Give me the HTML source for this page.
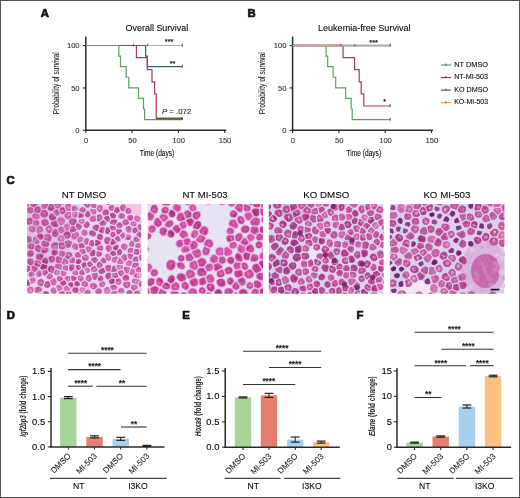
<!DOCTYPE html>
<html><head><meta charset="utf-8"><title>Figure</title>
<style>
html,body{margin:0;padding:0;background:#fff;}
body{width:520px;height:498px;overflow:hidden;}
svg{display:block;}
svg text{font-family:'Liberation Sans', Arial, sans-serif;stroke:#222;stroke-width:0.1px;}
</style></head><body>
<svg width="520" height="498" viewBox="0 0 520 498">
<defs><filter id="soft" x="-5%" y="-5%" width="110%" height="110%"><feGaussianBlur stdDeviation="0.6"/></filter><filter id="big" x="-50%" y="-50%" width="200%" height="200%"><feGaussianBlur stdDeviation="6"/></filter></defs>
<rect x="0" y="0" width="520" height="498" fill="#fff"/>
<text x="40.80" y="16.60" font-size="11.3" text-anchor="start" font-weight="bold" fill="#111" style="stroke:#111;stroke-width:0.7px">A</text>
<text x="247.60" y="16.60" font-size="11.3" text-anchor="start" font-weight="bold" fill="#111" style="stroke:#111;stroke-width:0.7px">B</text>
<text x="6.60" y="184.00" font-size="11.3" text-anchor="start" font-weight="bold" fill="#111" style="stroke:#111;stroke-width:0.7px">C</text>
<text x="6.80" y="318.80" font-size="11.3" text-anchor="start" font-weight="bold" fill="#111" style="stroke:#111;stroke-width:0.7px">D</text>
<text x="182.20" y="319.20" font-size="11.3" text-anchor="start" font-weight="bold" fill="#111" style="stroke:#111;stroke-width:0.7px">E</text>
<text x="356.50" y="319.20" font-size="11.3" text-anchor="start" font-weight="bold" fill="#111" style="stroke:#111;stroke-width:0.7px">F</text>
<line x1="85.80" y1="36.50" x2="85.80" y2="130.90" stroke="#2b2b2b" stroke-width="1.5"/>
<line x1="85.10" y1="130.30" x2="226.20" y2="130.30" stroke="#2b2b2b" stroke-width="1.5"/>
<line x1="82.80" y1="130.30" x2="85.80" y2="130.30" stroke="#2b2b2b" stroke-width="1.1"/>
<text x="79.60" y="132.90" font-size="7.6" text-anchor="end" fill="#333">0</text>
<line x1="82.80" y1="87.95" x2="85.80" y2="87.95" stroke="#2b2b2b" stroke-width="1.1"/>
<text x="79.60" y="90.55" font-size="7.6" text-anchor="end" fill="#333">50</text>
<line x1="82.80" y1="45.60" x2="85.80" y2="45.60" stroke="#2b2b2b" stroke-width="1.1"/>
<text x="79.60" y="48.20" font-size="7.6" text-anchor="end" fill="#333">100</text>
<line x1="85.80" y1="130.30" x2="85.80" y2="132.90" stroke="#2b2b2b" stroke-width="1.1"/>
<text x="86.10" y="143.20" font-size="7.6" text-anchor="middle" fill="#333">0</text>
<line x1="132.10" y1="130.30" x2="132.10" y2="132.90" stroke="#2b2b2b" stroke-width="1.1"/>
<text x="132.40" y="143.20" font-size="7.6" text-anchor="middle" fill="#333">50</text>
<line x1="178.40" y1="130.30" x2="178.40" y2="132.90" stroke="#2b2b2b" stroke-width="1.1"/>
<text x="178.70" y="143.20" font-size="7.6" text-anchor="middle" fill="#333">100</text>
<line x1="224.70" y1="130.30" x2="224.70" y2="132.90" stroke="#2b2b2b" stroke-width="1.1"/>
<text x="225.00" y="143.20" font-size="7.6" text-anchor="middle" fill="#333">150</text>
<text x="157.00" y="156.30" font-size="9.3" text-anchor="middle" textLength="34.6" lengthAdjust="spacingAndGlyphs">Time (days)</text>
<text x="0" y="0" font-size="9.3" text-anchor="middle" textLength="62" lengthAdjust="spacingAndGlyphs" fill="#222" transform="translate(58.50,83.3) rotate(-90)">Probability of survival</text>
<text x="125.60" y="31.10" font-size="9" text-anchor="start" textLength="62.599999999999994" lengthAdjust="spacingAndGlyphs">Overall Survival</text>
<line x1="292.60" y1="36.50" x2="292.60" y2="130.90" stroke="#2b2b2b" stroke-width="1.5"/>
<line x1="291.90" y1="130.30" x2="433.00" y2="130.30" stroke="#2b2b2b" stroke-width="1.5"/>
<line x1="289.60" y1="130.30" x2="292.60" y2="130.30" stroke="#2b2b2b" stroke-width="1.1"/>
<text x="286.40" y="132.90" font-size="7.6" text-anchor="end" fill="#333">0</text>
<line x1="289.60" y1="87.95" x2="292.60" y2="87.95" stroke="#2b2b2b" stroke-width="1.1"/>
<text x="286.40" y="90.55" font-size="7.6" text-anchor="end" fill="#333">50</text>
<line x1="289.60" y1="45.60" x2="292.60" y2="45.60" stroke="#2b2b2b" stroke-width="1.1"/>
<text x="286.40" y="48.20" font-size="7.6" text-anchor="end" fill="#333">100</text>
<line x1="292.60" y1="130.30" x2="292.60" y2="132.90" stroke="#2b2b2b" stroke-width="1.1"/>
<text x="292.90" y="143.20" font-size="7.6" text-anchor="middle" fill="#333">0</text>
<line x1="338.90" y1="130.30" x2="338.90" y2="132.90" stroke="#2b2b2b" stroke-width="1.1"/>
<text x="339.20" y="143.20" font-size="7.6" text-anchor="middle" fill="#333">50</text>
<line x1="385.20" y1="130.30" x2="385.20" y2="132.90" stroke="#2b2b2b" stroke-width="1.1"/>
<text x="385.50" y="143.20" font-size="7.6" text-anchor="middle" fill="#333">100</text>
<line x1="431.50" y1="130.30" x2="431.50" y2="132.90" stroke="#2b2b2b" stroke-width="1.1"/>
<text x="431.80" y="143.20" font-size="7.6" text-anchor="middle" fill="#333">150</text>
<text x="363.80" y="156.30" font-size="9.3" text-anchor="middle" textLength="34.6" lengthAdjust="spacingAndGlyphs">Time (days)</text>
<text x="0" y="0" font-size="9.3" text-anchor="middle" textLength="62" lengthAdjust="spacingAndGlyphs" fill="#222" transform="translate(265.30,83.3) rotate(-90)">Probability of survival</text>
<text x="318.00" y="30.70" font-size="9" text-anchor="start" textLength="92.5" lengthAdjust="spacingAndGlyphs">Leukemia-free Survival</text>
<path d="M86,45.50 H182.3" stroke="#e6a24a" stroke-width="1.2" fill="none" stroke-linejoin="miter"/>
<line x1="147.60" y1="43.90" x2="147.60" y2="46.46" stroke="#6a5020" stroke-width="0.9"/>
<line x1="182.30" y1="43.70" x2="182.30" y2="46.58" stroke="#333" stroke-width="0.9"/>
<path d="M136.4,45.50 H145.6 V56.09 H147.3 V66.67 H182.3" stroke="#3c5f82" stroke-width="1.2" fill="none" stroke-linejoin="miter"/>
<line x1="182.30" y1="64.87" x2="182.30" y2="67.75" stroke="#333" stroke-width="0.9"/>
<path d="M118.8,45.50 H136.4 V57.61 H147.3 V69.72 H152.0 V81.84 H154.6 V93.86 H156.2 V118.09 H182.3" stroke="#b2365a" stroke-width="1.2" fill="none" stroke-linejoin="miter"/>
<line x1="133.50" y1="43.90" x2="133.50" y2="46.46" stroke="#b2365a" stroke-width="0.9"/>
<path d="M86,45.50 H118.8 V56.09 H120.5 V66.67 H126.2 V77.26 H128.8 V87.85 H138.5 V98.44 H143.5 V109.02 H144.6 V119.61 H182.3" stroke="#5c9e62" stroke-width="1.2" fill="none" stroke-linejoin="miter"/>
<line x1="156.20" y1="118.85" x2="182.30" y2="118.85" stroke="#6b5a3a" stroke-width="1.6"/>
<line x1="182.30" y1="117.05" x2="182.30" y2="119.93" stroke="#333" stroke-width="0.9"/>
<text x="169.10" y="44.10" font-size="7.4" text-anchor="middle" font-weight="bold" fill="#1a1a1a">***</text>
<text x="172.60" y="65.69" font-size="7.2" text-anchor="middle" font-weight="bold" fill="#1a1a1a">**</text>
<text x="162.0" y="113.6" font-size="7.6" fill="#222" textLength="29.3" lengthAdjust="spacingAndGlyphs"><tspan font-style="italic">P</tspan> = .072</text>
<path d="M292.6,45.50 H390.2" stroke="#3c5f82" stroke-width="1.3" fill="none" stroke-linejoin="miter"/>
<path d="M343.1,45.50 V57.61 H354.6 V69.72 H359.2 V81.84 H361.2 V93.86 H363.8 V105.98 H390.2" stroke="#b2365a" stroke-width="1.2" fill="none" stroke-linejoin="miter"/>
<path d="M326.1,45.50 V56.09 H327.7 V66.67 H333.1 V77.26 H335.7 V87.85 H345.7 V98.44 H351.2 V109.02 H352.2 V119.61 H390.2" stroke="#5c9e62" stroke-width="1.2" fill="none" stroke-linejoin="miter"/>
<path d="M292.6,45.50 H343.1" stroke="#b2365a" stroke-width="1.3" fill="none" stroke-linejoin="miter"/>
<path d="M292.6,45.70 H390.2" stroke="#e6a24a" stroke-width="1.2" fill="none" stroke-linejoin="miter"/>
<line x1="340.80" y1="43.90" x2="340.80" y2="46.46" stroke="#553" stroke-width="0.9"/>
<line x1="354.80" y1="43.90" x2="354.80" y2="46.46" stroke="#553" stroke-width="0.9"/>
<line x1="390.20" y1="43.70" x2="390.20" y2="46.58" stroke="#333" stroke-width="0.9"/>
<line x1="390.20" y1="104.18" x2="390.20" y2="107.06" stroke="#333" stroke-width="0.9"/>
<line x1="390.20" y1="117.81" x2="390.20" y2="120.69" stroke="#333" stroke-width="0.9"/>
<text x="373.60" y="44.60" font-size="7.4" text-anchor="middle" font-weight="bold" fill="#1a1a1a">***</text>
<text x="384.70" y="104.19" font-size="7.2" text-anchor="middle" font-weight="bold" fill="#1a1a1a">*</text>
<line x1="440.80" y1="65.00" x2="451.10" y2="65.00" stroke="#5c9e62" stroke-width="1.2"/>
<line x1="445.80" y1="63.60" x2="445.80" y2="65.50" stroke="#333" stroke-width="0.9"/>
<text x="454.20" y="66.60" font-size="7.4" text-anchor="start" textLength="33.9" lengthAdjust="spacingAndGlyphs">NT DMSO</text>
<line x1="440.80" y1="77.55" x2="451.10" y2="77.55" stroke="#b2365a" stroke-width="1.2"/>
<line x1="445.80" y1="76.15" x2="445.80" y2="78.05" stroke="#333" stroke-width="0.9"/>
<text x="454.20" y="79.15" font-size="7.4" text-anchor="start" textLength="33.9" lengthAdjust="spacingAndGlyphs">NT-MI-503</text>
<line x1="440.80" y1="90.10" x2="451.10" y2="90.10" stroke="#3c5f82" stroke-width="1.2"/>
<line x1="445.80" y1="88.70" x2="445.80" y2="90.60" stroke="#333" stroke-width="0.9"/>
<text x="454.20" y="91.70" font-size="7.4" text-anchor="start" textLength="33.9" lengthAdjust="spacingAndGlyphs">KO DMSO</text>
<line x1="440.80" y1="102.65" x2="451.10" y2="102.65" stroke="#e6a24a" stroke-width="1.2"/>
<line x1="445.80" y1="101.25" x2="445.80" y2="103.15" stroke="#333" stroke-width="0.9"/>
<text x="454.20" y="104.25" font-size="7.4" text-anchor="start" textLength="33.9" lengthAdjust="spacingAndGlyphs">KO-MI-503</text>
<rect x="60.10" y="397.61" width="16.4" height="49.29" fill="#a8d49a"/>
<rect x="86.30" y="436.84" width="16.4" height="10.06" fill="#e47f6e"/>
<rect x="112.50" y="438.85" width="16.4" height="8.05" fill="#a9cfee"/>
<line x1="68.30" y1="396.60" x2="68.30" y2="398.61" stroke="#222" stroke-width="1.0"/>
<line x1="63.90" y1="396.60" x2="72.70" y2="396.60" stroke="#222" stroke-width="1.2"/>
<line x1="63.90" y1="398.61" x2="72.70" y2="398.61" stroke="#222" stroke-width="1.2"/>
<line x1="94.50" y1="435.83" x2="94.50" y2="437.85" stroke="#222" stroke-width="1.0"/>
<line x1="90.10" y1="435.83" x2="98.90" y2="435.83" stroke="#222" stroke-width="1.2"/>
<line x1="90.10" y1="437.85" x2="98.90" y2="437.85" stroke="#222" stroke-width="1.2"/>
<line x1="120.70" y1="437.34" x2="120.70" y2="440.36" stroke="#222" stroke-width="1.0"/>
<line x1="116.30" y1="437.34" x2="125.10" y2="437.34" stroke="#222" stroke-width="1.2"/>
<line x1="116.30" y1="440.36" x2="125.10" y2="440.36" stroke="#222" stroke-width="1.2"/>
<line x1="146.90" y1="445.39" x2="146.90" y2="446.40" stroke="#222" stroke-width="1.0"/>
<line x1="142.50" y1="445.39" x2="151.30" y2="445.39" stroke="#222" stroke-width="1.2"/>
<line x1="142.50" y1="446.40" x2="151.30" y2="446.40" stroke="#222" stroke-width="1.2"/>
<line x1="51.00" y1="368.00" x2="51.00" y2="447.60" stroke="#2b2b2b" stroke-width="1.5"/>
<line x1="50.30" y1="446.90" x2="164.50" y2="446.90" stroke="#2b2b2b" stroke-width="1.5"/>
<line x1="47.80" y1="446.90" x2="51.00" y2="446.90" stroke="#2b2b2b" stroke-width="1.1"/>
<text x="45.20" y="449.80" font-size="8.2" text-anchor="end" textLength="13.11" lengthAdjust="spacingAndGlyphs">0.0</text>
<line x1="47.80" y1="421.75" x2="51.00" y2="421.75" stroke="#2b2b2b" stroke-width="1.1"/>
<text x="45.20" y="424.65" font-size="8.2" text-anchor="end" textLength="13.11" lengthAdjust="spacingAndGlyphs">0.5</text>
<line x1="47.80" y1="396.60" x2="51.00" y2="396.60" stroke="#2b2b2b" stroke-width="1.1"/>
<text x="45.20" y="399.50" font-size="8.2" text-anchor="end" textLength="13.11" lengthAdjust="spacingAndGlyphs">1.0</text>
<line x1="47.80" y1="371.45" x2="51.00" y2="371.45" stroke="#2b2b2b" stroke-width="1.1"/>
<text x="45.20" y="374.35" font-size="8.2" text-anchor="end" textLength="13.11" lengthAdjust="spacingAndGlyphs">1.5</text>
<line x1="68.30" y1="446.90" x2="68.30" y2="449.60" stroke="#2b2b2b" stroke-width="1.1"/>
<line x1="94.50" y1="446.90" x2="94.50" y2="449.60" stroke="#2b2b2b" stroke-width="1.1"/>
<line x1="120.70" y1="446.90" x2="120.70" y2="449.60" stroke="#2b2b2b" stroke-width="1.1"/>
<line x1="146.90" y1="446.90" x2="146.90" y2="449.60" stroke="#2b2b2b" stroke-width="1.1"/>
<text x="0" y="0" font-size="8.2" text-anchor="end" fill="#222" transform="translate(71.30,456.50) rotate(-45)">DMSO</text>
<text x="0" y="0" font-size="8.2" text-anchor="end" fill="#222" transform="translate(97.50,456.50) rotate(-45)">MI-503</text>
<text x="0" y="0" font-size="8.2" text-anchor="end" fill="#222" transform="translate(123.70,456.50) rotate(-45)">DMSO</text>
<text x="0" y="0" font-size="8.2" text-anchor="end" fill="#222" transform="translate(149.90,456.50) rotate(-45)">MI-503</text>
<line x1="50.00" y1="478.40" x2="107.00" y2="478.40" stroke="#444" stroke-width="1.1"/>
<line x1="110.00" y1="478.40" x2="166.80" y2="478.40" stroke="#444" stroke-width="1.1"/>
<text x="78.80" y="489.20" font-size="8.6" text-anchor="middle">NT</text>
<text x="138.00" y="489.20" font-size="8.6" text-anchor="middle">I3KO</text>
<text x="0" y="0" font-size="8.6" font-weight="bold" text-anchor="middle" textLength="61" lengthAdjust="spacingAndGlyphs" fill="#222" style="stroke-width:0" transform="translate(26.20,406.2) rotate(-90)"><tspan font-style="italic">Igf2bp3</tspan> (fold change)</text>
<line x1="68.10" y1="353.20" x2="146.60" y2="353.20" stroke="#333" stroke-width="1.1"/>
<text x="107.40" y="353.01" font-size="8.2" text-anchor="middle" font-weight="bold" fill="#1a1a1a">****</text>
<line x1="68.10" y1="369.60" x2="120.50" y2="369.60" stroke="#333" stroke-width="1.1"/>
<text x="94.70" y="369.41" font-size="8.2" text-anchor="middle" font-weight="bold" fill="#1a1a1a">****</text>
<line x1="68.10" y1="386.20" x2="92.80" y2="386.20" stroke="#333" stroke-width="1.1"/>
<text x="80.80" y="386.01" font-size="8.2" text-anchor="middle" font-weight="bold" fill="#1a1a1a">****</text>
<line x1="96.30" y1="386.20" x2="146.60" y2="386.20" stroke="#333" stroke-width="1.1"/>
<text x="121.90" y="386.01" font-size="8.2" text-anchor="middle" font-weight="bold" fill="#1a1a1a">**</text>
<line x1="121.00" y1="427.00" x2="146.60" y2="427.00" stroke="#333" stroke-width="1.1"/>
<text x="133.90" y="426.81" font-size="8.2" text-anchor="middle" font-weight="bold" fill="#1a1a1a">**</text>
<rect x="234.80" y="397.42" width="16.4" height="49.78" fill="#a8d49a"/>
<rect x="260.80" y="395.38" width="16.4" height="51.82" fill="#e47f6e"/>
<rect x="287.00" y="439.58" width="16.4" height="7.62" fill="#a9cfee"/>
<rect x="313.00" y="442.12" width="16.4" height="5.08" fill="#fbc17f"/>
<line x1="243.00" y1="396.91" x2="243.00" y2="397.92" stroke="#222" stroke-width="1.0"/>
<line x1="238.60" y1="396.91" x2="247.40" y2="396.91" stroke="#222" stroke-width="1.2"/>
<line x1="238.60" y1="397.92" x2="247.40" y2="397.92" stroke="#222" stroke-width="1.2"/>
<line x1="269.00" y1="393.35" x2="269.00" y2="397.42" stroke="#222" stroke-width="1.0"/>
<line x1="264.60" y1="393.35" x2="273.40" y2="393.35" stroke="#222" stroke-width="1.2"/>
<line x1="264.60" y1="397.42" x2="273.40" y2="397.42" stroke="#222" stroke-width="1.2"/>
<line x1="295.20" y1="437.04" x2="295.20" y2="442.12" stroke="#222" stroke-width="1.0"/>
<line x1="290.80" y1="437.04" x2="299.60" y2="437.04" stroke="#222" stroke-width="1.2"/>
<line x1="290.80" y1="442.12" x2="299.60" y2="442.12" stroke="#222" stroke-width="1.2"/>
<line x1="321.20" y1="441.10" x2="321.20" y2="443.14" stroke="#222" stroke-width="1.0"/>
<line x1="316.80" y1="441.10" x2="325.60" y2="441.10" stroke="#222" stroke-width="1.2"/>
<line x1="316.80" y1="443.14" x2="325.60" y2="443.14" stroke="#222" stroke-width="1.2"/>
<line x1="225.20" y1="368.00" x2="225.20" y2="447.90" stroke="#2b2b2b" stroke-width="1.5"/>
<line x1="224.50" y1="447.20" x2="339.80" y2="447.20" stroke="#2b2b2b" stroke-width="1.5"/>
<line x1="222.00" y1="447.20" x2="225.20" y2="447.20" stroke="#2b2b2b" stroke-width="1.1"/>
<text x="219.40" y="450.10" font-size="8.2" text-anchor="end" textLength="13.11" lengthAdjust="spacingAndGlyphs">0.0</text>
<line x1="222.00" y1="421.80" x2="225.20" y2="421.80" stroke="#2b2b2b" stroke-width="1.1"/>
<text x="219.40" y="424.70" font-size="8.2" text-anchor="end" textLength="13.11" lengthAdjust="spacingAndGlyphs">0.5</text>
<line x1="222.00" y1="396.40" x2="225.20" y2="396.40" stroke="#2b2b2b" stroke-width="1.1"/>
<text x="219.40" y="399.30" font-size="8.2" text-anchor="end" textLength="13.11" lengthAdjust="spacingAndGlyphs">1.0</text>
<line x1="222.00" y1="371.00" x2="225.20" y2="371.00" stroke="#2b2b2b" stroke-width="1.1"/>
<text x="219.40" y="373.90" font-size="8.2" text-anchor="end" textLength="13.11" lengthAdjust="spacingAndGlyphs">1.5</text>
<line x1="243.00" y1="447.20" x2="243.00" y2="449.90" stroke="#2b2b2b" stroke-width="1.1"/>
<line x1="269.00" y1="447.20" x2="269.00" y2="449.90" stroke="#2b2b2b" stroke-width="1.1"/>
<line x1="295.20" y1="447.20" x2="295.20" y2="449.90" stroke="#2b2b2b" stroke-width="1.1"/>
<line x1="321.20" y1="447.20" x2="321.20" y2="449.90" stroke="#2b2b2b" stroke-width="1.1"/>
<text x="0" y="0" font-size="8.2" text-anchor="end" fill="#222" transform="translate(246.00,456.80) rotate(-45)">DMSO</text>
<text x="0" y="0" font-size="8.2" text-anchor="end" fill="#222" transform="translate(272.00,456.80) rotate(-45)">MI-503</text>
<text x="0" y="0" font-size="8.2" text-anchor="end" fill="#222" transform="translate(298.20,456.80) rotate(-45)">DMSO</text>
<text x="0" y="0" font-size="8.2" text-anchor="end" fill="#222" transform="translate(324.20,456.80) rotate(-45)">MI-503</text>
<line x1="224.50" y1="478.40" x2="280.70" y2="478.40" stroke="#444" stroke-width="1.1"/>
<line x1="284.10" y1="478.40" x2="340.30" y2="478.40" stroke="#444" stroke-width="1.1"/>
<text x="253.30" y="489.20" font-size="8.6" text-anchor="middle">NT</text>
<text x="311.80" y="489.20" font-size="8.6" text-anchor="middle">I3KO</text>
<text x="0" y="0" font-size="8.6" font-weight="bold" text-anchor="middle" textLength="60.3" lengthAdjust="spacingAndGlyphs" fill="#222" style="stroke-width:0" transform="translate(200.80,406.2) rotate(-90)"><tspan font-style="italic">Hoxa9</tspan> (fold change)</text>
<line x1="243.00" y1="351.30" x2="321.20" y2="351.30" stroke="#333" stroke-width="1.1"/>
<text x="282.00" y="351.11" font-size="8.2" text-anchor="middle" font-weight="bold" fill="#1a1a1a">****</text>
<line x1="269.00" y1="367.50" x2="321.20" y2="367.50" stroke="#333" stroke-width="1.1"/>
<text x="295.00" y="367.31" font-size="8.2" text-anchor="middle" font-weight="bold" fill="#1a1a1a">****</text>
<line x1="243.00" y1="384.50" x2="295.20" y2="384.50" stroke="#333" stroke-width="1.1"/>
<text x="268.80" y="384.31" font-size="8.2" text-anchor="middle" font-weight="bold" fill="#1a1a1a">****</text>
<rect x="406.40" y="442.62" width="16.4" height="4.58" fill="#a8d49a"/>
<rect x="432.50" y="436.52" width="16.4" height="10.68" fill="#e47f6e"/>
<rect x="458.70" y="406.50" width="16.4" height="40.70" fill="#a9cfee"/>
<rect x="484.90" y="375.98" width="16.4" height="71.22" fill="#fbc17f"/>
<line x1="414.60" y1="442.11" x2="414.60" y2="443.13" stroke="#222" stroke-width="1.0"/>
<line x1="410.20" y1="442.11" x2="419.00" y2="442.11" stroke="#222" stroke-width="1.2"/>
<line x1="410.20" y1="443.13" x2="419.00" y2="443.13" stroke="#222" stroke-width="1.2"/>
<line x1="440.70" y1="435.91" x2="440.70" y2="437.13" stroke="#222" stroke-width="1.0"/>
<line x1="436.30" y1="435.91" x2="445.10" y2="435.91" stroke="#222" stroke-width="1.2"/>
<line x1="436.30" y1="437.13" x2="445.10" y2="437.13" stroke="#222" stroke-width="1.2"/>
<line x1="466.90" y1="404.98" x2="466.90" y2="408.03" stroke="#222" stroke-width="1.0"/>
<line x1="462.50" y1="404.98" x2="471.30" y2="404.98" stroke="#222" stroke-width="1.2"/>
<line x1="462.50" y1="408.03" x2="471.30" y2="408.03" stroke="#222" stroke-width="1.2"/>
<line x1="493.10" y1="375.22" x2="493.10" y2="376.75" stroke="#222" stroke-width="1.0"/>
<line x1="488.70" y1="375.22" x2="497.50" y2="375.22" stroke="#222" stroke-width="1.2"/>
<line x1="488.70" y1="376.75" x2="497.50" y2="376.75" stroke="#222" stroke-width="1.2"/>
<line x1="397.00" y1="368.00" x2="397.00" y2="447.90" stroke="#2b2b2b" stroke-width="1.5"/>
<line x1="396.30" y1="447.20" x2="511.20" y2="447.20" stroke="#2b2b2b" stroke-width="1.5"/>
<line x1="393.80" y1="447.20" x2="397.00" y2="447.20" stroke="#2b2b2b" stroke-width="1.1"/>
<text x="392.10" y="450.10" font-size="8.2" text-anchor="end" textLength="5.24" lengthAdjust="spacingAndGlyphs">0</text>
<line x1="393.80" y1="421.76" x2="397.00" y2="421.76" stroke="#2b2b2b" stroke-width="1.1"/>
<text x="392.10" y="424.66" font-size="8.2" text-anchor="end" textLength="5.24" lengthAdjust="spacingAndGlyphs">5</text>
<line x1="393.80" y1="396.33" x2="397.00" y2="396.33" stroke="#2b2b2b" stroke-width="1.1"/>
<text x="392.10" y="399.23" font-size="8.2" text-anchor="end" textLength="10.49" lengthAdjust="spacingAndGlyphs">10</text>
<line x1="393.80" y1="370.89" x2="397.00" y2="370.89" stroke="#2b2b2b" stroke-width="1.1"/>
<text x="392.10" y="373.79" font-size="8.2" text-anchor="end" textLength="10.49" lengthAdjust="spacingAndGlyphs">15</text>
<line x1="414.60" y1="447.20" x2="414.60" y2="449.90" stroke="#2b2b2b" stroke-width="1.1"/>
<line x1="440.70" y1="447.20" x2="440.70" y2="449.90" stroke="#2b2b2b" stroke-width="1.1"/>
<line x1="466.90" y1="447.20" x2="466.90" y2="449.90" stroke="#2b2b2b" stroke-width="1.1"/>
<line x1="493.10" y1="447.20" x2="493.10" y2="449.90" stroke="#2b2b2b" stroke-width="1.1"/>
<text x="0" y="0" font-size="8.2" text-anchor="end" fill="#222" transform="translate(417.60,456.80) rotate(-45)">DMSO</text>
<text x="0" y="0" font-size="8.2" text-anchor="end" fill="#222" transform="translate(443.70,456.80) rotate(-45)">MI-503</text>
<text x="0" y="0" font-size="8.2" text-anchor="end" fill="#222" transform="translate(469.90,456.80) rotate(-45)">DMSO</text>
<text x="0" y="0" font-size="8.2" text-anchor="end" fill="#222" transform="translate(496.10,456.80) rotate(-45)">MI-503</text>
<line x1="397.40" y1="478.40" x2="453.60" y2="478.40" stroke="#444" stroke-width="1.1"/>
<line x1="455.90" y1="478.40" x2="512.70" y2="478.40" stroke="#444" stroke-width="1.1"/>
<text x="424.80" y="489.20" font-size="8.6" text-anchor="middle">NT</text>
<text x="484.70" y="489.20" font-size="8.6" text-anchor="middle">I3KO</text>
<text x="0" y="0" font-size="8.6" font-weight="bold" text-anchor="middle" textLength="59.7" lengthAdjust="spacingAndGlyphs" fill="#222" style="stroke-width:0" transform="translate(374.80,406.2) rotate(-90)"><tspan font-style="italic">Elane</tspan> (fold change)</text>
<line x1="414.60" y1="332.30" x2="493.60" y2="332.30" stroke="#333" stroke-width="1.1"/>
<text x="454.40" y="332.11" font-size="8.2" text-anchor="middle" font-weight="bold" fill="#1a1a1a">****</text>
<line x1="441.50" y1="349.20" x2="493.60" y2="349.20" stroke="#333" stroke-width="1.1"/>
<text x="468.30" y="349.01" font-size="8.2" text-anchor="middle" font-weight="bold" fill="#1a1a1a">****</text>
<line x1="414.60" y1="365.70" x2="466.20" y2="365.70" stroke="#333" stroke-width="1.1"/>
<text x="440.80" y="365.51" font-size="8.2" text-anchor="middle" font-weight="bold" fill="#1a1a1a">****</text>
<line x1="470.10" y1="365.70" x2="493.60" y2="365.70" stroke="#333" stroke-width="1.1"/>
<text x="482.30" y="365.51" font-size="8.2" text-anchor="middle" font-weight="bold" fill="#1a1a1a">****</text>
<line x1="414.60" y1="397.50" x2="441.40" y2="397.50" stroke="#333" stroke-width="1.1"/>
<text x="428.30" y="397.31" font-size="8.2" text-anchor="middle" font-weight="bold" fill="#1a1a1a">**</text>
<text x="84.00" y="197.90" font-size="8.6" text-anchor="middle" textLength="44.4" lengthAdjust="spacingAndGlyphs">NT DMSO</text>
<text x="205.00" y="197.90" font-size="8.6" text-anchor="middle" textLength="45.2" lengthAdjust="spacingAndGlyphs">NT MI-503</text>
<text x="326.30" y="197.90" font-size="8.6" text-anchor="middle" textLength="45.9" lengthAdjust="spacingAndGlyphs">KO DMSO</text>
<text x="446.90" y="197.90" font-size="8.6" text-anchor="middle" textLength="47.0" lengthAdjust="spacingAndGlyphs">KO MI-503</text>
<clipPath id="clip1"><rect x="27" y="204.0" width="114.30000000000001" height="89.69999999999999"/></clipPath>
<g clip-path="url(#clip1)">
<rect x="27" y="204.0" width="114.30000000000001" height="89.69999999999999" fill="#e9d6ee"/>
<g filter="url(#soft)">
<ellipse cx="141" cy="204" rx="18" ry="11" fill="#f3c6e2"/>
<ellipse cx="45" cy="232" rx="30" ry="38" fill="#dcc0e4" filter="url(#big)"/>
<path d="M79.6,257.6 80.9,256.5 81.2,255.2 78.8,252.0 77.4,251.9 76.2,252.4 74.8,254.5 75.4,256.8 76.7,257.8Z" fill="#cf5aa2"/>
<circle cx="77.1" cy="254.8" r="1.0" fill="#da70b3" opacity="0.7"/>
<circle cx="76.9" cy="255.2" r="0.9" fill="#db72b4" opacity="0.7"/>
<circle cx="76.9" cy="256.0" r="1.0" fill="#bb4b96" opacity="0.7"/>
<path d="M135.6,247.6 138.8,248.4 140.2,247.6 140.9,245.4 139.8,243.1 139.0,242.7 135.7,243.7 135.1,246.7Z" fill="#cc6dad"/>
<circle cx="138.8" cy="245.7" r="1.0" fill="#b85ea2" opacity="0.7"/>
<circle cx="136.9" cy="246.1" r="0.9" fill="#ac559a" opacity="0.7"/>
<circle cx="138.6" cy="245.3" r="1.0" fill="#d57fbb" opacity="0.7"/>
<path d="M81.6,257.8 83.0,260.6 86.1,261.2 88.1,260.0 88.9,257.5 88.1,255.4 86.1,254.3 82.6,255.7Z" fill="#d762ab"/>
<ellipse cx="84.9" cy="257.2" rx="1.3" ry="1.2" fill="#eeadd9" opacity="0.85"/>
<circle cx="84.9" cy="257.6" r="0.9" fill="#b34796" opacity="0.7"/>
<circle cx="85.1" cy="256.9" r="1.4" fill="#e883c4" opacity="0.7"/>
<circle cx="84.0" cy="258.9" r="1.2" fill="#b54897" opacity="0.7"/>
<path d="M41.0,252.0 41.2,252.6 43.1,253.4 46.4,253.0 48.4,250.8 48.4,248.7 47.7,247.9 42.4,247.2Z" fill="#c954a5"/>
<ellipse cx="44.2" cy="250.0" rx="1.3" ry="1.7" fill="#e1a1ce" opacity="0.85"/>
<circle cx="44.0" cy="251.2" r="1.2" fill="#a83b92" opacity="0.7"/>
<circle cx="44.8" cy="251.1" r="1.0" fill="#a63990" opacity="0.7"/>
<circle cx="44.2" cy="251.2" r="1.4" fill="#a63a90" opacity="0.7"/>
<path d="M99.2,275.8 97.6,279.0 98.3,280.7 99.5,281.4 103.2,280.2 103.6,278.4 102.8,276.6 101.3,275.6Z" fill="#c160a3"/>
<circle cx="99.9" cy="278.8" r="1.1" fill="#9d458e" opacity="0.7"/>
<circle cx="99.3" cy="277.5" r="1.1" fill="#d180bb" opacity="0.7"/>
<circle cx="99.2" cy="278.6" r="1.3" fill="#ad5198" opacity="0.7"/>
<path d="M35.2,231.9 35.9,227.6 35.7,227.1 32.1,225.4 29.4,226.8 28.6,228.9 29.8,231.3 32.1,232.4Z" fill="#cd68ad"/>
<ellipse cx="32.5" cy="228.3" rx="1.3" ry="1.5" fill="#e2a2cc" opacity="0.85"/>
<circle cx="32.3" cy="228.8" r="0.9" fill="#d77cbc" opacity="0.7"/>
<circle cx="32.4" cy="228.7" r="1.4" fill="#de8ac6" opacity="0.7"/>
<circle cx="33.3" cy="228.3" r="1.4" fill="#bb5aa2" opacity="0.7"/>
<path d="M31.4,283.4 32.1,283.7 33.5,283.3 35.4,281.5 35.8,279.5 34.7,277.6 30.4,278.1 29.5,279.2Z" fill="#d76ab0"/>
<circle cx="32.2" cy="280.9" r="1.2" fill="#e88bc9" opacity="0.7"/>
<circle cx="33.4" cy="281.7" r="0.9" fill="#e88cc9" opacity="0.7"/>
<circle cx="32.2" cy="280.1" r="1.1" fill="#bc55a0" opacity="0.7"/>
<path d="M110.9,204.0 111.5,203.1 111.4,201.6 109.0,199.3 107.1,199.6 105.8,203.1 106.3,204.2 108.4,205.3Z" fill="#cd5aa8"/>
<ellipse cx="108.9" cy="202.8" rx="1.1" ry="1.3" fill="#edacd5" opacity="0.85"/>
<circle cx="107.5" cy="202.5" r="0.9" fill="#b74a9b" opacity="0.7"/>
<circle cx="108.1" cy="203.0" r="1.0" fill="#b94b9c" opacity="0.7"/>
<circle cx="109.9" cy="202.9" r="0.8" fill="#ab4094" opacity="0.7"/>
<path d="M142.0,294.4 141.5,295.7 144.3,299.7 146.7,299.5 148.7,297.5 148.9,295.2 147.4,293.2Z" fill="#d362ab"/>
<circle cx="143.8" cy="296.0" r="0.9" fill="#e280c2" opacity="0.7"/>
<circle cx="144.7" cy="295.6" r="1.4" fill="#bc519e" opacity="0.7"/>
<circle cx="144.8" cy="294.8" r="1.3" fill="#bb509d" opacity="0.7"/>
<path d="M103.3,263.6 105.4,263.1 106.6,261.2 103.9,257.5 101.7,258.2 100.6,260.3 100.7,261.3Z" fill="#cd57a6"/>
<circle cx="104.5" cy="260.4" r="1.1" fill="#d970b9" opacity="0.7"/>
<circle cx="104.6" cy="260.0" r="0.8" fill="#bc4a9c" opacity="0.7"/>
<circle cx="104.4" cy="260.0" r="0.8" fill="#b54598" opacity="0.7"/>
<path d="M40.3,203.4 45.0,200.0 44.6,198.1 43.7,196.8 40.6,195.5 39.1,195.8 37.8,196.6 36.7,198.7 36.9,200.3 38.2,202.3Z" fill="#cf5ca8"/>
<circle cx="41.1" cy="199.1" r="1.3" fill="#bd4e9d" opacity="0.7"/>
<circle cx="39.9" cy="199.5" r="1.3" fill="#ba4c9c" opacity="0.7"/>
<circle cx="40.9" cy="199.0" r="1.2" fill="#ba4c9c" opacity="0.7"/>
<path d="M84.2,205.5 86.9,207.8 89.2,207.6 90.6,203.1 87.1,201.2 84.1,203.0Z" fill="#c4579f"/>
<ellipse cx="87.5" cy="204.0" rx="1.5" ry="1.4" fill="#e2a1cb" opacity="0.85"/>
<circle cx="86.5" cy="204.6" r="0.9" fill="#d272b4" opacity="0.7"/>
<circle cx="89.1" cy="204.5" r="1.4" fill="#a43f8d" opacity="0.7"/>
<circle cx="89.1" cy="204.3" r="1.3" fill="#d375b6" opacity="0.7"/>
<path d="M48.4,224.6 48.8,222.3 47.2,219.8 44.3,218.9 41.9,220.2 41.3,222.9 42.9,225.4 45.5,226.3Z" fill="#be519b"/>
<circle cx="46.2" cy="222.7" r="1.3" fill="#cc6caf" opacity="0.7"/>
<circle cx="46.4" cy="223.2" r="1.1" fill="#c968ac" opacity="0.7"/>
<circle cx="44.8" cy="221.9" r="1.3" fill="#c763a9" opacity="0.7"/>
<path d="M24.5,241.4 23.0,241.8 22.1,242.7 21.5,245.6 22.8,248.2 25.3,249.1 27.2,247.9 27.7,244.0Z" fill="#b24490"/>
<ellipse cx="24.6" cy="245.1" rx="1.2" ry="1.7" fill="#e1a1cc" opacity="0.85"/>
<circle cx="23.9" cy="244.4" r="1.0" fill="#9f3685" opacity="0.7"/>
<circle cx="25.6" cy="244.3" r="1.5" fill="#c263a7" opacity="0.7"/>
<circle cx="24.0" cy="244.7" r="1.2" fill="#c263a7" opacity="0.7"/>
<path d="M74.5,285.7 78.2,286.6 79.0,286.2 80.0,284.6 79.3,282.2 76.9,280.7 74.3,282.2Z" fill="#b5589c"/>
<circle cx="77.9" cy="284.1" r="0.8" fill="#a0488f" opacity="0.7"/>
<circle cx="77.2" cy="284.0" r="1.1" fill="#98428b" opacity="0.7"/>
<circle cx="75.6" cy="283.3" r="0.8" fill="#99438c" opacity="0.7"/>
<path d="M81.3,264.5 82.5,267.9 83.4,268.4 86.6,266.2 86.0,262.7 85.6,262.2 82.9,262.2Z" fill="#bd5e9f"/>
<circle cx="84.5" cy="264.2" r="1.3" fill="#9e478d" opacity="0.7"/>
<circle cx="82.9" cy="266.1" r="0.9" fill="#a2498f" opacity="0.7"/>
<circle cx="84.5" cy="264.2" r="1.4" fill="#a54c91" opacity="0.7"/>
<path d="M77.5,229.7 78.6,230.0 80.2,229.4 81.2,228.2 81.8,226.2 81.5,225.3 78.0,223.1 77.3,223.2 76.4,224.3 75.8,226.4Z" fill="#c567a6"/>
<circle cx="78.9" cy="226.6" r="0.8" fill="#d688bf" opacity="0.7"/>
<circle cx="77.6" cy="225.4" r="1.3" fill="#a65094" opacity="0.7"/>
<circle cx="79.9" cy="227.0" r="1.4" fill="#b1589b" opacity="0.7"/>
<path d="M123.7,268.9 125.5,273.1 127.8,273.6 128.4,273.3 130.1,267.9 125.2,266.6 124.2,267.5Z" fill="#ce5aa7"/>
<ellipse cx="127.5" cy="269.4" rx="1.2" ry="1.2" fill="#ecacd9" opacity="0.85"/>
<circle cx="126.2" cy="271.2" r="1.2" fill="#da72b9" opacity="0.7"/>
<circle cx="127.3" cy="268.7" r="0.9" fill="#df7dc1" opacity="0.7"/>
<circle cx="126.7" cy="269.3" r="1.0" fill="#bc4d9d" opacity="0.7"/>
<path d="M59.4,224.9 62.4,225.1 64.9,222.4 64.8,219.8 63.9,218.4 62.5,217.5 61.0,217.1 59.4,217.4 57.2,219.2Z" fill="#cf6aac"/>
<ellipse cx="60.4" cy="221.8" rx="1.2" ry="1.4" fill="#e8a7d0" opacity="0.85"/>
<circle cx="60.9" cy="221.6" r="1.4" fill="#bb5ba0" opacity="0.7"/>
<circle cx="61.6" cy="221.9" r="1.0" fill="#de89c3" opacity="0.7"/>
<circle cx="62.3" cy="222.8" r="1.2" fill="#d97dba" opacity="0.7"/>
<path d="M55.5,207.9 58.8,208.4 61.6,205.6 57.8,201.2 54.0,203.8Z" fill="#bf5ea5"/>
<ellipse cx="57.7" cy="205.2" rx="1.2" ry="1.6" fill="#e09fca" opacity="0.85"/>
<circle cx="57.8" cy="204.0" r="1.2" fill="#a14793" opacity="0.7"/>
<circle cx="56.4" cy="205.7" r="1.2" fill="#cc78b9" opacity="0.7"/>
<circle cx="56.0" cy="205.6" r="0.9" fill="#cc78b8" opacity="0.7"/>
<path d="M117.2,241.8 119.3,241.6 121.0,239.9 118.6,235.9 117.4,235.5 114.5,238.3Z" fill="#cf5ea6"/>
<circle cx="116.7" cy="238.8" r="0.9" fill="#b74c98" opacity="0.7"/>
<circle cx="118.6" cy="238.7" r="1.1" fill="#b14794" opacity="0.7"/>
<circle cx="117.2" cy="238.6" r="1.4" fill="#be519c" opacity="0.7"/>
<path d="M125.0,238.7 125.3,239.4 126.6,240.1 129.3,240.1 131.2,238.5 131.3,236.2 129.4,234.5 126.7,234.5Z" fill="#d366af"/>
<circle cx="128.1" cy="238.3" r="1.1" fill="#b24d9c" opacity="0.7"/>
<circle cx="127.4" cy="235.9" r="1.3" fill="#dd79bd" opacity="0.7"/>
<circle cx="128.7" cy="238.4" r="1.2" fill="#b04c9b" opacity="0.7"/>
<path d="M138.7,284.3 139.2,285.8 140.9,287.2 144.9,286.2 145.4,285.4 143.0,281.1 142.0,280.7 140.2,281.1Z" fill="#c64c9c"/>
<circle cx="142.9" cy="283.9" r="1.0" fill="#d367b0" opacity="0.7"/>
<circle cx="141.7" cy="283.1" r="1.2" fill="#d468b1" opacity="0.7"/>
<circle cx="142.1" cy="283.9" r="0.8" fill="#d161ac" opacity="0.7"/>
<path d="M20.4,215.5 18.2,216.3 17.0,218.4 17.3,220.6 19.2,222.7 24.5,221.1 25.1,219.3 24.9,218.0 23.8,216.6Z" fill="#c0529a"/>
<ellipse cx="20.6" cy="219.5" rx="1.6" ry="1.4" fill="#e6a5d1" opacity="0.85"/>
<circle cx="21.6" cy="220.7" r="0.9" fill="#cd6cad" opacity="0.7"/>
<circle cx="20.8" cy="218.5" r="0.9" fill="#9d3886" opacity="0.7"/>
<circle cx="21.9" cy="219.4" r="1.5" fill="#a9418d" opacity="0.7"/>
<path d="M141.3,239.5 142.4,240.8 147.8,240.6 148.6,239.5 148.6,238.1 148.0,236.7 146.7,235.5 143.7,235.4 141.3,238.6Z" fill="#c95ba2"/>
<circle cx="143.8" cy="238.6" r="1.1" fill="#d574b5" opacity="0.7"/>
<circle cx="145.4" cy="239.7" r="1.2" fill="#db7ebc" opacity="0.7"/>
<circle cx="144.1" cy="239.5" r="1.1" fill="#d778b8" opacity="0.7"/>
<path d="M27.6,264.0 30.8,265.6 32.8,264.7 33.7,261.3 33.0,259.6 30.7,258.2 28.1,259.0 27.2,260.2Z" fill="#b95a9f"/>
<circle cx="30.8" cy="261.5" r="1.3" fill="#a74d95" opacity="0.7"/>
<circle cx="31.5" cy="260.6" r="1.3" fill="#c675b3" opacity="0.7"/>
<circle cx="29.6" cy="261.8" r="0.9" fill="#a04790" opacity="0.7"/>
<path d="M117.0,227.4 120.6,228.1 121.8,227.3 122.7,225.3 121.4,222.8 119.4,222.3 117.7,223.0 116.3,225.3Z" fill="#c859a4"/>
<ellipse cx="119.1" cy="226.0" rx="1.1" ry="1.2" fill="#ecaad3" opacity="0.85"/>
<circle cx="119.5" cy="226.8" r="1.1" fill="#ae4595" opacity="0.7"/>
<circle cx="119.6" cy="224.5" r="1.0" fill="#af4696" opacity="0.7"/>
<circle cx="118.9" cy="224.7" r="0.9" fill="#b14897" opacity="0.7"/>
<path d="M145.9,276.7 146.1,274.8 142.8,271.9 142.1,271.9 140.5,273.2 140.6,277.5 141.0,278.0 143.2,278.6Z" fill="#d26cb3"/>
<ellipse cx="142.7" cy="275.5" rx="1.1" ry="1.3" fill="#e7a8d3" opacity="0.85"/>
<circle cx="142.4" cy="273.7" r="1.3" fill="#db7ec1" opacity="0.7"/>
<circle cx="142.4" cy="274.6" r="1.0" fill="#bb5ba6" opacity="0.7"/>
<circle cx="141.7" cy="274.8" r="1.3" fill="#b758a3" opacity="0.7"/>
<path d="M32.7,224.0 33.0,224.7 36.7,226.4 39.3,224.8 39.5,223.0 38.2,220.4 34.2,220.2 33.7,220.6Z" fill="#ca5ca8"/>
<circle cx="37.2" cy="222.6" r="1.1" fill="#b84f9e" opacity="0.7"/>
<circle cx="35.6" cy="224.3" r="1.5" fill="#d777bc" opacity="0.7"/>
<circle cx="37.3" cy="222.2" r="1.1" fill="#b24a9a" opacity="0.7"/>
<path d="M33.5,207.4 37.8,204.8 37.8,203.4 36.2,200.9 34.7,200.2 30.3,203.0 30.6,205.8Z" fill="#c5599d"/>
<circle cx="33.1" cy="204.1" r="1.1" fill="#d170ae" opacity="0.7"/>
<circle cx="34.5" cy="205.5" r="1.3" fill="#b24b92" opacity="0.7"/>
<circle cx="33.1" cy="205.6" r="1.1" fill="#af4990" opacity="0.7"/>
<path d="M124.5,217.9 125.2,215.6 123.6,213.5 121.0,213.0 119.7,213.5 118.4,214.8 118.2,216.7 119.7,218.6 122.3,219.1Z" fill="#cc64a4"/>
<circle cx="120.6" cy="215.8" r="1.1" fill="#da80b9" opacity="0.7"/>
<circle cx="121.1" cy="216.5" r="1.1" fill="#bb579a" opacity="0.7"/>
<circle cx="121.1" cy="216.3" r="1.2" fill="#b65497" opacity="0.7"/>
<path d="M88.8,244.6 89.1,245.1 92.1,246.7 93.3,246.3 94.1,245.3 93.6,240.4 91.9,240.0 90.2,240.6Z" fill="#ca4f9a"/>
<circle cx="92.7" cy="244.3" r="1.4" fill="#b94290" opacity="0.7"/>
<circle cx="90.3" cy="242.6" r="1.2" fill="#d565ab" opacity="0.7"/>
<circle cx="90.7" cy="243.7" r="0.9" fill="#da6eb1" opacity="0.7"/>
<path d="M42.6,270.7 42.2,271.3 43.1,275.0 44.2,275.8 45.4,275.8 48.0,272.8 47.0,270.1 46.5,269.8Z" fill="#c25ba1"/>
<circle cx="44.7" cy="271.7" r="0.9" fill="#ce73b3" opacity="0.7"/>
<circle cx="44.6" cy="273.1" r="1.0" fill="#d17ab8" opacity="0.7"/>
<circle cx="46.3" cy="272.8" r="1.0" fill="#a3448f" opacity="0.7"/>
<path d="M34.7,261.0 34.3,264.7 38.6,267.1 39.3,266.7 41.2,263.0 40.5,261.5 36.2,259.9Z" fill="#c15198"/>
<ellipse cx="38.1" cy="263.6" rx="1.4" ry="1.6" fill="#eba9d4" opacity="0.85"/>
<circle cx="36.1" cy="263.5" r="1.3" fill="#a03885" opacity="0.7"/>
<circle cx="36.3" cy="262.5" r="1.4" fill="#d273b2" opacity="0.7"/>
<circle cx="36.6" cy="264.4" r="1.5" fill="#a33a86" opacity="0.7"/>
<path d="M32.5,241.7 35.8,244.5 39.0,243.4 39.8,241.6 35.2,236.6 33.1,237.7Z" fill="#cd63a8"/>
<ellipse cx="36.3" cy="240.7" rx="1.2" ry="1.6" fill="#eaaad3" opacity="0.85"/>
<circle cx="34.3" cy="241.5" r="1.3" fill="#dd83c0" opacity="0.7"/>
<circle cx="37.1" cy="240.2" r="0.9" fill="#ad4b96" opacity="0.7"/>
<circle cx="36.4" cy="242.0" r="1.0" fill="#b14e98" opacity="0.7"/>
<path d="M56.0,286.3 58.2,291.2 58.8,291.3 62.4,289.4 62.4,287.1 59.3,284.6 57.3,284.9Z" fill="#d869b2"/>
<circle cx="58.9" cy="287.7" r="1.0" fill="#e27ec2" opacity="0.7"/>
<circle cx="59.1" cy="287.3" r="1.3" fill="#bf56a3" opacity="0.7"/>
<circle cx="59.2" cy="287.7" r="1.3" fill="#e17cc0" opacity="0.7"/>
<path d="M49.5,241.7 50.6,241.1 51.4,239.6 51.6,237.9 51.2,236.2 49.6,234.3 45.9,234.1 44.9,234.9 44.1,239.4Z" fill="#c555a0"/>
<ellipse cx="47.9" cy="237.9" rx="1.5" ry="1.2" fill="#e2a1cd" opacity="0.85"/>
<circle cx="49.1" cy="238.3" r="1.2" fill="#ad4392" opacity="0.7"/>
<circle cx="46.3" cy="236.9" r="1.3" fill="#d370b5" opacity="0.7"/>
<circle cx="46.3" cy="237.9" r="1.5" fill="#d06ab0" opacity="0.7"/>
<path d="M128.9,266.3 131.2,265.2 132.1,262.2 130.9,260.6 128.7,260.2 126.2,261.9 125.6,263.9 126.5,265.6Z" fill="#d96ab0"/>
<circle cx="128.5" cy="263.2" r="1.2" fill="#e786c5" opacity="0.7"/>
<circle cx="129.3" cy="262.3" r="1.1" fill="#b6509c" opacity="0.7"/>
<circle cx="127.8" cy="263.3" r="1.0" fill="#e581c1" opacity="0.7"/>
<path d="M35.7,296.0 33.1,295.0 31.8,295.3 30.8,296.1 30.0,298.7 30.9,300.6 32.0,301.6 34.8,302.2 37.0,300.7 37.2,299.7Z" fill="#c75aa3"/>
<circle cx="34.9" cy="299.2" r="1.4" fill="#d271b4" opacity="0.7"/>
<circle cx="34.2" cy="298.1" r="0.8" fill="#d97ebe" opacity="0.7"/>
<circle cx="34.4" cy="298.2" r="1.2" fill="#d473b6" opacity="0.7"/>
<path d="M117.1,234.2 118.8,234.4 122.1,231.2 121.7,229.5 116.9,229.0 115.8,231.3Z" fill="#c34e9a"/>
<circle cx="118.3" cy="232.2" r="0.8" fill="#a33688" opacity="0.7"/>
<circle cx="118.9" cy="230.3" r="1.1" fill="#ce65ab" opacity="0.7"/>
<circle cx="117.8" cy="231.2" r="1.1" fill="#cc60a8" opacity="0.7"/>
<path d="M49.3,261.7 51.4,262.7 53.9,261.8 54.9,260.2 55.1,258.3 54.3,256.8 51.7,255.6 49.5,256.5 48.5,258.3Z" fill="#bf4f9c"/>
<circle cx="52.3" cy="258.8" r="1.3" fill="#cf70b5" opacity="0.7"/>
<circle cx="50.5" cy="258.7" r="1.3" fill="#a63d8e" opacity="0.7"/>
<circle cx="52.2" cy="259.8" r="0.9" fill="#cf6fb4" opacity="0.7"/>
<path d="M65.9,247.3 67.8,248.0 70.4,247.2 72.0,242.8 71.1,241.3 68.2,240.2 65.2,241.2 64.7,242.2Z" fill="#ba5a9c"/>
<ellipse cx="67.8" cy="243.7" rx="1.4" ry="1.3" fill="#df9ec7" opacity="0.85"/>
<circle cx="68.2" cy="244.6" r="1.2" fill="#963f87" opacity="0.7"/>
<circle cx="69.4" cy="243.7" r="1.2" fill="#c46fab" opacity="0.7"/>
<circle cx="68.7" cy="244.0" r="1.0" fill="#a94d92" opacity="0.7"/>
<path d="M97.2,287.1 97.3,285.9 96.8,284.7 94.4,283.1 91.5,283.3 89.9,285.1 90.4,287.6 92.7,289.2 94.8,289.2Z" fill="#cb54a3"/>
<ellipse cx="93.2" cy="286.7" rx="1.4" ry="1.3" fill="#e19fca" opacity="0.85"/>
<circle cx="93.6" cy="287.1" r="1.1" fill="#d567b1" opacity="0.7"/>
<circle cx="94.3" cy="286.3" r="0.8" fill="#aa3b90" opacity="0.7"/>
<circle cx="93.3" cy="284.9" r="1.3" fill="#d86eb7" opacity="0.7"/>
<path d="M40.2,213.6 40.8,216.0 43.4,217.8 46.4,217.2 47.5,216.1 48.1,214.5 47.7,212.1 45.7,210.0 42.5,209.7Z" fill="#c2509e"/>
<circle cx="44.2" cy="213.5" r="1.2" fill="#ce69b0" opacity="0.7"/>
<circle cx="45.1" cy="214.0" r="1.1" fill="#cb63ac" opacity="0.7"/>
<circle cx="43.7" cy="212.5" r="1.3" fill="#cc64ad" opacity="0.7"/>
<path d="M137.1,284.3 137.6,284.0 139.4,280.3 139.3,279.7 133.4,278.4 131.9,280.4 132.4,282.9Z" fill="#c765af"/>
<ellipse cx="135.8" cy="281.7" rx="1.4" ry="1.2" fill="#eeabd6" opacity="0.85"/>
<circle cx="136.6" cy="280.1" r="0.9" fill="#d988c9" opacity="0.7"/>
<circle cx="135.6" cy="280.7" r="1.3" fill="#d47fc3" opacity="0.7"/>
<circle cx="136.5" cy="280.7" r="1.2" fill="#d179be" opacity="0.7"/>
<path d="M55.7,219.2 56.1,218.6 56.0,216.9 52.5,213.7 51.1,213.6 49.5,214.7 48.9,216.6 49.1,218.1 51.0,220.5 51.9,220.7Z" fill="#b64792"/>
<circle cx="51.1" cy="218.2" r="1.2" fill="#c25ea3" opacity="0.7"/>
<circle cx="52.1" cy="216.2" r="1.0" fill="#c565a9" opacity="0.7"/>
<circle cx="52.2" cy="218.7" r="1.0" fill="#a13786" opacity="0.7"/>
<path d="M110.9,293.4 111.2,295.1 113.6,297.1 116.3,296.6 117.8,294.3 116.7,291.1 116.2,290.8 112.0,291.3Z" fill="#d669b0"/>
<circle cx="113.9" cy="292.5" r="0.9" fill="#bb55a0" opacity="0.7"/>
<circle cx="115.2" cy="293.0" r="0.9" fill="#b6519d" opacity="0.7"/>
<circle cx="115.1" cy="293.5" r="1.0" fill="#df7bbd" opacity="0.7"/>
<path d="M44.0,297.5 44.7,297.8 49.3,295.3 49.3,293.4 47.9,291.7 45.1,291.1 42.9,292.3Z" fill="#bb4c99"/>
<circle cx="46.2" cy="293.3" r="1.0" fill="#a53c8c" opacity="0.7"/>
<circle cx="46.3" cy="295.3" r="0.8" fill="#a1388a" opacity="0.7"/>
<circle cx="45.0" cy="294.5" r="0.8" fill="#9b3486" opacity="0.7"/>
<path d="M72.4,205.7 71.9,210.9 72.5,211.2 77.3,210.4 77.8,208.2 76.9,206.5 74.9,205.4Z" fill="#c767ac"/>
<circle cx="75.6" cy="209.2" r="1.3" fill="#d686c3" opacity="0.7"/>
<circle cx="75.5" cy="207.2" r="1.0" fill="#d37fbe" opacity="0.7"/>
<circle cx="73.3" cy="208.0" r="1.2" fill="#ae549d" opacity="0.7"/>
<path d="M22.7,294.8 22.5,295.7 25.8,299.5 28.2,298.6 29.3,296.8 29.2,294.6 27.1,292.9Z" fill="#ce67aa"/>
<circle cx="27.2" cy="295.6" r="1.1" fill="#d77ab8" opacity="0.7"/>
<circle cx="24.8" cy="295.7" r="1.2" fill="#ab4d95" opacity="0.7"/>
<circle cx="26.6" cy="296.0" r="0.8" fill="#d678b7" opacity="0.7"/>
<path d="M49.1,272.0 52.3,273.0 52.9,272.7 54.6,268.8 54.0,266.7 51.3,265.7 48.8,266.3 47.7,269.2Z" fill="#b4458e"/>
<ellipse cx="51.3" cy="270.0" rx="1.4" ry="1.6" fill="#e9aad4" opacity="0.85"/>
<circle cx="49.9" cy="269.4" r="1.1" fill="#9b327f" opacity="0.7"/>
<circle cx="51.7" cy="269.5" r="1.5" fill="#c15fa1" opacity="0.7"/>
<circle cx="51.6" cy="269.3" r="1.5" fill="#c261a3" opacity="0.7"/>
<path d="M50.4,280.5 50.2,281.5 52.1,285.3 54.2,285.6 56.2,284.2 56.7,281.4 54.8,278.3 53.8,278.1Z" fill="#d05da5"/>
<circle cx="54.6" cy="282.5" r="1.3" fill="#e17fbf" opacity="0.7"/>
<circle cx="54.0" cy="281.6" r="1.0" fill="#b74a96" opacity="0.7"/>
<circle cx="52.3" cy="281.4" r="1.4" fill="#e17fbe" opacity="0.7"/>
<path d="M96.2,231.2 97.9,230.8 99.4,226.4 98.6,225.0 96.5,224.4 93.6,225.3 92.4,227.7 92.7,228.8Z" fill="#c5559c"/>
<circle cx="97.0" cy="226.6" r="0.8" fill="#d270b0" opacity="0.7"/>
<circle cx="96.6" cy="226.6" r="1.2" fill="#a13a87" opacity="0.7"/>
<circle cx="95.6" cy="227.2" r="0.8" fill="#d371b1" opacity="0.7"/>
<path d="M27.5,224.2 29.7,224.8 31.8,223.8 32.9,220.1 31.4,217.9 29.0,217.8 26.6,219.5 26.0,221.8Z" fill="#bc4996"/>
<ellipse cx="29.4" cy="221.7" rx="1.7" ry="1.2" fill="#df9fca" opacity="0.85"/>
<circle cx="30.8" cy="219.9" r="1.0" fill="#a03486" opacity="0.7"/>
<circle cx="30.3" cy="220.5" r="1.4" fill="#c75fa6" opacity="0.7"/>
<circle cx="28.5" cy="222.1" r="1.1" fill="#aa3b8b" opacity="0.7"/>
<path d="M134.0,219.5 137.0,221.9 137.8,221.9 140.0,220.3 140.6,219.1 140.5,217.7 138.8,215.8 136.0,215.6 134.4,216.7Z" fill="#d666ae"/>
<circle cx="136.4" cy="218.7" r="1.0" fill="#e27dbf" opacity="0.7"/>
<circle cx="137.3" cy="218.5" r="1.4" fill="#e380c1" opacity="0.7"/>
<circle cx="136.0" cy="220.1" r="0.8" fill="#c156a2" opacity="0.7"/>
<path d="M20.3,223.4 19.7,224.5 19.6,225.9 21.1,228.2 23.7,228.8 26.0,227.4 26.6,224.8 25.1,222.5 24.1,222.2Z" fill="#c04e9e"/>
<circle cx="24.3" cy="225.0" r="1.4" fill="#a83c90" opacity="0.7"/>
<circle cx="22.2" cy="225.9" r="1.4" fill="#a0368b" opacity="0.7"/>
<circle cx="24.3" cy="226.0" r="0.9" fill="#d170b8" opacity="0.7"/>
<path d="M90.8,208.8 90.1,209.4 89.8,210.3 92.0,214.2 95.3,214.3 96.1,213.9 96.8,212.1 95.8,209.6Z" fill="#d96bb1"/>
<circle cx="93.9" cy="210.9" r="1.1" fill="#e27ebf" opacity="0.7"/>
<circle cx="94.6" cy="212.5" r="1.1" fill="#bd56a0" opacity="0.7"/>
<circle cx="94.4" cy="210.4" r="1.0" fill="#c65da6" opacity="0.7"/>
<path d="M63.9,287.2 63.6,289.8 65.4,291.4 69.2,290.5 69.8,289.8 69.9,288.6 66.8,285.6Z" fill="#d45fa8"/>
<circle cx="67.0" cy="289.8" r="1.3" fill="#df76b9" opacity="0.7"/>
<circle cx="66.0" cy="289.2" r="1.4" fill="#e581c1" opacity="0.7"/>
<circle cx="67.1" cy="288.5" r="1.2" fill="#dd71b5" opacity="0.7"/>
<path d="M142.1,267.1 143.8,267.7 147.8,266.5 148.6,265.0 148.2,263.3 145.9,261.8 144.4,261.8 142.5,262.5 141.0,264.7 141.2,265.8Z" fill="#c84e9f"/>
<ellipse cx="144.7" cy="265.2" rx="1.1" ry="1.5" fill="#e19fcb" opacity="0.85"/>
<circle cx="146.2" cy="265.6" r="0.9" fill="#d76cb5" opacity="0.7"/>
<circle cx="145.1" cy="265.3" r="1.2" fill="#b54094" opacity="0.7"/>
<circle cx="145.0" cy="264.6" r="1.0" fill="#d364b0" opacity="0.7"/>
<path d="M108.0,261.0 110.2,260.8 111.3,257.4 108.7,253.8 107.9,253.6 105.9,254.4 104.8,255.9Z" fill="#d166a8"/>
<ellipse cx="107.9" cy="257.4" rx="1.3" ry="1.4" fill="#e7a5cf" opacity="0.85"/>
<circle cx="106.9" cy="258.8" r="1.3" fill="#ae4b93" opacity="0.7"/>
<circle cx="108.3" cy="256.2" r="1.3" fill="#e083be" opacity="0.7"/>
<circle cx="108.0" cy="256.5" r="0.9" fill="#bf599e" opacity="0.7"/>
<path d="M26.0,291.9 26.1,288.1 24.3,286.9 21.9,287.3 19.9,289.6 19.8,292.3 21.4,294.0Z" fill="#cf64ac"/>
<circle cx="22.1" cy="289.3" r="0.8" fill="#de82c3" opacity="0.7"/>
<circle cx="23.9" cy="289.7" r="0.8" fill="#ac4a98" opacity="0.7"/>
<circle cx="24.3" cy="291.8" r="0.8" fill="#e085c5" opacity="0.7"/>
<path d="M22.7,265.9 24.2,265.9 26.4,264.6 25.8,259.9 23.0,259.5 21.6,260.1 20.2,261.6 19.8,262.9 20.1,264.2 21.0,265.2Z" fill="#c0559b"/>
<circle cx="24.4" cy="262.6" r="0.9" fill="#cf73b2" opacity="0.7"/>
<circle cx="22.4" cy="262.4" r="1.1" fill="#a23f8a" opacity="0.7"/>
<circle cx="24.7" cy="262.1" r="1.2" fill="#cb6bab" opacity="0.7"/>
<path d="M79.4,271.3 79.4,273.9 79.7,274.3 83.4,275.1 84.9,274.1 83.0,269.4 82.0,269.3Z" fill="#b7589e"/>
<circle cx="81.6" cy="273.4" r="1.3" fill="#9a438d" opacity="0.7"/>
<circle cx="81.8" cy="271.9" r="1.4" fill="#c26faf" opacity="0.7"/>
<circle cx="81.7" cy="273.5" r="1.3" fill="#c26dae" opacity="0.7"/>
<path d="M59.9,297.1 59.3,297.5 58.8,301.8 60.6,302.9 63.0,302.4 64.5,300.4 64.1,298.0Z" fill="#bf5199"/>
<ellipse cx="60.7" cy="299.9" rx="1.3" ry="1.3" fill="#e19ecd" opacity="0.85"/>
<circle cx="60.7" cy="300.0" r="1.1" fill="#aa418c" opacity="0.7"/>
<circle cx="61.4" cy="300.6" r="1.1" fill="#ce6fb0" opacity="0.7"/>
<circle cx="62.1" cy="300.5" r="0.8" fill="#cb68aa" opacity="0.7"/>
<path d="M30.1,250.2 28.1,251.3 27.0,253.8 28.0,256.2 30.3,257.0 32.8,255.9 34.0,253.3 33.0,250.9 32.1,250.3Z" fill="#bd4f98"/>
<circle cx="30.4" cy="253.1" r="1.5" fill="#a23b88" opacity="0.7"/>
<circle cx="32.0" cy="252.5" r="1.5" fill="#ce71b1" opacity="0.7"/>
<circle cx="31.5" cy="252.3" r="1.0" fill="#c967aa" opacity="0.7"/>
<path d="M111.5,272.0 116.9,271.3 117.1,270.6 114.7,265.8 113.3,265.7 112.5,266.2 111.2,271.4Z" fill="#bc5ba2"/>
<circle cx="113.6" cy="269.6" r="1.0" fill="#a74b96" opacity="0.7"/>
<circle cx="115.1" cy="268.7" r="1.2" fill="#ca77b7" opacity="0.7"/>
<circle cx="114.8" cy="270.6" r="0.9" fill="#9c438f" opacity="0.7"/>
<path d="M118.7,293.2 119.3,293.6 123.5,293.4 124.5,291.3 123.7,288.9 121.4,287.7 119.0,288.6 117.9,290.9Z" fill="#d76eb2"/>
<ellipse cx="120.9" cy="291.6" rx="1.1" ry="1.3" fill="#edadd6" opacity="0.85"/>
<circle cx="120.1" cy="290.9" r="1.2" fill="#b5559e" opacity="0.7"/>
<circle cx="122.2" cy="289.7" r="1.3" fill="#bd5aa3" opacity="0.7"/>
<circle cx="120.9" cy="291.5" r="0.8" fill="#bb59a2" opacity="0.7"/>
<path d="M62.6,269.0 62.9,269.5 66.8,270.9 68.1,269.4 67.9,265.4 63.1,265.7Z" fill="#cc62aa"/>
<circle cx="64.9" cy="269.0" r="0.9" fill="#d778ba" opacity="0.7"/>
<circle cx="66.5" cy="268.5" r="1.1" fill="#d574b8" opacity="0.7"/>
<circle cx="64.9" cy="268.3" r="0.8" fill="#de86c5" opacity="0.7"/>
<path d="M73.1,281.3 76.3,279.7 76.5,277.2 76.2,276.7 71.7,275.5 71.1,276.4 71.5,280.4Z" fill="#d05da6"/>
<circle cx="74.5" cy="279.4" r="1.1" fill="#b04593" opacity="0.7"/>
<circle cx="72.7" cy="277.2" r="1.4" fill="#b84b98" opacity="0.7"/>
<circle cx="74.6" cy="278.7" r="1.2" fill="#b14694" opacity="0.7"/>
<path d="M128.2,253.6 127.2,254.7 128.5,258.8 131.2,259.4 133.4,255.3 132.4,254.2Z" fill="#c465ab"/>
<ellipse cx="130.2" cy="256.4" rx="1.3" ry="1.2" fill="#de9eca" opacity="0.85"/>
<circle cx="131.0" cy="257.6" r="1.1" fill="#a74f9a" opacity="0.7"/>
<circle cx="131.3" cy="256.4" r="0.9" fill="#d07cbd" opacity="0.7"/>
<circle cx="130.1" cy="255.5" r="1.3" fill="#a14b97" opacity="0.7"/>
<path d="M97.2,238.7 100.7,240.3 101.7,239.9 103.1,237.6 103.1,236.1 102.2,234.4 99.3,233.4 98.1,233.9 96.8,236.1Z" fill="#c360a3"/>
<circle cx="101.2" cy="235.8" r="1.0" fill="#af5197" opacity="0.7"/>
<circle cx="100.7" cy="235.7" r="1.2" fill="#a64a92" opacity="0.7"/>
<circle cx="99.1" cy="238.2" r="1.3" fill="#a0468e" opacity="0.7"/>
<path d="M91.0,260.0 93.6,262.9 94.6,263.2 95.7,263.1 98.2,260.4 97.3,258.0 95.1,256.8 91.5,257.9Z" fill="#c465a7"/>
<circle cx="94.4" cy="259.4" r="1.0" fill="#a95097" opacity="0.7"/>
<circle cx="95.9" cy="258.9" r="0.8" fill="#d180bb" opacity="0.7"/>
<circle cx="94.6" cy="259.1" r="1.4" fill="#b2579c" opacity="0.7"/>
<path d="M29.8,276.9 33.9,276.3 34.6,274.4 34.2,272.8 31.2,271.3 29.1,272.5 28.6,274.9Z" fill="#c165a7"/>
<circle cx="31.6" cy="275.3" r="1.1" fill="#a34e95" opacity="0.7"/>
<circle cx="32.8" cy="274.0" r="1.0" fill="#cb78b5" opacity="0.7"/>
<circle cx="32.7" cy="274.9" r="1.1" fill="#d185bf" opacity="0.7"/>
<path d="M82.1,224.3 82.8,224.2 84.7,221.4 84.2,219.6 83.1,218.7 79.1,219.4 78.6,220.4 78.9,222.2Z" fill="#d062ab"/>
<ellipse cx="81.7" cy="220.9" rx="1.4" ry="1.3" fill="#e7a5cf" opacity="0.85"/>
<circle cx="82.9" cy="222.6" r="1.3" fill="#db78bc" opacity="0.7"/>
<circle cx="83.0" cy="220.1" r="1.1" fill="#da75b9" opacity="0.7"/>
<circle cx="82.8" cy="220.6" r="1.3" fill="#dc7abd" opacity="0.7"/>
<path d="M107.2,245.4 105.8,247.0 105.7,249.1 107.4,251.4 109.2,252.0 111.9,249.8 111.6,246.6 109.6,245.1Z" fill="#cc59a5"/>
<ellipse cx="109.6" cy="249.0" rx="1.4" ry="1.1" fill="#e0a4cd" opacity="0.85"/>
<circle cx="108.7" cy="247.2" r="0.9" fill="#d870b6" opacity="0.7"/>
<circle cx="108.7" cy="248.6" r="1.3" fill="#b44797" opacity="0.7"/>
<circle cx="109.5" cy="247.4" r="1.0" fill="#d973b8" opacity="0.7"/>
<path d="M99.8,294.8 101.8,293.2 101.9,290.6 100.1,288.6 97.6,288.3 95.2,290.5 95.3,292.6 96.8,294.4Z" fill="#d161a9"/>
<circle cx="99.5" cy="290.9" r="1.2" fill="#be539e" opacity="0.7"/>
<circle cx="98.0" cy="291.9" r="1.2" fill="#bb519c" opacity="0.7"/>
<circle cx="97.5" cy="290.7" r="1.0" fill="#e07fc0" opacity="0.7"/>
<path d="M53.1,203.0 56.9,200.5 57.3,199.1 55.9,196.3 53.1,195.1 51.6,195.5 50.3,196.4 49.6,197.7 49.4,199.2 50.7,202.0Z" fill="#d86db6"/>
<ellipse cx="53.5" cy="199.0" rx="1.7" ry="1.5" fill="#dfa1c7" opacity="0.85"/>
<circle cx="52.1" cy="198.7" r="1.3" fill="#e78bcd" opacity="0.7"/>
<circle cx="53.4" cy="198.7" r="1.4" fill="#e98fd0" opacity="0.7"/>
<circle cx="52.2" cy="199.6" r="0.9" fill="#e98ecf" opacity="0.7"/>
<path d="M55.5,268.1 60.7,269.9 61.6,269.2 61.9,265.0 60.7,263.8 56.1,263.8 54.8,265.9Z" fill="#c55ea7"/>
<circle cx="58.7" cy="265.6" r="0.9" fill="#d176b9" opacity="0.7"/>
<circle cx="60.4" cy="267.7" r="1.4" fill="#d074b8" opacity="0.7"/>
<circle cx="60.0" cy="267.6" r="1.3" fill="#d57ebf" opacity="0.7"/>
<path d="M132.1,266.3 132.6,267.3 134.9,268.1 138.6,265.7 138.6,263.5 138.1,263.0 133.2,262.9Z" fill="#c651a1"/>
<circle cx="135.7" cy="264.4" r="1.1" fill="#a93b90" opacity="0.7"/>
<circle cx="135.5" cy="265.5" r="1.3" fill="#d46db6" opacity="0.7"/>
<circle cx="135.2" cy="265.7" r="1.2" fill="#d874bb" opacity="0.7"/>
<path d="M34.7,248.5 35.2,250.0 36.4,251.2 37.7,252.0 39.7,252.2 40.2,251.8 41.2,247.1 39.5,245.3 37.8,244.8 35.7,245.7Z" fill="#c551a2"/>
<circle cx="39.2" cy="248.8" r="0.9" fill="#d570b9" opacity="0.7"/>
<circle cx="37.0" cy="249.5" r="0.9" fill="#af4195" opacity="0.7"/>
<circle cx="38.2" cy="249.4" r="1.1" fill="#d26bb6" opacity="0.7"/>
<path d="M124.6,287.5 126.9,288.2 129.3,287.2 130.6,284.1 129.4,281.6 123.5,282.2 123.0,285.1Z" fill="#c8569f"/>
<ellipse cx="127.0" cy="284.7" rx="1.2" ry="1.4" fill="#e8aad5" opacity="0.85"/>
<circle cx="125.7" cy="283.4" r="1.2" fill="#d168ad" opacity="0.7"/>
<circle cx="127.8" cy="284.2" r="1.1" fill="#d269ae" opacity="0.7"/>
<circle cx="126.5" cy="285.3" r="0.8" fill="#d977b8" opacity="0.7"/>
<path d="M97.1,249.7 102.1,250.9 103.2,249.1 103.0,246.6 102.1,245.6 100.9,245.2 97.0,247.2 96.7,248.0Z" fill="#ce58a6"/>
<circle cx="98.7" cy="247.3" r="1.2" fill="#bb499b" opacity="0.7"/>
<circle cx="100.8" cy="248.1" r="1.0" fill="#dd75bc" opacity="0.7"/>
<circle cx="99.0" cy="248.0" r="1.1" fill="#dc75bc" opacity="0.7"/>
<path d="M142.1,245.7 143.2,246.9 145.5,247.4 146.6,247.1 148.3,245.0 148.0,242.4 147.3,241.7 142.2,242.1 141.7,243.2Z" fill="#ce55a1"/>
<ellipse cx="144.5" cy="243.9" rx="1.2" ry="1.4" fill="#eeabd8" opacity="0.85"/>
<circle cx="145.1" cy="245.3" r="0.9" fill="#ba4695" opacity="0.7"/>
<circle cx="145.0" cy="243.3" r="1.0" fill="#ad3c8e" opacity="0.7"/>
<circle cx="144.5" cy="243.5" r="0.9" fill="#d96bb1" opacity="0.7"/>
<path d="M57.5,280.4 58.5,281.3 59.7,281.5 63.0,279.2 63.1,277.9 59.3,275.7 57.2,277.1 56.9,278.8Z" fill="#cb55a1"/>
<ellipse cx="60.0" cy="278.9" rx="1.1" ry="1.2" fill="#e1a0cb" opacity="0.85"/>
<circle cx="61.1" cy="279.5" r="1.0" fill="#b24292" opacity="0.7"/>
<circle cx="60.3" cy="277.3" r="1.4" fill="#d466ae" opacity="0.7"/>
<circle cx="60.4" cy="279.5" r="0.9" fill="#b64594" opacity="0.7"/>
<path d="M22.9,207.9 21.2,208.3 20.0,209.3 19.3,210.8 19.2,212.4 20.4,214.5 24.9,215.7 27.0,214.1 26.0,209.2Z" fill="#c259a1"/>
<circle cx="23.0" cy="211.6" r="1.4" fill="#d37aba" opacity="0.7"/>
<circle cx="24.4" cy="211.0" r="1.0" fill="#b14c97" opacity="0.7"/>
<circle cx="23.5" cy="212.5" r="1.0" fill="#cc6caf" opacity="0.7"/>
<path d="M80.3,197.9 78.0,197.3 75.9,198.8 75.3,201.2 76.6,203.3 79.0,203.7 81.0,202.2 81.5,200.9Z" fill="#ca5d9f"/>
<ellipse cx="78.0" cy="200.3" rx="1.3" ry="1.5" fill="#e0a1c9" opacity="0.85"/>
<circle cx="79.0" cy="200.3" r="1.2" fill="#db7fb8" opacity="0.7"/>
<circle cx="78.0" cy="200.8" r="1.0" fill="#b04a90" opacity="0.7"/>
<circle cx="79.1" cy="200.2" r="1.0" fill="#db80b9" opacity="0.7"/>
<path d="M122.2,221.5 123.8,224.9 124.7,225.3 127.6,224.7 128.9,223.6 129.2,222.4 126.0,218.9 124.2,219.4Z" fill="#c756a3"/>
<ellipse cx="125.9" cy="221.5" rx="1.2" ry="1.2" fill="#e5a3cf" opacity="0.85"/>
<circle cx="126.9" cy="222.6" r="1.0" fill="#d36db4" opacity="0.7"/>
<circle cx="125.3" cy="221.0" r="0.8" fill="#d26cb4" opacity="0.7"/>
<circle cx="127.1" cy="220.8" r="1.3" fill="#b14596" opacity="0.7"/>
<path d="M104.4,216.8 104.1,218.8 107.3,221.9 109.3,221.3 110.4,219.2 108.6,215.6Z" fill="#b4549c"/>
<circle cx="108.1" cy="218.7" r="1.1" fill="#c473b3" opacity="0.7"/>
<circle cx="108.7" cy="219.6" r="1.0" fill="#c474b4" opacity="0.7"/>
<circle cx="107.5" cy="217.4" r="1.2" fill="#943c89" opacity="0.7"/>
<path d="M58.1,235.4 58.7,233.2 56.6,229.3 55.2,229.0 53.9,229.6 52.0,232.5 52.0,234.7 52.7,236.1 53.8,237.1 55.6,237.3Z" fill="#c0529b"/>
<circle cx="55.9" cy="232.2" r="1.2" fill="#cc6bae" opacity="0.7"/>
<circle cx="54.9" cy="234.3" r="0.9" fill="#cd6bae" opacity="0.7"/>
<circle cx="54.8" cy="233.0" r="1.3" fill="#9d3886" opacity="0.7"/>
<path d="M66.8,252.4 65.1,257.3 68.3,259.2 72.4,255.8 72.4,254.9 71.7,253.6 70.4,252.6 68.9,252.1Z" fill="#b6559d"/>
<ellipse cx="68.7" cy="255.2" rx="1.4" ry="1.7" fill="#e9a8d4" opacity="0.85"/>
<circle cx="68.2" cy="256.4" r="1.5" fill="#c16bae" opacity="0.7"/>
<circle cx="70.1" cy="255.6" r="0.9" fill="#c776b6" opacity="0.7"/>
<circle cx="67.9" cy="257.4" r="1.2" fill="#963d8a" opacity="0.7"/>
<path d="M114.0,283.5 114.4,283.0 114.3,279.2 111.9,278.3 108.9,280.5 109.1,282.6 110.4,284.2Z" fill="#be4796"/>
<circle cx="113.2" cy="282.3" r="1.1" fill="#a93789" opacity="0.7"/>
<circle cx="113.3" cy="280.0" r="1.2" fill="#ac3a8c" opacity="0.7"/>
<circle cx="113.1" cy="280.3" r="0.8" fill="#a13185" opacity="0.7"/>
<path d="M99.1,273.5 100.5,274.1 101.9,274.1 103.4,273.6 105.1,272.3 105.4,271.3 103.7,267.9 102.7,267.8 99.0,269.7 98.3,271.6Z" fill="#c05598"/>
<circle cx="101.0" cy="270.1" r="0.8" fill="#ab458c" opacity="0.7"/>
<circle cx="100.9" cy="271.1" r="1.1" fill="#cb6ba9" opacity="0.7"/>
<circle cx="103.0" cy="270.1" r="1.0" fill="#a23f87" opacity="0.7"/>
<path d="M85.6,279.4 88.9,282.0 90.6,281.3 91.9,278.8 90.3,274.8 88.1,274.9 87.0,275.5 85.8,277.4Z" fill="#cd5da4"/>
<ellipse cx="88.3" cy="278.9" rx="1.4" ry="1.4" fill="#e4a1cd" opacity="0.85"/>
<circle cx="88.8" cy="278.6" r="1.4" fill="#dd7cbb" opacity="0.7"/>
<circle cx="89.9" cy="278.5" r="1.2" fill="#b64c97" opacity="0.7"/>
<circle cx="90.0" cy="278.1" r="1.2" fill="#d66fb1" opacity="0.7"/>
<path d="M44.1,285.5 45.1,287.3 47.5,288.0 49.4,287.2 50.6,285.2 49.1,281.5 47.1,281.0 45.1,282.1Z" fill="#c64d9c"/>
<circle cx="47.8" cy="283.8" r="1.2" fill="#d062ac" opacity="0.7"/>
<circle cx="46.2" cy="285.2" r="0.9" fill="#d265ae" opacity="0.7"/>
<circle cx="46.2" cy="285.0" r="1.0" fill="#d367b0" opacity="0.7"/>
<path d="M140.4,253.0 140.8,253.5 144.1,254.1 146.8,251.9 146.5,249.8 145.2,248.5 142.8,247.9 141.7,248.2 140.2,249.7Z" fill="#d55aa8"/>
<circle cx="142.5" cy="251.0" r="0.8" fill="#b44295" opacity="0.7"/>
<circle cx="142.4" cy="251.1" r="1.2" fill="#e67cc2" opacity="0.7"/>
<circle cx="144.3" cy="252.4" r="0.8" fill="#bf4a9b" opacity="0.7"/>
<path d="M89.7,218.4 90.0,220.5 91.6,221.9 94.3,221.8 96.0,220.4 95.7,215.9 95.2,215.4 91.8,215.7Z" fill="#d162aa"/>
<circle cx="94.5" cy="217.5" r="1.1" fill="#df7ebf" opacity="0.7"/>
<circle cx="94.6" cy="219.3" r="0.8" fill="#bc529e" opacity="0.7"/>
<circle cx="93.8" cy="218.1" r="0.9" fill="#da74b8" opacity="0.7"/>
<path d="M85.5,248.0 87.0,252.2 88.2,252.8 92.2,248.6 91.9,247.8 88.2,245.9 86.3,246.5Z" fill="#d66bb1"/>
<circle cx="89.9" cy="250.4" r="1.2" fill="#b955a0" opacity="0.7"/>
<circle cx="88.3" cy="249.2" r="1.1" fill="#c45da6" opacity="0.7"/>
<circle cx="88.6" cy="249.2" r="1.2" fill="#e181c1" opacity="0.7"/>
<path d="M97.7,204.1 99.9,203.5 99.5,197.8 98.6,197.1 97.0,196.9 95.3,197.7 94.3,201.5Z" fill="#cf56a1"/>
<ellipse cx="97.0" cy="201.3" rx="1.4" ry="1.4" fill="#e4a3cd" opacity="0.85"/>
<circle cx="97.9" cy="201.3" r="1.2" fill="#ae3d8e" opacity="0.7"/>
<circle cx="97.0" cy="199.7" r="0.8" fill="#b74493" opacity="0.7"/>
<circle cx="98.2" cy="199.9" r="0.8" fill="#b94694" opacity="0.7"/>
<path d="M51.4,248.4 58.0,248.8 57.5,242.7 55.0,241.9 52.1,243.2 50.9,245.4Z" fill="#bf5ea6"/>
<ellipse cx="55.4" cy="246.1" rx="1.4" ry="1.2" fill="#ecacd4" opacity="0.85"/>
<circle cx="53.5" cy="246.9" r="1.5" fill="#d182c1" opacity="0.7"/>
<circle cx="56.1" cy="244.6" r="1.3" fill="#a04794" opacity="0.7"/>
<circle cx="54.7" cy="245.0" r="1.4" fill="#ad509b" opacity="0.7"/>
<path d="M42.3,262.8 46.5,263.9 47.8,263.2 48.4,261.8 47.4,258.2 45.7,257.5 44.1,257.7 41.8,261.0Z" fill="#b14591"/>
<circle cx="43.8" cy="261.4" r="0.9" fill="#9a3484" opacity="0.7"/>
<circle cx="46.1" cy="260.1" r="1.1" fill="#be5fa4" opacity="0.7"/>
<circle cx="45.3" cy="261.2" r="1.2" fill="#993383" opacity="0.7"/>
<path d="M116.1,201.1 116.6,202.4 117.6,203.3 120.3,203.7 122.4,202.1 122.8,199.4 121.2,197.3 118.6,197.0 117.3,197.7Z" fill="#c14c9e"/>
<circle cx="118.4" cy="199.2" r="1.1" fill="#a6388e" opacity="0.7"/>
<circle cx="119.3" cy="199.1" r="1.0" fill="#d06bb5" opacity="0.7"/>
<circle cx="118.8" cy="199.7" r="0.9" fill="#9e328a" opacity="0.7"/>
<path d="M108.4,234.3 110.5,230.9 108.8,227.6 106.9,227.2 105.9,227.9 105.1,232.5 106.5,234.0Z" fill="#bd4797"/>
<circle cx="107.4" cy="229.5" r="1.2" fill="#a8378b" opacity="0.7"/>
<circle cx="108.4" cy="229.9" r="1.3" fill="#c75ba6" opacity="0.7"/>
<circle cx="108.0" cy="230.9" r="1.1" fill="#ca61aa" opacity="0.7"/>
<path d="M89.1,211.2 88.3,210.8 86.9,211.0 84.8,213.7 85.1,216.0 86.8,217.5 88.8,217.6 90.8,215.1Z" fill="#cd549e"/>
<circle cx="88.5" cy="215.3" r="1.3" fill="#ba4693" opacity="0.7"/>
<circle cx="87.0" cy="213.0" r="0.8" fill="#d869ae" opacity="0.7"/>
<circle cx="88.1" cy="212.9" r="1.2" fill="#b54290" opacity="0.7"/>
<path d="M132.3,231.4 133.4,232.8 135.2,233.2 137.8,230.9 137.9,230.3 136.4,227.5 135.8,227.2 133.0,228.2Z" fill="#c14894"/>
<circle cx="135.0" cy="231.0" r="0.8" fill="#cd60a6" opacity="0.7"/>
<circle cx="135.8" cy="230.1" r="1.3" fill="#cc5fa5" opacity="0.7"/>
<circle cx="136.2" cy="230.6" r="1.2" fill="#cb5ca3" opacity="0.7"/>
<path d="M51.4,297.8 50.6,296.9 49.4,296.5 45.4,298.7 45.2,299.8 45.6,301.2 47.7,302.8 50.3,302.5 51.7,300.8Z" fill="#d46cb3"/>
<ellipse cx="48.8" cy="299.0" rx="1.4" ry="1.3" fill="#e5a0cb" opacity="0.85"/>
<circle cx="47.9" cy="300.6" r="0.8" fill="#c25ea8" opacity="0.7"/>
<circle cx="48.2" cy="300.1" r="1.2" fill="#e58ecd" opacity="0.7"/>
<circle cx="49.3" cy="298.4" r="1.1" fill="#e289c8" opacity="0.7"/>
<path d="M74.4,269.1 74.4,265.0 73.7,264.6 69.4,264.7 69.3,270.3 71.4,271.2Z" fill="#c6509c"/>
<circle cx="72.4" cy="268.7" r="0.8" fill="#a93a8b" opacity="0.7"/>
<circle cx="72.7" cy="266.7" r="1.0" fill="#d167ad" opacity="0.7"/>
<circle cx="70.7" cy="268.2" r="0.9" fill="#a8398a" opacity="0.7"/>
<path d="M106.1,294.4 107.9,294.5 109.1,293.9 110.5,291.4 110.4,290.3 109.0,287.5 107.8,286.8 106.3,286.9 104.7,288.2 103.9,290.0 104.5,292.9Z" fill="#d56cb4"/>
<circle cx="108.4" cy="290.9" r="1.3" fill="#e184c6" opacity="0.7"/>
<circle cx="107.6" cy="292.0" r="1.0" fill="#e78fcf" opacity="0.7"/>
<circle cx="106.2" cy="291.5" r="1.2" fill="#e58bcb" opacity="0.7"/>
<path d="M42.1,208.3 42.8,208.8 45.2,209.0 47.0,207.8 48.4,203.8 47.2,201.6 45.2,201.3 41.9,203.7 41.3,206.4Z" fill="#cc69ab"/>
<circle cx="45.1" cy="206.1" r="1.5" fill="#b2559c" opacity="0.7"/>
<circle cx="45.4" cy="206.1" r="0.9" fill="#db86c1" opacity="0.7"/>
<circle cx="45.9" cy="203.7" r="1.4" fill="#b7599f" opacity="0.7"/>
<path d="M125.5,296.1 124.2,300.8 126.2,301.9 128.9,301.3 129.6,297.2 126.5,295.8Z" fill="#d36db1"/>
<circle cx="126.1" cy="298.6" r="1.2" fill="#b1549d" opacity="0.7"/>
<circle cx="127.4" cy="299.1" r="1.4" fill="#b758a1" opacity="0.7"/>
<circle cx="128.3" cy="298.4" r="1.2" fill="#dc7fbe" opacity="0.7"/>
<path d="M83.4,242.0 85.8,245.1 87.3,244.9 89.1,239.5 87.1,238.1 85.1,238.4 84.4,239.0Z" fill="#c660a3"/>
<circle cx="87.3" cy="242.5" r="0.8" fill="#b55399" opacity="0.7"/>
<circle cx="85.0" cy="241.2" r="1.3" fill="#d680bb" opacity="0.7"/>
<circle cx="85.1" cy="242.0" r="0.9" fill="#d277b4" opacity="0.7"/>
<path d="M55.4,288.2 53.0,287.3 51.0,288.6 50.6,290.4 50.8,291.7 52.6,293.7 54.8,293.9 56.2,292.7 56.6,290.9Z" fill="#ca68b0"/>
<circle cx="52.3" cy="290.0" r="1.1" fill="#a84f9c" opacity="0.7"/>
<circle cx="54.6" cy="289.4" r="0.8" fill="#d37abe" opacity="0.7"/>
<circle cx="52.5" cy="289.4" r="1.1" fill="#db8ac9" opacity="0.7"/>
<path d="M131.1,288.8 133.1,290.6 133.8,290.8 137.2,289.1 137.6,287.4 137.4,286.1 136.7,285.3 132.7,284.5 131.0,286.3Z" fill="#d564ae"/>
<ellipse cx="133.9" cy="287.4" rx="1.1" ry="1.3" fill="#eba9d2" opacity="0.85"/>
<circle cx="134.8" cy="286.6" r="0.9" fill="#c457a4" opacity="0.7"/>
<circle cx="134.1" cy="287.4" r="1.4" fill="#de76bc" opacity="0.7"/>
<circle cx="133.3" cy="288.3" r="1.1" fill="#b44b9b" opacity="0.7"/>
<path d="M111.2,277.5 111.0,273.3 110.4,272.7 107.4,272.7 105.6,274.4 105.3,277.1 106.9,279.3 108.1,279.5Z" fill="#c7519a"/>
<circle cx="107.5" cy="276.1" r="1.0" fill="#a43785" opacity="0.7"/>
<circle cx="108.6" cy="275.5" r="0.9" fill="#b4438f" opacity="0.7"/>
<circle cx="110.1" cy="276.2" r="0.9" fill="#d772b3" opacity="0.7"/>
<path d="M25.9,235.8 25.9,232.9 24.0,230.5 21.0,230.1 19.2,231.5 18.5,233.7 18.7,235.4 20.7,237.9 22.3,238.4 23.8,238.2Z" fill="#b9579b"/>
<circle cx="22.6" cy="233.5" r="0.9" fill="#c269a8" opacity="0.7"/>
<circle cx="23.4" cy="233.1" r="1.2" fill="#a1458d" opacity="0.7"/>
<circle cx="21.3" cy="235.0" r="1.3" fill="#c36baa" opacity="0.7"/>
<path d="M143.0,203.6 148.3,201.5 148.3,199.1 146.5,197.0 143.7,196.8 141.5,198.6 141.2,201.4Z" fill="#c8539e"/>
<circle cx="144.3" cy="201.6" r="1.2" fill="#af4190" opacity="0.7"/>
<circle cx="143.5" cy="200.7" r="0.9" fill="#d874b7" opacity="0.7"/>
<circle cx="144.2" cy="199.7" r="1.3" fill="#b44492" opacity="0.7"/>
<path d="M66.7,210.8 70.5,211.0 71.2,205.1 70.2,204.1 68.7,203.7 67.2,203.9 65.8,204.8 64.9,206.1Z" fill="#c25fa3"/>
<ellipse cx="69.0" cy="207.9" rx="1.3" ry="1.4" fill="#ebaed7" opacity="0.85"/>
<circle cx="67.6" cy="206.6" r="0.9" fill="#d482be" opacity="0.7"/>
<circle cx="69.8" cy="209.2" r="0.9" fill="#cb72b1" opacity="0.7"/>
<circle cx="67.8" cy="207.6" r="1.4" fill="#d17dba" opacity="0.7"/>
<path d="M65.6,230.3 68.3,230.6 68.7,230.2 70.5,226.0 68.4,223.3 65.5,223.7 63.6,225.6Z" fill="#d471b2"/>
<ellipse cx="67.5" cy="226.5" rx="1.7" ry="1.2" fill="#e8a9d2" opacity="0.85"/>
<circle cx="66.6" cy="225.6" r="0.9" fill="#de85c1" opacity="0.7"/>
<circle cx="67.3" cy="225.8" r="1.2" fill="#e594cc" opacity="0.7"/>
<circle cx="67.1" cy="226.4" r="1.3" fill="#b1579e" opacity="0.7"/>
<path d="M28.9,287.1 27.3,288.6 27.4,291.6 29.6,293.5 31.1,293.4 33.4,291.4 33.6,288.4 32.7,287.3 31.5,286.7Z" fill="#cc61aa"/>
<ellipse cx="30.7" cy="290.7" rx="1.4" ry="1.5" fill="#edacd3" opacity="0.85"/>
<circle cx="31.4" cy="289.4" r="1.1" fill="#dd83c3" opacity="0.7"/>
<circle cx="29.1" cy="291.3" r="0.9" fill="#d97abd" opacity="0.7"/>
<circle cx="29.4" cy="289.2" r="1.1" fill="#dc80c1" opacity="0.7"/>
<path d="M77.7,244.7 75.7,243.3 73.1,243.4 71.8,246.5 71.9,247.3 74.1,249.5 75.5,250.0 77.4,249.7 78.3,248.8Z" fill="#ce63a7"/>
<circle cx="73.9" cy="247.9" r="1.3" fill="#df86c1" opacity="0.7"/>
<circle cx="76.0" cy="247.2" r="1.0" fill="#ad4a94" opacity="0.7"/>
<circle cx="75.0" cy="247.5" r="1.1" fill="#db7cba" opacity="0.7"/>
<path d="M144.5,226.2 145.7,225.9 146.8,224.8 147.5,221.9 146.6,219.9 144.2,219.0 141.5,220.2 140.3,222.6Z" fill="#c763a6"/>
<circle cx="144.0" cy="221.8" r="1.0" fill="#d784bf" opacity="0.7"/>
<circle cx="144.6" cy="221.6" r="0.8" fill="#ae5097" opacity="0.7"/>
<circle cx="144.4" cy="223.9" r="1.4" fill="#b6569c" opacity="0.7"/>
<path d="M83.9,295.2 88.2,295.8 90.7,292.9 90.3,291.0 88.7,289.8 86.9,289.8 83.8,294.1Z" fill="#cb60a6"/>
<circle cx="85.9" cy="292.8" r="1.0" fill="#ab4893" opacity="0.7"/>
<circle cx="86.2" cy="292.2" r="1.1" fill="#a74591" opacity="0.7"/>
<circle cx="86.1" cy="293.1" r="1.0" fill="#d97dbc" opacity="0.7"/>
<path d="M116.7,251.1 117.3,254.6 117.9,255.2 120.2,255.3 122.0,253.5 122.2,250.8 120.3,248.7 119.6,248.7Z" fill="#c3559b"/>
<ellipse cx="119.1" cy="252.3" rx="1.3" ry="1.2" fill="#e3a6ce" opacity="0.85"/>
<circle cx="118.9" cy="252.0" r="1.3" fill="#a23c88" opacity="0.7"/>
<circle cx="120.3" cy="252.1" r="1.4" fill="#a7408b" opacity="0.7"/>
<circle cx="120.4" cy="252.0" r="1.4" fill="#cb66a8" opacity="0.7"/>
<path d="M115.0,224.9 117.3,221.4 116.8,220.2 115.2,219.2 111.3,220.1 109.9,222.5 110.6,224.1Z" fill="#c04c95"/>
<ellipse cx="113.3" cy="222.7" rx="1.2" ry="1.3" fill="#e6a6d1" opacity="0.85"/>
<circle cx="113.8" cy="221.0" r="1.3" fill="#a83a87" opacity="0.7"/>
<circle cx="113.6" cy="222.0" r="0.9" fill="#cf6bac" opacity="0.7"/>
<circle cx="112.9" cy="222.5" r="1.0" fill="#a73987" opacity="0.7"/>
<path d="M116.9,262.9 117.3,263.6 122.3,264.2 123.6,262.6 119.9,257.8 119.1,258.1Z" fill="#ca5aa5"/>
<ellipse cx="119.9" cy="261.8" rx="1.4" ry="1.4" fill="#e09ecb" opacity="0.85"/>
<circle cx="119.1" cy="261.0" r="1.3" fill="#d36bb2" opacity="0.7"/>
<circle cx="119.7" cy="261.5" r="1.0" fill="#af4695" opacity="0.7"/>
<circle cx="121.3" cy="261.8" r="1.2" fill="#d46eb4" opacity="0.7"/>
<path d="M23.1,202.1 22.2,204.7 22.6,206.0 23.7,207.1 25.0,207.6 26.9,207.5 29.3,205.7 29.2,202.6 26.4,200.8 24.8,200.9Z" fill="#d262a8"/>
<ellipse cx="26.4" cy="204.4" rx="1.7" ry="1.3" fill="#eba9d4" opacity="0.85"/>
<circle cx="25.8" cy="203.6" r="1.0" fill="#c0559e" opacity="0.7"/>
<circle cx="26.7" cy="204.5" r="0.9" fill="#b84f99" opacity="0.7"/>
<circle cx="25.9" cy="204.5" r="1.5" fill="#e384c2" opacity="0.7"/>
<path d="M97.9,211.6 99.2,212.3 100.5,212.1 102.7,209.7 102.6,206.6 101.2,204.9 100.4,204.7 98.1,205.5 96.7,208.6Z" fill="#d75ca7"/>
<ellipse cx="99.6" cy="207.9" rx="1.5" ry="1.5" fill="#eaabd4" opacity="0.85"/>
<circle cx="100.9" cy="207.5" r="1.0" fill="#b64394" opacity="0.7"/>
<circle cx="98.5" cy="207.1" r="0.9" fill="#b94696" opacity="0.7"/>
<circle cx="99.1" cy="207.9" r="0.8" fill="#e67abe" opacity="0.7"/>
<path d="M27.4,208.3 27.0,209.3 27.7,212.5 28.4,213.1 31.1,213.6 33.4,212.1 33.1,208.2 30.2,206.7Z" fill="#c755a3"/>
<circle cx="29.8" cy="210.6" r="1.5" fill="#d877bc" opacity="0.7"/>
<circle cx="31.6" cy="209.7" r="1.1" fill="#d169b2" opacity="0.7"/>
<circle cx="29.9" cy="209.6" r="0.9" fill="#b04496" opacity="0.7"/>
<path d="M101.4,295.9 101.5,301.5 103.3,302.2 105.2,301.7 105.7,301.2 106.3,296.3 103.9,295.0Z" fill="#c85a9f"/>
<circle cx="102.4" cy="298.6" r="1.1" fill="#da7dba" opacity="0.7"/>
<circle cx="104.4" cy="299.1" r="1.1" fill="#d97db9" opacity="0.7"/>
<circle cx="104.3" cy="298.8" r="0.8" fill="#d879b6" opacity="0.7"/>
<path d="M62.4,257.1 64.3,256.3 65.3,253.2 64.2,251.2 61.9,250.4 59.6,251.5 58.8,254.0 59.5,255.7Z" fill="#ca64a8"/>
<circle cx="63.2" cy="254.6" r="0.9" fill="#d981be" opacity="0.7"/>
<circle cx="60.9" cy="254.7" r="1.1" fill="#d57bb9" opacity="0.7"/>
<circle cx="63.3" cy="254.0" r="1.4" fill="#a74a94" opacity="0.7"/>
<path d="M71.4,237.7 73.2,239.5 75.6,239.5 79.1,235.2 78.7,233.1 77.1,231.9 72.0,233.7Z" fill="#cf5aa5"/>
<ellipse cx="74.7" cy="235.8" rx="1.6" ry="1.5" fill="#e5a5cb" opacity="0.85"/>
<circle cx="75.9" cy="234.8" r="1.4" fill="#e07cbf" opacity="0.7"/>
<circle cx="74.6" cy="236.1" r="1.0" fill="#b44695" opacity="0.7"/>
<circle cx="76.2" cy="234.0" r="1.2" fill="#df7abd" opacity="0.7"/>
<path d="M54.1,210.5 53.5,213.2 56.2,215.8 57.9,215.6 59.4,214.5 59.8,213.3 58.4,209.6 56.2,209.3Z" fill="#c464aa"/>
<circle cx="55.9" cy="213.1" r="1.1" fill="#ce79ba" opacity="0.7"/>
<circle cx="56.6" cy="211.2" r="1.1" fill="#a54d98" opacity="0.7"/>
<circle cx="57.1" cy="212.8" r="1.2" fill="#ad539d" opacity="0.7"/>
<path d="M134.1,291.8 133.7,294.7 136.1,296.7 139.9,295.4 140.5,294.6 140.6,293.9 138.9,290.7 137.2,290.4Z" fill="#cc5ea6"/>
<circle cx="137.6" cy="294.9" r="1.3" fill="#d774b7" opacity="0.7"/>
<circle cx="138.0" cy="294.8" r="0.8" fill="#dd80c0" opacity="0.7"/>
<circle cx="136.7" cy="294.7" r="1.1" fill="#ac4693" opacity="0.7"/>
<path d="M58.0,236.9 57.6,239.4 59.2,241.6 63.2,241.5 64.2,240.5 64.7,238.6 62.7,235.5 60.3,235.2Z" fill="#cd67ae"/>
<ellipse cx="60.9" cy="238.1" rx="1.2" ry="1.6" fill="#e19fc9" opacity="0.85"/>
<circle cx="61.3" cy="239.4" r="1.2" fill="#de89c7" opacity="0.7"/>
<circle cx="60.1" cy="237.7" r="1.2" fill="#dc85c5" opacity="0.7"/>
<circle cx="62.6" cy="239.2" r="1.4" fill="#d980c1" opacity="0.7"/>
<path d="M63.4,234.1 63.4,234.7 65.9,238.6 68.6,238.4 70.5,236.7 70.6,233.5 68.5,231.5 65.7,231.6Z" fill="#b2478e"/>
<ellipse cx="66.8" cy="235.3" rx="1.4" ry="1.6" fill="#e8aad0" opacity="0.85"/>
<circle cx="66.8" cy="234.4" r="1.1" fill="#98337f" opacity="0.7"/>
<circle cx="67.5" cy="234.3" r="0.9" fill="#902d7a" opacity="0.7"/>
<circle cx="67.6" cy="235.5" r="1.5" fill="#c267a6" opacity="0.7"/>
<path d="M41.0,270.9 40.0,270.3 38.5,270.5 36.3,272.7 36.1,275.3 37.6,277.1 40.0,277.1 41.9,275.2Z" fill="#d36ab4"/>
<circle cx="39.2" cy="272.5" r="0.8" fill="#c25daa" opacity="0.7"/>
<circle cx="40.2" cy="273.9" r="1.2" fill="#b554a3" opacity="0.7"/>
<circle cx="39.8" cy="274.3" r="1.4" fill="#af4f9f" opacity="0.7"/>
<path d="M99.5,222.4 99.2,223.7 100.3,225.4 104.0,226.0 105.9,224.7 106.7,223.1 103.4,219.8Z" fill="#c262a2"/>
<circle cx="103.8" cy="223.0" r="1.3" fill="#ad5295" opacity="0.7"/>
<circle cx="102.9" cy="222.3" r="1.4" fill="#a0488e" opacity="0.7"/>
<circle cx="104.0" cy="224.1" r="1.2" fill="#cf7cb5" opacity="0.7"/>
<path d="M135.3,242.2 139.1,241.6 139.9,239.9 139.6,238.7 135.7,236.6 134.0,237.6 133.3,239.6 133.4,240.3Z" fill="#c667a8"/>
<circle cx="136.5" cy="240.4" r="0.9" fill="#a95197" opacity="0.7"/>
<circle cx="136.7" cy="239.6" r="1.0" fill="#d585bf" opacity="0.7"/>
<circle cx="135.6" cy="238.6" r="1.2" fill="#b2589c" opacity="0.7"/>
<path d="M84.7,269.0 84.5,269.6 86.0,273.0 88.1,273.0 89.9,271.5 90.1,270.5 89.5,268.4 87.0,267.6Z" fill="#ca68aa"/>
<ellipse cx="87.1" cy="270.4" rx="1.5" ry="1.2" fill="#e8a8d2" opacity="0.85"/>
<circle cx="85.8" cy="268.9" r="1.0" fill="#b5589e" opacity="0.7"/>
<circle cx="86.1" cy="269.2" r="0.9" fill="#d680bc" opacity="0.7"/>
<circle cx="88.0" cy="270.3" r="0.9" fill="#ac5299" opacity="0.7"/>
<path d="M71.0,212.4 70.5,212.0 66.6,212.2 64.4,215.2 64.8,216.9 65.8,218.3 68.3,219.4 71.2,217.5Z" fill="#cc5ea5"/>
<ellipse cx="68.8" cy="214.7" rx="1.6" ry="1.4" fill="#e1a1c9" opacity="0.85"/>
<circle cx="68.3" cy="213.6" r="0.9" fill="#d673b5" opacity="0.7"/>
<circle cx="67.3" cy="215.3" r="0.9" fill="#d672b4" opacity="0.7"/>
<circle cx="67.2" cy="215.7" r="1.1" fill="#db7bbb" opacity="0.7"/>
<path d="M120.8,247.6 123.0,249.8 125.2,250.0 126.5,249.2 127.6,247.2 127.6,245.8 125.9,243.8 123.2,243.6 121.1,245.2Z" fill="#d762ac"/>
<ellipse cx="124.5" cy="246.9" rx="1.3" ry="1.1" fill="#e6a5cf" opacity="0.85"/>
<circle cx="124.2" cy="246.7" r="1.2" fill="#bb4d9c" opacity="0.7"/>
<circle cx="123.7" cy="248.0" r="0.8" fill="#c555a2" opacity="0.7"/>
<circle cx="124.8" cy="245.8" r="0.9" fill="#e075ba" opacity="0.7"/>
<path d="M52.8,300.6 53.8,301.8 55.0,302.4 57.3,302.0 58.3,296.7 58.0,296.1 55.9,295.0 53.8,295.6 52.5,297.6Z" fill="#be4695"/>
<ellipse cx="55.6" cy="298.7" rx="1.5" ry="1.4" fill="#e4a4cd" opacity="0.85"/>
<circle cx="55.8" cy="299.0" r="1.2" fill="#c859a4" opacity="0.7"/>
<circle cx="56.9" cy="298.7" r="0.9" fill="#cd64ab" opacity="0.7"/>
<circle cx="55.2" cy="299.7" r="1.0" fill="#ca5ea7" opacity="0.7"/>
<path d="M64.5,278.8 67.4,282.1 70.4,280.6 70.0,276.6 69.4,276.1 66.4,276.1 64.7,277.7Z" fill="#d669aa"/>
<ellipse cx="67.8" cy="279.4" rx="1.2" ry="1.5" fill="#e7a5cf" opacity="0.85"/>
<circle cx="67.7" cy="279.2" r="0.8" fill="#c35b9f" opacity="0.7"/>
<circle cx="66.9" cy="278.1" r="1.2" fill="#b44f96" opacity="0.7"/>
<circle cx="66.9" cy="277.8" r="0.8" fill="#e07eba" opacity="0.7"/>
<path d="M128.2,252.4 132.4,252.9 133.4,248.6 130.1,247.7 128.9,248.2 127.6,250.2Z" fill="#cc5ea7"/>
<circle cx="130.7" cy="249.8" r="0.8" fill="#d775b8" opacity="0.7"/>
<circle cx="131.5" cy="251.9" r="1.3" fill="#d672b6" opacity="0.7"/>
<circle cx="131.2" cy="251.8" r="1.1" fill="#db7bbd" opacity="0.7"/>
<path d="M53.8,255.5 55.7,255.5 57.6,254.0 57.9,252.0 56.8,249.9 53.0,249.6 51.7,250.8 51.5,253.4 52.6,254.9Z" fill="#bf519a"/>
<circle cx="53.7" cy="253.4" r="1.4" fill="#a23b89" opacity="0.7"/>
<circle cx="54.6" cy="252.2" r="1.3" fill="#9f3987" opacity="0.7"/>
<circle cx="55.1" cy="253.0" r="1.4" fill="#aa418e" opacity="0.7"/>
<path d="M19.2,278.4 18.3,279.0 17.6,280.4 17.9,283.3 20.0,285.2 22.8,285.1 24.0,280.0Z" fill="#c462aa"/>
<circle cx="21.3" cy="282.4" r="1.2" fill="#a14896" opacity="0.7"/>
<circle cx="21.0" cy="281.7" r="0.9" fill="#b1549f" opacity="0.7"/>
<circle cx="20.8" cy="280.7" r="1.1" fill="#cd74b8" opacity="0.7"/>
<path d="M114.4,207.1 113.6,205.4 111.7,204.8 109.0,206.3 108.5,208.8 109.9,210.7 112.2,210.9 113.0,210.4Z" fill="#cb5ca4"/>
<circle cx="111.0" cy="208.6" r="0.8" fill="#b84e99" opacity="0.7"/>
<circle cx="111.6" cy="208.8" r="1.4" fill="#d875b7" opacity="0.7"/>
<circle cx="112.5" cy="208.3" r="0.9" fill="#d979ba" opacity="0.7"/>
<path d="M79.2,247.8 80.1,248.4 84.2,247.7 85.1,246.1 82.7,243.2 79.1,243.7 78.7,244.3Z" fill="#c953a2"/>
<circle cx="81.2" cy="244.5" r="1.2" fill="#b04194" opacity="0.7"/>
<circle cx="82.9" cy="244.6" r="1.1" fill="#b44496" opacity="0.7"/>
<circle cx="82.1" cy="244.8" r="1.3" fill="#d366b0" opacity="0.7"/>
<path d="M138.7,256.2 140.0,260.5 142.3,260.9 144.2,259.8 143.2,255.2 140.4,254.6Z" fill="#ce59a7"/>
<ellipse cx="141.5" cy="257.3" rx="1.4" ry="1.1" fill="#e2a1ca" opacity="0.85"/>
<circle cx="141.7" cy="257.5" r="1.3" fill="#bb4b9c" opacity="0.7"/>
<circle cx="141.4" cy="258.1" r="0.8" fill="#b24496" opacity="0.7"/>
<circle cx="142.0" cy="256.9" r="1.1" fill="#dd77bd" opacity="0.7"/>
<path d="M129.6,232.7 131.0,232.0 131.9,227.9 129.2,225.4 126.2,226.8 125.5,229.0 126.5,231.7 127.5,232.4Z" fill="#d26aaf"/>
<circle cx="128.7" cy="228.2" r="1.2" fill="#b2529d" opacity="0.7"/>
<circle cx="129.5" cy="227.7" r="1.1" fill="#be5ba3" opacity="0.7"/>
<circle cx="129.0" cy="228.6" r="0.8" fill="#b756a0" opacity="0.7"/>
<path d="M41.3,286.4 42.9,285.7 44.2,281.1 42.6,279.3 40.4,278.8 38.0,280.2 37.3,283.0 38.3,285.2Z" fill="#c062a0"/>
<ellipse cx="40.6" cy="282.2" rx="1.3" ry="1.1" fill="#eaaad4" opacity="0.85"/>
<circle cx="41.4" cy="281.3" r="1.1" fill="#af5596" opacity="0.7"/>
<circle cx="40.5" cy="282.5" r="1.4" fill="#c974ad" opacity="0.7"/>
<circle cx="41.4" cy="282.5" r="1.1" fill="#cc7bb3" opacity="0.7"/>
<path d="M76.2,295.3 78.0,299.6 80.0,299.9 81.8,298.7 82.6,296.4 81.8,294.2 78.8,293.0 76.7,294.2Z" fill="#c34f9d"/>
<circle cx="79.9" cy="297.6" r="0.9" fill="#d16ab2" opacity="0.7"/>
<circle cx="80.3" cy="296.3" r="1.3" fill="#ce65ad" opacity="0.7"/>
<circle cx="80.1" cy="296.2" r="1.2" fill="#ce65ae" opacity="0.7"/>
<path d="M115.5,283.3 117.7,285.1 120.2,284.5 121.5,282.8 121.2,280.0 120.2,278.9 118.6,278.1 115.9,279.2Z" fill="#d25fa7"/>
<ellipse cx="117.9" cy="282.1" rx="1.5" ry="1.3" fill="#e9a6d1" opacity="0.85"/>
<circle cx="117.6" cy="281.8" r="0.9" fill="#df7abb" opacity="0.7"/>
<circle cx="118.0" cy="280.1" r="1.2" fill="#b64a96" opacity="0.7"/>
<circle cx="117.3" cy="281.0" r="1.3" fill="#b84c98" opacity="0.7"/>
<path d="M91.3,270.9 93.2,272.1 96.1,271.7 97.1,270.7 97.4,269.2 95.6,266.2 93.7,265.7 91.0,268.2Z" fill="#cb5ea2"/>
<ellipse cx="94.3" cy="269.3" rx="1.4" ry="1.1" fill="#eaaad5" opacity="0.85"/>
<circle cx="92.7" cy="268.1" r="1.0" fill="#ab468f" opacity="0.7"/>
<circle cx="92.5" cy="270.0" r="1.1" fill="#dc80bc" opacity="0.7"/>
<circle cx="93.7" cy="270.2" r="1.3" fill="#d776b4" opacity="0.7"/>
<path d="M34.8,291.9 36.4,293.1 41.0,291.8 42.0,290.0 41.6,288.1 41.0,287.4 38.7,286.6 36.3,287.1 34.7,288.8Z" fill="#c95ea6"/>
<circle cx="37.2" cy="290.4" r="1.2" fill="#d270b4" opacity="0.7"/>
<circle cx="38.9" cy="290.6" r="1.0" fill="#d475b7" opacity="0.7"/>
<circle cx="37.9" cy="289.1" r="1.3" fill="#b04c98" opacity="0.7"/>
<path d="M83.7,224.8 83.9,226.4 84.6,227.5 86.8,228.3 88.9,227.1 89.7,224.4 88.7,222.1 86.5,221.3Z" fill="#c951a4"/>
<circle cx="85.4" cy="224.9" r="0.8" fill="#d467b4" opacity="0.7"/>
<circle cx="87.4" cy="223.9" r="0.8" fill="#d76db9" opacity="0.7"/>
<circle cx="87.9" cy="224.2" r="0.9" fill="#b13f96" opacity="0.7"/>
<path d="M102.4,212.0 102.6,214.3 104.3,215.6 108.3,214.4 109.2,212.7 109.0,211.6 107.5,209.8 106.1,209.3 104.1,209.7Z" fill="#c8509e"/>
<circle cx="106.6" cy="214.0" r="1.3" fill="#a9398c" opacity="0.7"/>
<circle cx="106.3" cy="213.7" r="1.2" fill="#d365ae" opacity="0.7"/>
<circle cx="105.6" cy="211.4" r="0.8" fill="#b74394" opacity="0.7"/>
<path d="M77.1,239.3 77.3,241.4 78.6,242.7 82.4,241.6 83.3,238.1 81.5,236.5 79.5,236.5Z" fill="#d16aad"/>
<circle cx="81.5" cy="239.0" r="0.8" fill="#b2539b" opacity="0.7"/>
<circle cx="80.2" cy="239.8" r="1.2" fill="#e087c3" opacity="0.7"/>
<circle cx="81.7" cy="239.2" r="0.8" fill="#df86c2" opacity="0.7"/>
<path d="M78.0,287.8 74.5,287.1 72.4,288.8 72.3,290.5 73.3,292.2 75.8,293.4 78.3,292.0 78.5,288.7Z" fill="#c14e98"/>
<circle cx="75.8" cy="291.1" r="1.1" fill="#d16fb0" opacity="0.7"/>
<circle cx="76.9" cy="289.1" r="1.2" fill="#cf6aad" opacity="0.7"/>
<circle cx="76.4" cy="289.5" r="1.2" fill="#9f3484" opacity="0.7"/>
<path d="M25.2,271.0 25.9,271.7 27.6,272.1 30.2,270.4 30.2,266.5 27.5,265.4 24.7,266.9 24.5,267.5Z" fill="#c14997"/>
<ellipse cx="27.0" cy="268.3" rx="1.1" ry="1.5" fill="#e4a4d1" opacity="0.85"/>
<circle cx="28.1" cy="268.4" r="1.0" fill="#d36db2" opacity="0.7"/>
<circle cx="27.9" cy="269.8" r="0.9" fill="#a63587" opacity="0.7"/>
<circle cx="28.8" cy="269.8" r="1.4" fill="#cb5da6" opacity="0.7"/>
<path d="M79.0,212.6 78.0,217.0 78.3,217.7 79.3,218.2 83.5,217.3 83.9,216.2 83.3,214.1Z" fill="#c558a1"/>
<circle cx="81.0" cy="215.7" r="1.2" fill="#a94391" opacity="0.7"/>
<circle cx="80.4" cy="215.3" r="1.0" fill="#b34a96" opacity="0.7"/>
<circle cx="81.2" cy="215.5" r="1.0" fill="#ae4794" opacity="0.7"/>
<path d="M48.2,233.1 50.5,233.1 52.6,229.3 51.7,226.7 49.5,225.1 46.2,227.0 45.8,229.1 47.0,232.2Z" fill="#ca58a5"/>
<ellipse cx="48.6" cy="229.1" rx="1.3" ry="1.3" fill="#e9add5" opacity="0.85"/>
<circle cx="50.5" cy="228.5" r="1.3" fill="#d46cb4" opacity="0.7"/>
<circle cx="50.6" cy="229.4" r="1.1" fill="#da78bd" opacity="0.7"/>
<circle cx="50.7" cy="229.1" r="1.2" fill="#da78bd" opacity="0.7"/>
<path d="M85.7,287.2 87.6,286.0 88.4,283.5 88.1,282.7 84.4,280.5 81.8,282.4 81.4,284.5 81.9,285.7Z" fill="#d45fa8"/>
<circle cx="84.3" cy="284.6" r="1.2" fill="#e27bbd" opacity="0.7"/>
<circle cx="86.1" cy="284.9" r="0.9" fill="#bd4e9b" opacity="0.7"/>
<circle cx="84.7" cy="283.8" r="1.2" fill="#e480c1" opacity="0.7"/>
<path d="M94.7,255.8 95.1,255.2 95.4,250.8 94.3,250.0 93.0,249.8 89.7,253.1 89.7,254.6 90.4,255.8 91.5,256.5Z" fill="#c04794"/>
<circle cx="91.5" cy="254.3" r="1.0" fill="#cb5ea5" opacity="0.7"/>
<circle cx="92.3" cy="252.4" r="0.8" fill="#d066ab" opacity="0.7"/>
<circle cx="93.4" cy="252.9" r="1.1" fill="#a33183" opacity="0.7"/>
<path d="M36.4,231.5 37.8,232.9 42.0,232.3 43.1,230.3 42.6,227.6 41.6,226.5 39.6,225.9 37.1,227.2Z" fill="#c965a7"/>
<circle cx="40.9" cy="228.5" r="1.0" fill="#a74c93" opacity="0.7"/>
<circle cx="38.9" cy="230.6" r="1.4" fill="#d67eba" opacity="0.7"/>
<circle cx="40.3" cy="229.1" r="1.3" fill="#da88c1" opacity="0.7"/>
<path d="M124.1,280.7 128.6,280.3 129.0,279.9 129.0,277.1 128.2,275.8 126.6,274.6 125.2,274.5 122.6,277.2 122.9,279.0Z" fill="#c44c9e"/>
<circle cx="127.1" cy="278.0" r="1.1" fill="#a8378d" opacity="0.7"/>
<circle cx="126.3" cy="279.3" r="1.3" fill="#d064b0" opacity="0.7"/>
<circle cx="125.7" cy="276.9" r="0.9" fill="#b23f94" opacity="0.7"/>
<path d="M28.1,242.9 31.6,241.5 32.0,237.9 29.8,236.1 26.9,236.4 25.1,238.7 25.2,240.8Z" fill="#c460a6"/>
<ellipse cx="29.3" cy="239.5" rx="1.2" ry="1.2" fill="#e5a0cb" opacity="0.85"/>
<circle cx="29.0" cy="239.1" r="1.1" fill="#a14691" opacity="0.7"/>
<circle cx="29.0" cy="239.4" r="0.9" fill="#d079b9" opacity="0.7"/>
<circle cx="29.8" cy="240.5" r="1.4" fill="#a24692" opacity="0.7"/>
<path d="M145.1,209.6 143.2,210.9 142.4,213.3 143.0,215.1 144.9,216.0 147.4,215.0 148.3,214.0 148.8,212.1 148.0,210.3Z" fill="#bc4290"/>
<ellipse cx="145.5" cy="212.2" rx="1.1" ry="1.3" fill="#e7a5d0" opacity="0.85"/>
<circle cx="146.7" cy="211.6" r="0.8" fill="#c758a0" opacity="0.7"/>
<circle cx="144.4" cy="212.5" r="1.1" fill="#ab3586" opacity="0.7"/>
<circle cx="145.0" cy="213.9" r="1.0" fill="#9b2a7d" opacity="0.7"/>
<path d="M136.3,233.9 136.7,235.9 140.0,237.7 140.7,237.5 142.3,235.1 140.4,231.5 138.8,231.5Z" fill="#d461a7"/>
<circle cx="138.6" cy="233.9" r="0.8" fill="#df77b7" opacity="0.7"/>
<circle cx="139.8" cy="234.4" r="1.3" fill="#b24893" opacity="0.7"/>
<circle cx="140.4" cy="235.9" r="1.3" fill="#c0529b" opacity="0.7"/>
<path d="M132.4,200.0 133.2,202.5 135.4,203.6 137.7,202.7 138.8,200.2 138.0,197.7 135.7,196.5 133.4,197.4Z" fill="#d263aa"/>
<ellipse cx="135.4" cy="199.6" rx="1.3" ry="1.2" fill="#dd9fc6" opacity="0.85"/>
<circle cx="136.0" cy="199.8" r="1.1" fill="#b34c98" opacity="0.7"/>
<circle cx="136.9" cy="198.9" r="0.9" fill="#bc539d" opacity="0.7"/>
<circle cx="134.4" cy="200.6" r="1.1" fill="#b44c98" opacity="0.7"/>
<path d="M54.5,208.8 53.2,204.5 50.8,203.9 49.2,204.4 47.6,208.9 47.9,209.7 49.3,210.6 51.8,211.0 52.6,210.8Z" fill="#ba4591"/>
<ellipse cx="50.9" cy="207.1" rx="1.3" ry="1.4" fill="#e4a2cd" opacity="0.85"/>
<circle cx="51.3" cy="208.3" r="1.5" fill="#cc69ac" opacity="0.7"/>
<circle cx="50.9" cy="208.6" r="1.0" fill="#a63686" opacity="0.7"/>
<circle cx="51.0" cy="208.5" r="1.3" fill="#992c7e" opacity="0.7"/>
<path d="M40.5,260.6 41.1,260.4 43.9,256.0 43.0,254.7 41.1,253.5 38.6,253.5 37.3,254.2 36.3,255.4 36.0,257.7 36.6,259.0Z" fill="#b85298"/>
<circle cx="41.1" cy="256.9" r="1.5" fill="#953884" opacity="0.7"/>
<circle cx="40.4" cy="258.0" r="1.3" fill="#c063a5" opacity="0.7"/>
<circle cx="40.9" cy="256.5" r="1.0" fill="#9e3e89" opacity="0.7"/>
<path d="M23.1,257.0 24.1,256.0 24.6,254.6 24.1,251.4 21.8,249.4 19.7,249.4 18.2,250.6 17.6,252.0 18.2,255.2 20.4,257.2 21.8,257.4Z" fill="#cf61ac"/>
<circle cx="20.8" cy="254.2" r="1.1" fill="#b04a9a" opacity="0.7"/>
<circle cx="22.2" cy="253.9" r="1.0" fill="#e082c5" opacity="0.7"/>
<circle cx="22.0" cy="252.8" r="1.0" fill="#be54a2" opacity="0.7"/>
<path d="M108.9,244.0 110.9,238.5 108.7,236.9 106.5,236.9 105.1,237.8 104.1,239.5 104.3,241.9 105.1,243.3 106.4,244.2Z" fill="#ce5ca5"/>
<circle cx="106.6" cy="240.8" r="1.3" fill="#b14694" opacity="0.7"/>
<circle cx="106.8" cy="240.4" r="1.1" fill="#d972b6" opacity="0.7"/>
<circle cx="106.9" cy="241.9" r="1.1" fill="#ad4392" opacity="0.7"/>
<path d="M53.9,272.9 55.1,274.7 57.6,275.3 59.2,274.3 59.8,271.0 55.9,269.6 55.2,270.0Z" fill="#cb6aad"/>
<ellipse cx="57.2" cy="272.4" rx="1.2" ry="1.5" fill="#e3a2cb" opacity="0.85"/>
<circle cx="57.6" cy="273.1" r="1.1" fill="#d57ebc" opacity="0.7"/>
<circle cx="57.9" cy="273.3" r="1.4" fill="#dc8dc7" opacity="0.7"/>
<circle cx="58.4" cy="273.0" r="0.8" fill="#ad549c" opacity="0.7"/>
<path d="M58.6,200.2 62.5,204.7 65.3,203.8 66.7,201.1 66.6,199.6 65.8,198.2 64.6,197.2 63.1,196.7 61.5,196.8 60.1,197.6 59.1,198.8Z" fill="#b1458f"/>
<circle cx="62.5" cy="200.6" r="1.3" fill="#a03885" opacity="0.7"/>
<circle cx="63.9" cy="200.6" r="1.0" fill="#be5fa2" opacity="0.7"/>
<circle cx="62.7" cy="199.7" r="1.2" fill="#9c3583" opacity="0.7"/>
<path d="M79.5,211.2 83.9,213.0 85.9,210.5 86.0,209.6 84.5,207.6 82.0,207.0 79.8,208.4 79.3,209.6Z" fill="#c65ea4"/>
<circle cx="81.9" cy="210.5" r="0.9" fill="#d377b7" opacity="0.7"/>
<circle cx="82.4" cy="210.6" r="0.8" fill="#ae4c96" opacity="0.7"/>
<circle cx="81.8" cy="209.5" r="0.8" fill="#d072b3" opacity="0.7"/>
<path d="M109.6,214.6 111.5,218.7 115.2,218.1 115.9,217.3 116.0,214.8 113.0,212.4 110.6,212.9Z" fill="#bd4e96"/>
<circle cx="112.1" cy="215.0" r="1.0" fill="#c864a6" opacity="0.7"/>
<circle cx="113.3" cy="215.4" r="0.8" fill="#a73d89" opacity="0.7"/>
<circle cx="111.5" cy="215.2" r="0.9" fill="#9a3482" opacity="0.7"/>
<path d="M117.9,271.8 119.0,275.0 120.4,276.0 122.0,276.0 124.3,273.7 122.6,270.1 118.4,271.2Z" fill="#c6569e"/>
<ellipse cx="121.7" cy="272.8" rx="1.2" ry="1.1" fill="#e6a7d1" opacity="0.85"/>
<circle cx="122.4" cy="273.6" r="1.4" fill="#d36fb1" opacity="0.7"/>
<circle cx="121.5" cy="272.1" r="0.8" fill="#d06bad" opacity="0.7"/>
<circle cx="121.6" cy="272.1" r="1.0" fill="#cf68ab" opacity="0.7"/>
<path d="M129.5,220.8 130.7,220.9 132.9,219.5 133.3,216.4 132.2,215.3 129.6,215.0 128.3,215.5 127.1,216.9 127.0,218.1Z" fill="#cc5c9f"/>
<circle cx="130.3" cy="219.3" r="1.4" fill="#d66fae" opacity="0.7"/>
<circle cx="130.4" cy="218.3" r="1.3" fill="#a8418a" opacity="0.7"/>
<circle cx="130.4" cy="217.7" r="1.1" fill="#ba4f95" opacity="0.7"/>
<path d="M32.6,214.4 31.9,216.9 33.6,219.1 38.3,219.3 39.2,218.5 39.8,216.2 38.8,214.1 34.4,213.1Z" fill="#d464ae"/>
<circle cx="34.5" cy="215.0" r="1.4" fill="#e280c3" opacity="0.7"/>
<circle cx="36.5" cy="216.2" r="0.9" fill="#e485c7" opacity="0.7"/>
<circle cx="34.4" cy="215.1" r="1.3" fill="#be53a1" opacity="0.7"/>
<path d="M34.4,211.8 34.8,212.3 38.6,213.1 39.4,212.8 40.9,210.4 40.3,207.6 38.0,206.2 34.5,208.1Z" fill="#b24d97"/>
<circle cx="38.5" cy="208.6" r="1.0" fill="#bb5ea4" opacity="0.7"/>
<circle cx="36.9" cy="209.6" r="1.1" fill="#c36fb0" opacity="0.7"/>
<circle cx="37.4" cy="210.6" r="1.4" fill="#c16bad" opacity="0.7"/>
<path d="M111.6,260.4 113.1,262.4 115.5,262.8 118.0,257.3 116.7,256.2 112.6,257.4Z" fill="#d15fa8"/>
<circle cx="114.3" cy="259.7" r="1.2" fill="#bc509c" opacity="0.7"/>
<circle cx="113.9" cy="260.0" r="1.2" fill="#df7abc" opacity="0.7"/>
<circle cx="115.7" cy="260.1" r="0.9" fill="#e07ebf" opacity="0.7"/>
<path d="M110.1,295.7 108.7,295.6 107.5,296.3 106.7,301.7 107.5,302.7 109.6,303.4 111.0,303.1 112.2,302.3 113.3,299.6 113.0,298.1Z" fill="#c76cb1"/>
<ellipse cx="109.4" cy="299.7" rx="1.1" ry="1.3" fill="#dea1ca" opacity="0.85"/>
<circle cx="109.8" cy="299.6" r="1.0" fill="#d990cc" opacity="0.7"/>
<circle cx="109.8" cy="298.5" r="0.8" fill="#d485c4" opacity="0.7"/>
<circle cx="110.8" cy="298.6" r="1.4" fill="#a9559f" opacity="0.7"/>
<path d="M69.2,259.8 69.7,262.4 71.0,263.1 73.1,263.2 74.6,262.5 75.3,258.8 74.4,257.7 72.4,257.3Z" fill="#cd5daa"/>
<ellipse cx="71.8" cy="260.0" rx="1.4" ry="1.2" fill="#e2a4cc" opacity="0.85"/>
<circle cx="72.2" cy="259.9" r="0.9" fill="#ab4396" opacity="0.7"/>
<circle cx="72.9" cy="260.6" r="1.0" fill="#b2499a" opacity="0.7"/>
<circle cx="73.7" cy="261.4" r="0.8" fill="#de7ec3" opacity="0.7"/>
<path d="M100.0,282.4 99.1,284.4 100.0,286.6 102.1,287.4 104.3,286.3 105.3,284.0 104.5,281.8 103.6,281.3Z" fill="#be61a9"/>
<ellipse cx="102.3" cy="284.5" rx="1.5" ry="1.3" fill="#eaadd8" opacity="0.85"/>
<circle cx="102.6" cy="283.6" r="0.9" fill="#ca78ba" opacity="0.7"/>
<circle cx="102.2" cy="284.8" r="1.1" fill="#cd7fc0" opacity="0.7"/>
<circle cx="101.3" cy="285.3" r="1.0" fill="#a8509c" opacity="0.7"/>
<path d="M24.3,284.1 25.4,285.6 27.4,286.3 29.4,285.7 30.4,284.2 28.4,280.1 27.2,279.7 25.2,280.4Z" fill="#cf54a1"/>
<circle cx="28.6" cy="282.7" r="0.9" fill="#dd6fb5" opacity="0.7"/>
<circle cx="28.3" cy="283.3" r="1.3" fill="#b44091" opacity="0.7"/>
<circle cx="27.0" cy="281.9" r="1.1" fill="#ae3c8e" opacity="0.7"/>
<path d="M113.1,246.2 112.8,246.9 113.2,249.2 115.4,250.4 118.6,247.9 118.4,245.9 117.5,244.5Z" fill="#bd4593"/>
<circle cx="115.6" cy="247.7" r="0.8" fill="#c758a2" opacity="0.7"/>
<circle cx="116.0" cy="248.8" r="1.3" fill="#a63486" opacity="0.7"/>
<circle cx="116.0" cy="248.4" r="1.0" fill="#a53385" opacity="0.7"/>
<path d="M141.9,230.9 141.8,231.5 143.8,234.3 147.2,234.2 148.5,232.0 147.9,229.2 145.6,227.6 144.8,227.8Z" fill="#b9569b"/>
<circle cx="144.4" cy="231.4" r="1.1" fill="#973d87" opacity="0.7"/>
<circle cx="145.7" cy="231.5" r="0.8" fill="#993e88" opacity="0.7"/>
<circle cx="144.8" cy="232.0" r="0.9" fill="#a2458e" opacity="0.7"/>
<path d="M89.1,296.4 90.5,300.1 92.1,300.2 93.9,299.3 94.7,296.0 93.7,294.7 91.1,294.2Z" fill="#c655a3"/>
<circle cx="90.3" cy="297.5" r="1.4" fill="#a63d90" opacity="0.7"/>
<circle cx="91.2" cy="296.9" r="1.2" fill="#d472b9" opacity="0.7"/>
<circle cx="91.5" cy="297.2" r="1.0" fill="#b54899" opacity="0.7"/>
<path d="M121.2,211.0 122.6,211.5 123.9,211.1 125.9,207.5 125.6,205.8 124.3,204.6 121.9,204.6 120.0,206.6 119.8,207.4Z" fill="#c063a1"/>
<circle cx="122.5" cy="208.0" r="0.9" fill="#ab5395" opacity="0.7"/>
<circle cx="123.9" cy="207.9" r="1.2" fill="#ce7fb6" opacity="0.7"/>
<circle cx="123.7" cy="206.7" r="1.1" fill="#cb78b1" opacity="0.7"/>
<path d="M95.0,236.2 96.2,233.8 95.3,231.9 92.4,230.3 91.0,230.3 89.4,231.2 89.0,233.8 89.9,235.3 92.5,236.6Z" fill="#b4559b"/>
<circle cx="92.8" cy="234.2" r="1.1" fill="#9b438d" opacity="0.7"/>
<circle cx="91.5" cy="234.3" r="0.8" fill="#bd67a9" opacity="0.7"/>
<circle cx="92.6" cy="234.7" r="1.3" fill="#c678b5" opacity="0.7"/>
<path d="M130.1,296.0 131.9,294.9 132.6,292.6 132.2,291.4 131.1,290.4 129.0,290.0 127.0,291.2 126.3,293.6 126.9,294.7Z" fill="#b7589c"/>
<circle cx="129.6" cy="293.4" r="1.2" fill="#9a428b" opacity="0.7"/>
<circle cx="130.6" cy="293.5" r="0.8" fill="#c16cab" opacity="0.7"/>
<circle cx="128.6" cy="292.3" r="0.9" fill="#c778b4" opacity="0.7"/>
<path d="M117.6,297.0 118.1,298.5 119.2,299.5 120.6,300.1 122.7,300.2 123.2,299.8 124.2,295.9 122.8,294.6 119.1,294.7Z" fill="#c8549e"/>
<circle cx="121.0" cy="296.1" r="1.0" fill="#d46cb0" opacity="0.7"/>
<circle cx="122.2" cy="296.1" r="0.9" fill="#b34492" opacity="0.7"/>
<circle cx="120.7" cy="298.0" r="1.0" fill="#d46db1" opacity="0.7"/>
<path d="M69.9,298.5 70.8,300.8 72.7,302.1 75.3,302.0 76.7,300.4 75.1,295.9 73.9,295.2 72.8,295.2Z" fill="#c15298"/>
<ellipse cx="73.2" cy="299.0" rx="1.4" ry="1.1" fill="#eaacd4" opacity="0.85"/>
<circle cx="72.9" cy="297.5" r="0.9" fill="#d171b0" opacity="0.7"/>
<circle cx="74.5" cy="298.4" r="1.1" fill="#ce6dac" opacity="0.7"/>
<circle cx="73.6" cy="297.6" r="1.4" fill="#a43c87" opacity="0.7"/>
<path d="M129.4,273.6 129.8,274.4 131.0,275.1 132.9,275.2 135.1,272.3 134.4,269.5 132.5,268.5 131.4,268.6Z" fill="#d265aa"/>
<circle cx="133.6" cy="271.9" r="0.8" fill="#e488c4" opacity="0.7"/>
<circle cx="133.2" cy="271.6" r="0.9" fill="#c158a0" opacity="0.7"/>
<circle cx="131.1" cy="271.3" r="1.0" fill="#df7fbd" opacity="0.7"/>
<path d="M87.6,234.3 87.7,231.8 86.0,229.8 83.4,229.6 81.5,231.3 81.3,233.9 83.1,235.8 85.7,236.0Z" fill="#d867b1"/>
<circle cx="84.8" cy="232.4" r="1.2" fill="#bb51a0" opacity="0.7"/>
<circle cx="85.0" cy="233.5" r="0.8" fill="#c75aa7" opacity="0.7"/>
<circle cx="83.3" cy="232.7" r="0.8" fill="#e27bc0" opacity="0.7"/>
<path d="M130.3,241.2 129.0,243.8 129.3,246.2 133.7,247.1 134.5,242.9 132.2,240.6Z" fill="#d065a8"/>
<circle cx="132.3" cy="243.8" r="1.1" fill="#df83bf" opacity="0.7"/>
<circle cx="131.5" cy="244.0" r="1.3" fill="#d976b5" opacity="0.7"/>
<circle cx="132.7" cy="244.4" r="1.0" fill="#af4d95" opacity="0.7"/>
<path d="M49.5,279.6 52.5,277.7 52.8,276.2 51.9,274.0 49.3,273.3 46.3,276.7 47.3,278.8Z" fill="#cc59a6"/>
<circle cx="49.6" cy="277.2" r="0.8" fill="#bb4c9c" opacity="0.7"/>
<circle cx="50.5" cy="275.6" r="1.0" fill="#dc79be" opacity="0.7"/>
<circle cx="49.8" cy="276.6" r="1.1" fill="#dc78be" opacity="0.7"/>
<path d="M106.5,271.1 107.5,271.6 109.6,271.5 110.2,271.0 111.3,266.4 110.3,265.2 107.7,264.7 105.5,266.3 105.0,267.8Z" fill="#c9559e"/>
<circle cx="108.3" cy="268.5" r="1.2" fill="#d974b5" opacity="0.7"/>
<circle cx="107.6" cy="268.5" r="1.1" fill="#d770b2" opacity="0.7"/>
<circle cx="107.5" cy="268.8" r="1.3" fill="#d46aae" opacity="0.7"/>
<path d="M37.7,298.1 40.0,299.1 41.2,298.9 42.6,297.9 42.8,297.3 41.7,293.6 40.4,293.2 37.3,294.2 36.8,295.6Z" fill="#c85a9c"/>
<circle cx="38.6" cy="296.3" r="1.0" fill="#a9438a" opacity="0.7"/>
<circle cx="41.2" cy="297.3" r="1.2" fill="#a9438a" opacity="0.7"/>
<circle cx="41.0" cy="297.2" r="0.8" fill="#b44b90" opacity="0.7"/>
<path d="M59.0,242.7 58.6,243.3 59.1,247.9 61.1,249.2 63.4,249.1 64.2,248.7 65.0,247.5 63.7,242.6Z" fill="#bd4c94"/>
<ellipse cx="62.2" cy="246.1" rx="1.3" ry="1.7" fill="#de9fc8" opacity="0.85"/>
<circle cx="60.8" cy="246.2" r="1.0" fill="#cd6dad" opacity="0.7"/>
<circle cx="63.3" cy="246.7" r="1.4" fill="#cb67a8" opacity="0.7"/>
<circle cx="60.2" cy="244.4" r="1.2" fill="#c965a7" opacity="0.7"/>
<path d="M96.8,263.5 96.8,266.0 98.5,268.2 102.5,266.6 102.4,264.3 99.4,261.6 98.8,261.7Z" fill="#c04c97"/>
<ellipse cx="99.3" cy="265.4" rx="1.4" ry="1.1" fill="#e2a3cf" opacity="0.85"/>
<circle cx="98.3" cy="264.9" r="1.0" fill="#d16eb1" opacity="0.7"/>
<circle cx="99.7" cy="265.6" r="1.1" fill="#d16fb1" opacity="0.7"/>
<circle cx="98.3" cy="265.1" r="0.8" fill="#a13585" opacity="0.7"/>
<path d="M24.0,200.1 24.6,197.6 23.2,195.3 20.6,194.6 18.3,196.0 17.7,198.6 19.1,200.9 21.7,201.6Z" fill="#d667aa"/>
<circle cx="21.3" cy="198.0" r="0.8" fill="#c1579e" opacity="0.7"/>
<circle cx="21.2" cy="198.9" r="1.0" fill="#b54e97" opacity="0.7"/>
<circle cx="21.5" cy="198.1" r="1.4" fill="#e584c0" opacity="0.7"/>
<path d="M112.6,276.9 115.3,278.2 118.3,276.8 116.8,272.7 112.3,273.4Z" fill="#ba4797"/>
<ellipse cx="114.6" cy="275.1" rx="1.1" ry="1.5" fill="#efacd8" opacity="0.85"/>
<circle cx="115.9" cy="275.2" r="1.0" fill="#c964ad" opacity="0.7"/>
<circle cx="114.1" cy="276.2" r="1.3" fill="#cc6ab2" opacity="0.7"/>
<circle cx="115.4" cy="276.0" r="1.4" fill="#c45ba6" opacity="0.7"/>
<path d="M76.2,265.2 75.7,265.7 76.0,269.0 78.8,270.3 81.3,268.3 79.8,265.2Z" fill="#c95aa0"/>
<circle cx="77.6" cy="266.3" r="1.3" fill="#a6408c" opacity="0.7"/>
<circle cx="78.4" cy="268.9" r="1.2" fill="#b54b94" opacity="0.7"/>
<circle cx="79.7" cy="267.7" r="1.0" fill="#d777b5" opacity="0.7"/>
<path d="M20.0,274.1 19.4,275.8 20.1,277.5 24.4,278.8 25.8,277.8 26.3,275.2 24.9,273.0 24.2,272.8Z" fill="#be60a4"/>
<ellipse cx="22.8" cy="275.9" rx="1.3" ry="1.4" fill="#e19fc9" opacity="0.85"/>
<circle cx="23.8" cy="275.3" r="1.3" fill="#9c4790" opacity="0.7"/>
<circle cx="23.2" cy="276.7" r="1.3" fill="#9a458f" opacity="0.7"/>
<circle cx="24.1" cy="275.5" r="0.8" fill="#c875b4" opacity="0.7"/>
<path d="M65.7,296.6 67.0,297.8 69.1,297.8 71.9,294.5 71.4,292.4 70.0,291.4 66.1,292.6Z" fill="#ce57a5"/>
<ellipse cx="68.5" cy="294.2" rx="1.3" ry="1.4" fill="#ebaad3" opacity="0.85"/>
<circle cx="67.1" cy="293.5" r="1.2" fill="#ab3d91" opacity="0.7"/>
<circle cx="69.1" cy="295.1" r="1.0" fill="#db70b8" opacity="0.7"/>
<circle cx="67.4" cy="295.4" r="1.3" fill="#bc499a" opacity="0.7"/>
<path d="M110.0,286.7 112.0,290.2 115.9,289.7 117.4,287.5 117.0,286.1 114.6,284.5 111.2,285.3Z" fill="#d160a5"/>
<circle cx="114.4" cy="288.6" r="0.8" fill="#e383c0" opacity="0.7"/>
<circle cx="113.9" cy="287.9" r="1.0" fill="#dd78b7" opacity="0.7"/>
<circle cx="114.8" cy="286.1" r="0.9" fill="#ae4690" opacity="0.7"/>
<path d="M55.8,261.3 57.0,262.9 60.8,262.9 62.5,258.3 57.7,256.1 56.1,257.4Z" fill="#c1539b"/>
<circle cx="59.4" cy="259.7" r="1.5" fill="#cb68aa" opacity="0.7"/>
<circle cx="60.6" cy="258.4" r="1.4" fill="#cc6aac" opacity="0.7"/>
<circle cx="60.4" cy="261.0" r="1.4" fill="#d276b5" opacity="0.7"/>
<path d="M96.2,255.5 98.0,257.0 100.4,256.5 102.1,254.5 102.0,252.3 97.1,251.3 96.6,251.9Z" fill="#c75fa6"/>
<circle cx="100.0" cy="252.8" r="0.9" fill="#d070b3" opacity="0.7"/>
<circle cx="100.0" cy="254.8" r="1.1" fill="#a64693" opacity="0.7"/>
<circle cx="98.2" cy="252.5" r="0.9" fill="#b4519b" opacity="0.7"/>
<path d="M88.0,297.3 84.4,296.6 83.8,296.9 82.6,300.0 83.1,301.5 84.0,302.6 85.3,303.2 86.7,303.2 89.1,301.7 89.4,300.8Z" fill="#cb559d"/>
<ellipse cx="86.6" cy="299.6" rx="1.5" ry="1.2" fill="#dda0c8" opacity="0.85"/>
<circle cx="85.1" cy="298.1" r="0.9" fill="#d970b1" opacity="0.7"/>
<circle cx="85.4" cy="298.6" r="1.3" fill="#b74691" opacity="0.7"/>
<circle cx="86.7" cy="298.3" r="1.0" fill="#a93c89" opacity="0.7"/>
<path d="M59.6,232.9 61.1,233.3 62.4,233.1 64.4,231.2 64.6,230.2 62.7,226.7 60.1,226.7 58.2,228.6 57.9,229.9Z" fill="#c666a7"/>
<circle cx="61.0" cy="229.4" r="1.4" fill="#b3589c" opacity="0.7"/>
<circle cx="62.4" cy="229.0" r="1.0" fill="#d37fba" opacity="0.7"/>
<circle cx="60.8" cy="230.9" r="1.0" fill="#d584be" opacity="0.7"/>
<path d="M137.1,297.7 136.7,302.2 137.0,302.7 138.8,303.2 140.2,302.9 142.6,300.9 142.9,299.8 140.5,296.4Z" fill="#d15eaa"/>
<circle cx="140.5" cy="300.6" r="1.3" fill="#b94c9c" opacity="0.7"/>
<circle cx="140.4" cy="300.9" r="0.8" fill="#df7abf" opacity="0.7"/>
<circle cx="138.9" cy="299.4" r="1.3" fill="#c051a0" opacity="0.7"/>
<path d="M144.7,287.5 141.5,288.2 140.9,288.8 140.6,291.1 142.1,293.1 146.2,292.0 146.5,289.7 146.0,288.5Z" fill="#cc599e"/>
<circle cx="144.8" cy="289.9" r="1.2" fill="#dd7bb8" opacity="0.7"/>
<circle cx="144.5" cy="289.9" r="0.8" fill="#aa408a" opacity="0.7"/>
<circle cx="144.1" cy="291.3" r="1.1" fill="#d66dad" opacity="0.7"/>
<path d="M113.9,211.2 114.0,211.8 116.5,213.4 119.0,212.6 120.0,211.0 118.7,207.5 117.2,207.0 115.4,207.6Z" fill="#c44f9a"/>
<circle cx="117.9" cy="209.7" r="1.0" fill="#b1418f" opacity="0.7"/>
<circle cx="116.4" cy="209.6" r="1.0" fill="#b1408f" opacity="0.7"/>
<circle cx="116.0" cy="209.7" r="1.2" fill="#cd62a8" opacity="0.7"/>
<path d="M97.1,220.6 97.9,221.5 98.7,221.6 102.4,219.0 102.5,216.7 100.9,214.5 99.0,214.2 96.9,215.7Z" fill="#c54f9c"/>
<ellipse cx="99.6" cy="217.8" rx="1.4" ry="1.3" fill="#e8aad5" opacity="0.85"/>
<circle cx="98.8" cy="217.3" r="0.8" fill="#a93a8b" opacity="0.7"/>
<circle cx="100.6" cy="216.7" r="1.2" fill="#d268af" opacity="0.7"/>
<circle cx="98.9" cy="217.4" r="1.2" fill="#d065ac" opacity="0.7"/>
<path d="M87.7,266.2 90.3,267.3 93.3,264.4 90.6,261.4 89.0,261.5 87.2,262.9Z" fill="#c4529a"/>
<circle cx="89.5" cy="263.2" r="0.8" fill="#ae428d" opacity="0.7"/>
<circle cx="90.9" cy="264.5" r="1.0" fill="#ce67aa" opacity="0.7"/>
<circle cx="90.1" cy="264.3" r="1.3" fill="#cd63a7" opacity="0.7"/>
<path d="M144.3,268.7 143.7,269.7 143.6,271.1 146.3,273.5 147.6,273.5 149.0,272.6 149.6,270.4 148.5,268.4 147.3,267.8Z" fill="#cb5ea5"/>
<ellipse cx="146.6" cy="270.8" rx="1.3" ry="1.4" fill="#e0a2c9" opacity="0.85"/>
<circle cx="147.5" cy="271.5" r="1.2" fill="#ac4793" opacity="0.7"/>
<circle cx="148.0" cy="271.0" r="1.3" fill="#dc7fbe" opacity="0.7"/>
<circle cx="148.0" cy="269.7" r="1.3" fill="#ad4793" opacity="0.7"/>
<path d="M144.5,279.1 144.0,280.6 146.1,284.1 148.1,284.3 149.6,283.2 150.4,280.7 149.2,278.5 146.7,277.8Z" fill="#c260a8"/>
<ellipse cx="147.6" cy="281.0" rx="1.2" ry="1.2" fill="#eaaad3" opacity="0.85"/>
<circle cx="145.9" cy="282.1" r="1.0" fill="#d383c2" opacity="0.7"/>
<circle cx="147.2" cy="280.0" r="1.1" fill="#cc74b7" opacity="0.7"/>
<circle cx="147.3" cy="282.4" r="0.9" fill="#d07dbe" opacity="0.7"/>
<path d="M80.0,249.5 79.4,251.0 82.2,254.6 85.8,253.1 85.9,252.5 84.4,248.9Z" fill="#cb5aa2"/>
<ellipse cx="82.2" cy="251.7" rx="1.3" ry="1.0" fill="#eaacd5" opacity="0.85"/>
<circle cx="83.7" cy="251.0" r="1.0" fill="#ae4491" opacity="0.7"/>
<circle cx="83.8" cy="251.6" r="1.0" fill="#da78b8" opacity="0.7"/>
<circle cx="83.8" cy="252.1" r="1.3" fill="#b54a95" opacity="0.7"/>
<path d="M70.4,287.6 72.3,287.4 73.5,286.0 72.9,282.7 71.3,281.7 68.1,283.2 67.6,284.3Z" fill="#c656a0"/>
<circle cx="70.2" cy="284.2" r="0.8" fill="#b44895" opacity="0.7"/>
<circle cx="70.8" cy="284.8" r="1.1" fill="#b04693" opacity="0.7"/>
<circle cx="71.5" cy="284.9" r="1.1" fill="#a53d8d" opacity="0.7"/>
<path d="M75.1,197.5 74.0,195.8 71.2,194.9 68.8,195.9 67.9,198.2 69.3,200.6 72.1,201.6 74.0,200.8Z" fill="#d26cb0"/>
<circle cx="71.9" cy="197.9" r="0.8" fill="#dd82c1" opacity="0.7"/>
<circle cx="72.4" cy="198.2" r="1.4" fill="#bb5ba3" opacity="0.7"/>
<circle cx="72.8" cy="196.8" r="1.0" fill="#bc5ca3" opacity="0.7"/>
<path d="M110.1,234.0 110.7,236.2 112.7,237.4 113.9,237.2 116.1,234.8 114.4,231.7 111.8,231.7Z" fill="#c94fa0"/>
<circle cx="112.3" cy="233.5" r="0.8" fill="#d261ad" opacity="0.7"/>
<circle cx="112.6" cy="234.9" r="0.9" fill="#d76bb5" opacity="0.7"/>
<circle cx="113.6" cy="234.0" r="0.9" fill="#da71ba" opacity="0.7"/>
<path d="M131.2,200.4 131.2,197.8 129.4,196.0 126.9,196.1 125.0,198.2 125.0,200.8 126.8,202.5 129.3,202.4Z" fill="#c556a0"/>
<circle cx="126.9" cy="198.0" r="1.3" fill="#a23c8c" opacity="0.7"/>
<circle cx="127.4" cy="200.4" r="1.0" fill="#ac4391" opacity="0.7"/>
<circle cx="127.0" cy="199.3" r="1.2" fill="#a8408f" opacity="0.7"/>
<path d="M69.1,222.5 71.3,225.0 74.1,225.2 76.8,222.1 76.9,220.8 75.5,218.9 71.8,218.2 69.2,220.1Z" fill="#b95194"/>
<circle cx="72.0" cy="220.3" r="1.1" fill="#ca74ae" opacity="0.7"/>
<circle cx="72.1" cy="221.1" r="1.2" fill="#c365a3" opacity="0.7"/>
<circle cx="72.3" cy="221.9" r="1.4" fill="#c971ac" opacity="0.7"/>
<path d="M31.7,266.3 31.6,270.4 35.2,272.2 37.9,269.6 37.4,267.6 33.7,265.4Z" fill="#c353a1"/>
<circle cx="35.0" cy="269.9" r="1.1" fill="#aa4092" opacity="0.7"/>
<circle cx="32.9" cy="270.1" r="1.5" fill="#d170b7" opacity="0.7"/>
<circle cx="34.8" cy="269.9" r="1.0" fill="#d374ba" opacity="0.7"/>
<path d="M100.9,198.0 101.3,203.0 103.0,203.5 104.4,203.3 106.0,198.6 104.6,197.5 103.3,197.2Z" fill="#cf59a7"/>
<ellipse cx="103.0" cy="200.4" rx="1.2" ry="1.5" fill="#e8a6cd" opacity="0.85"/>
<circle cx="104.5" cy="201.3" r="1.1" fill="#bc4b9c" opacity="0.7"/>
<circle cx="102.1" cy="201.0" r="1.1" fill="#b64799" opacity="0.7"/>
<circle cx="103.6" cy="200.0" r="1.2" fill="#ae4194" opacity="0.7"/>
<path d="M110.2,254.0 112.5,256.3 115.9,255.1 116.1,254.3 115.1,251.4 112.6,250.7 110.4,252.5Z" fill="#b5448d"/>
<circle cx="113.4" cy="252.6" r="0.9" fill="#a23682" opacity="0.7"/>
<circle cx="113.5" cy="252.6" r="1.2" fill="#c25fa1" opacity="0.7"/>
<circle cx="113.4" cy="254.6" r="1.0" fill="#c666a7" opacity="0.7"/>
<path d="M95.2,240.4 95.2,245.5 95.8,246.2 96.5,246.3 100.7,244.1 100.8,242.4 100.0,241.2 96.7,239.8Z" fill="#b94696"/>
<ellipse cx="96.9" cy="243.1" rx="1.3" ry="1.1" fill="#e7a9d1" opacity="0.85"/>
<circle cx="98.6" cy="244.0" r="0.9" fill="#c45ca7" opacity="0.7"/>
<circle cx="97.2" cy="242.9" r="1.0" fill="#a03387" opacity="0.7"/>
<circle cx="96.4" cy="244.2" r="1.0" fill="#9d3186" opacity="0.7"/>
<path d="M75.5,270.0 72.6,271.8 72.5,273.7 73.0,274.5 76.6,275.6 78.2,274.3 78.1,271.8Z" fill="#c2589e"/>
<ellipse cx="75.3" cy="272.2" rx="1.2" ry="1.5" fill="#e4a3cf" opacity="0.85"/>
<circle cx="76.3" cy="272.8" r="1.2" fill="#cc6bac" opacity="0.7"/>
<circle cx="74.9" cy="273.4" r="1.1" fill="#d37bb8" opacity="0.7"/>
<circle cx="75.4" cy="272.0" r="0.8" fill="#cf72b1" opacity="0.7"/>
<path d="M121.8,238.5 123.2,238.8 124.0,238.3 125.3,234.3 124.7,233.2 123.1,232.4 122.4,232.5 119.7,235.3Z" fill="#c96eb3"/>
<circle cx="123.9" cy="235.9" r="1.0" fill="#ad59a3" opacity="0.7"/>
<circle cx="121.5" cy="235.5" r="0.8" fill="#b25ca5" opacity="0.7"/>
<circle cx="121.8" cy="235.0" r="1.1" fill="#ad59a3" opacity="0.7"/>
<path d="M61.0,271.1 60.5,274.9 64.0,276.8 66.4,274.7 66.5,272.6 66.1,272.1 61.8,270.5Z" fill="#d868af"/>
<circle cx="61.9" cy="273.6" r="0.9" fill="#e888c7" opacity="0.7"/>
<circle cx="63.4" cy="272.9" r="1.2" fill="#e27cbe" opacity="0.7"/>
<circle cx="63.4" cy="273.5" r="1.1" fill="#c75ba5" opacity="0.7"/>
<path d="M132.6,226.6 135.7,226.1 136.5,224.7 136.3,222.7 133.6,220.9 131.0,222.0 130.5,223.0 130.5,224.7Z" fill="#d45daf"/>
<ellipse cx="133.6" cy="224.2" rx="1.6" ry="1.4" fill="#eeaed9" opacity="0.85"/>
<circle cx="132.7" cy="223.2" r="1.3" fill="#dd6fbd" opacity="0.7"/>
<circle cx="132.3" cy="225.0" r="1.2" fill="#e37ac5" opacity="0.7"/>
<circle cx="134.5" cy="225.1" r="1.1" fill="#b8489f" opacity="0.7"/>
<path d="M53.1,226.8 56.0,227.3 57.3,227.0 58.5,225.9 56.3,220.2 50.9,222.3 50.9,224.4Z" fill="#bc4e9b"/>
<circle cx="53.9" cy="224.7" r="1.3" fill="#a0398b" opacity="0.7"/>
<circle cx="53.7" cy="224.4" r="1.2" fill="#ca69b0" opacity="0.7"/>
<circle cx="54.8" cy="224.5" r="0.9" fill="#a13a8b" opacity="0.7"/>
<path d="M82.7,201.1 84.1,201.5 86.8,199.8 87.3,196.2 86.1,195.0 83.4,194.7 81.3,196.4 81.1,197.1Z" fill="#ca58a1"/>
<circle cx="84.4" cy="198.2" r="1.0" fill="#ac418f" opacity="0.7"/>
<circle cx="83.8" cy="197.0" r="0.8" fill="#b14592" opacity="0.7"/>
<circle cx="83.5" cy="199.1" r="1.0" fill="#da78b9" opacity="0.7"/>
<path d="M132.9,261.4 137.3,261.9 138.3,261.2 138.6,260.3 137.3,256.6 135.3,256.5 133.9,257.1 132.3,260.0Z" fill="#c064a9"/>
<circle cx="135.5" cy="258.6" r="1.1" fill="#a55099" opacity="0.7"/>
<circle cx="136.1" cy="260.6" r="1.1" fill="#d083c1" opacity="0.7"/>
<circle cx="134.8" cy="260.5" r="0.9" fill="#cd7ebd" opacity="0.7"/>
<path d="M135.8,268.9 135.5,269.5 136.6,271.8 139.4,272.5 141.2,271.2 141.3,268.7 139.8,267.0 138.9,266.9Z" fill="#ca55a5"/>
<ellipse cx="138.8" cy="269.9" rx="1.4" ry="1.5" fill="#e3a1ca" opacity="0.85"/>
<circle cx="138.9" cy="268.8" r="0.9" fill="#d770b9" opacity="0.7"/>
<circle cx="138.0" cy="270.0" r="1.0" fill="#db77bf" opacity="0.7"/>
<circle cx="138.5" cy="268.6" r="1.3" fill="#b44498" opacity="0.7"/>
<path d="M19.2,273.0 24.0,271.5 23.4,267.9 22.7,267.1 20.2,266.2 18.2,267.6 17.8,270.4Z" fill="#d766af"/>
<circle cx="22.0" cy="270.2" r="0.9" fill="#e480c2" opacity="0.7"/>
<circle cx="20.7" cy="269.1" r="1.0" fill="#bf54a1" opacity="0.7"/>
<circle cx="20.4" cy="269.4" r="0.8" fill="#bf54a1" opacity="0.7"/>
<path d="M42.1,245.9 47.6,246.9 49.0,245.0 49.0,242.7 43.7,240.6 42.4,241.5 41.6,242.8 41.5,244.9Z" fill="#ba4896"/>
<ellipse cx="44.8" cy="243.7" rx="1.7" ry="1.2" fill="#efadd5" opacity="0.85"/>
<circle cx="46.4" cy="244.2" r="1.2" fill="#c864ab" opacity="0.7"/>
<circle cx="44.0" cy="243.8" r="1.0" fill="#cb6ab0" opacity="0.7"/>
<circle cx="44.7" cy="244.1" r="1.2" fill="#a03587" opacity="0.7"/>
<path d="M121.6,256.1 121.3,257.5 124.6,261.5 127.4,259.3 125.8,254.5 123.7,254.3Z" fill="#c4579f"/>
<circle cx="123.4" cy="259.1" r="1.3" fill="#d57ab9" opacity="0.7"/>
<circle cx="123.5" cy="256.8" r="1.3" fill="#ce6bae" opacity="0.7"/>
<circle cx="123.6" cy="258.5" r="1.2" fill="#d67bba" opacity="0.7"/>
<path d="M143.8,204.7 143.4,206.3 144.3,208.3 148.8,209.4 150.0,208.7 150.7,207.4 150.5,204.4 149.0,202.7Z" fill="#c658a0"/>
<circle cx="148.0" cy="206.3" r="1.1" fill="#d16eb1" opacity="0.7"/>
<circle cx="146.3" cy="207.0" r="0.9" fill="#d16eb1" opacity="0.7"/>
<circle cx="148.4" cy="206.4" r="0.9" fill="#ce69ad" opacity="0.7"/>
<path d="M125.2,211.1 126.3,213.2 128.6,214.0 130.7,212.9 131.4,210.7 130.3,208.4 128.0,207.7 126.8,208.1Z" fill="#ce54a8"/>
<circle cx="129.5" cy="211.3" r="1.1" fill="#b44099" opacity="0.7"/>
<circle cx="129.3" cy="210.1" r="1.2" fill="#dc6fbd" opacity="0.7"/>
<circle cx="128.6" cy="211.0" r="1.2" fill="#dd73bf" opacity="0.7"/>
<path d="M29.3,201.5 30.4,201.6 32.7,200.1 33.2,198.8 32.6,196.3 30.4,194.9 27.9,195.5 26.6,197.7 27.1,200.1Z" fill="#b0418b"/>
<circle cx="31.4" cy="197.3" r="1.4" fill="#982f7d" opacity="0.7"/>
<circle cx="31.1" cy="199.4" r="1.4" fill="#9b317f" opacity="0.7"/>
<circle cx="29.5" cy="199.7" r="1.1" fill="#982f7d" opacity="0.7"/>
<path d="M75.8,218.0 76.8,217.3 77.5,212.7 76.7,211.8 72.7,212.3 72.1,213.2 72.4,216.4 73.2,217.3Z" fill="#cc6bb0"/>
<ellipse cx="74.4" cy="214.0" rx="1.4" ry="1.2" fill="#eba9d4" opacity="0.85"/>
<circle cx="75.4" cy="214.1" r="1.1" fill="#d67ebf" opacity="0.7"/>
<circle cx="76.1" cy="215.0" r="1.0" fill="#b65aa3" opacity="0.7"/>
<circle cx="75.3" cy="214.8" r="1.1" fill="#b75ba4" opacity="0.7"/>
<path d="M58.6,294.8 59.5,295.9 64.4,296.6 64.9,292.6 62.6,290.8 59.0,292.5Z" fill="#bc5d9b"/>
<circle cx="62.5" cy="294.8" r="1.1" fill="#a64c8e" opacity="0.7"/>
<circle cx="61.3" cy="295.4" r="0.8" fill="#c977ae" opacity="0.7"/>
<circle cx="63.2" cy="292.8" r="0.8" fill="#a0488b" opacity="0.7"/>
<path d="M93.3,279.5 94.8,280.1 96.1,279.7 98.3,274.9 96.9,272.8 92.5,273.4 91.7,274.3Z" fill="#c85a9f"/>
<ellipse cx="94.4" cy="276.1" rx="1.1" ry="1.4" fill="#e29fc9" opacity="0.85"/>
<circle cx="95.2" cy="276.4" r="1.3" fill="#af4790" opacity="0.7"/>
<circle cx="94.4" cy="276.1" r="1.1" fill="#b04891" opacity="0.7"/>
<circle cx="96.2" cy="275.6" r="1.2" fill="#da7dba" opacity="0.7"/>
<path d="M28.1,247.9 28.6,248.6 30.2,249.2 33.3,248.9 34.8,245.3 31.9,242.8 28.9,243.8Z" fill="#be4e93"/>
<ellipse cx="30.8" cy="245.6" rx="1.4" ry="1.5" fill="#eeacd8" opacity="0.85"/>
<circle cx="31.5" cy="246.3" r="1.5" fill="#cf6fac" opacity="0.7"/>
<circle cx="31.6" cy="244.7" r="1.2" fill="#c863a3" opacity="0.7"/>
<circle cx="29.7" cy="245.8" r="1.2" fill="#a03882" opacity="0.7"/>
<path d="M39.7,239.8 41.6,239.8 43.3,238.4 43.6,235.5 41.6,233.4 38.1,233.8 36.9,235.6 37.0,236.9Z" fill="#c14d9c"/>
<circle cx="41.7" cy="236.0" r="1.5" fill="#af4092" opacity="0.7"/>
<circle cx="41.4" cy="236.5" r="1.4" fill="#a5388c" opacity="0.7"/>
<circle cx="39.5" cy="236.2" r="1.1" fill="#a93b8e" opacity="0.7"/>
<path d="M75.7,262.4 76.7,264.0 80.0,264.1 81.6,262.1 81.6,261.3 81.1,260.0 79.7,258.8 76.9,258.9 76.4,259.3Z" fill="#ce54a5"/>
<circle cx="78.8" cy="261.0" r="1.1" fill="#b94499" opacity="0.7"/>
<circle cx="77.7" cy="262.6" r="1.3" fill="#ae3c93" opacity="0.7"/>
<circle cx="78.8" cy="261.0" r="1.1" fill="#b54197" opacity="0.7"/>
<path d="M144.8,254.9 145.6,259.2 148.0,259.5 150.0,258.1 150.3,255.8 148.9,254.0 146.8,253.6Z" fill="#cc54a1"/>
<circle cx="148.3" cy="257.8" r="0.9" fill="#d86bb2" opacity="0.7"/>
<circle cx="146.5" cy="255.8" r="0.9" fill="#ad3d8f" opacity="0.7"/>
<circle cx="148.0" cy="258.0" r="1.4" fill="#b94696" opacity="0.7"/>
<path d="M62.5,264.4 67.9,264.0 68.5,262.4 67.8,260.0 64.8,258.3 63.6,258.6 61.8,263.1Z" fill="#c863ac"/>
<circle cx="63.8" cy="262.8" r="1.1" fill="#b353a0" opacity="0.7"/>
<circle cx="65.1" cy="263.0" r="1.4" fill="#d67fc1" opacity="0.7"/>
<circle cx="64.6" cy="263.3" r="1.2" fill="#d985c6" opacity="0.7"/>
<path d="M134.9,248.7 133.8,253.7 135.9,254.8 138.3,254.5 139.4,253.4 139.0,250.0 138.3,249.4Z" fill="#c04a9c"/>
<ellipse cx="136.2" cy="251.8" rx="1.4" ry="1.1" fill="#e2a1cc" opacity="0.85"/>
<circle cx="136.2" cy="250.5" r="0.8" fill="#9e3088" opacity="0.7"/>
<circle cx="136.5" cy="250.5" r="0.8" fill="#d16cb5" opacity="0.7"/>
<circle cx="136.4" cy="251.3" r="0.9" fill="#a8388e" opacity="0.7"/>
<path d="M41.4,269.8 46.6,268.7 47.5,266.8 47.1,265.1 42.0,263.9 40.1,267.5Z" fill="#a83e85"/>
<circle cx="43.5" cy="265.9" r="1.2" fill="#862571" opacity="0.7"/>
<circle cx="42.6" cy="266.8" r="1.4" fill="#8f2c77" opacity="0.7"/>
<circle cx="42.4" cy="266.0" r="0.9" fill="#b9609e" opacity="0.7"/>
<path d="M21.9,296.7 20.8,296.4 19.1,296.9 17.8,298.9 18.4,301.4 20.7,302.9 23.0,302.5 24.3,300.5 24.2,299.7Z" fill="#b74391"/>
<circle cx="20.3" cy="299.2" r="0.9" fill="#982c7f" opacity="0.7"/>
<circle cx="21.0" cy="298.4" r="1.2" fill="#c660a7" opacity="0.7"/>
<circle cx="19.8" cy="300.8" r="1.3" fill="#992d80" opacity="0.7"/>
<path d="M88.0,199.8 91.7,202.0 93.2,200.9 93.7,197.7 92.2,195.8 89.7,195.7 88.3,196.8Z" fill="#b9569f"/>
<circle cx="90.3" cy="199.5" r="0.9" fill="#9a3f8d" opacity="0.7"/>
<circle cx="91.2" cy="200.3" r="1.3" fill="#a14491" opacity="0.7"/>
<circle cx="89.5" cy="199.4" r="1.0" fill="#973d8b" opacity="0.7"/>
<path d="M80.2,281.4 81.3,281.5 83.6,279.7 83.8,278.2 82.5,276.1 79.3,275.3 77.8,276.5 77.7,279.1 78.3,280.0Z" fill="#d16bb2"/>
<ellipse cx="80.7" cy="277.8" rx="1.2" ry="1.2" fill="#e6a3cf" opacity="0.85"/>
<circle cx="80.7" cy="278.5" r="1.1" fill="#af529e" opacity="0.7"/>
<circle cx="81.3" cy="279.5" r="1.0" fill="#bd5ca6" opacity="0.7"/>
<circle cx="79.6" cy="278.6" r="0.8" fill="#de85c5" opacity="0.7"/>
<path d="M59.9,282.8 59.8,283.6 63.2,286.2 66.2,284.5 66.6,283.3 63.9,280.1Z" fill="#bf5295"/>
<circle cx="62.2" cy="282.8" r="1.1" fill="#9b3780" opacity="0.7"/>
<circle cx="63.4" cy="284.5" r="0.8" fill="#cb6aa7" opacity="0.7"/>
<circle cx="64.7" cy="282.0" r="1.1" fill="#ad448a" opacity="0.7"/>
<path d="M112.5,201.1 113.9,201.2 114.9,200.7 116.0,197.7 114.8,195.6 112.6,194.8 110.8,195.4 109.7,197.6 109.9,198.5Z" fill="#ba599f"/>
<ellipse cx="113.5" cy="198.0" rx="1.5" ry="1.3" fill="#e19fcd" opacity="0.85"/>
<circle cx="113.0" cy="197.8" r="1.3" fill="#a24791" opacity="0.7"/>
<circle cx="114.0" cy="198.9" r="1.2" fill="#ca79b7" opacity="0.7"/>
<circle cx="112.3" cy="198.2" r="1.2" fill="#c670b0" opacity="0.7"/>
<path d="M110.3,243.8 110.5,244.4 112.4,245.3 116.6,243.1 113.5,239.0 112.4,238.8 111.9,239.2Z" fill="#bc5196"/>
<circle cx="112.4" cy="242.6" r="0.9" fill="#c96baa" opacity="0.7"/>
<circle cx="112.0" cy="242.9" r="1.2" fill="#9a3782" opacity="0.7"/>
<circle cx="112.7" cy="243.4" r="0.9" fill="#a13d87" opacity="0.7"/>
<path d="M111.4,230.3 114.9,230.3 116.0,228.4 115.3,226.3 110.6,225.4 110.1,225.7 109.6,226.7Z" fill="#c755a1"/>
<circle cx="114.3" cy="228.3" r="1.1" fill="#d36cb2" opacity="0.7"/>
<circle cx="113.0" cy="228.4" r="1.0" fill="#d878bb" opacity="0.7"/>
<circle cx="112.4" cy="227.6" r="0.9" fill="#a93f90" opacity="0.7"/>
<path d="M100.1,296.4 99.6,295.9 96.0,295.7 94.8,300.1 95.1,300.8 97.5,302.1 99.9,301.6Z" fill="#c2579a"/>
<circle cx="98.0" cy="298.2" r="0.9" fill="#a13e87" opacity="0.7"/>
<circle cx="97.1" cy="297.5" r="1.3" fill="#a6428a" opacity="0.7"/>
<circle cx="98.2" cy="298.8" r="1.0" fill="#d277b2" opacity="0.7"/>
<path d="M71.1,232.7 76.3,231.1 76.5,229.9 74.0,226.1 71.4,226.3 69.6,230.9Z" fill="#bd509b"/>
<circle cx="72.0" cy="231.0" r="1.1" fill="#c968ad" opacity="0.7"/>
<circle cx="71.8" cy="228.8" r="1.3" fill="#ce72b4" opacity="0.7"/>
<circle cx="72.2" cy="230.3" r="1.0" fill="#9e3989" opacity="0.7"/>
<path d="M117.3,264.7 116.3,266.0 118.1,270.0 122.7,268.5 123.0,267.0 122.7,265.4Z" fill="#d666a8"/>
<ellipse cx="119.9" cy="267.6" rx="1.2" ry="1.5" fill="#e1a2c9" opacity="0.85"/>
<circle cx="120.2" cy="268.0" r="1.1" fill="#e584bf" opacity="0.7"/>
<circle cx="118.0" cy="267.5" r="0.9" fill="#e380bc" opacity="0.7"/>
<circle cx="119.2" cy="266.9" r="1.2" fill="#e17bb8" opacity="0.7"/>
<path d="M90.9,206.5 91.6,207.8 95.6,208.2 96.9,205.1 93.2,202.6 91.8,203.4Z" fill="#c66caa"/>
<circle cx="92.6" cy="204.7" r="1.1" fill="#b05c9d" opacity="0.7"/>
<circle cx="93.3" cy="206.5" r="1.1" fill="#a45296" opacity="0.7"/>
<circle cx="92.9" cy="206.7" r="1.1" fill="#d589c0" opacity="0.7"/>
<path d="M79.6,290.8 80.8,292.5 82.9,293.1 85.6,289.4 84.7,288.0 81.6,287.0 79.8,288.4Z" fill="#dc6fb0"/>
<ellipse cx="82.0" cy="290.5" rx="1.2" ry="1.5" fill="#e2a3ce" opacity="0.85"/>
<circle cx="82.1" cy="291.4" r="1.3" fill="#e988c3" opacity="0.7"/>
<circle cx="83.0" cy="289.6" r="0.9" fill="#e581bd" opacity="0.7"/>
<circle cx="83.2" cy="289.9" r="0.9" fill="#e886c1" opacity="0.7"/>
<path d="M130.3,301.4 130.8,302.2 132.4,302.7 134.9,301.8 135.7,300.7 135.5,297.6 133.4,296.3 131.0,297.2Z" fill="#c75ca2"/>
<ellipse cx="132.4" cy="300.0" rx="1.4" ry="1.6" fill="#e8a8d4" opacity="0.85"/>
<circle cx="133.1" cy="300.8" r="0.8" fill="#d679b8" opacity="0.7"/>
<circle cx="131.9" cy="300.0" r="0.9" fill="#d579b8" opacity="0.7"/>
<circle cx="133.7" cy="299.5" r="1.0" fill="#b04b95" opacity="0.7"/>
<path d="M60.8,213.5 62.0,214.0 64.1,213.7 65.8,211.7 63.9,207.2 61.5,207.2 59.6,208.9Z" fill="#ba4593"/>
<ellipse cx="62.7" cy="210.4" rx="1.2" ry="1.6" fill="#eeacd4" opacity="0.85"/>
<circle cx="63.6" cy="209.2" r="1.1" fill="#a53587" opacity="0.7"/>
<circle cx="63.9" cy="211.3" r="1.4" fill="#c55ba3" opacity="0.7"/>
<circle cx="61.8" cy="209.0" r="1.0" fill="#a73688" opacity="0.7"/>
<path d="M137.3,226.4 139.1,230.0 140.5,230.4 143.7,227.1 139.7,224.0 138.2,224.9Z" fill="#c059a3"/>
<ellipse cx="140.8" cy="227.4" rx="1.4" ry="1.6" fill="#e5a5d0" opacity="0.85"/>
<circle cx="139.9" cy="226.1" r="0.9" fill="#a64594" opacity="0.7"/>
<circle cx="139.1" cy="228.0" r="1.1" fill="#d27cbd" opacity="0.7"/>
<circle cx="140.7" cy="228.0" r="1.4" fill="#af4c99" opacity="0.7"/>
<path d="M98.8,231.5 99.3,232.3 102.5,233.2 103.7,232.9 104.7,227.4 100.6,226.8Z" fill="#ca5eaa"/>
<circle cx="100.7" cy="231.1" r="1.3" fill="#a94597" opacity="0.7"/>
<circle cx="102.1" cy="228.7" r="1.1" fill="#b34d9d" opacity="0.7"/>
<circle cx="102.5" cy="229.2" r="0.8" fill="#d472b9" opacity="0.7"/>
<path d="M133.6,276.0 134.0,277.2 138.8,278.3 139.5,277.7 139.3,274.0 138.9,273.5 135.9,273.1Z" fill="#d164aa"/>
<ellipse cx="137.4" cy="274.9" rx="1.3" ry="1.6" fill="#e8a8cf" opacity="0.85"/>
<circle cx="135.7" cy="274.9" r="1.2" fill="#b44e99" opacity="0.7"/>
<circle cx="137.4" cy="276.7" r="1.2" fill="#e185c3" opacity="0.7"/>
<circle cx="135.7" cy="275.9" r="1.2" fill="#c057a0" opacity="0.7"/>
</g>
</g>
<clipPath id="clip2"><rect x="147.7" y="204.0" width="115.40000000000003" height="89.69999999999999"/></clipPath>
<g clip-path="url(#clip2)">
<rect x="147.7" y="204.0" width="115.40000000000003" height="89.69999999999999" fill="#e6e4f0"/>
<g filter="url(#soft)">
<path d="M261.2,207.8 260.4,208.0 259.5,209.3 259.5,213.2 261.4,216.1 263.2,216.6 268.1,214.8 268.6,213.6 268.3,211.9 266.9,209.2Z" fill="#ecb0dc"/>
<path d="M144.1,295.4 141.1,297.1 139.5,300.2 140.2,302.8 142.6,304.2 146.3,303.5 148.8,301.4 149.1,300.6 148.6,296.4Z" fill="#ecb0dc"/>
<path d="M161.6,213.1 162.3,213.7 165.8,214.5 167.6,214.0 169.6,210.3 168.6,207.3 165.6,205.8 162.3,207.0 160.7,210.0Z" fill="#ecb0dc"/>
<path d="M257.3,226.5 259.3,225.3 260.5,223.3 260.8,221.1 260.2,219.0 258.0,216.9 254.0,216.8 249.7,220.9 249.8,224.0 252.1,226.2Z" fill="#ecb0dc"/>
<path d="M259.0,231.4 259.4,232.2 264.9,235.5 266.4,235.3 268.1,234.3 269.4,231.0 268.8,228.7 267.3,227.0 265.4,225.9 263.0,225.5 260.9,226.0 259.4,227.2Z" fill="#ecb0dc"/>
<path d="M222.4,294.9 222.7,291.3 220.4,288.6 216.9,288.4 214.2,290.7 213.9,294.3 216.1,297.0 219.7,297.2Z" fill="#ecb0dc"/>
<path d="M229.0,296.5 231.1,296.0 234.3,291.1 231.7,288.0 227.7,287.4 225.7,288.1 224.3,289.5 223.7,292.9 224.9,294.7Z" fill="#ecb0dc"/>
<path d="M235.0,199.2 231.9,198.3 228.7,200.0 227.3,203.4 228.6,206.6 231.9,207.6 235.2,205.8 236.5,202.4Z" fill="#ecb0dc"/>
<path d="M249.5,259.3 250.4,261.2 252.3,262.3 256.1,262.2 258.8,260.0 259.3,258.4 259.2,256.9 258.2,255.2 256.5,254.0 254.6,253.4 252.1,253.6 251.3,254.3Z" fill="#ecb0dc"/>
<path d="M184.8,220.8 186.0,219.2 186.0,218.3 183.5,212.8 182.7,212.2 180.5,211.9 177.6,213.3 175.9,217.6 176.2,219.3 177.4,221.1 179.5,222.1Z" fill="#ecb0dc"/>
<path d="M259.5,281.0 262.2,281.2 263.0,280.8 265.2,277.9 265.4,276.9 264.0,273.3 262.7,272.3 259.0,272.2 256.9,273.3 255.7,274.9 255.5,276.8 256.3,278.7Z" fill="#ecb0dc"/>
<path d="M259.1,258.2 260.9,259.9 266.4,260.0 268.8,257.6 269.5,254.0 262.1,251.1 259.1,254.4 258.7,256.3Z" fill="#ecb0dc"/>
<path d="M234.1,263.3 235.1,260.2 233.8,257.0 230.7,255.7 227.6,257.0 226.2,260.2 227.6,263.5 231.3,264.8 233.0,264.2Z" fill="#ecb0dc"/>
<path d="M172.4,290.5 170.3,291.9 169.5,294.5 172.9,300.4 174.8,300.8 177.3,300.1 179.3,298.0 179.9,294.1 179.4,292.6 177.2,290.7Z" fill="#ecb0dc"/>
<path d="M185.7,280.9 186.9,277.9 185.9,274.9 184.5,273.5 182.4,272.6 180.3,272.5 178.3,273.1 176.8,274.4 176.0,276.2 176.1,278.2 178.4,281.3 181.6,282.4Z" fill="#ecb0dc"/>
<path d="M261.4,268.7 263.3,269.4 265.4,269.1 267.1,268.1 268.3,266.5 268.7,263.5 266.9,260.4 266.1,260.0 261.1,259.5 260.3,259.8 258.4,261.8 258.3,263.7Z" fill="#ecb0dc"/>
<path d="M164.1,282.7 163.5,279.2 160.7,276.9 157.9,277.0 155.6,279.7 155.9,284.2 157.1,285.9 159.0,287.0 161.0,286.9 161.7,286.5Z" fill="#ecb0dc"/>
<path d="M142.7,289.0 141.2,291.6 141.6,295.1 148.3,296.0 150.3,292.9 149.6,288.4 149.0,287.7 147.4,287.4Z" fill="#ecb0dc"/>
<path d="M205.2,246.1 203.8,246.4 202.3,248.3 201.7,252.2 203.3,255.3 204.8,256.1 206.2,256.1 208.0,255.4 209.7,253.6 210.5,251.6 210.7,249.1 210.1,248.2Z" fill="#ecb0dc"/>
<path d="M189.5,262.1 189.0,262.9 188.6,265.7 190.2,269.1 194.5,270.8 197.1,269.9 198.5,268.2 198.9,267.0 197.0,260.9 195.8,260.0 193.6,259.8Z" fill="#ecb0dc"/>
<path d="M185.4,254.3 184.9,255.3 185.3,260.0 186.5,261.4 190.7,261.9 192.7,260.8 194.0,259.1 194.2,257.0 192.0,253.2 191.3,252.7 188.7,252.5Z" fill="#ecb0dc"/>
<path d="M225.7,256.8 226.6,257.0 231.5,255.4 233.1,252.3 232.6,250.1 228.0,246.3 227.2,246.1 225.2,246.6 223.5,248.4 223.5,254.6Z" fill="#ecb0dc"/>
<path d="M152.7,294.6 150.8,295.0 148.9,296.5 148.6,301.2 150.4,303.4 153.2,304.2 156.9,302.3 157.6,300.9 157.8,299.1 156.3,295.9Z" fill="#ecb0dc"/>
<path d="M183.9,238.5 182.7,240.7 184.0,245.2 188.3,245.9 189.3,245.5 191.4,242.0 190.7,239.1 189.3,237.8 187.4,237.2Z" fill="#ecb0dc"/>
<path d="M187.9,290.3 187.5,292.8 188.6,295.3 191.2,297.2 194.8,297.4 195.7,297.1 197.9,294.2 197.4,289.9 194.9,287.8 192.7,287.4 190.6,287.8Z" fill="#ecb0dc"/>
<path d="M188.7,205.6 188.3,206.4 188.4,208.7 191.2,211.8 194.0,212.1 196.7,210.6 197.1,209.7 196.9,206.4 194.3,203.8 191.6,203.6Z" fill="#ecb0dc"/>
<path d="M187.9,237.2 188.7,235.1 188.1,232.8 186.8,231.1 184.7,229.6 181.2,230.0 178.7,233.2 178.6,234.1 179.4,236.6 182.3,239.0 183.3,239.1Z" fill="#ecb0dc"/>
<path d="M168.0,197.1 166.3,196.4 164.0,196.7 161.1,199.2 160.4,202.4 161.6,205.2 162.4,205.8 168.1,206.5 170.7,204.8 171.1,202.8Z" fill="#ecb0dc"/>
<path d="M206.9,282.5 208.5,283.5 212.8,283.1 214.4,281.6 215.0,279.5 214.8,277.3 213.8,275.4 212.2,274.1 210.4,273.5 208.4,273.7 205.6,276.0 205.3,277.0Z" fill="#ecb0dc"/>
<path d="M189.9,285.1 191.8,286.7 193.8,287.1 195.8,286.8 197.6,285.9 198.9,283.5 198.0,279.0 196.3,277.8 194.3,277.3 190.1,279.0 188.8,281.7Z" fill="#ecb0dc"/>
<path d="M258.0,240.6 255.4,242.5 254.8,245.9 256.6,248.6 259.8,249.3 262.6,247.3 263.2,243.8 261.8,241.4Z" fill="#ecb0dc"/>
<path d="M245.5,250.4 246.5,251.9 251.6,253.4 252.5,253.2 254.0,251.8 254.7,250.2 254.8,248.1 254.2,246.2 251.6,243.8 249.0,243.6 246.1,245.7 245.7,246.5Z" fill="#ecb0dc"/>
<path d="M263.6,272.6 265.4,276.9 266.2,277.4 269.9,277.8 270.8,277.3 272.2,275.4 271.8,271.2 269.0,269.0 265.7,269.5 264.4,270.7Z" fill="#ecb0dc"/>
<path d="M197.3,269.0 196.4,271.2 196.5,273.4 197.4,275.3 199.0,276.8 204.7,276.6 206.7,274.9 207.3,271.9 204.7,267.7 203.9,267.3 199.7,267.1Z" fill="#ecb0dc"/>
<path d="M236.7,280.5 236.9,281.5 241.4,286.8 244.5,285.8 246.4,282.7 245.7,278.5 243.8,276.6 242.8,276.4 238.0,278.1Z" fill="#ecb0dc"/>
<path d="M144.3,253.4 146.5,253.0 148.7,251.5 149.5,249.7 149.3,247.7 147.6,245.5 145.7,244.6 141.7,244.7 139.0,246.9 138.7,249.9 141.2,252.7Z" fill="#ecb0dc"/>
<path d="M192.2,226.0 192.9,228.7 193.6,229.3 198.2,230.1 200.2,228.7 201.5,226.9 202.1,224.9 201.8,223.0 200.9,221.5 199.3,220.5 196.4,220.5 194.1,221.9Z" fill="#ecb0dc"/>
<path d="M166.1,227.9 169.8,228.2 173.0,226.2 174.3,222.8 173.0,220.4 171.3,219.6 169.3,219.5 165.9,221.1 164.2,225.0 164.9,226.8Z" fill="#ecb0dc"/>
<path d="M176.3,203.2 175.4,203.3 173.2,204.8 172.1,208.0 172.4,209.1 176.8,212.7 177.8,212.9 179.6,212.0 180.9,210.6 181.6,209.0 181.7,207.0 180.5,204.7Z" fill="#ecb0dc"/>
<path d="M149.4,232.4 146.7,232.1 142.4,234.1 141.0,236.6 141.2,238.2 141.9,239.4 143.5,240.4 145.6,240.8 148.6,240.2 150.5,239.0 151.7,237.6 152.1,235.3 151.8,234.4Z" fill="#ecb0dc"/>
<path d="M244.2,202.2 244.7,203.1 251.2,206.1 252.1,206.1 252.6,205.4 254.4,197.8 251.3,195.8 247.8,196.0 244.9,198.5 244.2,200.3Z" fill="#ecb0dc"/>
<path d="M186.2,277.4 187.5,278.8 189.4,279.5 194.6,277.4 195.7,275.7 195.7,273.5 194.3,270.7 189.8,268.8 187.9,269.3 186.6,270.2 185.1,273.4Z" fill="#ecb0dc"/>
<path d="M230.5,242.0 229.2,243.3 228.5,245.5 229.0,247.4 230.3,248.8 232.5,249.5 234.3,249.3 237.0,247.4 237.7,244.2 236.3,241.9 233.5,241.0Z" fill="#ecb0dc"/>
<path d="M236.5,202.6 237.3,203.1 241.1,203.2 244.0,201.2 244.7,199.7 244.9,197.6 244.2,195.7 242.8,194.3 240.9,193.4 238.6,193.3 236.5,194.0 234.9,195.3 233.9,197.6 234.0,198.5Z" fill="#ecb0dc"/>
<path d="M182.4,281.8 180.8,284.5 181.5,288.1 184.9,290.6 186.4,290.7 188.0,290.1 189.8,287.3 189.1,283.6 185.7,281.1 184.1,281.1Z" fill="#ecb0dc"/>
<path d="M230.4,285.8 231.4,285.6 234.4,282.5 234.8,281.0 233.6,277.9 230.5,276.5 227.4,277.8 226.1,281.1 227.4,284.4Z" fill="#ecb0dc"/>
<path d="M234.7,240.1 237.2,242.2 240.6,241.4 243.4,237.3 243.3,235.4 242.3,233.6 240.8,232.6 239.0,232.3 235.8,233.9 234.3,236.4Z" fill="#ecb0dc"/>
<path d="M185.4,219.7 185.3,220.6 187.5,226.0 188.1,226.5 190.5,227.1 192.7,226.1 195.0,220.5 192.0,217.5 191.0,217.3 186.5,218.6Z" fill="#ecb0dc"/>
<path d="M204.0,294.3 203.7,295.2 204.4,300.2 205.5,301.3 207.7,301.5 209.7,300.7 211.5,299.1 212.6,296.9 212.7,295.0 212.0,293.3 209.5,291.8 206.6,292.0Z" fill="#ecb0dc"/>
<path d="M242.8,209.4 245.3,212.3 246.3,212.6 249.9,211.7 251.3,209.7 251.1,206.8 249.9,205.1 245.6,203.4 244.6,203.5 243.1,205.2Z" fill="#ecb0dc"/>
<path d="M147.2,220.1 150.0,221.3 152.1,220.9 153.8,219.5 155.0,216.4 154.1,213.6 149.5,211.2 147.9,211.6 146.7,212.7 145.5,216.1Z" fill="#ecb0dc"/>
<path d="M217.2,270.9 216.0,273.1 216.1,275.0 216.9,276.7 218.5,277.9 222.8,277.7 224.4,276.5 225.5,275.0 225.6,274.1 223.1,268.5Z" fill="#ecb0dc"/>
<path d="M178.9,297.1 179.5,299.2 180.9,300.8 182.7,301.7 184.7,302.0 187.9,300.5 189.0,298.8 189.3,296.8 188.9,294.8 187.7,293.1 185.9,291.9 183.5,291.4 181.3,292.0 179.8,293.3Z" fill="#ecb0dc"/>
<path d="M175.2,201.3 175.7,203.1 176.4,203.7 180.8,205.0 181.8,204.7 184.1,201.9 184.4,199.9 183.8,197.7 181.3,195.6 179.5,195.4 178.1,195.8 176.4,197.3Z" fill="#ecb0dc"/>
<path d="M198.5,235.6 199.0,233.5 198.6,231.0 197.9,230.4 195.1,229.2 194.2,229.3 191.7,230.8 190.1,234.3 190.6,237.1 193.2,238.9 196.1,238.3Z" fill="#ecb0dc"/>
<path d="M250.3,228.7 249.6,226.6 248.2,225.2 244.6,224.5 240.9,226.8 240.3,228.1 240.2,230.0 241.0,231.8 242.4,233.2 246.0,233.9 249.3,232.1Z" fill="#ecb0dc"/>
<path d="M206.4,284.4 205.8,287.4 207.5,290.8 210.9,292.5 213.7,291.6 215.5,288.5 215.1,285.7 213.9,283.8 212.0,282.7 208.0,283.1Z" fill="#ecb0dc"/>
<path d="M156.7,227.4 158.7,227.7 160.7,226.8 162.0,225.2 162.8,222.9 162.6,222.0 158.0,216.8 154.8,218.5 153.2,222.2 153.9,224.9Z" fill="#ecb0dc"/>
<path d="M152.6,268.7 152.8,266.4 151.8,264.6 150.3,263.4 148.5,262.8 143.8,265.2 142.9,267.3 143.1,269.3 144.0,271.0 147.2,272.7 150.1,272.0Z" fill="#ecb0dc"/>
<path d="M247.8,269.8 249.1,266.7 247.8,263.4 244.8,261.6 241.8,262.3 241.1,263.1 240.7,267.3 241.6,269.1 244.6,270.8Z" fill="#ecb0dc"/>
<path d="M142.8,201.2 140.6,201.3 138.8,202.7 137.7,205.5 137.9,207.7 138.9,209.6 140.5,211.0 142.5,211.8 144.5,211.7 147.4,209.6 148.2,207.8 148.3,206.1 147.9,205.3Z" fill="#ecb0dc"/>
<path d="M237.0,217.0 236.5,220.4 238.3,223.7 241.7,225.1 244.2,224.0 245.1,222.3 245.3,220.3 243.3,216.4 240.0,215.0 238.0,215.8Z" fill="#ecb0dc"/>
<path d="M198.4,266.4 200.1,267.6 203.9,267.3 204.7,266.8 207.2,262.1 206.5,260.1 205.1,258.4 203.3,257.5 201.2,257.3 199.2,258.0 197.6,259.3 196.9,261.6Z" fill="#ecb0dc"/>
<path d="M227.2,201.3 227.3,199.1 226.5,197.0 225.0,195.5 223.1,194.6 220.9,194.6 218.9,195.4 217.4,197.0 216.5,198.9 216.5,201.1 217.3,203.1 218.8,204.7 220.7,205.5 222.9,205.6 224.9,204.7 226.4,203.2Z" fill="#ecb0dc"/>
<path d="M170.7,284.6 170.6,288.9 173.0,291.0 177.9,290.9 179.4,289.5 180.1,288.0 180.3,286.0 179.8,284.1 178.0,282.1 175.3,281.4 171.2,283.8Z" fill="#ecb0dc"/>
<path d="M204.3,266.4 204.3,267.5 206.3,271.2 207.7,272.0 211.3,271.5 213.8,268.7 213.5,264.8 213.0,264.0 210.9,262.8 206.9,263.4Z" fill="#ecb0dc"/>
<path d="M212.5,264.0 213.5,264.1 217.8,262.4 218.4,261.6 218.9,257.3 218.6,256.4 215.1,254.0 213.3,254.1 211.5,254.9 209.3,257.8 209.1,259.5 209.6,261.5Z" fill="#ecb0dc"/>
<path d="M224.2,268.5 223.8,269.6 225.1,273.9 226.7,275.0 231.0,274.3 232.5,272.9 233.4,271.0 233.0,268.3 230.2,266.3 227.1,266.4Z" fill="#ecb0dc"/>
<path d="M157.5,297.2 159.8,298.8 162.0,299.1 162.8,298.7 167.0,294.0 167.1,291.9 166.6,291.1 161.9,288.3 160.2,288.3 159.4,288.9 156.8,294.8Z" fill="#ecb0dc"/>
<path d="M147.7,285.8 149.1,286.7 151.5,286.4 154.8,284.2 155.2,283.4 155.1,278.6 151.3,277.4 147.4,279.0 146.1,282.3Z" fill="#ecb0dc"/>
<path d="M166.7,280.5 167.0,281.5 170.2,284.2 171.3,284.3 174.5,282.3 175.6,279.1 175.0,276.1 173.0,274.4 170.2,274.8 167.9,276.8Z" fill="#ecb0dc"/>
<path d="M251.4,268.7 254.0,272.9 256.0,273.8 261.2,271.7 262.2,270.3 262.2,269.3 258.6,263.2 257.5,262.5 252.9,264.1 251.7,266.1Z" fill="#ecb0dc"/>
<path d="M259.1,293.1 261.6,295.4 265.0,295.4 267.3,293.1 267.4,290.4 266.0,288.4 264.4,287.5 261.2,287.7 259.1,289.4Z" fill="#ecb0dc"/>
<path d="M246.1,236.7 246.1,237.7 248.6,241.4 249.9,242.0 253.3,241.2 255.2,238.2 254.7,235.3 251.1,233.1 247.9,233.9Z" fill="#ecb0dc"/>
<path d="M178.2,261.4 176.6,262.4 175.9,264.8 177.5,268.2 181.4,270.1 182.9,270.0 184.5,269.2 185.6,267.8 185.8,266.0 184.2,262.9 182.4,261.7Z" fill="#ecb0dc"/>
<path d="M173.2,230.1 169.8,229.2 167.5,230.8 166.6,235.2 167.6,236.9 169.3,238.1 172.6,238.2 174.7,236.3 175.2,233.2Z" fill="#ecb0dc"/>
<path d="M213.4,269.9 215.4,271.8 216.4,271.8 222.2,268.8 223.0,266.2 222.6,265.2 218.8,262.4 217.9,262.3 214.1,263.6 213.0,265.1Z" fill="#ecb0dc"/>
<path d="M154.5,214.4 156.5,214.1 158.0,212.5 158.7,208.6 157.0,205.1 156.3,204.6 153.2,204.2 150.5,206.2 149.7,210.7 150.5,212.0Z" fill="#ecb0dc"/>
<path d="M234.2,207.3 234.5,209.2 237.8,212.3 240.3,212.8 242.0,212.4 243.0,211.6 243.6,204.9 241.8,203.0 237.8,202.8 236.9,203.2Z" fill="#ecb0dc"/>
<path d="M253.8,283.8 251.5,281.5 248.1,281.7 245.9,284.2 246.1,287.5 248.5,289.7 251.8,289.5 253.9,287.3Z" fill="#ecb0dc"/>
<path d="M181.3,221.2 179.2,223.3 178.8,225.6 181.2,229.3 181.9,229.7 183.6,229.8 186.6,227.8 187.6,225.0 185.2,220.6Z" fill="#ecb0dc"/>
<path d="M242.4,276.9 243.6,275.1 243.7,273.1 243.0,271.2 241.6,269.6 240.8,269.3 235.5,269.8 234.5,270.5 233.6,272.4 233.5,274.4 234.2,276.2 235.6,277.7 238.3,278.5Z" fill="#ecb0dc"/>
<path d="M190.7,249.9 192.6,250.6 196.8,248.9 197.7,247.8 198.4,245.7 198.3,243.6 195.6,240.3 192.3,240.3 191.5,240.8 189.0,245.2 189.0,246.0Z" fill="#ecb0dc"/>
<path d="M230.7,299.7 232.2,301.1 234.4,301.6 236.9,301.2 239.2,299.8 240.3,297.2 238.6,292.9 236.1,291.8 233.2,292.5 230.3,296.2Z" fill="#ecb0dc"/>
<path d="M237.5,281.8 235.4,281.3 234.6,281.6 231.4,285.3 231.2,286.3 232.2,288.7 235.2,290.7 238.5,290.1 240.2,287.7 240.1,285.0Z" fill="#ecb0dc"/>
<path d="M266.2,276.9 265.3,277.3 262.1,281.7 262.0,282.7 262.8,284.3 264.3,285.7 266.3,286.4 268.3,286.3 270.2,285.4 271.7,283.9 272.4,281.9 272.3,279.8 271.3,277.9 270.5,277.4Z" fill="#ecb0dc"/>
<path d="M147.3,232.5 148.5,230.9 148.5,226.4 148.0,225.3 146.2,224.4 144.3,224.2 141.0,225.9 139.5,230.0 139.9,231.4 141.0,232.8 143.2,233.7Z" fill="#ecb0dc"/>
<path d="M240.6,253.5 243.1,253.5 245.3,251.9 245.7,251.2 245.9,247.2 245.4,246.2 240.3,243.9 239.4,243.9 238.1,244.9 236.5,249.1 236.6,249.9 238.2,252.2Z" fill="#ecb0dc"/>
<path d="M262.1,216.5 260.9,218.2 260.9,220.5 261.7,222.4 263.2,223.8 265.2,224.6 267.2,224.5 269.1,223.7 270.6,222.2 271.3,220.2 271.3,218.3 270.5,216.3 269.1,214.9 268.1,214.7Z" fill="#ecb0dc"/>
<path d="M193.9,211.7 192.0,214.2 191.8,217.2 192.1,218.0 194.7,220.3 195.6,220.5 197.9,219.9 200.9,216.6 201.3,214.5 200.8,212.5 199.6,211.0 197.6,210.4Z" fill="#ecb0dc"/>
<path d="M183.3,246.2 184.0,244.4 183.2,240.4 182.4,239.3 178.9,239.0 175.9,241.2 175.2,244.6 177.2,247.4 180.7,247.9Z" fill="#ecb0dc"/>
<path d="M228.0,234.5 226.0,236.3 225.6,238.3 226.0,240.4 227.1,242.0 229.5,242.9 235.0,240.6 234.2,234.6Z" fill="#ecb0dc"/>
<path d="M225.9,280.9 224.7,279.2 222.9,278.1 219.0,277.9 216.2,280.2 215.8,281.6 216.0,283.6 217.2,285.7 218.9,287.0 221.0,287.7 223.4,287.5 225.2,286.5 226.2,284.9Z" fill="#ecb0dc"/>
<path d="M245.5,219.7 247.5,221.0 249.2,221.3 250.0,221.0 253.4,217.7 253.6,215.9 250.7,211.3 245.3,212.5 244.4,213.2 243.8,216.2Z" fill="#ecb0dc"/>
<path d="M264.1,295.5 263.2,297.2 263.8,302.2 264.4,303.0 266.8,304.0 269.5,303.2 271.8,299.4 271.7,297.3 270.7,295.3 268.3,293.7 267.3,293.7Z" fill="#ecb0dc"/>
<path d="M150.5,286.9 149.4,288.9 150.7,294.4 156.7,295.4 159.6,289.2 159.4,287.7 155.6,285.2 154.7,285.2Z" fill="#ecb0dc"/>
<path d="M243.5,275.2 246.2,278.7 248.2,279.3 250.0,279.3 252.1,278.5 253.7,277.1 254.8,273.8 254.6,273.0 252.1,269.4 249.0,268.6 244.2,271.4 243.7,272.2Z" fill="#ecb0dc"/>
<path d="M260.2,206.5 260.8,207.9 261.4,208.3 267.5,209.2 268.4,208.8 269.9,207.0 270.3,203.7 263.8,200.1 262.8,200.2 261.2,201.7Z" fill="#ecb0dc"/>
<path d="M252.4,205.1 252.5,205.9 254.3,207.8 257.9,208.3 259.5,207.6 260.8,206.1 261.7,201.7 260.8,199.5 258.2,197.9 254.8,198.5 254.1,199.2Z" fill="#ecb0dc"/>
<path d="M198.7,229.7 198.5,230.7 199.4,233.6 200.0,234.3 204.8,236.2 207.5,235.0 209.0,232.3 209.1,230.0 208.3,228.0 206.8,226.4 204.8,225.5 201.9,226.0Z" fill="#ecb0dc"/>
<path d="M255.7,298.1 255.4,297.2 251.1,293.5 249.8,293.3 247.7,294.3 245.5,297.7 245.4,299.5 246.2,301.4 247.7,302.8 249.7,303.6 251.8,303.5 254.9,301.5Z" fill="#ecb0dc"/>
<path d="M239.8,297.4 242.5,298.9 246.0,298.0 248.5,293.2 248.0,291.1 246.5,289.3 244.6,288.3 242.6,288.2 240.5,288.8 238.9,290.2 238.1,292.9Z" fill="#ecb0dc"/>
<path d="M229.0,214.6 230.8,217.7 234.2,218.6 237.3,216.9 238.2,213.5 236.4,210.5 233.0,209.6 229.9,211.3Z" fill="#ecb0dc"/>
<path d="M264.7,244.4 263.8,244.9 261.4,249.0 261.3,250.1 262.0,251.0 269.1,253.5 270.2,253.3 271.5,251.8 272.1,249.7 272.1,247.9 271.3,245.9 269.4,244.4Z" fill="#ecb0dc"/>
<path d="M140.4,280.7 141.2,281.3 145.3,281.8 146.2,281.4 148.2,278.8 148.3,277.9 147.6,275.2 145.4,273.0 142.2,272.4 140.9,272.9 139.7,274.3 139.1,277.2Z" fill="#ecb0dc"/>
<path d="M198.5,284.0 199.9,285.5 202.8,285.9 204.9,285.2 206.9,283.7 207.3,282.6 205.3,276.7 202.0,276.7 198.7,278.9 198.3,279.8Z" fill="#ecb0dc"/>
<path d="M168.0,230.8 167.5,228.9 166.1,227.4 164.4,226.6 162.5,226.6 160.8,227.3 159.4,228.7 158.7,232.2 161.1,235.8 162.5,236.4 164.4,236.4 166.7,234.9Z" fill="#ecb0dc"/>
<path d="M268.5,202.8 270.8,202.5 272.4,201.2 273.3,199.5 273.4,197.6 272.1,195.3 270.4,194.1 266.6,194.0 263.7,196.2 263.1,199.1 263.6,200.1Z" fill="#ecb0dc"/>
<path d="M195.4,238.8 195.5,240.9 197.2,242.6 201.3,243.6 204.3,242.2 206.2,238.7 206.2,237.8 204.9,235.7 199.5,233.9Z" fill="#ecb0dc"/>
<path d="M250.9,210.4 250.9,211.5 253.7,216.6 254.5,217.2 256.8,217.2 259.3,216.1 259.9,215.2 260.0,209.7 258.8,208.2 256.1,207.5 254.1,207.8 252.1,208.8Z" fill="#ecb0dc"/>
<path d="M151.4,202.4 151.9,203.2 154.4,204.5 158.4,203.9 160.0,202.5 160.8,200.8 160.4,197.8 158.3,195.7 156.2,194.9 154.1,194.9 152.1,195.6 150.9,197.3Z" fill="#ecb0dc"/>
<path d="M146.4,264.2 147.9,262.5 148.5,260.7 147.8,258.4 146.3,257.1 142.2,256.8 140.4,257.7 139.0,259.2 138.5,261.9 140.4,264.5 143.4,265.2Z" fill="#ecb0dc"/>
<path d="M236.2,219.6 235.4,219.1 231.9,218.8 230.4,219.5 228.8,221.2 228.1,223.7 228.6,225.8 235.3,229.2 237.6,228.2 239.0,226.0 239.0,225.0Z" fill="#ecb0dc"/>
<path d="M192.6,202.4 193.2,203.0 197.0,204.1 198.7,203.5 200.4,202.1 201.5,198.6 201.0,196.6 200.0,195.1 198.1,193.9 195.6,193.4 193.4,193.9 191.4,195.4 190.8,197.2Z" fill="#ecb0dc"/>
<path d="M250.3,227.2 249.6,232.1 250.1,233.1 254.5,235.4 255.6,235.3 258.9,232.7 259.3,228.6 257.3,226.2 252.3,225.8Z" fill="#ecb0dc"/>
<path d="M262.4,239.8 263.0,243.3 265.4,244.9 269.2,244.1 270.5,242.6 271.0,240.7 270.2,237.7 267.3,236.0 264.2,236.9Z" fill="#ecb0dc"/>
<path d="M170.2,209.2 169.5,209.7 167.9,212.8 168.0,214.9 169.9,217.6 173.2,218.2 175.8,216.0 176.2,212.5 175.9,211.7 173.0,209.1Z" fill="#ecb0dc"/>
<path d="M236.0,261.1 240.7,262.4 242.5,261.6 243.3,259.9 243.2,257.5 242.1,255.0 240.7,253.4 238.3,252.3 235.8,252.8 234.3,255.2 234.5,258.4Z" fill="#ecb0dc"/>
<path d="M150.1,271.2 150.1,274.5 152.7,276.9 156.3,276.8 158.6,274.2 158.5,270.8 156.0,268.6 152.5,268.7Z" fill="#ecb0dc"/>
<path d="M148.5,226.4 148.1,227.2 148.0,230.8 149.5,232.8 152.8,233.5 155.8,231.5 156.6,228.1 154.8,225.2 151.4,224.5Z" fill="#ecb0dc"/>
<path d="M226.4,232.9 228.5,234.8 233.0,234.5 233.8,233.9 234.8,231.4 233.7,228.1 230.4,226.5 227.4,227.4 225.9,231.2Z" fill="#ecb0dc"/>
<path d="M218.1,256.4 222.8,255.8 224.0,254.3 224.0,248.9 223.6,248.1 221.3,246.7 219.2,246.6 217.3,247.3 215.8,248.7 215.0,250.1 215.2,253.8Z" fill="#ecb0dc"/>
<path d="M192.1,203.8 192.9,201.7 191.3,197.8 190.4,197.2 187.1,197.3 183.9,199.9 183.6,203.2 185.3,205.3 188.9,205.8Z" fill="#ecb0dc"/>
<path d="M254.7,297.0 255.8,297.1 258.1,296.0 259.7,293.4 259.1,289.7 258.4,288.9 254.9,287.9 254.0,288.0 252.0,289.6 250.6,293.3Z" fill="#ecb0dc"/>
<path d="M182.3,262.2 184.9,260.3 185.3,257.1 183.4,254.6 180.2,254.2 177.6,256.2 177.3,259.4 178.8,261.6Z" fill="#ecb0dc"/>
<path d="M227.1,295.2 223.8,295.4 221.7,297.8 221.9,301.0 224.4,303.2 227.7,302.9 229.8,300.5 229.6,297.3Z" fill="#ecb0dc"/>
<path d="M198.9,293.5 199.6,294.1 202.9,295.0 205.7,293.3 206.4,290.4 205.0,287.5 202.0,286.3 199.5,287.3 198.0,290.3Z" fill="#ecb0dc"/>
<path d="M207.7,205.2 209.6,205.0 211.2,203.9 213.0,200.6 212.0,196.3 211.0,195.4 209.2,194.7 207.3,195.0 205.6,196.0 203.9,199.4 204.8,203.6 205.9,204.6Z" fill="#ecb0dc"/>
<path d="M185.3,218.1 187.1,218.9 191.0,217.8 192.2,216.4 192.4,212.9 192.0,212.0 188.7,209.6 185.6,210.0 183.2,212.5Z" fill="#ecb0dc"/>
<path d="M263.7,297.0 263.1,296.1 260.3,294.8 259.4,294.8 256.0,296.8 254.9,300.9 255.8,303.0 257.5,304.4 259.5,305.0 261.7,304.7 263.5,303.7 264.0,302.8Z" fill="#ecb0dc"/>
<path d="M220.2,255.9 218.4,257.7 218.1,262.0 218.6,262.9 221.2,264.6 224.2,264.3 226.3,262.2 226.4,258.4 223.8,255.8Z" fill="#ecb0dc"/>
<path d="M253.7,287.1 254.3,287.9 258.2,289.2 259.1,289.1 262.2,286.4 262.3,284.1 261.3,281.8 257.6,279.6 254.4,280.2 253.1,282.2Z" fill="#ecb0dc"/>
<path d="M162.3,222.2 163.2,222.6 165.3,222.3 168.7,219.0 168.8,217.0 166.8,214.2 162.0,213.4 161.1,213.6 159.3,215.3 158.7,217.0 158.9,218.0Z" fill="#ecb0dc"/>
<path d="M140.4,224.9 145.5,224.4 147.7,221.8 147.8,220.0 145.1,215.2 144.4,214.7 142.5,214.5 140.5,215.0 138.9,216.3 137.8,218.1 137.5,220.1 137.9,222.2 138.8,223.7Z" fill="#ecb0dc"/>
<path d="M195.3,296.9 195.3,300.2 197.9,302.9 201.1,303.2 204.7,301.2 203.6,295.3 202.9,294.5 198.9,293.6 197.9,293.9Z" fill="#ecb0dc"/>
<path d="M147.0,205.1 149.7,204.7 151.8,202.0 151.4,197.2 150.9,196.4 149.2,195.5 146.3,195.7 144.4,196.8 142.5,200.1 142.9,202.0Z" fill="#ecb0dc"/>
<path d="M246.5,237.6 245.6,237.2 242.9,237.6 239.8,242.0 239.7,243.1 240.7,244.5 245.0,246.2 245.9,246.2 249.4,243.8 249.6,242.3Z" fill="#ecb0dc"/>
<path d="M194.1,257.8 196.5,258.8 198.6,258.4 200.4,257.2 201.6,255.4 202.0,253.2 201.2,250.4 198.8,248.2 197.8,248.1 192.4,250.2 191.6,251.0 191.4,253.0Z" fill="#ecb0dc"/>
<path d="M203.6,242.3 203.4,244.2 204.0,245.9 210.1,248.4 212.6,247.3 213.7,245.3 213.9,243.2 213.3,241.3 212.0,239.7 210.2,238.7 208.1,238.5 206.2,239.1Z" fill="#ecb0dc"/>
<path d="M172.1,227.5 172.1,229.6 175.6,233.7 176.5,234.0 179.2,233.3 181.8,229.7 177.9,224.1 174.3,224.8Z" fill="#ecb0dc"/>
<path d="M257.2,240.7 260.4,241.3 262.7,240.2 264.2,237.4 263.4,234.5 260.0,232.7 258.2,233.0 256.6,234.0 255.3,237.7 255.9,239.3Z" fill="#ecb0dc"/>
<path d="M181.1,247.8 180.8,251.5 182.0,252.8 183.3,253.4 187.7,253.0 190.9,250.5 189.1,246.1 188.3,245.5 184.4,245.3 182.7,246.2Z" fill="#ecb0dc"/>
<path d="M243.0,258.6 245.5,260.9 248.9,260.7 249.7,260.0 251.3,253.6 245.9,251.4 245.0,251.5 243.4,252.7 242.5,254.3Z" fill="#ecb0dc"/>
<path d="M168.0,196.7 167.9,197.7 170.2,201.8 173.1,202.5 175.2,201.8 175.8,201.2 176.8,197.8 176.7,196.9 174.7,194.6 172.5,194.0 169.9,194.4Z" fill="#ecb0dc"/>
<path d="M147.3,287.9 148.2,286.7 148.2,285.8 146.2,281.8 145.3,281.3 140.7,281.0 138.2,283.0 137.7,285.1 138.2,287.1 140.9,289.5 141.9,289.7Z" fill="#ecb0dc"/>
<path d="M161.6,285.8 162.0,288.0 163.9,289.6 167.7,290.2 170.2,288.9 170.7,288.1 170.9,285.1 170.6,284.3 167.6,281.9 165.3,281.7 164.1,282.1Z" fill="#ecb0dc"/>
<path d="M233.0,263.9 232.7,267.0 234.7,269.8 235.7,270.2 240.7,269.2 241.4,263.7 240.8,262.3 235.9,261.2 235.0,261.5Z" fill="#ecb0dc"/>
<path d="M162.4,298.5 162.1,299.4 163.0,302.1 164.5,303.2 166.0,303.6 169.7,303.0 172.5,300.4 169.4,294.1 165.7,294.7Z" fill="#ecb0dc"/>
<path d="M176.3,263.2 175.4,261.0 173.7,259.5 170.7,258.9 168.5,259.7 166.6,261.6 165.7,263.9 165.6,266.3 166.6,268.9 169.8,271.1 171.5,271.1 173.5,270.3 176.0,267.1Z" fill="#ecb0dc"/>
<path d="M261.0,208.8 260.5,209.3 260.5,213.2 262.2,215.5 262.8,215.7 267.3,214.2 267.6,213.8 267.4,212.1 266.0,209.7Z" fill="#c94298"/>
<circle cx="262.9" cy="210.9" r="1.6" fill="#da64b2" opacity="0.7"/>
<circle cx="264.1" cy="210.7" r="1.5" fill="#af2f89" opacity="0.7"/>
<path d="M143.9,296.4 141.6,297.9 140.5,300.0 140.7,302.0 142.4,303.2 145.6,302.8 148.1,300.6 147.9,297.1Z" fill="#bd418c"/>
<circle cx="143.8" cy="300.1" r="1.5" fill="#9b2878" opacity="0.7"/>
<circle cx="144.5" cy="299.9" r="1.3" fill="#c9599e" opacity="0.7"/>
<path d="M162.6,212.8 166.0,213.5 167.2,213.0 168.7,209.8 167.7,207.7 165.2,206.8 162.7,207.9 161.6,210.4Z" fill="#c14690"/>
<ellipse cx="165.5" cy="209.9" rx="1.7" ry="1.4" fill="#de81c1" opacity="0.85"/>
<circle cx="165.0" cy="209.9" r="1.1" fill="#ce5fa3" opacity="0.7"/>
<circle cx="164.8" cy="211.1" r="0.9" fill="#a32f7e" opacity="0.7"/>
<path d="M257.4,225.5 258.7,224.5 259.6,222.9 259.8,221.0 259.2,219.3 257.9,217.9 253.9,217.8 250.4,221.6 250.8,223.9 252.1,225.2Z" fill="#c950a5"/>
<ellipse cx="254.6" cy="221.1" rx="1.6" ry="1.8" fill="#da7ab9" opacity="0.85"/>
<circle cx="255.3" cy="221.7" r="1.3" fill="#d76cba" opacity="0.7"/>
<circle cx="254.9" cy="221.8" r="1.6" fill="#b33f98" opacity="0.7"/>
<path d="M260.0,231.4 264.7,234.5 266.3,234.3 267.6,233.4 268.5,231.3 267.8,229.0 266.6,227.7 264.9,226.8 263.2,226.4 261.5,226.7 260.0,228.0Z" fill="#c23e90"/>
<circle cx="264.6" cy="229.0" r="1.0" fill="#ac2d83" opacity="0.7"/>
<circle cx="265.5" cy="230.5" r="1.2" fill="#a62980" opacity="0.7"/>
<path d="M221.6,294.2 221.7,291.3 219.7,289.3 216.9,289.4 214.9,291.4 214.9,294.3 216.8,296.3 219.7,296.2Z" fill="#bc3d8c"/>
<circle cx="218.5" cy="291.6" r="1.3" fill="#9b2479" opacity="0.7"/>
<circle cx="219.7" cy="292.5" r="1.4" fill="#ab3082" opacity="0.7"/>
<path d="M229.4,295.6 230.3,295.4 233.3,291.2 231.0,288.6 227.6,288.4 226.1,289.1 225.1,290.2 224.6,292.4 225.3,293.8Z" fill="#c24998"/>
<circle cx="227.6" cy="291.2" r="1.4" fill="#d166ae" opacity="0.7"/>
<circle cx="228.5" cy="292.9" r="1.2" fill="#cb5ca6" opacity="0.7"/>
<path d="M234.2,199.7 231.7,199.2 229.2,200.9 228.3,203.7 229.5,206.1 232.1,206.6 234.6,205.0 235.5,202.1Z" fill="#d355a4"/>
<circle cx="231.1" cy="203.6" r="1.2" fill="#dd69b3" opacity="0.7"/>
<circle cx="232.2" cy="202.6" r="1.2" fill="#e06fb8" opacity="0.7"/>
<path d="M250.5,259.6 251.2,260.7 252.7,261.4 256.1,261.2 257.9,259.7 258.3,258.5 258.2,257.1 257.4,255.8 256.0,254.8 254.3,254.4 252.2,254.6Z" fill="#c64d99"/>
<circle cx="253.6" cy="256.4" r="1.0" fill="#d46aae" opacity="0.7"/>
<circle cx="254.4" cy="258.7" r="1.2" fill="#a93788" opacity="0.7"/>
<path d="M184.5,219.9 185.1,218.8 182.6,213.2 180.3,212.9 178.1,214.2 176.8,217.4 177.2,219.1 178.2,220.6 179.3,221.2Z" fill="#c54a9d"/>
<circle cx="180.8" cy="218.3" r="1.3" fill="#ce5cab" opacity="0.7"/>
<circle cx="182.5" cy="218.3" r="1.6" fill="#aa368d" opacity="0.7"/>
<path d="M260.1,280.2 262.2,280.2 264.4,277.3 263.1,273.7 262.2,273.2 259.4,273.1 257.3,274.2 256.6,275.4 256.5,276.9 257.2,278.3Z" fill="#c24e96"/>
<circle cx="260.9" cy="275.8" r="1.1" fill="#cd64a7" opacity="0.7"/>
<circle cx="259.7" cy="277.3" r="1.2" fill="#9f3481" opacity="0.7"/>
<path d="M260.1,258.0 260.9,258.9 265.7,259.3 267.8,257.4 268.6,254.4 262.3,252.1 260.0,254.6 259.7,256.1Z" fill="#d45aa6"/>
<ellipse cx="264.4" cy="255.3" rx="1.8" ry="1.5" fill="#de81c1" opacity="0.85"/>
<circle cx="262.8" cy="256.5" r="1.1" fill="#e379bd" opacity="0.7"/>
<circle cx="262.9" cy="255.8" r="1.4" fill="#b14092" opacity="0.7"/>
<path d="M233.5,262.5 234.2,260.0 232.9,257.5 230.4,256.7 228.0,257.9 227.2,260.5 228.5,263.0 231.0,263.9 232.4,263.5Z" fill="#c04495"/>
<circle cx="229.3" cy="261.2" r="1.2" fill="#af378b" opacity="0.7"/>
<circle cx="232.2" cy="261.4" r="1.0" fill="#a42f85" opacity="0.7"/>
<path d="M172.4,291.5 170.9,292.6 170.4,294.0 173.1,299.4 174.6,299.8 177.0,299.2 178.3,297.8 178.9,293.9 178.5,292.9 177.2,291.7Z" fill="#c34c96"/>
<circle cx="173.1" cy="295.9" r="1.4" fill="#a83886" opacity="0.7"/>
<circle cx="176.1" cy="296.2" r="1.2" fill="#a03282" opacity="0.7"/>
<path d="M185.3,280.0 186.0,278.2 185.0,275.3 183.8,274.2 182.0,273.5 180.2,273.5 178.7,274.0 177.5,275.1 177.0,276.5 177.1,278.1 179.2,280.7 181.9,281.5Z" fill="#c2459c"/>
<circle cx="182.0" cy="279.0" r="0.9" fill="#cf5eaf" opacity="0.7"/>
<circle cx="182.3" cy="276.8" r="1.4" fill="#a12d89" opacity="0.7"/>
<path d="M262.2,268.1 263.5,268.5 265.2,268.1 266.5,267.3 267.5,265.9 267.7,263.4 266.0,260.9 261.0,260.5 259.2,262.5 259.1,263.1Z" fill="#b8388b"/>
<ellipse cx="263.4" cy="264.3" rx="1.7" ry="1.6" fill="#d373b2" opacity="0.85"/>
<circle cx="263.2" cy="265.8" r="1.5" fill="#992179" opacity="0.7"/>
<circle cx="262.4" cy="264.5" r="1.5" fill="#9c237b" opacity="0.7"/>
<path d="M163.3,282.1 162.5,279.4 160.1,277.7 158.0,278.0 156.4,280.3 156.7,283.7 157.6,285.0 159.5,286.1 160.9,285.9Z" fill="#c949a0"/>
<circle cx="159.0" cy="282.9" r="1.6" fill="#da6bb9" opacity="0.7"/>
<circle cx="160.3" cy="280.5" r="1.4" fill="#ae3590" opacity="0.7"/>
<path d="M143.1,290.0 142.1,292.0 142.3,294.4 147.9,295.2 149.5,292.4 148.6,288.7 147.7,288.3Z" fill="#c94fa2"/>
<circle cx="146.0" cy="293.3" r="1.1" fill="#b74197" opacity="0.7"/>
<circle cx="145.3" cy="290.7" r="1.1" fill="#d464b2" opacity="0.7"/>
<path d="M204.8,247.1 204.2,247.3 203.2,248.9 202.7,252.3 203.8,254.4 204.9,255.1 206.2,255.1 207.6,254.5 208.8,253.2 209.5,251.5 209.7,249.1Z" fill="#c24a9d"/>
<ellipse cx="205.8" cy="250.7" rx="1.7" ry="1.7" fill="#d472b1" opacity="0.85"/>
<circle cx="206.6" cy="251.6" r="1.0" fill="#d066b2" opacity="0.7"/>
<circle cx="205.0" cy="249.9" r="1.2" fill="#d168b3" opacity="0.7"/>
<path d="M190.0,263.0 189.6,265.9 191.1,268.6 194.8,269.9 196.3,269.3 197.7,267.6 198.0,266.7 196.4,261.7 195.6,261.0 194.1,260.7Z" fill="#d256a4"/>
<ellipse cx="194.0" cy="265.2" rx="1.6" ry="1.5" fill="#d97ab9" opacity="0.85"/>
<circle cx="193.0" cy="266.2" r="1.0" fill="#b64194" opacity="0.7"/>
<circle cx="192.3" cy="264.7" r="0.9" fill="#c04899" opacity="0.7"/>
<path d="M185.9,255.2 186.3,259.9 187.1,260.6 190.3,261.0 191.9,260.2 193.2,258.5 193.4,257.5 191.1,253.7 189.1,253.4Z" fill="#c846a0"/>
<ellipse cx="189.0" cy="257.5" rx="1.5" ry="1.7" fill="#cf70b0" opacity="0.85"/>
<circle cx="188.4" cy="256.7" r="1.6" fill="#b73996" opacity="0.7"/>
<circle cx="188.2" cy="256.2" r="0.9" fill="#d159ae" opacity="0.7"/>
<path d="M226.3,256.0 231.1,254.4 232.1,251.9 231.9,250.9 227.4,247.1 225.8,247.4 224.5,248.4 224.5,254.6Z" fill="#d458ac"/>
<circle cx="228.0" cy="253.3" r="1.1" fill="#df6dbc" opacity="0.7"/>
<circle cx="225.9" cy="253.2" r="1.1" fill="#b33f98" opacity="0.7"/>
<path d="M152.5,295.5 151.0,295.9 149.6,297.2 149.6,301.2 151.1,302.7 153.4,303.2 156.0,301.8 156.7,300.5 156.8,299.0 155.4,296.4Z" fill="#d258a6"/>
<ellipse cx="152.7" cy="299.6" rx="1.5" ry="1.3" fill="#d270b3" opacity="0.85"/>
<circle cx="154.2" cy="298.5" r="1.6" fill="#de71b8" opacity="0.7"/>
<circle cx="152.2" cy="300.8" r="1.0" fill="#e073ba" opacity="0.7"/>
<path d="M184.3,239.4 183.7,240.4 184.6,244.4 188.5,245.0 190.6,241.5 190.0,239.8 189.0,238.8 187.1,238.2Z" fill="#ce47a3"/>
<circle cx="185.7" cy="241.7" r="1.2" fill="#bc3998" opacity="0.7"/>
<circle cx="185.7" cy="241.8" r="1.1" fill="#d85ab1" opacity="0.7"/>
<path d="M188.6,291.0 188.4,292.4 189.5,294.9 191.7,296.4 194.9,296.4 197.1,293.6 196.5,290.1 194.3,288.7 192.5,288.4 190.8,288.7Z" fill="#cc4fa1"/>
<ellipse cx="193.0" cy="292.9" rx="1.5" ry="1.6" fill="#d776b7" opacity="0.85"/>
<circle cx="194.5" cy="292.3" r="1.1" fill="#b43d93" opacity="0.7"/>
<circle cx="193.7" cy="293.4" r="1.0" fill="#da6cb7" opacity="0.7"/>
<path d="M189.3,206.4 189.4,208.7 191.4,210.8 193.5,211.3 196.1,209.7 196.2,207.1 194.1,204.8 192.1,204.4Z" fill="#d056a3"/>
<ellipse cx="193.2" cy="208.1" rx="1.3" ry="1.4" fill="#dd7abe" opacity="0.85"/>
<circle cx="194.2" cy="209.3" r="1.0" fill="#bf4999" opacity="0.7"/>
<circle cx="193.6" cy="208.6" r="1.3" fill="#e075ba" opacity="0.7"/>
<path d="M187.5,236.3 187.8,234.9 187.2,233.1 186.0,231.7 184.2,230.5 182.0,230.7 179.5,233.8 180.4,236.3 182.9,238.2Z" fill="#c84b9a"/>
<circle cx="184.1" cy="234.1" r="1.6" fill="#d565ae" opacity="0.7"/>
<circle cx="184.7" cy="235.7" r="1.3" fill="#d260aa" opacity="0.7"/>
<path d="M167.1,197.6 166.1,197.3 164.2,197.7 162.0,199.5 161.3,202.0 162.5,204.8 168.2,205.5 170.1,204.0 170.2,203.3Z" fill="#c44998"/>
<circle cx="165.1" cy="201.2" r="1.3" fill="#d66cb3" opacity="0.7"/>
<circle cx="165.3" cy="200.6" r="1.6" fill="#a93588" opacity="0.7"/>
<path d="M207.9,282.2 208.4,282.5 212.7,282.2 213.7,280.9 214.0,279.3 213.8,277.4 212.9,275.9 211.6,274.9 210.1,274.5 208.5,274.7 206.3,276.7Z" fill="#ce56a1"/>
<circle cx="209.7" cy="279.6" r="1.6" fill="#df79bb" opacity="0.7"/>
<circle cx="210.0" cy="279.3" r="1.0" fill="#b64493" opacity="0.7"/>
<path d="M190.8,284.8 192.3,285.9 194.0,286.2 195.7,285.9 197.1,285.0 198.0,283.7 197.4,279.8 195.7,278.6 194.1,278.3 190.5,279.9 189.7,282.0Z" fill="#cb4b9f"/>
<circle cx="192.7" cy="282.9" r="1.5" fill="#ab338d" opacity="0.7"/>
<circle cx="195.4" cy="281.3" r="1.0" fill="#ac348d" opacity="0.7"/>
<path d="M257.9,241.6 256.1,243.2 255.8,245.9 257.4,248.0 259.9,248.3 262.0,246.6 262.3,243.7 261.0,241.9Z" fill="#bc3d93"/>
<ellipse cx="259.1" cy="245.2" rx="1.7" ry="1.3" fill="#da79bb" opacity="0.85"/>
<circle cx="258.5" cy="245.9" r="1.2" fill="#c650a1" opacity="0.7"/>
<circle cx="260.2" cy="243.7" r="1.2" fill="#c754a4" opacity="0.7"/>
<path d="M246.5,250.5 246.8,250.9 251.8,252.5 253.1,251.4 253.8,249.8 253.8,248.1 253.3,246.6 251.4,244.8 249.6,244.4 246.7,246.5Z" fill="#ce479d"/>
<circle cx="249.0" cy="249.6" r="1.2" fill="#df6ab7" opacity="0.7"/>
<circle cx="248.2" cy="248.5" r="1.6" fill="#b4348e" opacity="0.7"/>
<path d="M264.5,273.0 266.3,276.4 270.0,276.8 271.3,274.8 271.1,271.9 269.1,270.0 266.4,270.2 265.3,271.1Z" fill="#d356a9"/>
<circle cx="268.7" cy="275.0" r="1.2" fill="#e071bd" opacity="0.7"/>
<circle cx="267.1" cy="272.0" r="1.0" fill="#e478c2" opacity="0.7"/>
<path d="M197.9,269.7 197.3,271.5 197.5,273.3 198.3,274.9 199.7,276.0 204.6,275.6 206.0,274.2 206.4,272.4 203.8,268.3 199.7,268.1Z" fill="#c5479d"/>
<circle cx="203.0" cy="273.4" r="1.3" fill="#d364b3" opacity="0.7"/>
<circle cx="202.4" cy="270.4" r="1.3" fill="#b43a93" opacity="0.7"/>
<path d="M237.6,280.9 241.6,285.8 244.2,284.9 245.5,282.2 245.0,279.2 243.1,277.3 238.3,279.0Z" fill="#ca56a0"/>
<circle cx="241.4" cy="280.4" r="1.6" fill="#a73c8b" opacity="0.7"/>
<circle cx="242.2" cy="280.9" r="1.5" fill="#b54694" opacity="0.7"/>
<path d="M144.5,252.4 146.3,252.0 148.1,250.7 148.6,249.4 148.3,247.9 146.9,246.2 145.3,245.5 141.7,245.7 139.6,247.6 139.7,249.8 141.9,251.9Z" fill="#cd53a0"/>
<circle cx="143.2" cy="249.9" r="1.5" fill="#dd73b8" opacity="0.7"/>
<circle cx="143.7" cy="248.0" r="1.6" fill="#de75ba" opacity="0.7"/>
<path d="M193.1,226.4 193.8,228.3 197.6,229.2 199.4,228.1 200.7,226.4 201.1,224.7 200.8,223.1 200.1,222.0 198.9,221.3 196.4,221.5 195.0,222.4Z" fill="#b23c8b"/>
<ellipse cx="197.0" cy="225.1" rx="1.2" ry="1.7" fill="#d070b0" opacity="0.85"/>
<circle cx="198.1" cy="225.0" r="1.0" fill="#902377" opacity="0.7"/>
<circle cx="195.9" cy="226.6" r="1.4" fill="#bf569f" opacity="0.7"/>
<path d="M166.8,227.1 169.3,227.3 172.1,225.8 173.3,223.2 172.6,221.3 170.9,220.5 169.3,220.5 166.4,222.0 165.2,224.8 165.5,226.0Z" fill="#c54a9d"/>
<circle cx="170.2" cy="223.9" r="1.1" fill="#d061ae" opacity="0.7"/>
<circle cx="169.4" cy="224.1" r="1.0" fill="#d468b3" opacity="0.7"/>
<path d="M176.0,204.1 173.8,205.6 173.0,208.3 177.4,212.0 178.9,211.3 180.0,210.2 180.7,208.6 180.7,207.0 180.1,205.7Z" fill="#d555a6"/>
<circle cx="178.0" cy="208.6" r="1.4" fill="#bb4197" opacity="0.7"/>
<circle cx="175.9" cy="209.2" r="1.3" fill="#c4489c" opacity="0.7"/>
<path d="M148.8,233.2 147.1,233.1 143.2,234.6 142.0,236.6 142.0,237.7 142.7,238.8 144.0,239.6 145.8,239.8 148.4,239.2 149.9,238.2 150.9,236.9 151.1,235.1Z" fill="#bf4797"/>
<circle cx="146.7" cy="235.6" r="1.0" fill="#9c2d82" opacity="0.7"/>
<circle cx="146.9" cy="235.3" r="1.5" fill="#d068b0" opacity="0.7"/>
<path d="M245.2,202.2 251.7,205.2 253.4,198.2 250.8,196.7 248.0,197.0 245.8,198.8 245.2,200.6Z" fill="#cc53a9"/>
<circle cx="248.8" cy="200.2" r="1.5" fill="#d769b9" opacity="0.7"/>
<circle cx="248.3" cy="202.2" r="1.6" fill="#dd75c3" opacity="0.7"/>
<path d="M187.2,277.0 188.2,278.0 189.7,278.6 194.2,276.5 194.8,275.3 194.7,273.5 193.4,271.2 190.0,269.8 188.5,270.1 187.2,271.0 186.1,273.7Z" fill="#cb509c"/>
<ellipse cx="190.3" cy="273.8" rx="1.7" ry="1.4" fill="#da77b9" opacity="0.85"/>
<circle cx="189.1" cy="273.4" r="1.0" fill="#d463aa" opacity="0.7"/>
<circle cx="189.3" cy="275.3" r="1.0" fill="#db71b4" opacity="0.7"/>
<path d="M230.8,243.0 229.9,243.9 229.5,245.8 229.9,247.1 231.0,248.0 232.8,248.5 234.2,248.3 236.4,246.6 236.8,244.1 235.5,242.5 233.8,241.9Z" fill="#cc509f"/>
<circle cx="232.5" cy="245.4" r="1.5" fill="#dc71b8" opacity="0.7"/>
<circle cx="232.1" cy="246.2" r="1.3" fill="#d562ac" opacity="0.7"/>
<path d="M237.3,202.1 241.1,202.2 243.1,200.7 243.8,199.2 243.9,197.6 243.3,196.1 242.1,195.0 240.5,194.3 238.6,194.3 236.9,195.0 235.6,196.1 234.9,198.0Z" fill="#c3419a"/>
<ellipse cx="239.1" cy="198.7" rx="1.7" ry="1.4" fill="#da7ab9" opacity="0.85"/>
<circle cx="238.4" cy="198.3" r="1.5" fill="#a72c8a" opacity="0.7"/>
<circle cx="238.5" cy="199.4" r="1.5" fill="#d15eaf" opacity="0.7"/>
<path d="M182.8,282.8 181.7,284.9 182.5,287.8 185.0,289.6 186.4,289.7 187.7,289.1 188.9,286.8 188.1,283.9 185.6,282.1 184.5,282.0Z" fill="#cc4698"/>
<ellipse cx="185.1" cy="286.0" rx="1.5" ry="1.3" fill="#d776b4" opacity="0.85"/>
<circle cx="183.9" cy="284.9" r="1.2" fill="#db65af" opacity="0.7"/>
<circle cx="185.8" cy="286.9" r="1.1" fill="#b6358b" opacity="0.7"/>
<path d="M230.7,284.9 233.7,281.8 233.9,280.9 232.6,278.3 230.2,277.4 227.8,278.7 227.1,281.4 228.3,283.9Z" fill="#c24a9f"/>
<ellipse cx="229.9" cy="281.2" rx="1.4" ry="1.3" fill="#d776b5" opacity="0.85"/>
<circle cx="230.9" cy="281.0" r="1.1" fill="#9e2f8a" opacity="0.7"/>
<circle cx="230.3" cy="282.7" r="1.1" fill="#a6358f" opacity="0.7"/>
<path d="M235.7,240.0 237.7,241.3 239.8,240.9 242.4,237.3 242.3,235.5 241.5,234.2 240.3,233.4 238.9,233.3 236.3,234.8 235.3,236.3Z" fill="#c74f9c"/>
<circle cx="239.6" cy="238.2" r="0.9" fill="#a73789" opacity="0.7"/>
<circle cx="238.5" cy="237.3" r="1.4" fill="#d469b0" opacity="0.7"/>
<path d="M186.2,220.3 188.4,225.6 190.2,226.1 191.8,225.6 194.1,220.7 191.3,218.3 186.7,219.6Z" fill="#c24692"/>
<circle cx="189.3" cy="223.0" r="1.4" fill="#b03887" opacity="0.7"/>
<circle cx="190.8" cy="221.3" r="1.5" fill="#a02c7e" opacity="0.7"/>
<path d="M204.6,295.0 205.4,300.0 206.0,300.5 207.6,300.5 209.3,299.8 210.6,298.6 211.7,296.5 211.7,295.0 211.1,293.7 209.0,292.7 206.8,293.0Z" fill="#b73e8c"/>
<ellipse cx="207.5" cy="296.9" rx="1.8" ry="1.5" fill="#cf70b2" opacity="0.85"/>
<circle cx="206.4" cy="295.9" r="1.1" fill="#9c2a7c" opacity="0.7"/>
<circle cx="209.2" cy="296.9" r="1.0" fill="#9c2a7c" opacity="0.7"/>
<path d="M243.8,209.5 246.0,211.6 249.6,210.8 250.4,209.2 250.1,207.0 249.5,206.0 245.2,204.3 244.1,205.2Z" fill="#cb43a0"/>
<circle cx="247.7" cy="209.2" r="1.5" fill="#dd67bb" opacity="0.7"/>
<circle cx="246.3" cy="207.4" r="1.6" fill="#d85db3" opacity="0.7"/>
<path d="M148.2,219.7 149.8,220.3 151.9,219.9 153.1,218.8 154.0,216.6 153.6,214.5 149.7,212.1 148.5,212.4 147.3,213.4 146.4,215.7Z" fill="#ca53a3"/>
<ellipse cx="149.8" cy="216.3" rx="1.6" ry="1.5" fill="#da79bb" opacity="0.85"/>
<circle cx="148.8" cy="215.1" r="1.5" fill="#ae3e93" opacity="0.7"/>
<circle cx="150.6" cy="216.9" r="1.5" fill="#b44396" opacity="0.7"/>
<path d="M217.6,271.8 217.0,273.4 217.1,275.0 217.8,276.2 219.0,277.0 222.2,276.9 223.6,275.9 224.6,274.4 222.8,269.4Z" fill="#c44596"/>
<ellipse cx="221.4" cy="273.4" rx="1.4" ry="1.8" fill="#d775b6" opacity="0.85"/>
<circle cx="219.6" cy="272.5" r="1.1" fill="#d466af" opacity="0.7"/>
<circle cx="219.8" cy="273.4" r="1.2" fill="#ce58a4" opacity="0.7"/>
<path d="M179.9,297.3 180.5,298.8 181.7,300.1 183.1,300.8 184.8,301.0 187.1,300.0 188.0,298.6 188.3,297.0 188.0,295.3 187.1,293.9 185.7,292.8 183.3,292.4 181.6,293.0 180.5,294.1Z" fill="#bf3991"/>
<circle cx="183.7" cy="296.7" r="0.9" fill="#c94c9f" opacity="0.7"/>
<circle cx="185.5" cy="298.0" r="1.3" fill="#a32481" opacity="0.7"/>
<path d="M176.2,201.6 176.7,202.7 181.1,204.1 183.1,201.7 183.4,199.8 182.9,198.0 181.2,196.5 179.8,196.4 178.4,196.8 177.4,197.6Z" fill="#cf5ba9"/>
<ellipse cx="179.6" cy="201.0" rx="1.2" ry="1.6" fill="#d97dbd" opacity="0.85"/>
<circle cx="178.5" cy="199.4" r="1.4" fill="#b6499b" opacity="0.7"/>
<circle cx="180.4" cy="200.3" r="1.5" fill="#b6499b" opacity="0.7"/>
<path d="M197.7,235.0 198.1,233.3 197.6,231.3 194.7,230.1 192.2,231.7 191.0,234.7 191.6,236.8 193.7,238.0 195.8,237.4Z" fill="#d457a7"/>
<ellipse cx="195.0" cy="234.2" rx="1.7" ry="1.4" fill="#d272af" opacity="0.85"/>
<circle cx="193.2" cy="235.4" r="1.6" fill="#b64095" opacity="0.7"/>
<circle cx="195.0" cy="235.4" r="1.3" fill="#e171bb" opacity="0.7"/>
<path d="M249.4,228.5 248.7,227.0 247.6,226.0 244.4,225.5 241.8,227.2 241.2,228.5 241.2,230.0 241.9,231.4 243.1,232.4 246.2,232.9 248.8,231.2Z" fill="#c34496"/>
<circle cx="245.8" cy="229.7" r="1.1" fill="#cf5ba7" opacity="0.7"/>
<circle cx="244.5" cy="227.7" r="1.1" fill="#cd58a5" opacity="0.7"/>
<path d="M207.1,285.1 206.8,287.6 208.0,289.9 210.7,291.5 212.8,291.0 214.5,288.6 214.3,286.2 213.3,284.7 212.0,283.7 208.1,284.1Z" fill="#ba3f91"/>
<ellipse cx="210.3" cy="286.8" rx="1.7" ry="1.8" fill="#dd80c0" opacity="0.85"/>
<circle cx="211.6" cy="287.8" r="1.1" fill="#9e2a81" opacity="0.7"/>
<circle cx="209.7" cy="288.3" r="1.0" fill="#c3519e" opacity="0.7"/>
<path d="M157.4,226.7 158.7,226.7 160.2,225.9 161.3,224.6 161.8,222.6 157.8,217.8 155.3,219.3 154.2,222.5 154.5,224.2Z" fill="#c5409b"/>
<circle cx="158.7" cy="223.2" r="1.3" fill="#d25baf" opacity="0.7"/>
<circle cx="157.4" cy="221.3" r="1.6" fill="#cf53a9" opacity="0.7"/>
<path d="M151.8,268.1 151.8,266.5 151.0,265.1 149.7,264.2 148.2,263.8 144.4,266.1 143.8,267.6 144.1,269.2 144.9,270.5 147.6,271.8 149.3,271.4Z" fill="#cb51a6"/>
<circle cx="149.5" cy="267.1" r="1.6" fill="#d565b5" opacity="0.7"/>
<circle cx="148.8" cy="269.0" r="1.3" fill="#d565b5" opacity="0.7"/>
<path d="M247.4,268.9 248.1,266.4 246.8,263.8 244.3,262.5 242.1,263.2 241.7,267.4 242.4,268.6 245.1,269.9Z" fill="#c7469c"/>
<ellipse cx="244.6" cy="266.6" rx="1.4" ry="1.3" fill="#dc7fbf" opacity="0.85"/>
<circle cx="244.7" cy="267.7" r="1.6" fill="#ae338d" opacity="0.7"/>
<circle cx="246.1" cy="267.1" r="1.4" fill="#d969b6" opacity="0.7"/>
<path d="M142.2,202.0 140.8,202.3 139.5,203.5 138.7,205.8 138.9,207.5 139.8,209.1 141.1,210.3 142.8,210.8 144.4,210.7 146.5,209.2 147.2,207.8 147.3,206.1Z" fill="#c54e9f"/>
<ellipse cx="142.5" cy="206.5" rx="1.6" ry="1.4" fill="#dd7dbb" opacity="0.85"/>
<circle cx="141.4" cy="207.7" r="1.0" fill="#b24094" opacity="0.7"/>
<circle cx="143.7" cy="204.9" r="1.4" fill="#d56eb7" opacity="0.7"/>
<path d="M237.7,217.7 237.4,220.0 238.8,222.8 241.4,224.1 243.3,223.5 244.2,221.8 244.3,220.3 242.9,217.3 240.2,216.0 238.8,216.4Z" fill="#c04598"/>
<ellipse cx="241.0" cy="219.7" rx="1.4" ry="1.6" fill="#e07cbe" opacity="0.85"/>
<circle cx="240.0" cy="221.7" r="1.6" fill="#ad378d" opacity="0.7"/>
<circle cx="241.9" cy="220.3" r="1.2" fill="#d269b3" opacity="0.7"/>
<path d="M199.3,266.1 200.1,266.6 203.8,266.3 206.2,262.4 205.6,260.4 204.4,259.1 202.9,258.4 201.2,258.3 199.6,258.9 198.3,260.1 197.8,261.3Z" fill="#c04793"/>
<circle cx="201.1" cy="263.1" r="1.5" fill="#cc5fa5" opacity="0.7"/>
<circle cx="203.0" cy="262.3" r="1.3" fill="#c95aa1" opacity="0.7"/>
<path d="M226.3,200.9 226.3,199.4 225.8,197.7 224.6,196.4 223.0,195.6 221.3,195.6 219.6,196.2 218.3,197.4 217.5,199.0 217.4,200.8 218.0,202.5 219.2,203.8 220.8,204.5 222.5,204.6 224.2,204.0 225.5,202.8Z" fill="#c14894"/>
<circle cx="221.0" cy="198.8" r="1.1" fill="#d167ac" opacity="0.7"/>
<circle cx="223.5" cy="201.0" r="1.5" fill="#9e2d7f" opacity="0.7"/>
<path d="M171.3,288.2 173.1,290.0 177.2,290.1 178.5,289.0 179.2,287.6 179.3,285.9 178.8,284.4 177.7,283.0 175.8,282.3 171.7,284.7Z" fill="#cc4e9a"/>
<ellipse cx="175.5" cy="286.5" rx="1.2" ry="1.7" fill="#d26eae" opacity="0.85"/>
<circle cx="176.5" cy="287.4" r="1.1" fill="#d661a9" opacity="0.7"/>
<circle cx="174.1" cy="287.7" r="1.2" fill="#db6cb0" opacity="0.7"/>
<path d="M205.2,267.0 207.1,270.7 208.1,271.1 210.6,270.7 212.8,268.8 212.5,264.9 210.4,263.6 207.1,264.4Z" fill="#cd57a6"/>
<ellipse cx="209.7" cy="266.9" rx="1.4" ry="1.4" fill="#d274b5" opacity="0.85"/>
<circle cx="210.5" cy="268.5" r="1.0" fill="#dd77be" opacity="0.7"/>
<circle cx="209.4" cy="266.5" r="1.4" fill="#b14296" opacity="0.7"/>
<path d="M213.1,263.2 217.4,261.4 217.9,257.2 215.2,255.0 213.4,255.1 211.9,255.8 210.3,258.0 210.1,259.6 210.5,261.2Z" fill="#d357aa"/>
<circle cx="213.2" cy="260.1" r="1.6" fill="#b9439b" opacity="0.7"/>
<circle cx="213.3" cy="257.9" r="1.0" fill="#b64199" opacity="0.7"/>
<path d="M224.8,269.3 226.1,273.6 227.1,274.1 230.3,273.5 231.6,272.5 232.5,270.6 232.0,268.5 229.7,267.1 227.2,267.4Z" fill="#ba3f8c"/>
<ellipse cx="228.1" cy="270.5" rx="1.5" ry="1.5" fill="#d270b1" opacity="0.85"/>
<circle cx="227.4" cy="269.8" r="1.6" fill="#c35099" opacity="0.7"/>
<circle cx="229.2" cy="270.9" r="1.5" fill="#c5559c" opacity="0.7"/>
<path d="M158.4,296.8 159.9,297.8 162.1,298.1 166.3,293.4 166.1,292.0 161.4,289.2 160.3,289.3 157.7,295.2Z" fill="#c24896"/>
<ellipse cx="162.1" cy="293.5" rx="1.8" ry="1.4" fill="#d072b2" opacity="0.85"/>
<circle cx="160.7" cy="294.6" r="1.6" fill="#af3a8b" opacity="0.7"/>
<circle cx="163.2" cy="294.2" r="1.1" fill="#a93587" opacity="0.7"/>
<path d="M148.6,285.4 149.5,285.8 151.3,285.4 154.2,283.4 154.3,279.2 151.6,278.3 148.3,279.5 147.0,281.9Z" fill="#bb4190"/>
<circle cx="150.8" cy="281.7" r="1.2" fill="#c759a2" opacity="0.7"/>
<circle cx="149.2" cy="281.2" r="1.2" fill="#c759a2" opacity="0.7"/>
<path d="M167.6,280.8 170.8,283.4 173.5,281.9 174.6,279.3 174.1,276.2 172.5,275.3 170.4,275.7 168.7,277.5Z" fill="#bc3a8f"/>
<circle cx="172.3" cy="280.5" r="1.3" fill="#a52982" opacity="0.7"/>
<circle cx="172.1" cy="279.6" r="1.0" fill="#9e247e" opacity="0.7"/>
<path d="M252.4,268.8 254.9,272.3 256.3,272.9 260.8,270.8 261.3,269.8 257.7,263.7 257.1,263.4 253.7,264.7 252.7,266.2Z" fill="#ba4590"/>
<circle cx="255.6" cy="267.3" r="1.1" fill="#9c2f7f" opacity="0.7"/>
<circle cx="255.4" cy="267.6" r="1.0" fill="#c963a6" opacity="0.7"/>
<path d="M260.1,293.0 262.2,294.6 264.9,294.4 266.5,292.5 266.4,290.5 265.2,289.0 263.9,288.4 261.3,288.7 259.8,290.1Z" fill="#c5479a"/>
<circle cx="261.6" cy="291.0" r="1.6" fill="#b43a90" opacity="0.7"/>
<circle cx="262.5" cy="290.5" r="1.4" fill="#a22d86" opacity="0.7"/>
<path d="M247.0,237.1 249.4,240.8 250.2,241.1 253.0,240.2 254.3,237.8 253.7,235.6 250.7,234.0 248.2,234.9Z" fill="#d053a6"/>
<ellipse cx="250.4" cy="237.1" rx="1.8" ry="1.6" fill="#dd7bba" opacity="0.85"/>
<circle cx="250.0" cy="237.1" r="1.0" fill="#b64097" opacity="0.7"/>
<circle cx="251.9" cy="238.7" r="0.9" fill="#dc6cb9" opacity="0.7"/>
<path d="M178.2,262.4 177.2,263.2 176.8,265.0 178.3,267.7 181.4,269.1 182.9,269.0 184.0,268.4 184.7,267.3 184.8,266.0 183.3,263.4 182.3,262.7Z" fill="#c650a0"/>
<ellipse cx="180.7" cy="266.0" rx="1.3" ry="1.7" fill="#de7ebb" opacity="0.85"/>
<circle cx="180.5" cy="265.7" r="1.3" fill="#b24194" opacity="0.7"/>
<circle cx="179.8" cy="264.6" r="1.4" fill="#ad3d92" opacity="0.7"/>
<path d="M172.4,230.7 170.3,230.1 168.4,231.0 167.5,234.7 168.2,236.1 169.9,237.3 172.5,237.2 174.0,235.6 174.2,233.1Z" fill="#b3398b"/>
<circle cx="172.1" cy="233.8" r="1.5" fill="#912077" opacity="0.7"/>
<circle cx="169.4" cy="235.1" r="1.6" fill="#c258a2" opacity="0.7"/>
<path d="M214.4,269.9 215.9,271.0 221.7,267.9 222.0,266.0 218.2,263.3 214.4,264.5 214.0,265.0Z" fill="#c94a9b"/>
<circle cx="217.2" cy="268.3" r="1.3" fill="#ad358b" opacity="0.7"/>
<circle cx="216.6" cy="266.8" r="1.1" fill="#b1388d" opacity="0.7"/>
<path d="M155.0,213.5 156.2,213.1 157.2,211.9 157.8,208.4 156.2,205.6 153.0,205.1 151.1,206.9 150.6,210.3 151.0,211.2Z" fill="#bd479b"/>
<ellipse cx="153.7" cy="209.6" rx="1.8" ry="1.7" fill="#d676b8" opacity="0.85"/>
<circle cx="154.7" cy="207.9" r="1.0" fill="#c65aa9" opacity="0.7"/>
<circle cx="153.1" cy="208.4" r="0.9" fill="#ab3990" opacity="0.7"/>
<path d="M235.0,207.8 235.1,208.5 238.5,211.6 240.1,211.8 241.8,211.4 242.2,210.9 242.6,204.9 241.2,203.8 237.8,203.8Z" fill="#cb4ea2"/>
<ellipse cx="239.7" cy="207.5" rx="1.5" ry="1.4" fill="#cf72b1" opacity="0.85"/>
<circle cx="239.1" cy="207.8" r="1.4" fill="#d767b4" opacity="0.7"/>
<circle cx="239.4" cy="209.1" r="1.5" fill="#b63e96" opacity="0.7"/>
<path d="M252.8,283.9 250.8,282.3 248.2,282.7 246.7,284.8 247.1,287.3 249.1,288.9 251.6,288.5 253.1,286.7Z" fill="#c04c99"/>
<ellipse cx="250.0" cy="285.6" rx="1.8" ry="1.5" fill="#d777b9" opacity="0.85"/>
<circle cx="251.1" cy="284.4" r="1.4" fill="#d16db2" opacity="0.7"/>
<circle cx="250.9" cy="286.5" r="0.9" fill="#cd66ac" opacity="0.7"/>
<path d="M181.5,222.2 180.1,223.6 179.7,225.0 182.0,228.8 183.1,228.9 185.7,227.4 186.7,225.4 184.8,221.5Z" fill="#cb53a4"/>
<circle cx="183.4" cy="224.4" r="1.1" fill="#dd76be" opacity="0.7"/>
<circle cx="184.6" cy="223.8" r="0.9" fill="#d668b4" opacity="0.7"/>
<path d="M242.0,276.0 242.7,274.7 242.7,273.1 242.1,271.6 240.9,270.3 235.6,270.8 235.1,271.3 234.5,272.7 234.5,274.3 235.1,275.8 236.3,277.0 237.9,277.6Z" fill="#c54693"/>
<circle cx="239.4" cy="273.3" r="0.9" fill="#a22c7f" opacity="0.7"/>
<circle cx="240.2" cy="274.4" r="1.5" fill="#b43989" opacity="0.7"/>
<path d="M191.6,249.5 192.2,249.7 196.4,247.9 196.9,247.2 197.4,245.4 197.3,243.6 194.9,241.0 192.4,241.3 189.9,245.6Z" fill="#c64d98"/>
<circle cx="194.3" cy="244.4" r="1.3" fill="#d66db0" opacity="0.7"/>
<circle cx="192.8" cy="245.4" r="0.9" fill="#a23283" opacity="0.7"/>
<path d="M231.6,299.5 232.8,300.3 234.6,300.7 236.4,300.4 238.6,299.0 239.3,297.6 237.7,293.3 235.8,292.7 233.9,293.1 231.1,296.8Z" fill="#cd4ba5"/>
<circle cx="236.3" cy="296.4" r="1.5" fill="#de6ebf" opacity="0.7"/>
<circle cx="236.0" cy="297.9" r="1.1" fill="#ae3493" opacity="0.7"/>
<path d="M236.7,282.4 235.3,282.2 232.2,285.9 233.1,288.3 235.7,289.8 238.2,289.1 239.4,287.2 239.3,285.7Z" fill="#c44a9b"/>
<circle cx="236.0" cy="284.9" r="0.9" fill="#a8358a" opacity="0.7"/>
<circle cx="236.3" cy="285.1" r="1.3" fill="#d46bb4" opacity="0.7"/>
<path d="M266.1,277.9 262.9,282.3 263.7,283.8 265.0,284.9 266.6,285.5 268.3,285.3 269.8,284.5 270.9,283.2 271.4,281.6 271.3,279.9 270.4,278.4Z" fill="#cd519f"/>
<ellipse cx="266.8" cy="280.9" rx="1.2" ry="1.8" fill="#d173b2" opacity="0.85"/>
<circle cx="266.4" cy="282.2" r="1.3" fill="#bb4495" opacity="0.7"/>
<circle cx="267.4" cy="279.6" r="1.0" fill="#b23d8f" opacity="0.7"/>
<path d="M147.1,231.5 147.5,230.9 147.5,226.5 147.1,225.9 145.8,225.3 144.3,225.2 141.5,226.8 140.5,229.7 140.9,231.1 141.8,232.2 142.9,232.7Z" fill="#bb3f8f"/>
<circle cx="144.9" cy="229.3" r="1.2" fill="#c758a2" opacity="0.7"/>
<circle cx="144.2" cy="229.3" r="1.3" fill="#9a277c" opacity="0.7"/>
<path d="M241.1,252.7 242.5,252.7 244.7,251.1 244.9,247.1 239.9,244.8 239.0,245.3 237.5,249.4 238.7,251.3Z" fill="#ce52a0"/>
<circle cx="242.9" cy="248.5" r="1.3" fill="#db6cb4" opacity="0.7"/>
<circle cx="243.2" cy="249.8" r="1.3" fill="#dc6db4" opacity="0.7"/>
<path d="M262.3,217.4 261.8,218.6 261.9,220.4 262.6,221.9 263.9,223.1 265.5,223.6 267.2,223.5 268.7,222.8 269.8,221.5 270.4,219.9 270.3,218.3 269.6,216.8 268.4,215.7Z" fill="#c64192"/>
<circle cx="265.2" cy="219.0" r="1.6" fill="#a92b81" opacity="0.7"/>
<circle cx="266.9" cy="220.2" r="1.2" fill="#d35ba5" opacity="0.7"/>
<path d="M194.2,212.6 193.0,214.3 192.8,217.2 195.4,219.5 197.6,218.9 200.0,216.3 200.4,214.7 199.9,212.7 198.9,211.8 197.4,211.4Z" fill="#bc4798"/>
<circle cx="197.5" cy="214.8" r="1.0" fill="#ce6bb3" opacity="0.7"/>
<circle cx="196.0" cy="216.2" r="1.4" fill="#c65ba7" opacity="0.7"/>
<path d="M182.7,245.4 183.1,244.6 182.2,240.6 181.7,240.1 178.8,240.0 176.6,241.9 176.2,244.7 177.9,246.8 180.8,246.9Z" fill="#cd53aa"/>
<circle cx="179.4" cy="243.4" r="1.4" fill="#b4409c" opacity="0.7"/>
<circle cx="180.1" cy="243.8" r="1.0" fill="#aa3996" opacity="0.7"/>
<path d="M228.0,235.5 226.8,236.9 226.6,238.5 226.9,240.1 227.9,241.4 229.2,242.0 234.1,240.1 233.5,235.4Z" fill="#c14793"/>
<ellipse cx="231.0" cy="238.6" rx="1.3" ry="1.5" fill="#dc7cbe" opacity="0.85"/>
<circle cx="229.8" cy="239.2" r="1.0" fill="#a12f80" opacity="0.7"/>
<circle cx="230.2" cy="237.0" r="1.2" fill="#cb5ba2" opacity="0.7"/>
<path d="M224.9,281.1 223.9,279.8 222.4,278.9 219.0,278.9 217.2,280.4 216.8,281.9 217.0,283.4 217.8,284.9 219.2,286.1 220.9,286.7 223.3,286.5 224.6,285.6 225.4,284.4Z" fill="#bf4492"/>
<circle cx="221.6" cy="283.7" r="1.6" fill="#9c2a7d" opacity="0.7"/>
<circle cx="220.7" cy="282.2" r="1.2" fill="#cf65ab" opacity="0.7"/>
<path d="M246.4,219.2 248.0,220.2 249.3,220.3 252.6,217.0 252.7,216.4 250.3,212.2 245.5,213.4 245.1,213.9 244.7,215.8Z" fill="#d457ac"/>
<circle cx="248.6" cy="216.7" r="0.9" fill="#e375c2" opacity="0.7"/>
<circle cx="248.2" cy="216.8" r="1.0" fill="#c149a1" opacity="0.7"/>
<path d="M264.5,296.4 264.2,297.0 264.8,302.0 267.2,303.0 269.2,302.2 270.8,299.4 270.8,297.7 269.8,295.7 267.8,294.6Z" fill="#c0439b"/>
<ellipse cx="267.4" cy="299.1" rx="1.4" ry="1.3" fill="#e07cbf" opacity="0.85"/>
<circle cx="266.3" cy="299.4" r="1.2" fill="#9f2a88" opacity="0.7"/>
<circle cx="265.6" cy="300.1" r="1.1" fill="#ca57aa" opacity="0.7"/>
<path d="M150.9,287.9 150.4,288.7 151.4,293.7 156.2,294.5 158.7,288.8 158.4,288.0 155.1,286.1Z" fill="#bf4493"/>
<circle cx="153.3" cy="291.8" r="1.2" fill="#ca59a3" opacity="0.7"/>
<circle cx="152.8" cy="291.1" r="1.4" fill="#cc5ea6" opacity="0.7"/>
<path d="M244.5,275.3 246.6,277.8 248.2,278.3 250.0,278.3 251.7,277.6 253.0,276.3 253.8,273.5 251.3,270.0 249.5,269.5 244.7,272.2Z" fill="#c94d9c"/>
<ellipse cx="248.6" cy="273.9" rx="1.4" ry="1.3" fill="#d675b6" opacity="0.85"/>
<circle cx="248.1" cy="273.8" r="1.6" fill="#d86ab2" opacity="0.7"/>
<circle cx="249.2" cy="274.0" r="1.6" fill="#d86bb2" opacity="0.7"/>
<path d="M261.2,206.7 261.6,207.3 267.7,208.2 269.2,206.4 269.5,204.1 263.4,201.0 262.2,201.9Z" fill="#bf4595"/>
<ellipse cx="265.5" cy="204.4" rx="1.5" ry="1.7" fill="#de7fc0" opacity="0.85"/>
<circle cx="264.5" cy="204.7" r="1.6" fill="#a53186" opacity="0.7"/>
<circle cx="263.7" cy="204.2" r="1.5" fill="#cf65ad" opacity="0.7"/>
<path d="M253.3,205.4 254.4,206.8 258.0,207.3 259.1,206.7 259.8,205.9 260.7,201.6 259.9,200.0 257.8,198.8 255.0,199.5Z" fill="#b9458f"/>
<ellipse cx="256.7" cy="203.6" rx="1.5" ry="1.5" fill="#e07ec2" opacity="0.85"/>
<circle cx="255.5" cy="201.7" r="1.1" fill="#c2579c" opacity="0.7"/>
<circle cx="256.4" cy="203.6" r="1.1" fill="#a83885" opacity="0.7"/>
<path d="M199.4,230.4 200.3,233.4 205.2,235.2 207.0,234.2 208.1,231.8 208.1,230.0 207.4,228.4 206.1,227.1 204.4,226.5 202.7,226.6Z" fill="#cb489e"/>
<ellipse cx="203.6" cy="231.4" rx="1.4" ry="1.6" fill="#d473b2" opacity="0.85"/>
<circle cx="204.8" cy="230.4" r="1.4" fill="#d861b1" opacity="0.7"/>
<circle cx="204.8" cy="231.4" r="1.5" fill="#a82e8a" opacity="0.7"/>
<path d="M254.7,298.0 250.5,294.3 249.8,294.2 248.6,294.8 246.4,298.3 246.4,299.5 247.1,301.0 248.4,302.1 250.0,302.6 251.7,302.5 254.3,300.7Z" fill="#cd4ca4"/>
<circle cx="249.8" cy="298.9" r="1.2" fill="#ae3592" opacity="0.7"/>
<circle cx="251.6" cy="298.2" r="1.4" fill="#d65fb2" opacity="0.7"/>
<path d="M240.7,297.1 242.9,298.0 245.1,297.5 247.6,293.4 247.0,291.4 245.8,290.0 244.2,289.2 242.5,289.2 240.9,289.7 239.6,290.9 239.0,292.6Z" fill="#c03d95"/>
<ellipse cx="243.8" cy="294.1" rx="1.4" ry="1.5" fill="#dd7dc1" opacity="0.85"/>
<circle cx="243.6" cy="294.2" r="1.3" fill="#cd56a8" opacity="0.7"/>
<circle cx="243.9" cy="292.6" r="0.9" fill="#a92c88" opacity="0.7"/>
<path d="M230.0,214.8 231.6,217.1 234.4,217.6 236.7,216.0 237.2,213.4 235.6,211.1 232.8,210.6 230.5,212.1Z" fill="#c14898"/>
<circle cx="232.7" cy="212.9" r="1.5" fill="#cf64ad" opacity="0.7"/>
<circle cx="234.5" cy="215.7" r="1.5" fill="#a02f85" opacity="0.7"/>
<path d="M264.7,245.4 262.3,249.5 262.3,250.1 269.5,252.6 270.5,251.4 271.1,249.8 271.1,247.9 270.4,246.3 269.4,245.4Z" fill="#c84a9b"/>
<circle cx="265.3" cy="247.4" r="1.2" fill="#a73188" opacity="0.7"/>
<circle cx="267.2" cy="249.2" r="1.2" fill="#a83288" opacity="0.7"/>
<path d="M141.4,280.4 145.4,280.8 147.4,278.2 146.6,275.5 144.7,273.7 142.6,273.3 141.3,273.8 140.5,274.9 140.1,277.4Z" fill="#c24798"/>
<circle cx="142.5" cy="276.7" r="1.6" fill="#a43086" opacity="0.7"/>
<circle cx="143.9" cy="279.0" r="1.3" fill="#9e2c83" opacity="0.7"/>
<path d="M199.5,284.0 200.5,284.7 202.8,284.9 204.6,284.3 206.3,282.9 204.7,277.5 202.1,277.7 199.3,279.7Z" fill="#c54796"/>
<circle cx="202.4" cy="282.3" r="1.3" fill="#af3789" opacity="0.7"/>
<circle cx="202.3" cy="279.6" r="0.9" fill="#af3689" opacity="0.7"/>
<path d="M167.0,230.5 166.5,229.2 165.4,228.1 164.0,227.6 162.5,227.6 161.2,228.2 160.2,229.4 159.7,232.4 161.5,234.9 162.9,235.4 164.4,235.4 165.7,234.6Z" fill="#c84b9b"/>
<circle cx="164.8" cy="231.1" r="1.4" fill="#a73288" opacity="0.7"/>
<circle cx="162.7" cy="230.6" r="1.1" fill="#d668b0" opacity="0.7"/>
<path d="M269.0,201.9 270.6,201.5 271.8,200.5 272.4,199.0 272.4,197.6 271.3,195.8 269.9,195.0 266.6,195.0 264.3,196.9 264.1,199.2Z" fill="#c43e95"/>
<circle cx="266.8" cy="199.7" r="1.5" fill="#d661b0" opacity="0.7"/>
<circle cx="268.4" cy="197.1" r="1.3" fill="#d159a9" opacity="0.7"/>
<path d="M196.2,239.4 196.3,240.2 197.9,242.0 201.0,242.6 203.4,241.8 205.3,238.2 204.6,236.6 199.8,234.9Z" fill="#c64d99"/>
<ellipse cx="200.2" cy="238.1" rx="1.4" ry="1.7" fill="#d778bb" opacity="0.85"/>
<circle cx="201.4" cy="238.1" r="1.4" fill="#d163aa" opacity="0.7"/>
<circle cx="199.2" cy="239.2" r="1.4" fill="#d265ab" opacity="0.7"/>
<path d="M251.7,211.0 254.5,216.2 256.4,216.3 258.9,215.2 259.0,209.7 258.5,209.1 255.8,208.5 254.2,208.8 252.6,209.6Z" fill="#b33a8c"/>
<circle cx="254.1" cy="212.6" r="1.0" fill="#9f2b80" opacity="0.7"/>
<circle cx="255.1" cy="213.1" r="1.5" fill="#9e2a80" opacity="0.7"/>
<path d="M152.4,202.3 154.8,203.6 158.2,202.9 159.3,201.8 159.9,200.4 159.4,198.0 157.6,196.4 155.9,195.9 154.1,195.9 152.5,196.5 151.9,197.2Z" fill="#c54898"/>
<circle cx="156.1" cy="198.2" r="1.5" fill="#d160aa" opacity="0.7"/>
<circle cx="155.6" cy="200.0" r="1.6" fill="#a53086" opacity="0.7"/>
<path d="M146.0,263.2 147.2,261.9 147.5,260.5 146.8,258.8 145.7,257.9 142.6,257.7 141.1,258.4 139.7,259.9 139.5,262.0 141.2,263.8 143.5,264.2Z" fill="#b83f8d"/>
<circle cx="144.2" cy="259.4" r="1.4" fill="#a02d7f" opacity="0.7"/>
<circle cx="144.9" cy="261.6" r="1.3" fill="#9e2c7e" opacity="0.7"/>
<path d="M235.3,220.1 231.9,219.8 231.0,220.2 229.7,221.5 229.0,224.0 229.5,225.5 235.7,228.2 237.1,227.4 238.1,225.5Z" fill="#d050a4"/>
<circle cx="232.3" cy="223.0" r="1.3" fill="#af3791" opacity="0.7"/>
<circle cx="233.0" cy="222.7" r="1.4" fill="#e171bd" opacity="0.7"/>
<path d="M193.5,202.0 196.7,203.1 198.4,202.5 199.7,201.4 200.5,198.8 200.2,197.2 199.1,195.7 197.6,194.7 195.8,194.4 194.0,194.7 192.0,196.2 191.7,196.9Z" fill="#c14597"/>
<circle cx="196.0" cy="199.6" r="1.0" fill="#9e2b83" opacity="0.7"/>
<circle cx="195.7" cy="200.3" r="1.5" fill="#cc5ba7" opacity="0.7"/>
<path d="M251.0,227.9 250.6,232.2 255.0,234.5 258.3,231.9 258.3,228.6 256.6,227.0 252.3,226.8Z" fill="#c94d9b"/>
<circle cx="255.8" cy="231.9" r="1.0" fill="#d86ab1" opacity="0.7"/>
<circle cx="255.6" cy="230.5" r="1.5" fill="#a63387" opacity="0.7"/>
<path d="M263.3,240.2 263.7,242.5 265.2,243.9 268.4,243.5 269.7,241.9 270.0,240.4 269.2,238.0 266.9,236.9 264.6,237.8Z" fill="#c9449c"/>
<circle cx="265.5" cy="239.0" r="1.0" fill="#d55cae" opacity="0.7"/>
<circle cx="266.8" cy="241.8" r="1.3" fill="#d964b4" opacity="0.7"/>
<path d="M170.4,210.2 168.8,213.3 169.0,214.8 170.7,217.0 173.3,217.2 175.1,215.3 175.2,212.5 172.3,209.9Z" fill="#b33b86"/>
<circle cx="171.1" cy="212.1" r="1.1" fill="#9c2a79" opacity="0.7"/>
<circle cx="173.2" cy="213.0" r="1.1" fill="#9e2b7a" opacity="0.7"/>
<path d="M236.9,260.6 240.9,261.4 242.0,260.7 242.3,259.7 242.2,257.9 241.2,255.4 239.9,254.0 237.9,253.2 236.1,253.7 235.2,255.7 235.5,258.2Z" fill="#c44894"/>
<circle cx="238.9" cy="257.5" r="1.1" fill="#a43081" opacity="0.7"/>
<circle cx="237.5" cy="256.2" r="1.5" fill="#aa3585" opacity="0.7"/>
<path d="M150.9,271.8 151.1,274.4 153.3,276.1 156.1,275.8 157.8,273.6 157.5,271.0 155.4,269.4 152.6,269.7Z" fill="#c04c9a"/>
<circle cx="155.6" cy="273.2" r="1.3" fill="#ae3f90" opacity="0.7"/>
<circle cx="155.0" cy="273.1" r="1.6" fill="#cf6ab0" opacity="0.7"/>
<path d="M149.1,227.2 149.0,230.8 150.3,232.2 152.9,232.5 155.1,230.7 155.6,228.0 154.0,225.8 151.3,225.5Z" fill="#ce4da2"/>
<ellipse cx="152.3" cy="229.2" rx="1.6" ry="1.4" fill="#d873b3" opacity="0.85"/>
<circle cx="152.7" cy="228.8" r="1.1" fill="#bc4098" opacity="0.7"/>
<circle cx="151.5" cy="229.7" r="1.4" fill="#db67b6" opacity="0.7"/>
<path d="M228.5,233.8 232.9,233.5 233.9,231.6 233.3,229.0 229.9,227.4 227.8,228.4 226.8,230.9 227.2,232.3Z" fill="#cc4c9e"/>
<circle cx="229.0" cy="232.3" r="1.5" fill="#d761ae" opacity="0.7"/>
<circle cx="229.3" cy="232.0" r="1.4" fill="#d65fad" opacity="0.7"/>
<path d="M218.7,255.6 222.6,254.8 223.0,254.3 223.0,248.9 221.2,247.7 219.5,247.5 217.9,248.0 216.7,249.1 215.9,250.6 216.2,253.7Z" fill="#d455a8"/>
<ellipse cx="220.3" cy="251.9" rx="1.6" ry="1.6" fill="#ce72b2" opacity="0.85"/>
<circle cx="220.9" cy="250.7" r="1.2" fill="#e270bc" opacity="0.7"/>
<circle cx="218.8" cy="253.3" r="1.5" fill="#dd68b6" opacity="0.7"/>
<path d="M191.5,203.0 192.0,202.0 190.4,198.2 187.6,198.1 184.9,200.0 184.6,203.3 185.9,204.6 188.9,204.8Z" fill="#c14292"/>
<ellipse cx="188.9" cy="201.7" rx="1.3" ry="1.8" fill="#df7dbe" opacity="0.85"/>
<circle cx="189.6" cy="202.6" r="1.2" fill="#ca539f" opacity="0.7"/>
<circle cx="189.1" cy="201.5" r="1.4" fill="#ad3386" opacity="0.7"/>
<path d="M255.3,296.2 257.7,295.1 258.7,293.5 258.2,289.8 254.6,288.8 252.6,290.4 251.6,293.0Z" fill="#c34b96"/>
<circle cx="255.7" cy="292.5" r="1.5" fill="#cd5fa5" opacity="0.7"/>
<circle cx="254.1" cy="292.4" r="1.2" fill="#cf62a8" opacity="0.7"/>
<path d="M182.4,261.2 184.3,259.5 184.3,257.1 182.6,255.3 180.1,255.2 178.3,256.9 178.3,259.4 179.6,261.0Z" fill="#bd4092"/>
<ellipse cx="181.4" cy="258.3" rx="1.5" ry="1.3" fill="#de7cbe" opacity="0.85"/>
<circle cx="181.5" cy="258.2" r="1.4" fill="#cb5ca7" opacity="0.7"/>
<circle cx="181.4" cy="257.8" r="1.4" fill="#c754a1" opacity="0.7"/>
<path d="M226.5,296.0 224.0,296.4 222.5,298.4 222.9,300.9 225.0,302.3 227.5,302.0 229.0,299.9 228.6,297.5Z" fill="#ce59a7"/>
<ellipse cx="225.3" cy="298.7" rx="1.5" ry="1.3" fill="#db7bbc" opacity="0.85"/>
<circle cx="225.9" cy="297.8" r="1.5" fill="#d970b8" opacity="0.7"/>
<circle cx="224.8" cy="298.7" r="1.5" fill="#b74899" opacity="0.7"/>
<path d="M199.8,293.1 203.1,294.0 205.1,292.6 205.4,290.2 204.1,288.0 201.7,287.3 199.9,288.2 199.0,290.7Z" fill="#c4439b"/>
<ellipse cx="202.2" cy="291.0" rx="1.5" ry="1.3" fill="#df81bf" opacity="0.85"/>
<circle cx="203.8" cy="291.6" r="0.9" fill="#ae328e" opacity="0.7"/>
<circle cx="203.6" cy="289.4" r="1.1" fill="#d666b5" opacity="0.7"/>
<path d="M207.9,204.2 209.4,204.0 210.7,203.1 212.1,200.1 211.4,197.1 210.3,196.1 208.9,195.7 207.5,196.0 206.2,196.8 204.8,199.8 205.5,202.9 206.6,203.8Z" fill="#c64095"/>
<ellipse cx="208.4" cy="200.2" rx="1.8" ry="1.7" fill="#d877b6" opacity="0.85"/>
<circle cx="208.3" cy="200.2" r="1.4" fill="#d156a5" opacity="0.7"/>
<circle cx="209.6" cy="199.2" r="1.3" fill="#ac2d86" opacity="0.7"/>
<path d="M186.3,217.7 186.9,218.0 190.7,216.9 191.2,216.3 191.4,212.8 188.1,210.4 186.3,210.8 184.2,212.7Z" fill="#ba4696"/>
<ellipse cx="187.5" cy="213.7" rx="1.6" ry="1.7" fill="#d474b4" opacity="0.85"/>
<circle cx="188.4" cy="214.4" r="1.4" fill="#a33589" opacity="0.7"/>
<circle cx="187.2" cy="215.7" r="1.5" fill="#ca66ae" opacity="0.7"/>
<path d="M262.7,297.0 259.9,295.7 256.5,297.7 255.9,301.1 256.7,302.5 258.1,303.6 259.8,304.0 261.5,303.7 263.0,302.9Z" fill="#cf51a3"/>
<circle cx="261.3" cy="298.1" r="1.0" fill="#d965b2" opacity="0.7"/>
<circle cx="260.1" cy="299.1" r="1.3" fill="#b73f95" opacity="0.7"/>
<path d="M220.3,256.9 219.4,257.7 219.1,262.1 221.7,263.7 224.0,263.3 225.6,261.5 225.4,258.4 223.2,256.6Z" fill="#c64d99"/>
<circle cx="221.8" cy="260.7" r="0.9" fill="#d56bb0" opacity="0.7"/>
<circle cx="223.7" cy="258.6" r="1.3" fill="#d367ad" opacity="0.7"/>
<path d="M254.7,287.0 258.5,288.3 261.2,286.3 261.4,284.6 260.3,282.3 257.1,280.5 254.6,281.2 254.0,282.0Z" fill="#c74195"/>
<circle cx="255.8" cy="283.9" r="1.5" fill="#ad2d86" opacity="0.7"/>
<circle cx="256.2" cy="284.0" r="1.2" fill="#d761ad" opacity="0.7"/>
<path d="M163.1,221.6 164.6,221.5 167.7,218.7 168.0,217.5 166.6,215.2 161.8,214.3 160.2,215.7 159.7,217.3Z" fill="#d04aa3"/>
<ellipse cx="163.6" cy="218.0" rx="1.6" ry="1.5" fill="#da7bb9" opacity="0.85"/>
<circle cx="162.5" cy="218.1" r="1.1" fill="#e06abb" opacity="0.7"/>
<circle cx="163.8" cy="217.1" r="1.5" fill="#dc62b5" opacity="0.7"/>
<path d="M141.0,224.1 145.3,223.4 146.7,221.6 146.9,220.5 144.3,215.7 142.8,215.5 141.1,215.8 139.8,216.9 138.8,218.3 138.5,220.0 138.8,221.7 139.7,223.2Z" fill="#cf54aa"/>
<ellipse cx="143.3" cy="220.3" rx="1.2" ry="1.3" fill="#d677b6" opacity="0.85"/>
<circle cx="141.8" cy="219.0" r="1.6" fill="#be47a0" opacity="0.7"/>
<circle cx="143.0" cy="218.7" r="1.0" fill="#ad3a96" opacity="0.7"/>
<path d="M196.1,297.5 196.3,300.1 198.1,301.9 200.7,302.3 203.8,300.8 202.7,295.5 198.6,294.5Z" fill="#cd49a4"/>
<circle cx="201.8" cy="298.9" r="1.3" fill="#d75db3" opacity="0.7"/>
<circle cx="201.7" cy="297.2" r="1.4" fill="#b83998" opacity="0.7"/>
<path d="M147.6,204.3 149.4,203.7 150.8,202.1 150.4,197.3 148.7,196.4 146.4,196.7 144.9,197.6 143.3,200.5 143.5,201.2Z" fill="#c7519f"/>
<circle cx="148.1" cy="200.6" r="0.9" fill="#a7398d" opacity="0.7"/>
<circle cx="148.5" cy="201.6" r="1.2" fill="#a3368a" opacity="0.7"/>
<path d="M245.6,238.2 243.7,238.2 240.6,242.6 241.1,243.5 245.3,245.3 248.5,243.4 248.8,242.8Z" fill="#cb4fa6"/>
<ellipse cx="244.7" cy="241.4" rx="1.4" ry="1.5" fill="#df7bbb" opacity="0.85"/>
<circle cx="243.4" cy="241.7" r="1.3" fill="#b33d98" opacity="0.7"/>
<circle cx="245.7" cy="242.4" r="1.5" fill="#b03b96" opacity="0.7"/>
<path d="M194.9,257.3 196.7,257.8 198.4,257.4 199.8,256.4 200.8,254.9 201.0,253.4 200.3,250.7 198.2,249.0 192.8,251.1 192.4,251.6 192.3,252.5Z" fill="#d255a5"/>
<circle cx="198.1" cy="252.8" r="1.2" fill="#c0479a" opacity="0.7"/>
<circle cx="198.0" cy="254.0" r="1.6" fill="#dc69b4" opacity="0.7"/>
<path d="M204.5,242.9 204.4,244.3 204.9,245.5 210.5,247.5 212.0,246.4 212.8,244.8 212.9,243.2 212.4,241.6 211.3,240.3 209.7,239.6 208.1,239.5 206.5,240.0Z" fill="#c54da0"/>
<circle cx="209.3" cy="244.8" r="1.4" fill="#ac3a91" opacity="0.7"/>
<circle cx="209.1" cy="244.4" r="1.6" fill="#d46cb7" opacity="0.7"/>
<path d="M172.9,228.1 172.9,228.9 176.4,233.0 178.4,232.7 180.8,229.7 177.6,225.0 174.6,225.7Z" fill="#c44996"/>
<circle cx="177.8" cy="230.2" r="1.0" fill="#a02e81" opacity="0.7"/>
<circle cx="178.4" cy="230.4" r="1.0" fill="#b33c8c" opacity="0.7"/>
<path d="M257.9,240.0 260.5,240.3 261.8,239.7 263.3,236.9 262.9,235.4 260.2,233.7 258.3,234.0 257.2,234.8 256.3,237.4 256.6,238.7Z" fill="#bd4698"/>
<ellipse cx="259.2" cy="236.5" rx="1.5" ry="1.3" fill="#d272b1" opacity="0.85"/>
<circle cx="260.0" cy="237.4" r="1.4" fill="#a43389" opacity="0.7"/>
<circle cx="260.8" cy="237.6" r="1.5" fill="#cc64af" opacity="0.7"/>
<path d="M181.9,248.5 181.6,250.9 182.4,251.9 183.7,252.5 187.1,252.2 189.9,250.2 188.2,246.5 184.8,246.1 183.4,246.9Z" fill="#d75ba6"/>
<circle cx="185.0" cy="249.9" r="0.9" fill="#b44192" opacity="0.7"/>
<circle cx="187.0" cy="249.6" r="1.3" fill="#bb4696" opacity="0.7"/>
<path d="M244.0,258.4 246.1,260.1 248.7,259.7 250.4,254.0 245.6,252.3 244.0,253.5 243.4,254.7Z" fill="#b9418e"/>
<ellipse cx="246.4" cy="256.3" rx="1.8" ry="1.3" fill="#da7abc" opacity="0.85"/>
<circle cx="247.2" cy="255.1" r="1.2" fill="#c75da3" opacity="0.7"/>
<circle cx="246.0" cy="256.1" r="1.6" fill="#a02e80" opacity="0.7"/>
<path d="M168.8,197.3 170.6,200.8 172.7,201.6 174.8,200.9 175.9,197.5 174.4,195.6 172.2,194.9 170.1,195.4Z" fill="#d24da5"/>
<ellipse cx="172.8" cy="198.7" rx="1.5" ry="1.8" fill="#de7ec0" opacity="0.85"/>
<circle cx="172.9" cy="197.1" r="1.3" fill="#be3e99" opacity="0.7"/>
<circle cx="172.3" cy="199.7" r="1.6" fill="#e16cbc" opacity="0.7"/>
<path d="M147.0,287.0 147.3,286.3 145.3,282.3 140.6,282.0 138.9,283.7 138.7,285.2 139.2,286.8 141.6,288.8Z" fill="#c9539c"/>
<circle cx="143.1" cy="284.3" r="1.6" fill="#b0408d" opacity="0.7"/>
<circle cx="143.6" cy="284.7" r="1.0" fill="#d973b4" opacity="0.7"/>
<path d="M162.4,286.3 162.9,287.7 164.1,288.7 167.3,289.3 169.7,288.0 170.0,285.0 167.5,282.9 165.2,282.7 164.5,283.0Z" fill="#c44297"/>
<ellipse cx="165.9" cy="286.1" rx="1.7" ry="1.6" fill="#dd7ebf" opacity="0.85"/>
<circle cx="166.9" cy="286.3" r="1.4" fill="#ce56a6" opacity="0.7"/>
<circle cx="166.5" cy="284.6" r="1.4" fill="#a22883" opacity="0.7"/>
<path d="M233.8,264.5 233.7,267.0 235.5,269.2 240.0,268.5 240.4,263.6 240.0,262.9 235.8,262.2Z" fill="#cd53a6"/>
<circle cx="237.2" cy="265.0" r="1.4" fill="#b9449b" opacity="0.7"/>
<circle cx="237.9" cy="267.1" r="1.3" fill="#d869b6" opacity="0.7"/>
<path d="M163.1,299.2 163.6,301.3 164.7,302.2 166.3,302.7 169.0,302.2 171.6,300.2 169.0,295.0 166.5,295.4Z" fill="#d059a6"/>
<ellipse cx="168.1" cy="299.3" rx="1.3" ry="1.7" fill="#d472b3" opacity="0.85"/>
<circle cx="167.1" cy="297.4" r="0.9" fill="#bf4c9c" opacity="0.7"/>
<circle cx="167.4" cy="299.7" r="1.3" fill="#df77bc" opacity="0.7"/>
<path d="M175.3,263.2 174.5,261.5 173.0,260.2 170.6,259.9 168.9,260.6 167.5,262.0 166.7,263.9 166.5,266.0 167.5,268.5 169.8,270.1 171.5,270.1 173.1,269.4 175.0,267.0Z" fill="#c44e97"/>
<circle cx="170.6" cy="264.0" r="1.8" fill="#d571b1" opacity="0.7"/>
<circle cx="172.3" cy="266.0" r="1.7" fill="#ac3c89" opacity="0.7"/>
</g>
</g>
<clipPath id="clip3"><rect x="268.8" y="204.0" width="114.80000000000001" height="89.69999999999999"/></clipPath>
<g clip-path="url(#clip3)">
<rect x="268.8" y="204.0" width="114.80000000000001" height="89.69999999999999" fill="#dcd2ea"/>
<g filter="url(#soft)">
<ellipse cx="313" cy="255" rx="10" ry="9" fill="#eee6f2"/>
<ellipse cx="297" cy="212" rx="16" ry="10" fill="#d8b4dc"/>
<path d="M335.0,265.5 338.8,262.0 337.7,259.7 335.1,258.8 332.5,259.8 331.4,262.3 332.1,264.4Z" fill="#bc5495"/>
<ellipse cx="334.6" cy="262.2" rx="1.5" ry="1.3" fill="#e3a0c9" opacity="0.85"/>
<circle cx="333.8" cy="262.5" r="1.0" fill="#ce78b0" opacity="0.7"/>
<circle cx="336.6" cy="263.4" r="1.5" fill="#ce78b0" opacity="0.7"/>
<path d="M363.1,226.2 363.2,226.8 367.0,229.5 370.2,225.7 369.9,224.9 367.3,223.0 365.8,222.9 364.9,223.2Z" fill="#bf4f9c"/>
<ellipse cx="365.9" cy="226.8" rx="1.3" ry="1.4" fill="#e0a1cb" opacity="0.85"/>
<circle cx="366.8" cy="226.3" r="0.9" fill="#9c3587" opacity="0.7"/>
<circle cx="366.9" cy="226.6" r="1.4" fill="#a63c8d" opacity="0.7"/>
<path d="M343.3,290.9 347.0,291.5 348.8,286.7 348.2,285.7 347.0,285.0 345.4,284.9 342.5,286.6 342.0,287.8Z" fill="#b94590"/>
<circle cx="345.4" cy="287.9" r="1.0" fill="#a53685" opacity="0.7"/>
<circle cx="345.4" cy="288.8" r="1.4" fill="#c862a6" opacity="0.7"/>
<path d="M375.3,219.2 377.3,220.3 381.4,218.0 381.6,216.6 380.8,214.8 377.2,213.5 375.7,214.1 374.4,216.5Z" fill="#ba5092"/>
<ellipse cx="377.7" cy="216.9" rx="1.2" ry="1.3" fill="#eeafd3" opacity="0.85"/>
<circle cx="376.6" cy="216.2" r="1.2" fill="#c96ea8" opacity="0.7"/>
<circle cx="378.1" cy="217.3" r="1.2" fill="#c3619f" opacity="0.7"/>
<path d="M346.9,257.6 343.4,257.8 342.0,259.3 342.0,262.0 344.0,264.0 347.0,264.0 348.3,263.1 347.3,258.0Z" fill="#be5095"/>
<ellipse cx="345.9" cy="260.2" rx="1.6" ry="1.5" fill="#e2a1c8" opacity="0.85"/>
<circle cx="345.5" cy="259.8" r="0.9" fill="#c762a3" opacity="0.7"/>
<circle cx="344.6" cy="260.6" r="0.9" fill="#cd6dab" opacity="0.7"/>
<path d="M323.6,294.6 323.5,295.2 325.4,299.7 327.2,300.0 329.2,299.1 330.0,295.4 327.9,292.8 326.0,292.6Z" fill="#c65da1"/>
<ellipse cx="327.0" cy="296.6" rx="1.5" ry="1.7" fill="#e3a6cb" opacity="0.85"/>
<circle cx="326.1" cy="294.8" r="1.5" fill="#d172b1" opacity="0.7"/>
<circle cx="327.5" cy="296.0" r="1.2" fill="#d174b2" opacity="0.7"/>
<path d="M329.8,247.3 331.3,247.0 332.3,246.0 333.1,243.0 331.9,240.2 329.5,239.2 328.2,239.6 327.2,240.6 326.5,243.5 327.0,245.2Z" fill="#cb5ba7"/>
<ellipse cx="329.4" cy="243.6" rx="1.1" ry="1.2" fill="#e7a9cf" opacity="0.85"/>
<circle cx="329.9" cy="242.5" r="1.2" fill="#dc7ec1" opacity="0.7"/>
<circle cx="330.6" cy="244.0" r="1.5" fill="#ab4394" opacity="0.7"/>
<path d="M383.8,259.6 381.7,259.3 379.9,260.3 379.0,262.6 379.8,264.7 384.1,265.5 385.0,265.0 385.8,263.1Z" fill="#c756a1"/>
<circle cx="383.9" cy="262.2" r="1.3" fill="#d572b6" opacity="0.7"/>
<circle cx="382.8" cy="263.2" r="0.9" fill="#a83e8f" opacity="0.7"/>
<path d="M297.4,228.6 297.8,231.0 299.4,232.6 301.4,233.2 303.3,232.6 303.6,227.3 302.7,226.3 301.2,225.7 299.2,226.0 298.4,226.7Z" fill="#c4569b"/>
<ellipse cx="300.7" cy="229.3" rx="1.1" ry="1.1" fill="#edadd1" opacity="0.85"/>
<circle cx="300.8" cy="230.5" r="1.0" fill="#ad458e" opacity="0.7"/>
<circle cx="301.8" cy="228.6" r="0.9" fill="#d476b3" opacity="0.7"/>
<path d="M323.0,205.3 324.7,206.7 327.2,206.5 328.8,205.2 329.3,202.8 325.3,200.6 323.0,202.2Z" fill="#c3549c"/>
<circle cx="326.6" cy="203.0" r="1.0" fill="#cc65a9" opacity="0.7"/>
<circle cx="325.0" cy="202.9" r="1.1" fill="#ae4490" opacity="0.7"/>
<path d="M343.1,272.0 341.8,270.2 337.6,270.5 336.5,272.2 336.5,274.3 338.3,276.2 340.9,276.2 342.2,275.2Z" fill="#c5539f"/>
<circle cx="339.1" cy="273.1" r="1.4" fill="#b04393" opacity="0.7"/>
<circle cx="339.7" cy="271.4" r="1.4" fill="#aa3f8f" opacity="0.7"/>
<path d="M314.6,286.6 317.7,287.5 319.4,286.6 320.3,284.0 319.2,281.6 316.7,280.6 314.3,281.6 313.4,283.6Z" fill="#bd5293"/>
<circle cx="317.9" cy="282.9" r="1.2" fill="#9b387f" opacity="0.7"/>
<circle cx="315.4" cy="284.0" r="1.1" fill="#c665a1" opacity="0.7"/>
<path d="M378.5,257.9 379.7,258.4 382.9,257.7 384.0,256.2 384.2,253.4 383.5,251.9 382.3,250.9 380.9,250.4 379.3,250.6 377.1,252.4 376.8,253.7Z" fill="#c45ea1"/>
<ellipse cx="380.8" cy="254.8" rx="1.2" ry="1.6" fill="#e2a4ca" opacity="0.85"/>
<circle cx="380.4" cy="254.9" r="1.1" fill="#a4468e" opacity="0.7"/>
<circle cx="381.4" cy="253.1" r="1.4" fill="#a74890" opacity="0.7"/>
<path d="M350.4,212.8 352.4,210.1 352.3,208.7 349.3,206.2 348.0,206.2 346.1,208.2 346.1,211.3 347.4,212.9Z" fill="#c95a9f"/>
<circle cx="349.7" cy="210.6" r="1.5" fill="#af4790" opacity="0.7"/>
<circle cx="348.4" cy="211.0" r="1.0" fill="#ab438d" opacity="0.7"/>
<path d="M270.5,293.5 268.7,293.7 265.7,298.5 267.1,300.8 270.3,301.9 272.7,301.2 273.6,300.1 273.0,295.1Z" fill="#a43d8b"/>
<circle cx="268.5" cy="298.2" r="1.4" fill="#933081" opacity="0.7"/>
<circle cx="270.2" cy="296.7" r="1.5" fill="#8f2d7f" opacity="0.7"/>
<path d="M298.1,223.7 300.9,223.6 302.7,221.5 300.8,216.2 294.8,218.6 295.1,221.0Z" fill="#ba5798"/>
<ellipse cx="298.8" cy="219.7" rx="1.6" ry="1.5" fill="#ebabd5" opacity="0.85"/>
<circle cx="297.3" cy="220.5" r="1.4" fill="#c975ae" opacity="0.7"/>
<circle cx="297.4" cy="221.3" r="1.1" fill="#a2458a" opacity="0.7"/>
<path d="M374.4,277.5 375.1,277.6 380.2,275.1 380.1,273.4 377.3,270.7 373.5,272.1 373.0,272.8 372.9,275.7Z" fill="#b64693"/>
<ellipse cx="376.5" cy="274.4" rx="1.6" ry="1.3" fill="#efb2d8" opacity="0.85"/>
<circle cx="376.7" cy="274.6" r="1.0" fill="#a43888" opacity="0.7"/>
<circle cx="376.2" cy="273.8" r="1.3" fill="#962e80" opacity="0.7"/>
<path d="M276.0,233.8 281.9,233.1 282.6,231.5 282.4,229.4 278.8,226.9 276.0,227.5 274.8,228.5 274.2,230.6 274.6,232.2Z" fill="#bc539c"/>
<circle cx="277.8" cy="231.4" r="1.5" fill="#c96eb0" opacity="0.7"/>
<circle cx="279.4" cy="231.5" r="1.3" fill="#aa4692" opacity="0.7"/>
<path d="M291.7,229.6 293.4,229.8 295.1,229.1 296.3,228.0 297.4,225.9 297.3,224.4 294.0,221.7 291.4,222.8 289.7,225.6 289.9,228.0Z" fill="#af438c"/>
<circle cx="292.6" cy="225.9" r="1.3" fill="#9d3682" opacity="0.7"/>
<circle cx="292.3" cy="224.3" r="1.1" fill="#be61a3" opacity="0.7"/>
<path d="M261.4,255.2 265.1,255.6 266.7,254.3 267.6,252.7 267.8,251.0 266.7,248.3 261.2,248.0 260.5,248.5 259.7,250.0 259.5,251.8 259.9,253.5Z" fill="#b14b91"/>
<circle cx="263.2" cy="251.1" r="1.5" fill="#963781" opacity="0.7"/>
<circle cx="264.9" cy="251.6" r="0.9" fill="#bd62a2" opacity="0.7"/>
<path d="M297.8,238.9 299.1,241.1 301.5,242.0 303.8,241.2 304.9,239.5 303.9,235.3 301.9,234.3 299.9,234.7Z" fill="#be4e92"/>
<ellipse cx="301.6" cy="238.1" rx="1.6" ry="1.5" fill="#f1aed9" opacity="0.85"/>
<circle cx="300.2" cy="239.6" r="1.3" fill="#ce6faa" opacity="0.7"/>
<circle cx="300.5" cy="238.2" r="1.4" fill="#cb69a6" opacity="0.7"/>
<path d="M287.8,212.7 289.3,211.5 289.9,210.3 288.7,206.2 287.2,205.4 285.1,205.5 283.0,207.5 282.8,210.6 284.7,212.8 286.2,213.1Z" fill="#b94994"/>
<ellipse cx="286.4" cy="209.8" rx="1.6" ry="1.4" fill="#e2a1c7" opacity="0.85"/>
<circle cx="285.2" cy="208.5" r="1.0" fill="#c663a7" opacity="0.7"/>
<circle cx="285.5" cy="210.4" r="1.4" fill="#c867aa" opacity="0.7"/>
<path d="M266.9,282.7 265.1,283.0 263.9,284.1 263.1,285.5 263.0,287.3 263.5,288.6 268.3,290.8 269.1,290.2 270.6,286.6Z" fill="#c05a9f"/>
<ellipse cx="267.0" cy="286.5" rx="1.7" ry="1.7" fill="#e5a4ce" opacity="0.85"/>
<circle cx="266.5" cy="286.4" r="1.1" fill="#cd75b3" opacity="0.7"/>
<circle cx="267.1" cy="286.7" r="1.5" fill="#a64790" opacity="0.7"/>
<path d="M355.9,258.2 357.3,258.7 358.6,258.5 360.7,256.6 359.9,252.1 359.1,251.5 356.4,251.3 354.4,253.2 354.1,255.7Z" fill="#c05199"/>
<ellipse cx="357.7" cy="254.4" rx="1.4" ry="1.3" fill="#e6a9cf" opacity="0.85"/>
<circle cx="357.8" cy="254.8" r="1.3" fill="#cc6aab" opacity="0.7"/>
<circle cx="358.2" cy="255.2" r="1.5" fill="#a83f8b" opacity="0.7"/>
<path d="M277.8,217.1 280.3,216.9 281.6,215.9 282.3,214.6 282.4,212.3 281.5,210.5 280.0,209.4 276.0,209.9 274.7,211.7 274.7,214.0Z" fill="#b74a9f"/>
<ellipse cx="278.5" cy="213.6" rx="1.4" ry="1.7" fill="#e5a6ce" opacity="0.85"/>
<circle cx="277.7" cy="214.0" r="1.5" fill="#9b358f" opacity="0.7"/>
<circle cx="279.9" cy="211.6" r="1.1" fill="#a13a92" opacity="0.7"/>
<path d="M266.9,224.2 268.1,229.3 270.9,229.7 273.2,228.0 273.7,225.2 272.7,223.4 269.4,222.3 268.4,222.6Z" fill="#b14992"/>
<ellipse cx="270.0" cy="226.2" rx="1.7" ry="1.6" fill="#efadd5" opacity="0.85"/>
<circle cx="269.9" cy="227.5" r="1.3" fill="#bf64a6" opacity="0.7"/>
<circle cx="271.3" cy="226.0" r="0.9" fill="#91317f" opacity="0.7"/>
<path d="M284.3,218.9 287.7,221.9 289.1,222.0 292.0,220.4 292.9,217.8 291.2,214.2 289.6,213.4 285.3,214.6 284.3,216.5Z" fill="#ab4f91"/>
<ellipse cx="288.7" cy="217.0" rx="1.4" ry="1.7" fill="#e7a8d3" opacity="0.85"/>
<circle cx="286.9" cy="216.7" r="1.1" fill="#963f85" opacity="0.7"/>
<circle cx="287.2" cy="218.8" r="1.0" fill="#8a367e" opacity="0.7"/>
<path d="M342.1,245.8 342.8,247.2 343.9,248.0 346.2,248.1 348.5,245.3 347.5,242.0 344.9,241.0 343.9,241.4 342.4,243.1Z" fill="#d366ab"/>
<circle cx="346.8" cy="244.3" r="1.2" fill="#bc559e" opacity="0.7"/>
<circle cx="345.0" cy="244.0" r="1.1" fill="#bf57a0" opacity="0.7"/>
<path d="M324.5,237.6 325.9,236.5 326.3,234.8 323.4,231.1 322.0,230.9 320.8,231.3 319.3,233.4 320.0,236.2 320.6,236.8Z" fill="#d064a7"/>
<circle cx="323.0" cy="234.1" r="1.3" fill="#be579d" opacity="0.7"/>
<circle cx="321.9" cy="235.7" r="1.0" fill="#b95399" opacity="0.7"/>
<path d="M330.6,281.2 334.4,279.1 334.6,278.3 333.6,275.5 331.1,274.1 328.6,275.0 327.7,277.4 328.6,280.1Z" fill="#d261a6"/>
<circle cx="331.9" cy="277.0" r="1.0" fill="#bd519a" opacity="0.7"/>
<circle cx="332.6" cy="279.1" r="1.4" fill="#b74d96" opacity="0.7"/>
<path d="M298.4,207.1 300.1,208.7 302.4,209.0 305.7,205.6 305.8,204.5 300.3,201.6 298.7,202.9 298.0,204.3Z" fill="#ca4f9e"/>
<ellipse cx="301.8" cy="205.7" rx="1.5" ry="1.3" fill="#e3a6ce" opacity="0.85"/>
<circle cx="300.6" cy="204.0" r="1.0" fill="#a73589" opacity="0.7"/>
<circle cx="302.9" cy="206.2" r="0.9" fill="#dc73b9" opacity="0.7"/>
<path d="M363.5,206.0 362.3,205.4 360.9,205.4 359.3,206.5 358.6,207.8 358.8,211.0 360.7,213.1 362.0,213.3 363.2,212.9 364.9,210.7Z" fill="#c05197"/>
<ellipse cx="362.1" cy="209.0" rx="1.3" ry="1.4" fill="#e7a7cf" opacity="0.85"/>
<circle cx="362.4" cy="209.3" r="1.0" fill="#cf6ead" opacity="0.7"/>
<circle cx="361.9" cy="208.2" r="0.9" fill="#d173b0" opacity="0.7"/>
<path d="M370.5,201.3 371.4,202.3 375.8,201.8 376.8,199.4 376.0,196.9 374.3,195.9 371.7,196.5 371.0,197.4Z" fill="#be509a"/>
<circle cx="374.5" cy="199.6" r="1.3" fill="#ca69ac" opacity="0.7"/>
<circle cx="372.9" cy="199.7" r="1.1" fill="#ac4390" opacity="0.7"/>
<path d="M305.3,291.3 306.0,290.5 306.3,289.1 305.9,287.3 304.6,285.5 304.0,285.3 299.4,286.7 299.6,289.3 301.0,291.3Z" fill="#c64e9a"/>
<circle cx="303.8" cy="289.0" r="1.4" fill="#aa398a" opacity="0.7"/>
<circle cx="302.1" cy="287.4" r="1.1" fill="#a53587" opacity="0.7"/>
<path d="M326.9,263.6 328.7,261.9 328.8,259.3 326.5,256.9 324.8,256.7 322.3,260.5 322.3,261.3 324.2,263.4Z" fill="#c35296"/>
<ellipse cx="325.3" cy="260.8" rx="1.3" ry="1.2" fill="#edabd8" opacity="0.85"/>
<circle cx="326.0" cy="261.2" r="0.8" fill="#a53b84" opacity="0.7"/>
<circle cx="326.4" cy="258.8" r="0.9" fill="#af438b" opacity="0.7"/>
<path d="M265.2,203.8 263.8,205.0 263.1,206.5 263.1,208.2 263.6,209.6 264.8,210.4 269.6,209.6 271.0,207.2 270.7,204.7Z" fill="#ad3e8a"/>
<ellipse cx="267.4" cy="206.6" rx="1.3" ry="1.8" fill="#e4a8d0" opacity="0.85"/>
<circle cx="267.5" cy="205.8" r="1.3" fill="#bf61a4" opacity="0.7"/>
<circle cx="268.0" cy="206.3" r="1.0" fill="#8e2778" opacity="0.7"/>
<path d="M318.5,242.6 320.7,244.5 323.0,244.3 324.9,242.2 324.8,239.4 324.2,238.7 319.5,237.8Z" fill="#b14088"/>
<circle cx="320.1" cy="239.8" r="1.1" fill="#9e327d" opacity="0.7"/>
<circle cx="320.7" cy="240.9" r="1.5" fill="#972d79" opacity="0.7"/>
<path d="M324.5,226.8 325.2,227.2 329.7,226.7 330.5,224.6 329.5,222.0 327.3,220.9 324.8,221.9 323.8,223.5Z" fill="#c65aa2"/>
<ellipse cx="327.1" cy="224.5" rx="1.5" ry="1.5" fill="#e5a6cd" opacity="0.85"/>
<circle cx="327.6" cy="223.3" r="1.3" fill="#a74390" opacity="0.7"/>
<circle cx="326.6" cy="223.6" r="1.1" fill="#cf6caf" opacity="0.7"/>
<path d="M377.9,295.6 377.5,294.1 376.3,292.8 372.2,292.5 370.4,293.9 369.9,296.0 370.3,297.4 371.3,298.6 374.2,299.6 377.0,298.3Z" fill="#c35198"/>
<circle cx="372.6" cy="295.3" r="1.2" fill="#aa3e89" opacity="0.7"/>
<circle cx="373.6" cy="294.3" r="1.3" fill="#a73c87" opacity="0.7"/>
<path d="M283.2,272.6 284.9,274.2 287.9,274.3 289.7,272.7 290.2,270.3 287.8,266.8 287.2,266.6 283.7,268.2Z" fill="#ac3d8c"/>
<circle cx="286.5" cy="270.7" r="1.5" fill="#982e80" opacity="0.7"/>
<circle cx="286.1" cy="271.5" r="1.3" fill="#b54e99" opacity="0.7"/>
<path d="M338.3,228.3 339.1,229.6 340.6,230.4 343.3,230.2 344.5,229.4 345.2,228.0 343.5,224.2 341.6,223.6 340.2,224.1Z" fill="#b94892"/>
<circle cx="342.4" cy="228.5" r="1.1" fill="#c35ca1" opacity="0.7"/>
<circle cx="341.7" cy="227.7" r="0.8" fill="#a13684" opacity="0.7"/>
<path d="M384.0,279.2 382.2,282.4 384.5,285.7 388.6,283.5 388.9,282.3 388.6,280.9 387.5,279.4Z" fill="#cc65ac"/>
<circle cx="385.0" cy="282.7" r="1.4" fill="#dd87c5" opacity="0.7"/>
<circle cx="384.4" cy="281.9" r="1.2" fill="#b2519d" opacity="0.7"/>
<path d="M377.1,284.4 378.8,289.8 381.1,289.9 383.3,288.2 383.6,286.6 381.4,283.6 377.6,283.9Z" fill="#ce52a3"/>
<circle cx="380.4" cy="285.9" r="1.4" fill="#e076be" opacity="0.7"/>
<circle cx="380.2" cy="284.9" r="1.1" fill="#df73bc" opacity="0.7"/>
<path d="M330.4,282.5 327.7,281.0 325.5,281.7 324.2,284.1 325.0,286.7 327.3,288.0 329.8,287.2 330.8,285.7Z" fill="#b84b95"/>
<ellipse cx="327.8" cy="284.5" rx="1.3" ry="1.1" fill="#e5a7cf" opacity="0.85"/>
<circle cx="328.0" cy="284.5" r="1.2" fill="#943080" opacity="0.7"/>
<circle cx="327.3" cy="283.3" r="1.0" fill="#a13a88" opacity="0.7"/>
<path d="M299.9,254.1 296.0,253.5 294.4,254.3 293.4,255.6 292.8,257.2 293.0,258.7 293.8,260.1 295.0,261.0 296.6,261.4 298.3,261.2 299.7,260.3 300.9,258.6Z" fill="#a73d8a"/>
<circle cx="297.8" cy="256.2" r="1.3" fill="#b65ba1" opacity="0.7"/>
<circle cx="296.1" cy="256.6" r="1.6" fill="#b65ca1" opacity="0.7"/>
<path d="M332.8,220.8 338.4,220.4 337.5,215.0 334.8,214.4 332.2,216.5 331.8,218.9Z" fill="#bf5199"/>
<ellipse cx="334.9" cy="218.5" rx="1.5" ry="1.6" fill="#e1a2cb" opacity="0.85"/>
<circle cx="334.2" cy="218.0" r="1.4" fill="#cb68aa" opacity="0.7"/>
<circle cx="335.3" cy="218.0" r="1.1" fill="#cf70b0" opacity="0.7"/>
<path d="M283.0,296.9 284.1,298.0 285.7,298.6 288.4,298.5 290.7,294.7 290.2,292.6 285.3,291.7 282.8,295.0Z" fill="#b45898"/>
<circle cx="286.5" cy="296.2" r="1.3" fill="#bd69a5" opacity="0.7"/>
<circle cx="285.9" cy="293.1" r="1.5" fill="#bf6da8" opacity="0.7"/>
<path d="M385.7,265.9 386.0,268.4 387.8,270.6 390.0,271.1 392.0,269.6 392.3,266.6 391.7,265.1 390.2,263.6 387.3,263.9Z" fill="#bf5296"/>
<ellipse cx="389.4" cy="267.6" rx="1.5" ry="1.1" fill="#ecacd4" opacity="0.85"/>
<circle cx="390.5" cy="266.9" r="1.4" fill="#9e3a83" opacity="0.7"/>
<circle cx="389.0" cy="267.2" r="1.3" fill="#9d3982" opacity="0.7"/>
<path d="M267.8,293.1 267.3,291.7 262.0,289.3 260.2,290.5 259.3,292.8 259.6,294.5 260.4,296.1 261.7,297.3 264.1,297.9 264.7,297.7Z" fill="#a3388e"/>
<ellipse cx="263.6" cy="293.0" rx="1.5" ry="1.3" fill="#e0a4cb" opacity="0.85"/>
<circle cx="265.0" cy="293.0" r="1.5" fill="#ac499b" opacity="0.7"/>
<circle cx="263.9" cy="292.7" r="1.5" fill="#ac4a9b" opacity="0.7"/>
<path d="M311.8,291.1 311.7,291.7 314.6,294.8 316.8,295.0 318.1,294.1 317.8,289.0 317.4,288.5 314.3,288.1Z" fill="#b74090"/>
<circle cx="314.0" cy="290.0" r="1.1" fill="#c0519d" opacity="0.7"/>
<circle cx="313.9" cy="292.1" r="1.4" fill="#96277d" opacity="0.7"/>
<path d="M264.0,202.3 271.1,203.2 272.3,200.4 271.7,197.9 270.5,196.6 268.9,195.9 267.1,195.8 265.5,196.4 264.2,197.5 263.5,199.0 263.4,200.7Z" fill="#af4595"/>
<ellipse cx="267.5" cy="199.8" rx="1.4" ry="1.8" fill="#eaaed6" opacity="0.85"/>
<circle cx="269.0" cy="201.4" r="1.5" fill="#922f84" opacity="0.7"/>
<circle cx="268.2" cy="200.1" r="1.2" fill="#bf65ad" opacity="0.7"/>
<path d="M363.1,275.5 360.5,275.2 358.7,277.0 358.5,279.8 360.3,281.9 362.9,281.9 364.8,280.0 364.9,279.4Z" fill="#c1509b"/>
<ellipse cx="361.5" cy="278.5" rx="1.1" ry="1.2" fill="#e3a1cb" opacity="0.85"/>
<circle cx="361.8" cy="277.1" r="1.1" fill="#a13888" opacity="0.7"/>
<circle cx="363.0" cy="277.8" r="1.4" fill="#ce6aaf" opacity="0.7"/>
<path d="M310.0,276.1 308.4,275.9 307.2,276.4 305.8,278.6 306.4,281.2 308.8,282.7 311.3,282.2 312.7,280.0Z" fill="#c856a2"/>
<ellipse cx="309.5" cy="279.5" rx="1.2" ry="1.4" fill="#f0abd4" opacity="0.85"/>
<circle cx="308.7" cy="278.4" r="1.3" fill="#d978bc" opacity="0.7"/>
<circle cx="310.3" cy="279.8" r="1.0" fill="#d067af" opacity="0.7"/>
<path d="M355.3,289.1 359.3,289.0 360.2,287.6 359.9,284.4 357.7,282.3 356.6,282.3 353.1,285.9Z" fill="#c6589e"/>
<circle cx="357.7" cy="285.7" r="1.2" fill="#d779b7" opacity="0.7"/>
<circle cx="356.8" cy="285.8" r="1.3" fill="#d77bb8" opacity="0.7"/>
<path d="M383.3,277.6 386.1,278.1 388.3,277.1 389.7,274.7 389.1,272.8 387.4,271.6 385.2,271.4 381.9,273.6 381.6,275.5Z" fill="#cf60a6"/>
<ellipse cx="385.3" cy="274.6" rx="1.4" ry="1.6" fill="#e6a6ce" opacity="0.85"/>
<circle cx="385.0" cy="273.7" r="0.9" fill="#ba509a" opacity="0.7"/>
<circle cx="386.2" cy="273.9" r="1.1" fill="#dc79b9" opacity="0.7"/>
<path d="M302.7,250.5 303.9,251.6 307.4,251.7 309.1,250.1 309.5,247.4 305.4,244.9 304.2,245.2 302.4,246.9Z" fill="#c95c9e"/>
<ellipse cx="305.2" cy="248.2" rx="1.2" ry="1.3" fill="#e9a7d3" opacity="0.85"/>
<circle cx="305.5" cy="249.1" r="0.8" fill="#d575b1" opacity="0.7"/>
<circle cx="306.3" cy="247.8" r="1.0" fill="#b64d93" opacity="0.7"/>
<path d="M317.1,215.9 317.4,221.6 318.0,221.9 322.7,221.3 323.6,220.1 323.6,219.1 320.1,214.8 318.9,214.8Z" fill="#bd4a93"/>
<ellipse cx="319.3" cy="218.1" rx="1.3" ry="1.6" fill="#e9a7cd" opacity="0.85"/>
<circle cx="320.1" cy="218.2" r="1.3" fill="#c65ba0" opacity="0.7"/>
<circle cx="320.1" cy="219.4" r="0.9" fill="#cd6bac" opacity="0.7"/>
<path d="M269.3,218.8 269.7,220.9 273.4,222.4 275.9,221.2 276.9,219.9 277.3,218.3 273.5,214.8 272.6,215.1Z" fill="#a7498a"/>
<ellipse cx="272.9" cy="218.3" rx="1.5" ry="1.8" fill="#e9aad4" opacity="0.85"/>
<circle cx="273.8" cy="217.5" r="0.9" fill="#8e377c" opacity="0.7"/>
<circle cx="274.7" cy="217.7" r="1.4" fill="#853076" opacity="0.7"/>
<path d="M311.6,212.5 312.4,214.0 314.9,214.7 317.7,213.7 318.3,212.7 317.1,208.3 315.9,207.7 313.1,208.8 312.0,210.0Z" fill="#c65ca1"/>
<ellipse cx="315.1" cy="210.8" rx="1.6" ry="1.1" fill="#f0afd5" opacity="0.85"/>
<circle cx="315.8" cy="209.9" r="1.4" fill="#b14c95" opacity="0.7"/>
<circle cx="314.6" cy="209.9" r="1.0" fill="#a94690" opacity="0.7"/>
<path d="M361.0,251.2 362.3,257.0 365.1,257.3 367.5,255.5 368.1,252.4 366.8,250.2 362.9,249.6Z" fill="#b74191"/>
<circle cx="364.2" cy="253.0" r="1.3" fill="#a23185" opacity="0.7"/>
<circle cx="364.1" cy="254.2" r="1.4" fill="#992a7f" opacity="0.7"/>
<path d="M295.3,202.9 296.4,201.3 296.7,199.8 296.3,198.3 295.4,197.2 294.0,196.5 292.5,196.4 290.9,197.0 289.6,198.1 289.0,199.1 289.0,202.5 289.6,203.4Z" fill="#b44992"/>
<circle cx="291.3" cy="198.9" r="1.4" fill="#9c3784" opacity="0.7"/>
<circle cx="292.7" cy="200.3" r="1.0" fill="#be5da1" opacity="0.7"/>
<path d="M309.9,226.6 311.8,225.0 312.2,223.4 309.2,220.5 306.0,221.6 305.0,223.1 304.9,225.2Z" fill="#c75a9f"/>
<ellipse cx="308.0" cy="223.7" rx="1.4" ry="1.2" fill="#e6a3cc" opacity="0.85"/>
<circle cx="309.9" cy="224.7" r="1.4" fill="#d06bac" opacity="0.7"/>
<circle cx="309.5" cy="223.6" r="1.2" fill="#d271b0" opacity="0.7"/>
<path d="M261.7,240.0 260.1,241.5 259.6,243.1 259.7,244.7 260.5,246.2 261.3,246.9 266.8,246.9 267.7,245.7 268.2,243.6 266.1,240.1 265.0,239.6Z" fill="#a24788"/>
<circle cx="263.3" cy="243.8" r="1.1" fill="#812f75" opacity="0.7"/>
<circle cx="265.3" cy="243.1" r="1.6" fill="#802d74" opacity="0.7"/>
<path d="M351.3,220.8 352.4,223.4 354.1,224.1 355.6,224.0 356.6,223.5 357.8,219.0 356.2,217.8 353.9,217.8Z" fill="#b2468f"/>
<circle cx="355.4" cy="220.5" r="1.0" fill="#9a3481" opacity="0.7"/>
<circle cx="354.3" cy="219.4" r="1.5" fill="#bc5a9e" opacity="0.7"/>
<path d="M264.5,215.4 268.4,218.0 271.9,214.2 271.8,212.9 269.9,210.9 265.7,211.4 264.4,213.3Z" fill="#a44487"/>
<ellipse cx="267.7" cy="214.3" rx="1.2" ry="1.8" fill="#dfa3cb" opacity="0.85"/>
<circle cx="267.4" cy="215.6" r="1.2" fill="#ad5594" opacity="0.7"/>
<circle cx="267.6" cy="215.1" r="1.0" fill="#872e76" opacity="0.7"/>
<path d="M387.0,237.0 389.2,236.4 390.6,234.5 390.7,232.1 389.6,230.2 383.7,231.2 383.2,231.9 383.1,233.1Z" fill="#b24688"/>
<circle cx="387.2" cy="234.6" r="0.8" fill="#a1397e" opacity="0.7"/>
<circle cx="385.9" cy="234.3" r="1.3" fill="#bf619c" opacity="0.7"/>
<path d="M274.6,299.2 275.7,300.3 277.3,300.9 279.8,300.6 281.1,299.6 281.8,298.3 281.6,295.7 277.2,293.2 274.1,294.9Z" fill="#b15192"/>
<circle cx="279.2" cy="296.5" r="1.3" fill="#9f4387" opacity="0.7"/>
<circle cx="279.2" cy="297.1" r="1.3" fill="#c375ad" opacity="0.7"/>
<path d="M347.4,293.1 343.1,292.5 341.1,295.2 341.8,297.5 344.0,298.7 346.6,298.0 348.0,295.6Z" fill="#b7488f"/>
<ellipse cx="344.1" cy="295.8" rx="1.6" ry="1.7" fill="#e3a7cd" opacity="0.85"/>
<circle cx="345.3" cy="296.1" r="1.3" fill="#952f7b" opacity="0.7"/>
<circle cx="344.7" cy="294.3" r="1.2" fill="#98317d" opacity="0.7"/>
<path d="M361.9,241.1 365.7,239.9 364.9,234.6 361.0,234.7 360.5,235.2 360.1,239.6Z" fill="#ba4a92"/>
<ellipse cx="363.3" cy="236.9" rx="1.3" ry="1.4" fill="#f0b0da" opacity="0.85"/>
<circle cx="362.9" cy="238.1" r="1.1" fill="#c25b9f" opacity="0.7"/>
<circle cx="361.8" cy="238.1" r="1.0" fill="#a83d88" opacity="0.7"/>
<path d="M371.1,203.8 371.9,208.5 374.0,209.7 375.0,209.5 377.4,205.9 376.7,203.5 376.1,203.1 371.6,203.4Z" fill="#c7529d"/>
<ellipse cx="373.8" cy="205.9" rx="1.6" ry="1.4" fill="#ebacd1" opacity="0.85"/>
<circle cx="372.9" cy="204.4" r="1.0" fill="#d773b6" opacity="0.7"/>
<circle cx="374.5" cy="207.2" r="1.1" fill="#ab3d8d" opacity="0.7"/>
<path d="M345.1,215.9 344.3,214.7 343.0,213.9 341.1,213.7 339.7,214.3 338.9,215.5 339.7,219.9 342.0,220.7 344.0,220.0 345.1,218.6Z" fill="#cd5da8"/>
<circle cx="341.9" cy="216.4" r="1.4" fill="#da77bb" opacity="0.7"/>
<circle cx="343.2" cy="217.0" r="1.3" fill="#b54b9a" opacity="0.7"/>
<path d="M284.9,285.3 284.3,286.7 285.6,290.1 290.0,291.2 290.5,290.9 292.0,288.1 290.8,285.3 288.3,284.1Z" fill="#b74d98"/>
<ellipse cx="287.5" cy="287.5" rx="1.4" ry="1.7" fill="#eaabd2" opacity="0.85"/>
<circle cx="287.1" cy="286.2" r="1.3" fill="#9c3888" opacity="0.7"/>
<circle cx="287.0" cy="287.6" r="1.5" fill="#c365aa" opacity="0.7"/>
<path d="M298.1,275.8 300.1,275.8 301.8,274.5 301.4,269.8 299.7,268.7 296.9,269.1 295.2,271.3 295.5,273.9Z" fill="#c0549f"/>
<ellipse cx="298.3" cy="272.0" rx="1.3" ry="1.7" fill="#e5a5cc" opacity="0.85"/>
<circle cx="297.3" cy="271.6" r="0.9" fill="#a5408f" opacity="0.7"/>
<circle cx="297.8" cy="272.2" r="1.0" fill="#cc6db2" opacity="0.7"/>
<path d="M291.0,269.5 293.3,269.7 295.8,267.9 296.4,265.0 295.8,263.6 294.7,262.6 291.8,262.2 289.3,264.0 288.7,266.2Z" fill="#a54682"/>
<circle cx="293.2" cy="266.7" r="1.1" fill="#b46499" opacity="0.7"/>
<circle cx="293.4" cy="264.6" r="1.3" fill="#b5679a" opacity="0.7"/>
<path d="M271.5,276.9 275.4,279.3 279.0,277.5 279.2,274.9 275.2,272.1 274.1,272.2 271.8,274.1Z" fill="#af4891"/>
<circle cx="273.9" cy="274.9" r="1.5" fill="#bb61a3" opacity="0.7"/>
<circle cx="276.7" cy="276.5" r="0.9" fill="#c069aa" opacity="0.7"/>
<path d="M284.9,237.3 284.0,237.5 281.3,242.0 282.5,244.2 285.2,245.1 287.8,243.8 288.8,240.9 288.0,238.7Z" fill="#ad4294"/>
<ellipse cx="285.5" cy="240.8" rx="1.2" ry="1.3" fill="#e3a5cb" opacity="0.85"/>
<circle cx="285.4" cy="242.7" r="0.9" fill="#983288" opacity="0.7"/>
<circle cx="284.7" cy="241.7" r="0.9" fill="#b654a1" opacity="0.7"/>
<path d="M284.0,250.0 283.0,247.9 280.4,246.7 275.8,251.5 275.7,252.1 276.3,253.6 277.5,254.9 280.1,255.6Z" fill="#bd539c"/>
<circle cx="278.9" cy="249.7" r="1.5" fill="#a5418e" opacity="0.7"/>
<circle cx="280.2" cy="250.5" r="1.2" fill="#a33f8d" opacity="0.7"/>
<path d="M331.4,207.5 334.4,210.6 336.5,210.4 337.7,209.3 337.5,205.0 335.6,203.9 333.5,204.2 331.9,205.5Z" fill="#c0569f"/>
<ellipse cx="335.2" cy="207.2" rx="1.4" ry="1.5" fill="#e6a6cf" opacity="0.85"/>
<circle cx="333.6" cy="208.2" r="0.9" fill="#ce72b4" opacity="0.7"/>
<circle cx="335.9" cy="206.4" r="1.0" fill="#ae4995" opacity="0.7"/>
<path d="M361.3,296.2 360.4,296.8 359.7,298.1 360.0,300.8 362.1,302.5 364.7,302.2 366.3,300.1 366.0,297.4 365.5,296.9Z" fill="#b94b93"/>
<ellipse cx="363.6" cy="299.4" rx="1.4" ry="1.5" fill="#ecadd1" opacity="0.85"/>
<circle cx="361.6" cy="299.8" r="1.0" fill="#983280" opacity="0.7"/>
<circle cx="362.5" cy="299.2" r="1.5" fill="#c766a8" opacity="0.7"/>
<path d="M321.4,249.4 322.3,252.2 324.0,253.4 325.2,253.6 326.1,253.5 329.1,250.6 329.4,249.7 329.0,248.1 325.1,245.4 322.7,246.5Z" fill="#c04d96"/>
<ellipse cx="325.0" cy="249.1" rx="1.3" ry="1.5" fill="#e6a7d1" opacity="0.85"/>
<circle cx="323.9" cy="250.2" r="1.4" fill="#a33885" opacity="0.7"/>
<circle cx="324.2" cy="249.7" r="0.8" fill="#cc65a8" opacity="0.7"/>
<path d="M298.2,280.6 298.0,282.9 299.1,285.1 304.2,284.0 304.6,282.2 304.4,280.7 302.7,278.5 301.3,278.1 300.0,278.4Z" fill="#c755a1"/>
<ellipse cx="300.9" cy="282.6" rx="1.1" ry="1.2" fill="#e8a7cf" opacity="0.85"/>
<circle cx="302.7" cy="281.3" r="1.5" fill="#d26cb2" opacity="0.7"/>
<circle cx="302.6" cy="281.6" r="1.1" fill="#a63c8e" opacity="0.7"/>
<path d="M361.3,218.1 364.6,221.1 365.6,221.1 366.5,220.6 367.9,216.6 366.2,214.6 363.9,214.5 362.1,215.6Z" fill="#d565ae"/>
<ellipse cx="365.4" cy="217.3" rx="1.4" ry="1.1" fill="#ecadd3" opacity="0.85"/>
<circle cx="364.5" cy="216.7" r="1.1" fill="#e380c3" opacity="0.7"/>
<circle cx="366.0" cy="218.3" r="1.1" fill="#e585c6" opacity="0.7"/>
<path d="M309.0,213.6 310.4,212.6 310.9,209.6 306.5,206.5 303.4,209.7 303.4,211.3 304.3,212.6Z" fill="#bc4b94"/>
<ellipse cx="307.3" cy="210.4" rx="1.2" ry="1.6" fill="#efabd6" opacity="0.85"/>
<circle cx="306.3" cy="211.4" r="1.2" fill="#cc6bac" opacity="0.7"/>
<circle cx="306.3" cy="209.2" r="1.1" fill="#c964a7" opacity="0.7"/>
<path d="M364.5,266.3 366.4,267.9 368.7,267.6 370.9,263.6 370.1,261.5 367.4,260.2 365.1,260.9Z" fill="#b34588"/>
<ellipse cx="367.2" cy="264.5" rx="1.5" ry="1.2" fill="#e6a8d2" opacity="0.85"/>
<circle cx="368.7" cy="264.2" r="1.1" fill="#9f367c" opacity="0.7"/>
<circle cx="367.1" cy="263.1" r="1.4" fill="#c468a2" opacity="0.7"/>
<path d="M338.4,281.0 339.0,284.2 340.5,285.4 342.4,285.3 344.0,284.4 344.8,283.1 344.6,280.5 342.7,278.8 340.1,279.1Z" fill="#bc5199"/>
<ellipse cx="341.7" cy="282.6" rx="1.2" ry="1.2" fill="#e6a7d1" opacity="0.85"/>
<circle cx="342.1" cy="281.6" r="1.2" fill="#a13d89" opacity="0.7"/>
<circle cx="343.0" cy="281.4" r="1.4" fill="#c869ab" opacity="0.7"/>
<path d="M302.9,260.4 301.7,261.3 301.1,262.8 301.1,265.0 301.8,266.4 303.2,267.5 307.2,266.8 306.4,261.0Z" fill="#c7599e"/>
<circle cx="305.5" cy="264.7" r="1.4" fill="#a43e89" opacity="0.7"/>
<circle cx="305.0" cy="265.6" r="1.4" fill="#d677b4" opacity="0.7"/>
<path d="M350.1,203.0 349.6,203.8 349.7,205.1 353.4,207.9 355.9,207.2 357.7,204.9 357.6,203.9 355.3,201.5Z" fill="#d15ea9"/>
<circle cx="354.6" cy="205.7" r="1.4" fill="#b54999" opacity="0.7"/>
<circle cx="354.1" cy="204.7" r="1.0" fill="#db72b8" opacity="0.7"/>
<path d="M312.2,228.6 312.1,231.7 313.0,233.1 314.3,234.0 315.8,234.3 317.8,233.7 319.4,231.1 319.3,230.5 315.1,226.2 313.6,226.8Z" fill="#be5499"/>
<ellipse cx="316.1" cy="229.7" rx="1.3" ry="1.4" fill="#ecabd3" opacity="0.85"/>
<circle cx="315.6" cy="230.2" r="1.2" fill="#a23f88" opacity="0.7"/>
<circle cx="315.7" cy="230.8" r="1.3" fill="#c96baa" opacity="0.7"/>
<path d="M373.5,242.3 376.5,245.1 377.8,245.3 378.8,244.9 380.2,241.5 378.4,239.0 376.8,238.8 374.2,240.0Z" fill="#c24d9e"/>
<circle cx="376.9" cy="242.7" r="1.2" fill="#cd64af" opacity="0.7"/>
<circle cx="376.3" cy="241.3" r="0.9" fill="#d26db6" opacity="0.7"/>
<path d="M346.2,227.7 348.1,228.2 350.2,227.4 351.0,226.3 351.5,224.3 349.8,221.4 346.5,220.8 344.6,222.4 344.3,223.4Z" fill="#ac4084"/>
<ellipse cx="347.6" cy="224.2" rx="1.3" ry="1.3" fill="#eeafd5" opacity="0.85"/>
<circle cx="347.9" cy="223.2" r="1.2" fill="#b55191" opacity="0.7"/>
<circle cx="348.3" cy="225.0" r="0.9" fill="#b55291" opacity="0.7"/>
<path d="M386.8,202.8 385.1,204.7 384.9,207.3 386.5,209.3 388.5,209.6 390.3,208.6 391.1,207.5 391.4,204.7 389.6,202.6Z" fill="#bc4c98"/>
<ellipse cx="388.3" cy="205.4" rx="1.4" ry="1.3" fill="#edafd9" opacity="0.85"/>
<circle cx="388.4" cy="205.6" r="1.4" fill="#c762a8" opacity="0.7"/>
<circle cx="387.0" cy="207.4" r="1.2" fill="#a83d8c" opacity="0.7"/>
<path d="M283.0,283.5 284.6,284.3 288.6,282.6 289.1,280.6 288.8,279.0 286.7,276.6 285.2,276.2 283.7,276.4 282.0,277.9 281.7,278.7Z" fill="#ca5fa4"/>
<circle cx="284.2" cy="279.1" r="1.1" fill="#db80bd" opacity="0.7"/>
<circle cx="284.5" cy="281.5" r="1.6" fill="#d87bb9" opacity="0.7"/>
<path d="M355.8,200.2 357.7,202.3 360.7,202.4 362.6,201.1 362.4,197.7 360.6,196.1 357.5,196.0 356.1,197.1Z" fill="#bb4b90"/>
<circle cx="358.8" cy="199.6" r="1.4" fill="#a83d85" opacity="0.7"/>
<circle cx="358.0" cy="198.0" r="1.4" fill="#9b337d" opacity="0.7"/>
<path d="M303.8,268.6 302.5,269.9 303.1,274.3 305.6,275.0 307.6,274.4 309.2,272.1 308.6,269.5 306.6,268.2Z" fill="#bf539a"/>
<ellipse cx="305.6" cy="271.8" rx="1.4" ry="1.4" fill="#e8a9d1" opacity="0.85"/>
<circle cx="306.4" cy="271.4" r="1.2" fill="#d076b4" opacity="0.7"/>
<circle cx="306.5" cy="272.3" r="1.5" fill="#a6408b" opacity="0.7"/>
<path d="M357.0,297.2 358.7,296.9 360.1,295.5 359.8,290.2 355.9,290.4 354.0,294.0 354.1,294.6Z" fill="#cd5ca2"/>
<ellipse cx="357.8" cy="293.3" rx="1.6" ry="1.4" fill="#e4a7cc" opacity="0.85"/>
<circle cx="356.9" cy="293.3" r="1.3" fill="#da77b6" opacity="0.7"/>
<circle cx="356.5" cy="293.8" r="1.0" fill="#b44993" opacity="0.7"/>
<path d="M353.2,236.1 353.4,238.0 355.7,240.1 358.9,239.6 359.4,234.7 358.3,233.4 355.3,233.4Z" fill="#d163a7"/>
<ellipse cx="356.4" cy="237.1" rx="1.2" ry="1.4" fill="#ecafd5" opacity="0.85"/>
<circle cx="355.6" cy="236.6" r="1.1" fill="#df7fbc" opacity="0.7"/>
<circle cx="356.7" cy="237.0" r="1.1" fill="#de7dbb" opacity="0.7"/>
<path d="M368.0,290.9 369.6,290.6 370.3,289.9 370.8,286.1 367.4,283.9 365.1,285.1 364.4,287.6 364.8,288.7Z" fill="#bd4c92"/>
<ellipse cx="368.3" cy="287.5" rx="1.5" ry="1.5" fill="#e5a3ce" opacity="0.85"/>
<circle cx="368.8" cy="287.1" r="1.0" fill="#9c337f" opacity="0.7"/>
<circle cx="366.5" cy="288.3" r="0.8" fill="#aa3e87" opacity="0.7"/>
<path d="M347.3,248.5 347.5,250.0 349.2,252.1 350.5,252.6 352.5,252.2 354.0,250.0 353.9,247.6 353.0,246.3 349.4,246.0Z" fill="#c655a2"/>
<circle cx="349.2" cy="247.7" r="1.1" fill="#ae4394" opacity="0.7"/>
<circle cx="350.9" cy="248.8" r="1.2" fill="#ac4193" opacity="0.7"/>
<path d="M373.4,236.5 375.3,237.9 377.8,237.4 379.3,234.5 378.5,232.2 376.9,231.1 375.6,231.1 373.0,234.2Z" fill="#c5559f"/>
<circle cx="374.6" cy="234.4" r="1.5" fill="#d370b4" opacity="0.7"/>
<circle cx="374.7" cy="233.4" r="1.0" fill="#b34895" opacity="0.7"/>
<path d="M290.2,278.2 291.1,281.3 292.4,282.3 293.8,282.8 295.4,282.6 296.2,282.1 298.2,278.2 298.1,277.4 294.1,274.3 293.0,274.3 291.6,275.1 290.6,276.6Z" fill="#ae418c"/>
<circle cx="294.8" cy="279.6" r="1.5" fill="#bd5fa3" opacity="0.7"/>
<circle cx="295.1" cy="279.0" r="1.4" fill="#902b7b" opacity="0.7"/>
<path d="M327.8,264.8 323.2,264.6 322.3,265.4 321.6,267.5 321.8,269.1 323.8,271.6 326.1,272.0 328.0,270.9 328.8,266.3Z" fill="#b64891"/>
<circle cx="326.4" cy="267.2" r="1.3" fill="#a03784" opacity="0.7"/>
<circle cx="325.1" cy="267.5" r="0.9" fill="#a43b87" opacity="0.7"/>
<path d="M305.0,234.6 305.8,238.8 306.4,239.1 310.6,238.6 312.2,236.1 311.7,234.3 310.4,233.1 305.6,233.9Z" fill="#b24491"/>
<ellipse cx="308.6" cy="236.4" rx="1.4" ry="1.4" fill="#e9aace" opacity="0.85"/>
<circle cx="307.6" cy="236.9" r="1.4" fill="#bb579f" opacity="0.7"/>
<circle cx="307.5" cy="235.8" r="1.4" fill="#a13787" opacity="0.7"/>
<path d="M326.2,195.4 326.3,199.5 329.8,201.7 331.7,200.8 332.7,198.2 331.6,195.6 328.9,194.4Z" fill="#cb5d9d"/>
<ellipse cx="329.3" cy="198.8" rx="1.3" ry="1.2" fill="#e9acd3" opacity="0.85"/>
<circle cx="327.9" cy="197.2" r="1.4" fill="#d979b2" opacity="0.7"/>
<circle cx="328.5" cy="198.3" r="0.8" fill="#a94489" opacity="0.7"/>
<path d="M288.9,237.8 290.6,237.1 291.6,231.5 289.6,229.9 287.1,229.6 285.6,230.2 284.5,231.4 284.0,232.9 284.2,234.4 285.2,236.2Z" fill="#b45894"/>
<ellipse cx="288.2" cy="234.2" rx="1.8" ry="1.5" fill="#efafd4" opacity="0.85"/>
<circle cx="288.7" cy="235.0" r="1.4" fill="#c376ab" opacity="0.7"/>
<circle cx="287.7" cy="234.2" r="0.9" fill="#bf6da4" opacity="0.7"/>
<path d="M290.1,297.9 290.1,299.5 290.6,300.8 292.9,302.5 295.6,301.9 297.3,299.5 296.8,296.7 292.3,295.4 291.4,295.8Z" fill="#b04e96"/>
<ellipse cx="294.2" cy="298.9" rx="1.3" ry="1.7" fill="#e4a5cc" opacity="0.85"/>
<circle cx="293.1" cy="300.2" r="1.2" fill="#c06eae" opacity="0.7"/>
<circle cx="293.7" cy="299.5" r="1.0" fill="#903683" opacity="0.7"/>
<path d="M362.9,274.1 366.0,271.3 365.8,269.1 363.5,267.4 359.3,268.1 358.1,271.1 358.5,272.7 359.8,274.0Z" fill="#c7529d"/>
<ellipse cx="362.0" cy="270.2" rx="1.1" ry="1.2" fill="#edaad3" opacity="0.85"/>
<circle cx="362.4" cy="270.9" r="1.3" fill="#b54593" opacity="0.7"/>
<circle cx="362.2" cy="270.6" r="1.3" fill="#d269ae" opacity="0.7"/>
<path d="M291.7,237.3 292.5,238.3 296.7,238.6 298.9,234.0 296.0,231.1 293.1,231.5Z" fill="#af508c"/>
<circle cx="294.4" cy="233.5" r="1.5" fill="#8c3577" opacity="0.7"/>
<circle cx="295.3" cy="234.2" r="1.0" fill="#923a7b" opacity="0.7"/>
<path d="M282.3,203.9 284.0,204.5 286.7,203.9 287.8,202.9 287.8,198.3 285.8,196.5 284.1,196.2 282.6,196.6 280.9,201.5Z" fill="#b84d93"/>
<circle cx="283.7" cy="201.4" r="1.0" fill="#c465a5" opacity="0.7"/>
<circle cx="284.7" cy="199.1" r="1.5" fill="#a23d86" opacity="0.7"/>
<path d="M384.1,293.9 381.7,293.6 380.2,294.3 379.1,295.6 378.6,297.9 378.9,299.1 379.8,300.4 381.1,301.2 382.7,301.5 384.2,301.2 385.6,300.3 386.4,298.9 386.5,298.1Z" fill="#c94f9a"/>
<ellipse cx="382.3" cy="297.3" rx="1.2" ry="1.2" fill="#e7a6cb" opacity="0.85"/>
<circle cx="383.2" cy="296.6" r="1.3" fill="#b33e8d" opacity="0.7"/>
<circle cx="383.5" cy="296.9" r="1.1" fill="#a53485" opacity="0.7"/>
<path d="M355.5,281.8 355.6,280.5 355.0,279.0 350.0,278.2 348.7,279.2 348.1,281.0 349.0,283.9 350.2,284.8 351.6,285.2Z" fill="#c85da1"/>
<ellipse cx="351.4" cy="281.5" rx="1.3" ry="1.3" fill="#eba7d2" opacity="0.85"/>
<circle cx="351.0" cy="280.9" r="1.3" fill="#b04b93" opacity="0.7"/>
<circle cx="351.7" cy="280.0" r="1.0" fill="#d980bb" opacity="0.7"/>
<path d="M283.1,266.7 287.1,265.5 287.9,263.0 286.5,260.1 282.2,259.2 280.6,260.5 280.7,264.9Z" fill="#ad4192"/>
<ellipse cx="283.6" cy="263.0" rx="1.5" ry="1.7" fill="#efafd7" opacity="0.85"/>
<circle cx="284.8" cy="264.5" r="1.3" fill="#942e84" opacity="0.7"/>
<circle cx="285.2" cy="262.5" r="1.3" fill="#b858a3" opacity="0.7"/>
<path d="M343.0,276.1 343.7,277.5 345.3,278.6 347.6,278.6 349.1,277.1 348.8,272.4 344.3,272.3Z" fill="#ca5f9f"/>
<circle cx="346.0" cy="274.9" r="0.8" fill="#b75194" opacity="0.7"/>
<circle cx="347.6" cy="275.2" r="0.9" fill="#d473ae" opacity="0.7"/>
<path d="M376.0,254.7 374.3,253.7 372.8,253.5 371.5,253.9 370.5,254.9 369.9,256.2 370.0,257.7 371.7,260.3 374.6,261.2 376.0,260.7 377.0,259.8 377.5,258.2Z" fill="#b14289"/>
<ellipse cx="374.2" cy="257.2" rx="1.4" ry="1.4" fill="#e9a9d4" opacity="0.85"/>
<circle cx="374.7" cy="256.7" r="0.9" fill="#bd5a9b" opacity="0.7"/>
<circle cx="374.7" cy="258.0" r="1.2" fill="#bb5799" opacity="0.7"/>
<path d="M368.0,280.4 368.2,282.8 371.3,284.7 374.3,283.7 374.9,282.6 374.4,279.7 372.4,278.1 371.2,278.0Z" fill="#b94f91"/>
<circle cx="371.9" cy="280.1" r="1.1" fill="#c669a5" opacity="0.7"/>
<circle cx="371.6" cy="280.1" r="1.2" fill="#99377e" opacity="0.7"/>
<path d="M306.0,293.9 304.5,292.5 301.0,292.8 299.8,294.9 300.4,297.6 302.7,299.2 305.3,298.8 306.0,298.0Z" fill="#c0589c"/>
<ellipse cx="303.6" cy="296.0" rx="1.5" ry="1.4" fill="#e9a9d2" opacity="0.85"/>
<circle cx="302.6" cy="295.9" r="1.0" fill="#af4b92" opacity="0.7"/>
<circle cx="304.2" cy="295.9" r="0.9" fill="#cc70ae" opacity="0.7"/>
<path d="M372.3,224.3 372.2,226.3 375.5,229.1 377.3,228.6 378.6,227.0 378.8,226.0 376.4,222.2 374.8,222.3Z" fill="#cc62aa"/>
<ellipse cx="375.9" cy="225.7" rx="1.5" ry="1.3" fill="#e5a4ca" opacity="0.85"/>
<circle cx="376.3" cy="224.4" r="1.3" fill="#dd85c4" opacity="0.7"/>
<circle cx="375.2" cy="226.6" r="1.2" fill="#de86c5" opacity="0.7"/>
<path d="M331.4,295.4 330.5,298.7 331.6,300.4 334.2,301.0 336.6,299.6 337.4,296.9 337.0,295.6 335.8,294.5Z" fill="#b04386"/>
<ellipse cx="334.1" cy="297.8" rx="1.5" ry="1.3" fill="#e9a9d4" opacity="0.85"/>
<circle cx="335.2" cy="296.2" r="1.3" fill="#952e76" opacity="0.7"/>
<circle cx="332.9" cy="298.7" r="1.0" fill="#932d75" opacity="0.7"/>
<path d="M387.6,210.8 386.1,211.6 385.3,212.9 385.2,214.9 385.7,216.3 386.3,216.9 390.8,217.1 391.9,215.1 391.3,212.4 389.7,210.9Z" fill="#cc63a9"/>
<ellipse cx="387.9" cy="214.2" rx="1.3" ry="1.4" fill="#edacd4" opacity="0.85"/>
<circle cx="387.1" cy="213.8" r="1.4" fill="#dc84c1" opacity="0.7"/>
<circle cx="389.1" cy="214.8" r="1.3" fill="#b4519b" opacity="0.7"/>
<path d="M390.9,290.0 391.6,289.1 391.8,286.9 391.3,285.4 390.0,284.2 384.9,287.1 384.9,288.7 385.5,290.3Z" fill="#b94d95"/>
<ellipse cx="388.5" cy="287.7" rx="1.5" ry="1.4" fill="#e2a0c9" opacity="0.85"/>
<circle cx="389.2" cy="287.3" r="1.0" fill="#c76aab" opacity="0.7"/>
<circle cx="387.3" cy="287.6" r="1.3" fill="#973381" opacity="0.7"/>
<path d="M318.6,301.3 319.9,302.1 321.4,302.2 323.3,301.4 324.2,300.3 322.0,295.2 319.9,295.2 318.1,296.6Z" fill="#ca5fa5"/>
<circle cx="319.9" cy="297.6" r="0.9" fill="#d575b5" opacity="0.7"/>
<circle cx="320.1" cy="299.4" r="1.5" fill="#dc82c0" opacity="0.7"/>
<path d="M378.0,199.8 378.9,200.9 380.1,201.5 382.1,201.4 383.3,200.7 383.6,195.5 381.5,194.7 379.0,195.6 377.8,197.4Z" fill="#bc4691"/>
<ellipse cx="380.8" cy="197.9" rx="1.7" ry="1.5" fill="#e1a1cb" opacity="0.85"/>
<circle cx="380.4" cy="198.5" r="1.2" fill="#a43483" opacity="0.7"/>
<circle cx="380.5" cy="197.6" r="1.1" fill="#ca63a7" opacity="0.7"/>
<path d="M318.3,277.2 318.7,278.9 319.6,279.9 322.2,280.4 324.5,278.9 325.3,276.4 324.0,274.3 321.4,273.8 319.1,275.2Z" fill="#b3438f"/>
<circle cx="321.8" cy="275.7" r="1.3" fill="#982f7f" opacity="0.7"/>
<circle cx="320.4" cy="277.0" r="1.0" fill="#bd569d" opacity="0.7"/>
<path d="M307.1,297.9 308.2,299.1 309.8,299.5 313.1,295.7 313.1,295.0 310.8,292.3 309.0,292.3 307.2,293.5Z" fill="#ad3f87"/>
<circle cx="308.7" cy="295.4" r="1.1" fill="#932b78" opacity="0.7"/>
<circle cx="309.6" cy="296.8" r="1.2" fill="#912a77" opacity="0.7"/>
<path d="M332.5,231.3 330.3,234.6 330.5,236.4 332.7,238.4 335.6,238.3 337.5,236.5 337.4,233.0 335.3,231.2Z" fill="#ca539e"/>
<ellipse cx="334.2" cy="235.1" rx="1.1" ry="1.2" fill="#e7a7d3" opacity="0.85"/>
<circle cx="332.9" cy="236.3" r="1.2" fill="#b54392" opacity="0.7"/>
<circle cx="335.5" cy="235.1" r="1.3" fill="#b64492" opacity="0.7"/>
<path d="M345.6,204.5 347.5,204.1 348.6,203.3 348.9,202.4 347.2,197.0 345.2,196.4 342.9,197.4 342.4,202.1Z" fill="#c55da5"/>
<circle cx="344.2" cy="200.1" r="1.2" fill="#aa4996" opacity="0.7"/>
<circle cx="344.6" cy="200.8" r="1.4" fill="#d47abb" opacity="0.7"/>
<path d="M366.2,233.9 367.0,239.2 369.3,240.3 371.3,239.7 372.4,237.6 371.5,234.5 367.6,232.9Z" fill="#c1529b"/>
<circle cx="370.3" cy="236.6" r="1.1" fill="#cf6fb1" opacity="0.7"/>
<circle cx="367.8" cy="237.5" r="1.0" fill="#cb67aa" opacity="0.7"/>
<path d="M279.9,208.2 281.0,207.1 281.5,205.5 281.4,204.6 280.1,202.6 274.3,202.0 273.2,204.5 273.3,206.1 274.1,207.6 275.8,208.8Z" fill="#b74892"/>
<ellipse cx="277.2" cy="205.6" rx="1.2" ry="1.5" fill="#e09fcb" opacity="0.85"/>
<circle cx="277.3" cy="205.5" r="1.0" fill="#c665a8" opacity="0.7"/>
<circle cx="278.9" cy="203.7" r="1.2" fill="#c05a9f" opacity="0.7"/>
<path d="M347.6,233.0 352.1,235.6 354.3,232.4 352.5,229.2 350.7,228.7 348.4,229.9 347.7,231.1Z" fill="#cd5ea8"/>
<circle cx="350.6" cy="233.7" r="1.3" fill="#b54c9a" opacity="0.7"/>
<circle cx="350.7" cy="233.6" r="1.3" fill="#aa4493" opacity="0.7"/>
<path d="M270.2,277.4 270.7,273.9 269.5,272.0 265.7,271.4 263.6,272.9 262.9,274.4 262.8,276.1 263.3,277.6 264.3,278.8 267.1,279.5Z" fill="#ab4c8e"/>
<circle cx="266.4" cy="275.0" r="1.4" fill="#8a337b" opacity="0.7"/>
<circle cx="267.2" cy="274.3" r="1.5" fill="#8c357c" opacity="0.7"/>
<path d="M312.2,271.1 317.2,271.9 318.6,269.5 317.9,266.8 314.2,265.8 311.8,267.9 311.6,269.4Z" fill="#c2559c"/>
<ellipse cx="314.9" cy="268.8" rx="1.2" ry="1.4" fill="#eca9d4" opacity="0.85"/>
<circle cx="314.0" cy="268.0" r="1.0" fill="#ac448f" opacity="0.7"/>
<circle cx="315.5" cy="269.4" r="0.9" fill="#cc69ab" opacity="0.7"/>
<path d="M319.2,292.7 320.5,293.9 322.3,294.1 325.1,291.9 325.1,289.7 323.8,287.7 321.1,286.8 319.0,288.2Z" fill="#b94a90"/>
<circle cx="323.1" cy="289.6" r="1.1" fill="#a33983" opacity="0.7"/>
<circle cx="323.1" cy="290.6" r="1.3" fill="#ca6ba9" opacity="0.7"/>
<path d="M333.1,251.2 335.4,254.9 336.3,255.2 338.3,254.7 339.4,253.8 340.3,250.9 339.5,248.8 335.3,248.2 334.0,249.2Z" fill="#c7539b"/>
<ellipse cx="336.8" cy="251.9" rx="1.2" ry="1.5" fill="#e2a2cd" opacity="0.85"/>
<circle cx="335.8" cy="250.6" r="0.8" fill="#b3448f" opacity="0.7"/>
<circle cx="336.4" cy="250.1" r="1.4" fill="#aa3d8a" opacity="0.7"/>
<path d="M361.3,243.5 360.7,242.2 359.6,241.4 357.0,241.3 355.9,242.1 355.0,245.6 356.8,247.5 359.4,247.6 361.0,246.3Z" fill="#d063aa"/>
<circle cx="358.9" cy="243.5" r="1.1" fill="#b34d99" opacity="0.7"/>
<circle cx="357.3" cy="243.2" r="0.9" fill="#b8519c" opacity="0.7"/>
<path d="M381.8,226.8 382.0,229.0 383.5,230.2 388.2,229.1 389.1,227.9 389.4,226.5 388.9,225.4 385.3,224.0Z" fill="#c15297"/>
<ellipse cx="385.9" cy="226.7" rx="1.3" ry="1.3" fill="#e9a9cf" opacity="0.85"/>
<circle cx="385.0" cy="226.4" r="1.0" fill="#d070ae" opacity="0.7"/>
<circle cx="384.1" cy="225.8" r="1.3" fill="#a03984" opacity="0.7"/>
<path d="M264.3,265.4 263.9,268.1 264.5,269.4 265.5,270.2 268.6,270.6 269.6,270.3 271.0,269.2 272.1,267.1 271.2,263.9 269.5,262.8 267.4,262.9Z" fill="#b74692"/>
<ellipse cx="267.8" cy="266.5" rx="1.3" ry="1.4" fill="#e0a4cc" opacity="0.85"/>
<circle cx="269.1" cy="266.2" r="1.4" fill="#a43887" opacity="0.7"/>
<circle cx="267.5" cy="266.7" r="1.2" fill="#972e7f" opacity="0.7"/>
<path d="M366.7,272.2 364.2,275.1 366.5,279.7 367.2,279.6 371.0,276.6 370.6,274.1 368.4,272.3Z" fill="#bb5095"/>
<ellipse cx="367.1" cy="275.9" rx="1.3" ry="1.4" fill="#efb0d4" opacity="0.85"/>
<circle cx="367.3" cy="275.4" r="1.1" fill="#c462a3" opacity="0.7"/>
<circle cx="367.3" cy="274.5" r="1.0" fill="#a54088" opacity="0.7"/>
<path d="M385.3,222.6 388.9,224.2 389.8,223.9 391.5,221.7 391.1,219.0 390.4,218.3 385.7,218.0 384.7,219.3Z" fill="#bc4693"/>
<circle cx="387.9" cy="222.1" r="1.4" fill="#aa3989" opacity="0.7"/>
<circle cx="386.8" cy="221.5" r="1.3" fill="#9d2f81" opacity="0.7"/>
<path d="M355.3,231.9 358.2,232.1 360.0,227.6 359.8,227.0 356.9,225.2 354.2,225.8 353.0,227.6Z" fill="#bf5198"/>
<ellipse cx="357.5" cy="228.5" rx="1.5" ry="1.3" fill="#e6a5cc" opacity="0.85"/>
<circle cx="357.3" cy="230.0" r="1.1" fill="#d072b1" opacity="0.7"/>
<circle cx="358.0" cy="228.5" r="0.9" fill="#cd6dad" opacity="0.7"/>
<path d="M338.6,236.3 340.2,238.1 342.9,238.5 345.6,233.6 345.5,232.9 344.0,231.3 339.7,231.7 338.6,233.1Z" fill="#d062a6"/>
<circle cx="341.8" cy="234.2" r="1.2" fill="#de7ebb" opacity="0.7"/>
<circle cx="341.1" cy="233.7" r="1.0" fill="#e083bf" opacity="0.7"/>
<path d="M362.7,242.3 362.2,247.8 363.3,248.5 366.0,248.9 367.9,248.0 369.1,243.9 368.4,242.5 365.7,241.3Z" fill="#bf4c95"/>
<circle cx="366.7" cy="244.2" r="0.9" fill="#a23784" opacity="0.7"/>
<circle cx="364.3" cy="246.3" r="1.2" fill="#ce6aac" opacity="0.7"/>
<path d="M334.0,245.7 335.2,247.1 339.6,247.5 341.0,246.2 341.1,242.5 338.9,240.9 335.8,241.0 334.5,241.9Z" fill="#c45ba3"/>
<ellipse cx="337.8" cy="244.7" rx="1.4" ry="1.3" fill="#f1add9" opacity="0.85"/>
<circle cx="336.2" cy="244.7" r="0.9" fill="#d174b6" opacity="0.7"/>
<circle cx="338.1" cy="245.1" r="1.4" fill="#af4b97" opacity="0.7"/>
<path d="M273.0,262.3 272.8,264.9 273.5,266.3 274.7,267.2 279.6,264.8 279.5,260.7 278.3,259.6 276.7,259.4Z" fill="#a03f86"/>
<circle cx="277.3" cy="264.6" r="0.9" fill="#802773" opacity="0.7"/>
<circle cx="276.2" cy="264.3" r="1.4" fill="#aa5395" opacity="0.7"/>
<path d="M291.8,293.9 297.3,295.5 297.9,295.2 299.3,292.0 297.8,288.9 295.7,288.1 293.1,288.6 291.3,291.7Z" fill="#ae438e"/>
<ellipse cx="295.2" cy="292.4" rx="1.3" ry="1.4" fill="#e29fc8" opacity="0.85"/>
<circle cx="295.5" cy="290.5" r="1.5" fill="#be63a6" opacity="0.7"/>
<circle cx="296.9" cy="292.8" r="1.4" fill="#8d2a7b" opacity="0.7"/>
<path d="M353.5,295.5 351.1,295.6 349.2,296.9 348.4,299.4 349.9,301.6 352.1,302.2 353.7,301.9 356.1,300.1 356.4,298.1Z" fill="#cf5da2"/>
<ellipse cx="352.8" cy="299.3" rx="1.3" ry="1.3" fill="#e6a8d0" opacity="0.85"/>
<circle cx="351.7" cy="297.3" r="1.2" fill="#bd4f97" opacity="0.7"/>
<circle cx="351.8" cy="299.4" r="1.5" fill="#d86eaf" opacity="0.7"/>
<path d="M269.0,242.6 271.0,243.2 274.7,241.3 275.1,240.3 274.3,236.4 273.4,235.4 272.0,234.9 270.3,234.9 268.9,235.5 267.8,236.6 267.1,239.5Z" fill="#c5569c"/>
<circle cx="270.6" cy="238.6" r="1.3" fill="#cf6aab" opacity="0.7"/>
<circle cx="271.0" cy="238.8" r="1.5" fill="#a33c88" opacity="0.7"/>
<path d="M335.3,202.2 337.8,203.5 341.0,202.4 341.6,197.9 341.1,197.0 339.0,195.9 337.6,196.0 336.2,196.7 334.7,199.2Z" fill="#bd4693"/>
<circle cx="339.8" cy="200.8" r="1.0" fill="#cf69ad" opacity="0.7"/>
<circle cx="337.4" cy="199.4" r="1.4" fill="#a03082" opacity="0.7"/>
<path d="M293.7,216.7 294.6,217.2 299.8,215.1 300.2,212.3 298.7,209.9 297.7,209.6 293.3,211.8 292.8,214.7Z" fill="#b54d97"/>
<ellipse cx="296.3" cy="213.2" rx="1.5" ry="1.6" fill="#e2a0c6" opacity="0.85"/>
<circle cx="296.6" cy="214.3" r="1.6" fill="#963685" opacity="0.7"/>
<circle cx="295.0" cy="213.9" r="1.2" fill="#913282" opacity="0.7"/>
<path d="M351.7,213.1 353.9,216.7 356.9,216.6 358.4,214.5 358.4,212.9 357.4,211.1 355.6,210.1 353.6,210.3Z" fill="#b23f87"/>
<circle cx="354.5" cy="215.0" r="1.0" fill="#9e307b" opacity="0.7"/>
<circle cx="354.5" cy="214.5" r="1.0" fill="#bb5094" opacity="0.7"/>
<path d="M289.9,253.3 292.2,253.2 294.0,251.7 293.7,247.9 290.4,245.8 287.7,247.0 286.3,249.5Z" fill="#b14b96"/>
<circle cx="290.1" cy="249.4" r="1.1" fill="#9c3b8a" opacity="0.7"/>
<circle cx="289.4" cy="250.7" r="1.4" fill="#c26daf" opacity="0.7"/>
<path d="M282.1,227.8 283.6,227.9 285.0,227.5 286.7,225.2 286.2,222.4 283.7,220.6 280.9,221.0 279.2,223.3 279.7,226.0Z" fill="#ae4189"/>
<ellipse cx="282.4" cy="224.6" rx="1.3" ry="1.8" fill="#e1a3c8" opacity="0.85"/>
<circle cx="281.9" cy="223.2" r="1.1" fill="#8d2876" opacity="0.7"/>
<circle cx="284.5" cy="223.4" r="1.1" fill="#8b2775" opacity="0.7"/>
<path d="M273.2,293.8 276.9,291.9 277.3,287.6 275.2,286.0 271.6,287.1 270.2,290.5 271.2,292.6Z" fill="#bc539c"/>
<circle cx="273.2" cy="288.4" r="1.3" fill="#9c3b89" opacity="0.7"/>
<circle cx="274.6" cy="291.3" r="1.0" fill="#c769ad" opacity="0.7"/>
<path d="M348.4,256.8 349.8,262.8 352.5,263.0 354.5,261.7 355.3,259.4 353.0,256.1 350.8,255.6Z" fill="#b2468e"/>
<circle cx="352.1" cy="260.8" r="1.1" fill="#8e2b79" opacity="0.7"/>
<circle cx="351.7" cy="258.8" r="1.4" fill="#95307d" opacity="0.7"/>
<path d="M350.2,271.9 350.3,277.0 354.6,277.7 355.2,277.4 356.3,274.9 355.6,272.6 350.9,271.6Z" fill="#bb5198"/>
<ellipse cx="352.7" cy="275.2" rx="1.5" ry="1.2" fill="#e7a8cc" opacity="0.85"/>
<circle cx="353.0" cy="274.7" r="1.2" fill="#cd75b3" opacity="0.7"/>
<circle cx="353.2" cy="274.2" r="1.2" fill="#cb71b0" opacity="0.7"/>
<path d="M278.7,246.7 278.7,245.2 278.0,243.9 276.9,243.1 275.4,242.7 273.2,243.4 272.0,244.4 271.2,245.8 271.1,247.3 272.4,249.7 274.5,250.4 275.5,250.1Z" fill="#af5295"/>
<circle cx="274.1" cy="245.0" r="1.4" fill="#9b4389" opacity="0.7"/>
<circle cx="276.4" cy="246.7" r="1.2" fill="#943e85" opacity="0.7"/>
<path d="M349.6,244.4 353.2,245.3 353.8,244.9 354.9,241.1 352.7,238.9 352.0,238.9 348.6,241.6Z" fill="#c55ba0"/>
<circle cx="352.3" cy="243.5" r="0.9" fill="#a3428c" opacity="0.7"/>
<circle cx="351.7" cy="243.5" r="1.2" fill="#d276b4" opacity="0.7"/>
<path d="M373.4,243.8 371.7,243.8 370.1,244.7 369.2,247.8 370.0,249.4 371.8,250.4 374.7,250.1 376.5,248.1 376.4,246.5Z" fill="#c65ba1"/>
<ellipse cx="372.7" cy="247.3" rx="1.5" ry="1.4" fill="#e7a8cd" opacity="0.85"/>
<circle cx="371.7" cy="247.6" r="0.8" fill="#b04b94" opacity="0.7"/>
<circle cx="373.0" cy="247.7" r="1.4" fill="#b34d96" opacity="0.7"/>
<path d="M362.9,266.4 363.4,265.9 363.6,261.2 361.7,260.2 359.0,260.8 357.5,263.0 358.0,265.6 359.7,266.8Z" fill="#bc418d"/>
<circle cx="361.8" cy="263.7" r="0.9" fill="#a63180" opacity="0.7"/>
<circle cx="362.3" cy="265.0" r="1.2" fill="#a12d7e" opacity="0.7"/>
<path d="M271.7,261.7 276.1,258.2 275.6,256.1 274.5,254.8 271.5,253.8 270.1,254.2 268.9,255.1 268.0,257.3 269.0,260.2Z" fill="#b74c97"/>
<ellipse cx="271.5" cy="258.4" rx="1.3" ry="1.5" fill="#eaaad1" opacity="0.85"/>
<circle cx="270.6" cy="257.6" r="1.5" fill="#963384" opacity="0.7"/>
<circle cx="270.7" cy="258.3" r="1.6" fill="#c76daf" opacity="0.7"/>
<path d="M276.0,239.2 277.7,241.0 280.2,241.2 282.9,237.2 282.5,235.6 281.1,234.4 276.4,235.1 275.6,237.0Z" fill="#ae4496"/>
<ellipse cx="279.0" cy="237.7" rx="1.3" ry="1.4" fill="#eaabce" opacity="0.85"/>
<circle cx="279.8" cy="236.5" r="1.5" fill="#bd61ac" opacity="0.7"/>
<circle cx="279.6" cy="238.8" r="1.5" fill="#bb5da9" opacity="0.7"/>
<path d="M305.7,203.0 306.5,202.8 307.9,200.8 307.3,196.8 306.0,195.9 304.4,195.8 301.9,197.3 301.1,200.1 301.4,200.7Z" fill="#c1589e"/>
<ellipse cx="304.9" cy="199.9" rx="1.3" ry="1.2" fill="#e5a6d0" opacity="0.85"/>
<circle cx="304.1" cy="198.9" r="0.9" fill="#cf75b3" opacity="0.7"/>
<circle cx="305.4" cy="198.1" r="0.9" fill="#cc6eaf" opacity="0.7"/>
<path d="M312.0,238.9 313.5,242.7 315.0,243.2 317.3,242.6 318.1,238.4 317.1,237.0 315.1,236.3 313.6,236.6 312.9,237.0Z" fill="#cd64a6"/>
<circle cx="313.8" cy="239.9" r="0.9" fill="#b9559a" opacity="0.7"/>
<circle cx="315.4" cy="238.7" r="0.9" fill="#bb579c" opacity="0.7"/>
<path d="M304.8,232.8 309.9,232.0 310.9,230.4 311.0,228.2 305.1,226.8 304.7,227.3Z" fill="#c85b9d"/>
<circle cx="306.9" cy="229.6" r="0.9" fill="#d26eab" opacity="0.7"/>
<circle cx="308.2" cy="229.5" r="1.1" fill="#ab458c" opacity="0.7"/>
<path d="M293.9,246.5 298.4,243.9 298.4,242.2 296.5,239.8 292.8,239.4 291.4,240.5 290.6,241.9 290.7,244.5Z" fill="#aa3c8f"/>
<circle cx="293.6" cy="244.3" r="1.4" fill="#8e277e" opacity="0.7"/>
<circle cx="294.3" cy="241.5" r="1.4" fill="#982e84" opacity="0.7"/>
<path d="M309.7,219.2 313.1,222.8 314.8,222.6 316.1,221.5 315.8,216.5 315.3,216.0 312.3,215.1 310.8,215.6Z" fill="#bb4e94"/>
<circle cx="312.5" cy="217.8" r="1.2" fill="#cc70ad" opacity="0.7"/>
<circle cx="314.2" cy="219.7" r="1.2" fill="#cd72af" opacity="0.7"/>
<path d="M307.3,203.6 307.4,205.6 311.3,208.1 313.8,206.7 314.4,205.6 314.3,203.2 313.6,202.3 309.0,201.8Z" fill="#bf579a"/>
<circle cx="310.1" cy="203.6" r="0.9" fill="#9c3d86" opacity="0.7"/>
<circle cx="311.1" cy="203.5" r="0.9" fill="#d17bb5" opacity="0.7"/>
<path d="M324.3,218.2 326.2,218.0 328.0,216.4 325.7,211.0 321.2,214.2Z" fill="#cb62a9"/>
<ellipse cx="324.6" cy="214.9" rx="1.3" ry="1.7" fill="#e7a6d0" opacity="0.85"/>
<circle cx="324.9" cy="214.8" r="0.9" fill="#d677b9" opacity="0.7"/>
<circle cx="323.3" cy="215.8" r="1.1" fill="#af4d98" opacity="0.7"/>
<path d="M336.3,293.3 338.2,295.1 339.5,295.1 342.2,291.8 340.4,287.3 338.4,287.3 336.3,288.5Z" fill="#b84690"/>
<ellipse cx="338.8" cy="291.6" rx="1.1" ry="1.7" fill="#e3a2c9" opacity="0.85"/>
<circle cx="339.9" cy="289.9" r="0.8" fill="#c765a7" opacity="0.7"/>
<circle cx="338.3" cy="292.2" r="1.4" fill="#a03482" opacity="0.7"/>
<path d="M385.9,247.4 386.8,248.3 391.3,247.7 392.2,245.6 391.5,243.0 389.4,241.9 387.0,242.7Z" fill="#b1448d"/>
<ellipse cx="388.4" cy="245.8" rx="1.3" ry="1.3" fill="#ecaad5" opacity="0.85"/>
<circle cx="389.7" cy="244.8" r="1.3" fill="#c062a4" opacity="0.7"/>
<circle cx="388.8" cy="245.0" r="1.1" fill="#9d3581" opacity="0.7"/>
<path d="M305.5,241.0 305.6,243.7 310.1,246.3 311.6,245.7 312.5,244.6 312.7,243.7 310.9,239.8 306.1,240.3Z" fill="#bd4d93"/>
<ellipse cx="308.6" cy="242.9" rx="1.5" ry="1.6" fill="#eaacd5" opacity="0.85"/>
<circle cx="309.0" cy="242.0" r="1.5" fill="#a13883" opacity="0.7"/>
<circle cx="307.7" cy="241.9" r="0.8" fill="#c761a2" opacity="0.7"/>
<path d="M333.8,222.1 332.6,224.3 332.9,226.5 334.8,228.2 337.1,227.9 339.2,223.7 338.9,222.5 338.1,221.7Z" fill="#d162ad"/>
<circle cx="334.7" cy="225.6" r="1.2" fill="#bb51a0" opacity="0.7"/>
<circle cx="336.7" cy="225.2" r="1.0" fill="#df7dc1" opacity="0.7"/>
<path d="M267.6,281.3 267.7,281.9 271.3,285.6 273.7,285.1 274.5,284.4 274.6,280.7 271.6,278.6 269.7,279.1Z" fill="#af5091"/>
<ellipse cx="272.3" cy="281.9" rx="1.5" ry="1.8" fill="#e6a3cb" opacity="0.85"/>
<circle cx="271.4" cy="283.1" r="1.2" fill="#bf70a9" opacity="0.7"/>
<circle cx="272.5" cy="281.4" r="1.6" fill="#bf70a9" opacity="0.7"/>
<path d="M302.0,258.0 303.3,259.4 307.0,259.7 309.1,257.8 309.4,256.3 309.1,254.7 307.4,252.9 303.0,252.8 301.5,254.6Z" fill="#b74d96"/>
<ellipse cx="304.8" cy="256.0" rx="1.6" ry="1.3" fill="#ecafd8" opacity="0.85"/>
<circle cx="305.2" cy="255.1" r="0.9" fill="#a03c89" opacity="0.7"/>
<circle cx="305.8" cy="256.7" r="1.5" fill="#a03c88" opacity="0.7"/>
<path d="M329.2,270.5 330.0,271.7 331.4,272.6 332.9,272.9 334.7,272.4 336.0,269.8 335.0,266.9 331.5,265.4 330.2,265.8Z" fill="#b04188"/>
<ellipse cx="332.1" cy="269.0" rx="1.6" ry="1.6" fill="#e2a0ca" opacity="0.85"/>
<circle cx="332.8" cy="268.6" r="1.1" fill="#bd5b9b" opacity="0.7"/>
<circle cx="333.3" cy="269.4" r="1.2" fill="#c163a1" opacity="0.7"/>
<path d="M279.0,287.2 278.4,287.8 278.0,291.9 281.9,294.2 284.5,290.9 283.3,287.2 281.4,286.5Z" fill="#a93f90"/>
<circle cx="282.4" cy="291.2" r="1.1" fill="#963185" opacity="0.7"/>
<circle cx="282.5" cy="291.8" r="1.4" fill="#983286" opacity="0.7"/>
<path d="M385.8,242.0 385.2,241.4 381.2,241.9 379.5,246.1 379.7,246.7 382.2,247.9 384.7,247.2Z" fill="#c35aa1"/>
<circle cx="384.1" cy="244.3" r="1.4" fill="#d37bb9" opacity="0.7"/>
<circle cx="382.8" cy="244.8" r="1.4" fill="#d074b5" opacity="0.7"/>
<path d="M282.4,257.9 286.6,258.9 288.0,257.9 289.0,256.5 289.3,254.3 285.7,250.7 284.9,250.8 281.6,255.6Z" fill="#c25ca3"/>
<circle cx="286.0" cy="255.7" r="1.2" fill="#a84894" opacity="0.7"/>
<circle cx="286.4" cy="254.9" r="1.5" fill="#cc70b2" opacity="0.7"/>
<path d="M387.0,249.4 386.0,250.5 385.7,251.8 386.1,253.1 387.0,254.2 388.0,254.7 390.4,254.9 392.8,253.3 393.3,250.9 392.1,249.2 391.4,248.9Z" fill="#b9458f"/>
<ellipse cx="389.2" cy="252.2" rx="1.5" ry="1.3" fill="#e7a4ce" opacity="0.85"/>
<circle cx="390.8" cy="251.2" r="1.1" fill="#a23481" opacity="0.7"/>
<circle cx="388.9" cy="251.7" r="0.9" fill="#982c7c" opacity="0.7"/>
<path d="M295.1,251.9 295.6,252.4 299.6,252.9 301.1,251.7 301.6,250.6 301.2,246.2 300.6,245.4 299.2,244.9 295.0,247.4Z" fill="#9e3f84"/>
<circle cx="297.8" cy="250.7" r="1.6" fill="#8a3079" opacity="0.7"/>
<circle cx="297.4" cy="250.3" r="1.4" fill="#892f78" opacity="0.7"/>
<path d="M350.8,265.8 350.9,270.4 356.1,271.5 357.0,270.9 357.8,268.0 356.3,265.3 353.4,264.4Z" fill="#b5468d"/>
<circle cx="353.1" cy="267.3" r="1.3" fill="#9e3580" opacity="0.7"/>
<circle cx="352.5" cy="268.9" r="1.2" fill="#bf599b" opacity="0.7"/>
<path d="M378.0,268.5 378.6,270.4 381.1,272.5 385.0,269.8 384.6,267.8 383.7,266.6 379.0,265.8 378.3,266.4Z" fill="#b74a93"/>
<circle cx="380.1" cy="269.5" r="1.4" fill="#9e3784" opacity="0.7"/>
<circle cx="381.5" cy="268.0" r="1.1" fill="#c15ea2" opacity="0.7"/>
<path d="M343.9,270.9 349.0,271.0 349.7,269.9 349.6,267.0 348.9,266.0 347.0,265.1 345.0,265.3 343.9,266.1 343.1,269.3Z" fill="#c0589a"/>
<circle cx="345.8" cy="269.4" r="1.1" fill="#9e3f86" opacity="0.7"/>
<circle cx="347.2" cy="268.2" r="1.4" fill="#ae4b90" opacity="0.7"/>
<path d="M307.4,289.3 308.7,290.3 310.5,290.6 313.5,287.4 312.0,283.6 308.5,283.8 307.4,284.7 306.8,286.1Z" fill="#c4569b"/>
<ellipse cx="309.9" cy="286.4" rx="1.3" ry="1.6" fill="#e6aad0" opacity="0.85"/>
<circle cx="310.0" cy="286.0" r="0.9" fill="#d475b3" opacity="0.7"/>
<circle cx="311.0" cy="285.9" r="1.4" fill="#af468f" opacity="0.7"/>
<path d="M330.2,259.1 331.3,259.1 333.7,257.6 334.5,255.9 332.0,251.7 331.2,251.3 329.8,251.5 327.2,253.9 326.9,254.7 327.0,255.9Z" fill="#bf5397"/>
<circle cx="329.2" cy="255.1" r="1.1" fill="#a64089" opacity="0.7"/>
<circle cx="331.0" cy="254.9" r="1.2" fill="#9e3a84" opacity="0.7"/>
<path d="M303.6,220.3 304.9,220.9 308.4,219.3 309.4,216.0 308.8,214.8 304.3,213.8 303.1,214.5 302.2,216.3Z" fill="#b34189"/>
<circle cx="304.7" cy="215.9" r="0.9" fill="#bc5397" opacity="0.7"/>
<circle cx="306.8" cy="216.1" r="1.5" fill="#9f327d" opacity="0.7"/>
<path d="M379.0,237.6 381.4,240.5 385.3,240.2 386.4,238.3 381.7,233.6 380.8,234.0Z" fill="#b44b90"/>
<circle cx="382.8" cy="236.4" r="1.0" fill="#c064a2" opacity="0.7"/>
<circle cx="383.1" cy="237.4" r="1.5" fill="#bd5e9e" opacity="0.7"/>
<path d="M366.7,213.2 368.8,215.9 372.1,216.0 373.9,214.1 374.3,212.0 373.6,210.7 371.2,209.8 367.4,211.5Z" fill="#c35496"/>
<ellipse cx="370.2" cy="212.5" rx="1.1" ry="1.2" fill="#e0a1c9" opacity="0.85"/>
<circle cx="371.3" cy="212.3" r="1.0" fill="#d477b0" opacity="0.7"/>
<circle cx="370.3" cy="212.3" r="1.4" fill="#ae448a" opacity="0.7"/>
<path d="M375.8,269.9 376.7,267.9 376.1,265.0 374.0,263.7 372.1,264.1 370.2,267.4 370.8,269.8 372.7,271.2Z" fill="#cc5da5"/>
<ellipse cx="372.8" cy="267.2" rx="1.1" ry="1.6" fill="#e4a6ce" opacity="0.85"/>
<circle cx="374.3" cy="268.7" r="1.2" fill="#b44b97" opacity="0.7"/>
<circle cx="372.8" cy="267.4" r="1.5" fill="#b44b97" opacity="0.7"/>
<path d="M318.2,244.1 315.4,244.3 313.6,246.1 313.5,248.6 315.2,250.5 317.9,250.6 319.9,248.6 320.1,246.0Z" fill="#bb4d94"/>
<ellipse cx="316.3" cy="247.2" rx="1.4" ry="1.3" fill="#ebacd2" opacity="0.85"/>
<circle cx="317.3" cy="247.2" r="1.2" fill="#c664a5" opacity="0.7"/>
<circle cx="317.3" cy="248.0" r="1.1" fill="#c45ea1" opacity="0.7"/>
<path d="M265.6,223.7 267.9,221.4 267.7,219.2 263.4,216.1 262.7,216.1 261.5,216.9 260.7,218.2 260.6,221.6 261.8,223.3Z" fill="#a7488b"/>
<circle cx="265.4" cy="221.1" r="1.6" fill="#b86aa4" opacity="0.7"/>
<circle cx="263.9" cy="219.8" r="1.2" fill="#8d357c" opacity="0.7"/>
<path d="M260.9,231.7 259.3,232.9 258.7,234.2 258.8,235.7 259.5,237.1 261.3,238.4 262.9,238.6 265.8,237.5 266.7,236.2 267.0,234.8 266.2,232.7 265.4,232.0Z" fill="#a94194"/>
<ellipse cx="263.4" cy="234.6" rx="1.4" ry="1.5" fill="#ebaed5" opacity="0.85"/>
<circle cx="264.1" cy="234.5" r="1.3" fill="#b457a4" opacity="0.7"/>
<circle cx="262.6" cy="235.3" r="0.9" fill="#ba64ae" opacity="0.7"/>
<path d="M313.4,278.5 315.3,278.5 317.0,277.2 317.7,274.7 317.2,273.3 312.7,272.5 311.3,273.5 310.7,275.2Z" fill="#c75ea5"/>
<circle cx="313.6" cy="275.5" r="1.3" fill="#d77fbd" opacity="0.7"/>
<circle cx="314.0" cy="274.1" r="1.5" fill="#ad4a96" opacity="0.7"/>
<path d="M340.8,254.1 342.3,256.7 347.2,256.3 348.3,255.3 348.6,253.3 345.9,249.8 343.8,249.4 341.8,250.5Z" fill="#b23f8a"/>
<circle cx="343.8" cy="253.2" r="1.2" fill="#962a7a" opacity="0.7"/>
<circle cx="344.6" cy="253.2" r="1.4" fill="#bf589d" opacity="0.7"/>
<path d="M317.5,206.9 321.6,205.6 321.9,205.1 321.5,202.3 318.2,200.5 316.3,201.8 315.7,203.6 316.1,205.5Z" fill="#cb63a4"/>
<ellipse cx="319.6" cy="203.6" rx="1.6" ry="1.6" fill="#e5a1cc" opacity="0.85"/>
<circle cx="320.2" cy="203.7" r="1.1" fill="#b14f95" opacity="0.7"/>
<circle cx="317.6" cy="204.8" r="1.3" fill="#dc85bd" opacity="0.7"/>
<path d="M363.7,200.4 365.8,202.1 367.3,202.3 369.2,201.6 369.9,196.2 367.5,195.1 364.7,195.8 363.6,197.2Z" fill="#ba4692"/>
<ellipse cx="367.0" cy="198.5" rx="1.3" ry="1.2" fill="#e39fc8" opacity="0.85"/>
<circle cx="366.3" cy="198.5" r="1.3" fill="#982d7e" opacity="0.7"/>
<circle cx="368.4" cy="197.7" r="1.1" fill="#a73887" opacity="0.7"/>
<path d="M327.0,234.0 329.3,233.7 330.8,231.7 330.9,229.5 329.9,228.1 325.4,228.3 324.6,229.2 324.4,230.6Z" fill="#b34486"/>
<circle cx="327.8" cy="230.9" r="0.8" fill="#bd5895" opacity="0.7"/>
<circle cx="327.2" cy="231.9" r="1.0" fill="#9d3479" opacity="0.7"/>
<path d="M361.3,294.7 361.8,295.2 366.4,295.9 367.7,294.7 368.2,292.6 363.5,289.1 362.9,289.1 361.1,290.5Z" fill="#ab3e88"/>
<ellipse cx="364.4" cy="292.5" rx="1.2" ry="1.2" fill="#eeaed6" opacity="0.85"/>
<circle cx="363.8" cy="291.6" r="1.5" fill="#8e2977" opacity="0.7"/>
<circle cx="363.9" cy="291.7" r="1.3" fill="#b45196" opacity="0.7"/>
<path d="M366.1,210.3 366.8,210.5 370.7,208.7 369.5,203.7 366.9,203.8 364.8,205.8Z" fill="#c75da0"/>
<circle cx="367.2" cy="207.9" r="1.4" fill="#aa488f" opacity="0.7"/>
<circle cx="369.3" cy="207.6" r="1.2" fill="#d77eb8" opacity="0.7"/>
<path d="M367.5,221.3 367.6,221.8 370.2,223.7 371.0,223.8 374.6,220.5 373.1,217.5 372.4,217.1 369.4,217.2Z" fill="#aa3c87"/>
<ellipse cx="370.3" cy="219.7" rx="1.3" ry="1.6" fill="#e7a8cf" opacity="0.85"/>
<circle cx="371.0" cy="219.8" r="1.1" fill="#b55297" opacity="0.7"/>
<circle cx="371.0" cy="220.9" r="1.5" fill="#8c2676" opacity="0.7"/>
<path d="M336.2,266.2 336.9,269.1 337.4,269.5 341.9,269.0 342.7,265.8 341.4,264.1 339.6,263.4Z" fill="#bc498e"/>
<ellipse cx="339.7" cy="266.2" rx="1.4" ry="1.6" fill="#f1aed8" opacity="0.85"/>
<circle cx="340.1" cy="266.3" r="1.3" fill="#ca66a3" opacity="0.7"/>
<circle cx="339.5" cy="265.4" r="1.4" fill="#9b307b" opacity="0.7"/>
<path d="M314.7,264.3 319.1,265.7 320.8,264.1 321.2,262.8 320.9,261.5 315.5,258.6 314.0,260.1Z" fill="#b64991"/>
<ellipse cx="317.4" cy="262.4" rx="1.4" ry="1.6" fill="#edadd6" opacity="0.85"/>
<circle cx="316.4" cy="262.5" r="1.1" fill="#c567a8" opacity="0.7"/>
<circle cx="316.4" cy="261.7" r="1.0" fill="#9c3682" opacity="0.7"/>
<path d="M332.0,286.1 335.2,287.3 337.3,285.8 337.9,284.5 336.9,280.2 335.4,279.8 331.7,282.0Z" fill="#c2539c"/>
<circle cx="333.6" cy="284.9" r="0.8" fill="#a13a89" opacity="0.7"/>
<circle cx="333.4" cy="283.3" r="1.1" fill="#ce6bae" opacity="0.7"/>
<path d="M380.3,213.1 381.9,212.7 383.0,211.8 383.7,209.2 382.1,206.9 379.0,206.3 378.3,206.6 375.9,210.5 377.2,212.3Z" fill="#c1539f"/>
<ellipse cx="379.9" cy="209.3" rx="1.3" ry="1.6" fill="#e6a9cd" opacity="0.85"/>
<circle cx="380.9" cy="208.3" r="1.0" fill="#cb67ae" opacity="0.7"/>
<circle cx="379.5" cy="209.6" r="1.5" fill="#d070b5" opacity="0.7"/>
<path d="M308.5,196.5 309.1,200.6 313.5,201.2 314.7,200.1 315.0,197.5 313.4,195.4 310.6,195.1Z" fill="#bb5098"/>
<ellipse cx="311.5" cy="198.7" rx="1.3" ry="1.3" fill="#e5a5cb" opacity="0.85"/>
<circle cx="310.6" cy="197.2" r="1.0" fill="#cb70b0" opacity="0.7"/>
<circle cx="310.9" cy="198.0" r="1.1" fill="#c86aab" opacity="0.7"/>
<path d="M320.1,229.7 322.2,229.4 323.5,227.9 322.7,223.8 321.4,222.8 318.1,223.0 317.1,223.9 316.5,225.5Z" fill="#d466ac"/>
<circle cx="320.4" cy="226.5" r="1.3" fill="#e180c0" opacity="0.7"/>
<circle cx="320.1" cy="225.7" r="1.2" fill="#e17fbf" opacity="0.7"/>
<path d="M348.2,291.9 349.6,294.2 352.2,294.0 353.0,293.5 354.4,289.7 352.2,287.0 350.3,287.1 349.6,287.7Z" fill="#cd64a8"/>
<ellipse cx="351.3" cy="290.9" rx="1.3" ry="1.3" fill="#efaed4" opacity="0.85"/>
<circle cx="352.3" cy="290.2" r="1.4" fill="#b5529a" opacity="0.7"/>
<circle cx="350.6" cy="291.8" r="1.2" fill="#d87ab9" opacity="0.7"/>
<path d="M346.7,214.1 346.1,214.7 346.4,218.9 347.2,219.7 350.4,220.1 352.5,216.9 350.3,213.9Z" fill="#d164aa"/>
<circle cx="349.2" cy="216.7" r="1.0" fill="#dc79ba" opacity="0.7"/>
<circle cx="350.9" cy="216.2" r="1.4" fill="#be569f" opacity="0.7"/>
<path d="M313.0,260.4 311.7,259.6 310.4,259.6 307.8,261.3 308.6,266.7 311.1,266.8 313.4,265.0Z" fill="#c15399"/>
<circle cx="309.1" cy="262.6" r="1.2" fill="#cb66a8" opacity="0.7"/>
<circle cx="311.5" cy="263.3" r="1.3" fill="#a8408a" opacity="0.7"/>
<path d="M330.6,294.2 335.1,293.3 335.1,289.3 334.3,288.4 331.7,287.8 329.5,289.3 328.9,292.0Z" fill="#bb448f"/>
<ellipse cx="332.3" cy="291.8" rx="1.5" ry="1.6" fill="#e6a7cf" opacity="0.85"/>
<circle cx="333.0" cy="290.6" r="1.2" fill="#cc66a9" opacity="0.7"/>
<circle cx="333.6" cy="291.8" r="1.3" fill="#a23180" opacity="0.7"/>
<path d="M372.2,285.8 371.4,289.8 371.7,290.5 372.9,291.4 377.0,291.4 377.6,290.2 376.0,285.3 374.7,284.7Z" fill="#b74a94"/>
<circle cx="373.1" cy="288.6" r="1.3" fill="#953180" opacity="0.7"/>
<circle cx="374.8" cy="288.5" r="1.3" fill="#9c3684" opacity="0.7"/>
<path d="M338.9,204.5 338.6,204.9 339.0,210.2 340.7,211.1 342.7,210.7 344.5,208.4 344.6,205.3 342.0,203.4Z" fill="#b84790"/>
<ellipse cx="341.3" cy="207.0" rx="1.3" ry="1.1" fill="#edacd5" opacity="0.85"/>
<circle cx="340.1" cy="207.1" r="1.0" fill="#c45fa2" opacity="0.7"/>
<circle cx="340.3" cy="206.7" r="1.4" fill="#972e7d" opacity="0.7"/>
<path d="M384.7,200.9 385.9,201.8 389.7,201.1 390.9,198.5 389.9,195.8 387.5,194.6 385.0,195.4Z" fill="#ca5ca3"/>
<circle cx="385.9" cy="197.0" r="1.0" fill="#b84e98" opacity="0.7"/>
<circle cx="388.5" cy="199.4" r="1.4" fill="#db7dbc" opacity="0.7"/>
<path d="M275.4,268.4 275.1,269.3 275.4,270.8 279.1,273.3 280.6,273.3 282.1,272.6 282.6,268.1 280.3,266.2Z" fill="#bb539d"/>
<circle cx="281.1" cy="268.3" r="0.9" fill="#cc75b7" opacity="0.7"/>
<circle cx="280.4" cy="268.5" r="1.4" fill="#a64391" opacity="0.7"/>
<path d="M386.6,262.1 387.9,262.5 389.2,262.3 391.1,260.6 391.2,258.0 389.5,256.2 386.9,256.0 385.0,257.8 384.7,259.1Z" fill="#bd5091"/>
<ellipse cx="387.5" cy="258.9" rx="1.2" ry="1.2" fill="#e3a0ca" opacity="0.85"/>
<circle cx="387.8" cy="259.4" r="1.1" fill="#9c377e" opacity="0.7"/>
<circle cx="389.5" cy="258.9" r="0.8" fill="#c967a2" opacity="0.7"/>
<path d="M267.0,261.7 267.2,260.4 266.6,258.7 264.2,256.7 260.8,256.8 259.5,257.9 258.7,259.3 258.6,261.0 259.1,262.6 260.2,263.9 261.7,264.7 263.3,264.8Z" fill="#b14492"/>
<circle cx="262.9" cy="260.4" r="0.9" fill="#983184" opacity="0.7"/>
<circle cx="262.7" cy="259.6" r="1.6" fill="#9e3687" opacity="0.7"/>
<path d="M276.0,280.3 275.9,285.1 278.7,285.9 280.4,285.6 281.9,284.6 280.4,278.8 279.1,278.6Z" fill="#a14289"/>
<ellipse cx="278.8" cy="282.3" rx="1.5" ry="1.7" fill="#e9aad3" opacity="0.85"/>
<circle cx="279.5" cy="281.2" r="1.0" fill="#ad5b9c" opacity="0.7"/>
<circle cx="278.1" cy="282.2" r="1.0" fill="#ad5a9b" opacity="0.7"/>
<path d="M316.8,296.5 316.4,296.1 314.2,296.1 311.0,300.1 311.1,301.6 312.0,302.8 313.3,303.5 314.7,303.5 317.3,301.9 317.5,301.3Z" fill="#bc4192"/>
<circle cx="315.1" cy="298.6" r="1.4" fill="#99267d" opacity="0.7"/>
<circle cx="315.6" cy="300.6" r="1.2" fill="#cc62aa" opacity="0.7"/>
<path d="M328.9,215.1 330.2,215.7 331.7,215.5 333.4,214.1 333.8,213.1 333.8,211.5 330.6,208.6 328.5,209.1 327.1,210.7Z" fill="#b74892"/>
<ellipse cx="331.0" cy="212.4" rx="1.5" ry="1.5" fill="#efaed4" opacity="0.85"/>
<circle cx="330.5" cy="211.2" r="1.1" fill="#c767a9" opacity="0.7"/>
<circle cx="329.7" cy="211.6" r="0.9" fill="#c361a5" opacity="0.7"/>
<path d="M371.7,233.4 372.3,233.3 374.8,230.1 371.0,227.0 367.8,230.8 368.5,232.1Z" fill="#c04a97"/>
<ellipse cx="371.2" cy="231.1" rx="1.6" ry="1.7" fill="#eeacd6" opacity="0.85"/>
<circle cx="371.5" cy="231.4" r="1.5" fill="#d06bb0" opacity="0.7"/>
<circle cx="372.5" cy="230.4" r="1.1" fill="#ca5ea6" opacity="0.7"/>
<path d="M387.2,297.1 389.7,297.4 391.6,296.2 392.5,293.5 391.6,291.3 386.0,291.8 385.3,293.6Z" fill="#cf5faa"/>
<circle cx="390.1" cy="294.6" r="1.5" fill="#db78bd" opacity="0.7"/>
<circle cx="388.0" cy="293.7" r="1.1" fill="#da76bb" opacity="0.7"/>
<path d="M275.3,200.7 279.8,201.1 281.3,197.0 281.0,196.2 278.2,194.3 276.6,194.2 275.2,194.7 274.2,195.7 273.8,197.1 274.0,198.7Z" fill="#ad4a90"/>
<ellipse cx="277.6" cy="198.8" rx="1.3" ry="1.5" fill="#ecabd2" opacity="0.85"/>
<circle cx="278.1" cy="199.6" r="1.2" fill="#953882" opacity="0.7"/>
<circle cx="278.5" cy="197.4" r="1.0" fill="#b962a2" opacity="0.7"/>
<path d="M380.0,225.9 381.1,226.0 384.1,223.2 383.5,219.4 382.9,218.9 382.2,218.8 377.7,221.6Z" fill="#c45098"/>
<circle cx="381.5" cy="222.7" r="1.0" fill="#ad3f8b" opacity="0.7"/>
<circle cx="382.5" cy="222.3" r="1.4" fill="#d169ab" opacity="0.7"/>
<path d="M290.5,204.5 289.8,206.0 291.4,210.7 292.2,210.9 296.9,208.6 297.2,206.9 296.3,204.1Z" fill="#ab4e8b"/>
<circle cx="292.3" cy="208.1" r="1.6" fill="#8c3779" opacity="0.7"/>
<circle cx="294.9" cy="205.8" r="1.0" fill="#b46199" opacity="0.7"/>
<path d="M316.1,257.2 321.1,260.0 323.9,255.5 321.9,253.6 318.9,253.4 316.9,254.6Z" fill="#c0509d"/>
<ellipse cx="320.1" cy="256.9" rx="1.6" ry="1.5" fill="#df9ec7" opacity="0.85"/>
<circle cx="318.9" cy="256.7" r="1.0" fill="#c861aa" opacity="0.7"/>
<circle cx="320.3" cy="256.9" r="1.0" fill="#a0388a" opacity="0.7"/>
<path d="M359.4,232.1 360.7,233.7 364.7,233.4 365.5,232.5 366.0,230.8 362.5,227.7 361.7,227.7 361.0,228.1Z" fill="#c15298"/>
<circle cx="361.9" cy="231.3" r="1.2" fill="#d06fae" opacity="0.7"/>
<circle cx="364.0" cy="232.3" r="1.2" fill="#ab428b" opacity="0.7"/>
<path d="M321.9,201.3 325.0,199.2 324.8,196.3 322.7,195.1 320.3,195.7 318.9,197.9 319.2,199.7Z" fill="#af4489"/>
<ellipse cx="322.0" cy="197.8" rx="1.4" ry="1.3" fill="#ecadd5" opacity="0.85"/>
<circle cx="321.4" cy="198.1" r="1.1" fill="#943079" opacity="0.7"/>
<circle cx="322.0" cy="198.4" r="1.3" fill="#9e377f" opacity="0.7"/>
<path d="M319.5,212.7 320.6,213.1 324.6,210.2 324.7,208.8 324.3,207.8 322.2,206.5 318.3,208.1Z" fill="#bd4c94"/>
<circle cx="322.3" cy="209.2" r="1.1" fill="#a93d88" opacity="0.7"/>
<circle cx="322.0" cy="208.8" r="1.1" fill="#c65ea2" opacity="0.7"/>
<path d="M259.8,230.3 266.3,230.8 266.9,229.9 265.6,224.9 260.6,224.5 259.5,225.7 259.0,227.3 259.1,229.0Z" fill="#ba4d93"/>
<ellipse cx="263.8" cy="228.1" rx="1.3" ry="1.4" fill="#eeb1d7" opacity="0.85"/>
<circle cx="265.0" cy="227.9" r="1.3" fill="#9f3983" opacity="0.7"/>
<circle cx="263.6" cy="227.3" r="1.0" fill="#a94089" opacity="0.7"/>
<path d="M359.4,219.1 357.6,224.2 360.7,226.3 361.6,226.3 364.1,222.3 360.4,219.0Z" fill="#be4e95"/>
<ellipse cx="360.6" cy="222.3" rx="1.5" ry="1.4" fill="#edadd7" opacity="0.85"/>
<circle cx="359.7" cy="222.5" r="1.1" fill="#9f3783" opacity="0.7"/>
<circle cx="360.2" cy="223.8" r="1.3" fill="#aa3f89" opacity="0.7"/>
<path d="M349.7,201.4 350.4,201.8 354.4,200.3 355.0,196.9 354.1,195.7 351.2,194.9 348.6,196.4 348.4,197.0Z" fill="#c34d96"/>
<ellipse cx="352.2" cy="198.9" rx="1.4" ry="1.2" fill="#eaacd2" opacity="0.85"/>
<circle cx="352.0" cy="199.9" r="1.3" fill="#d46eaf" opacity="0.7"/>
<circle cx="352.8" cy="198.0" r="1.4" fill="#a23482" opacity="0.7"/>
<path d="M381.0,276.5 380.4,276.4 375.5,278.8 376.5,282.7 381.2,282.0 382.6,278.9Z" fill="#bf529b"/>
<circle cx="379.9" cy="278.5" r="1.4" fill="#d175b5" opacity="0.7"/>
<circle cx="380.2" cy="278.7" r="1.5" fill="#ce6fb1" opacity="0.7"/>
<path d="M344.4,238.5 345.4,240.0 348.0,240.6 351.4,237.9 351.6,237.0 347.0,234.3 346.3,234.7Z" fill="#c15399"/>
<circle cx="347.3" cy="238.5" r="1.2" fill="#cf6ead" opacity="0.7"/>
<circle cx="348.5" cy="238.5" r="1.0" fill="#a13b86" opacity="0.7"/>
</g>
<circle cx="325.4" cy="254.8" r="2.6" fill="#7e2a7e" filter="url(#soft)"/>
<circle cx="334.4" cy="260.4" r="2.6" fill="#7e2a7e" filter="url(#soft)"/>
<circle cx="362.5" cy="263.8" r="2.6" fill="#7e2a7e" filter="url(#soft)"/>
<circle cx="344.5" cy="284" r="2.6" fill="#7e2a7e" filter="url(#soft)"/>
<circle cx="357" cy="287.4" r="2.6" fill="#7e2a7e" filter="url(#soft)"/>
<circle cx="372.7" cy="277.3" r="2.6" fill="#7e2a7e" filter="url(#soft)"/>
<circle cx="333.3" cy="206.4" r="2.6" fill="#7e2a7e" filter="url(#soft)"/>
<circle cx="271.4" cy="280.7" r="2.6" fill="#7e2a7e" filter="url(#soft)"/>
<circle cx="300" cy="233" r="2.6" fill="#7e2a7e" filter="url(#soft)"/>
<circle cx="352" cy="240" r="2.6" fill="#7e2a7e" filter="url(#soft)"/>
</g>
<clipPath id="clip4"><rect x="389.8" y="204.0" width="114.59999999999997" height="89.69999999999999"/></clipPath>
<g clip-path="url(#clip4)">
<rect x="389.8" y="204.0" width="114.59999999999997" height="89.69999999999999" fill="#dccfe8"/>
<g filter="url(#soft)">
<ellipse cx="484" cy="268" rx="22" ry="29" fill="#d8b6da"/>
<ellipse cx="416" cy="289" rx="16" ry="9" fill="#f1e6f1"/>
<ellipse cx="485.5" cy="271" rx="14.5" ry="17" fill="#c86cb0"/>
<circle cx="480.5" cy="275.1" r="1.5" fill="#cc6cb0" opacity="0.55"/>
<circle cx="488.2" cy="274.5" r="2.2" fill="#da8ec4" opacity="0.55"/>
<circle cx="481.5" cy="260.2" r="2.5" fill="#c05aa4" opacity="0.55"/>
<circle cx="489.1" cy="283.9" r="2.0" fill="#d884c0" opacity="0.55"/>
<circle cx="491.0" cy="257.7" r="1.5" fill="#c05aa4" opacity="0.55"/>
<circle cx="478.9" cy="258.5" r="1.7" fill="#da8ec4" opacity="0.55"/>
<circle cx="483.7" cy="266.7" r="1.6" fill="#c462aa" opacity="0.55"/>
<circle cx="485.4" cy="272.4" r="1.5" fill="#da8ec4" opacity="0.55"/>
<circle cx="494.0" cy="276.6" r="1.5" fill="#c05aa4" opacity="0.55"/>
<circle cx="493.5" cy="269.6" r="1.5" fill="#cc6cb0" opacity="0.55"/>
<circle cx="485.4" cy="260.4" r="2.5" fill="#cc6cb0" opacity="0.55"/>
<circle cx="495.8" cy="266.5" r="1.3" fill="#c462aa" opacity="0.55"/>
<circle cx="490.8" cy="282.6" r="1.8" fill="#c05aa4" opacity="0.55"/>
<circle cx="482.1" cy="266.5" r="2.1" fill="#c05aa4" opacity="0.55"/>
<circle cx="480.8" cy="281.2" r="1.5" fill="#c462aa" opacity="0.55"/>
<circle cx="479.8" cy="262.8" r="2.0" fill="#cc6cb0" opacity="0.55"/>
<circle cx="478.7" cy="281.6" r="2.5" fill="#cc6cb0" opacity="0.55"/>
<circle cx="484.7" cy="257.5" r="2.3" fill="#cc6cb0" opacity="0.55"/>
<circle cx="478.8" cy="264.6" r="1.3" fill="#cc6cb0" opacity="0.55"/>
<circle cx="481.7" cy="286.3" r="1.8" fill="#cc6cb0" opacity="0.55"/>
<circle cx="491.1" cy="264.8" r="1.9" fill="#cc6cb0" opacity="0.55"/>
<circle cx="488.1" cy="266.5" r="2.4" fill="#cc6cb0" opacity="0.55"/>
<circle cx="481.3" cy="260.8" r="1.2" fill="#c462aa" opacity="0.55"/>
<circle cx="481.2" cy="279.4" r="1.7" fill="#c05aa4" opacity="0.55"/>
<circle cx="476.3" cy="280.5" r="1.9" fill="#cc6cb0" opacity="0.55"/>
<circle cx="494.9" cy="260.4" r="2.2" fill="#c05aa4" opacity="0.55"/>
<circle cx="486.3" cy="263.4" r="2.4" fill="#cc6cb0" opacity="0.55"/>
<circle cx="481.2" cy="263.7" r="2.4" fill="#d884c0" opacity="0.55"/>
<circle cx="487.9" cy="285.1" r="2.1" fill="#cc6cb0" opacity="0.55"/>
<circle cx="478.9" cy="278.1" r="2.5" fill="#c05aa4" opacity="0.55"/>
<circle cx="474.2" cy="278.3" r="1.3" fill="#d884c0" opacity="0.55"/>
<circle cx="496.0" cy="262.8" r="2.3" fill="#da8ec4" opacity="0.55"/>
<circle cx="494.4" cy="281.9" r="1.8" fill="#d884c0" opacity="0.55"/>
<circle cx="476.3" cy="278.0" r="2.1" fill="#d884c0" opacity="0.55"/>
<circle cx="477.4" cy="280.1" r="2.4" fill="#da8ec4" opacity="0.55"/>
<circle cx="481.0" cy="261.8" r="1.7" fill="#cc6cb0" opacity="0.55"/>
<circle cx="479.3" cy="281.8" r="2.2" fill="#cc6cb0" opacity="0.55"/>
<circle cx="494.1" cy="262.7" r="2.3" fill="#d884c0" opacity="0.55"/>
<circle cx="479.1" cy="259.5" r="2.4" fill="#cc6cb0" opacity="0.55"/>
<circle cx="475.0" cy="279.1" r="2.1" fill="#c462aa" opacity="0.55"/>
<circle cx="493.0" cy="278.6" r="1.2" fill="#d884c0" opacity="0.55"/>
<circle cx="498.2" cy="266.1" r="2.6" fill="#da8ec4" opacity="0.55"/>
<circle cx="487.5" cy="260.6" r="1.5" fill="#c05aa4" opacity="0.55"/>
<circle cx="475.9" cy="273.3" r="2.1" fill="#da8ec4" opacity="0.55"/>
<circle cx="486.2" cy="263.9" r="1.2" fill="#c462aa" opacity="0.55"/>
<circle cx="486.8" cy="266.9" r="1.2" fill="#c462aa" opacity="0.55"/>
<circle cx="478.4" cy="275.9" r="2.0" fill="#da8ec4" opacity="0.55"/>
<circle cx="480.2" cy="267.8" r="1.3" fill="#c05aa4" opacity="0.55"/>
<circle cx="481.0" cy="275.0" r="1.8" fill="#cc6cb0" opacity="0.55"/>
<circle cx="494.7" cy="260.5" r="2.4" fill="#c05aa4" opacity="0.55"/>
<circle cx="474.0" cy="278.7" r="1.5" fill="#d884c0" opacity="0.55"/>
<circle cx="487.9" cy="281.5" r="2.4" fill="#c05aa4" opacity="0.55"/>
<circle cx="490.7" cy="285.0" r="2.6" fill="#da8ec4" opacity="0.55"/>
<circle cx="495.5" cy="261.6" r="1.9" fill="#cc6cb0" opacity="0.55"/>
<circle cx="495.3" cy="269.6" r="2.6" fill="#da8ec4" opacity="0.55"/>
<circle cx="493.2" cy="271.9" r="1.9" fill="#d884c0" opacity="0.55"/>
<circle cx="485.0" cy="270.2" r="2.2" fill="#d884c0" opacity="0.55"/>
<circle cx="478.6" cy="261.9" r="1.8" fill="#cc6cb0" opacity="0.55"/>
<circle cx="494.0" cy="282.6" r="1.8" fill="#c462aa" opacity="0.55"/>
<circle cx="481.9" cy="277.4" r="2.3" fill="#cc6cb0" opacity="0.55"/>
<circle cx="487.2" cy="267.7" r="2.3" fill="#cc6cb0" opacity="0.55"/>
<circle cx="487.1" cy="265.9" r="1.4" fill="#d884c0" opacity="0.55"/>
<circle cx="483.5" cy="267.5" r="2.5" fill="#da8ec4" opacity="0.55"/>
<circle cx="489.2" cy="279.4" r="2.5" fill="#da8ec4" opacity="0.55"/>
<circle cx="495.2" cy="277.5" r="2.2" fill="#cc6cb0" opacity="0.55"/>
<circle cx="487.8" cy="274.8" r="2.3" fill="#c05aa4" opacity="0.55"/>
<circle cx="491.8" cy="283.9" r="2.2" fill="#da8ec4" opacity="0.55"/>
<circle cx="475.2" cy="261.1" r="1.4" fill="#c462aa" opacity="0.55"/>
<circle cx="495.0" cy="262.0" r="1.8" fill="#d884c0" opacity="0.55"/>
<circle cx="487.4" cy="275.8" r="1.9" fill="#da8ec4" opacity="0.55"/>
<circle cx="481.0" cy="246.8" r="2.1" fill="#d8a8d4" opacity="0.7"/>
<circle cx="488.6" cy="242.4" r="3.0" fill="#d8a8d4" opacity="0.7"/>
<circle cx="463.4" cy="275.8" r="2.8" fill="#dcb0d8" opacity="0.7"/>
<circle cx="495.4" cy="252.0" r="2.8" fill="#dcb0d8" opacity="0.7"/>
<circle cx="485.8" cy="244.5" r="2.0" fill="#dcb0d8" opacity="0.7"/>
<circle cx="468.7" cy="256.7" r="2.9" fill="#dcb0d8" opacity="0.7"/>
<circle cx="503.0" cy="257.9" r="2.7" fill="#e8cce6" opacity="0.7"/>
<circle cx="478.2" cy="289.8" r="2.7" fill="#dcb0d8" opacity="0.7"/>
<circle cx="471.0" cy="286.4" r="2.0" fill="#e8cce6" opacity="0.7"/>
<circle cx="472.2" cy="245.0" r="3.0" fill="#e8cce6" opacity="0.7"/>
<circle cx="490.8" cy="244.6" r="2.3" fill="#d8a8d4" opacity="0.7"/>
<circle cx="473.5" cy="244.4" r="2.9" fill="#d8a8d4" opacity="0.7"/>
<circle cx="467.4" cy="281.0" r="2.9" fill="#dcb0d8" opacity="0.7"/>
<circle cx="491.6" cy="287.4" r="1.6" fill="#dcb0d8" opacity="0.7"/>
<circle cx="472.6" cy="249.9" r="2.4" fill="#e8cce6" opacity="0.7"/>
<circle cx="504.7" cy="267.7" r="2.8" fill="#dcb0d8" opacity="0.7"/>
<circle cx="497.2" cy="254.4" r="2.0" fill="#e8cce6" opacity="0.7"/>
<circle cx="491.4" cy="290.2" r="1.7" fill="#d8a8d4" opacity="0.7"/>
<circle cx="501.2" cy="272.1" r="3.0" fill="#e8cce6" opacity="0.7"/>
<circle cx="500.6" cy="277.9" r="2.0" fill="#dcb0d8" opacity="0.7"/>
<circle cx="463.3" cy="270.3" r="2.1" fill="#dcb0d8" opacity="0.7"/>
<circle cx="485.1" cy="291.0" r="1.8" fill="#dcb0d8" opacity="0.7"/>
<circle cx="466.8" cy="275.4" r="2.7" fill="#dcb0d8" opacity="0.7"/>
<circle cx="461.8" cy="271.0" r="1.8" fill="#d8a8d4" opacity="0.7"/>
<circle cx="482.2" cy="291.6" r="2.5" fill="#d8a8d4" opacity="0.7"/>
<path d="M431.2,253.9 432.9,256.6 434.2,257.2 436.2,257.3 438.5,256.1 439.8,252.1 439.2,250.7 438.1,249.6 436.5,248.9 434.9,249.0 433.3,249.6 431.7,251.4Z" fill="#c560a6"/>
<circle cx="436.1" cy="253.9" r="1.0" fill="#ce72b3" opacity="0.7"/>
<circle cx="435.4" cy="253.5" r="1.6" fill="#d177b7" opacity="0.7"/>
<path d="M489.3,213.9 491.7,219.9 494.8,219.6 497.0,217.2 497.1,215.9 493.2,212.0 491.1,212.3Z" fill="#be5c9f"/>
<circle cx="493.2" cy="217.1" r="1.6" fill="#d080ba" opacity="0.7"/>
<circle cx="491.3" cy="215.9" r="1.5" fill="#a94c93" opacity="0.7"/>
<path d="M410.4,197.5 408.5,203.1 409.0,203.9 412.5,205.0 415.7,201.6 413.8,196.6 411.8,196.7Z" fill="#b64a91"/>
<circle cx="412.6" cy="201.4" r="0.9" fill="#c160a2" opacity="0.7"/>
<circle cx="413.1" cy="201.5" r="1.6" fill="#c567a7" opacity="0.7"/>
<path d="M400.5,196.8 399.7,196.1 398.5,195.9 397.4,196.2 396.4,196.8 395.8,197.8 395.6,199.0 395.8,200.1 396.5,201.1 397.5,201.7 398.6,201.9 399.7,201.6 400.7,201.0Z" fill="#8d3c8f"/>
<path d="M403.0,254.4 407.8,250.8 407.9,250.1 407.4,248.7 401.6,246.3 399.8,248.1 399.6,251.5 400.9,253.3Z" fill="#cd6bb0"/>
<circle cx="402.4" cy="249.9" r="1.2" fill="#d880c0" opacity="0.7"/>
<circle cx="404.4" cy="251.5" r="1.0" fill="#db87c5" opacity="0.7"/>
<path d="M507.1,265.3 505.5,266.3 504.6,267.7 504.7,269.8 505.5,271.0 506.9,271.9 508.7,272.3 510.5,272.1 512.6,270.8 513.7,268.6 513.5,267.3 512.7,266.0Z" fill="#ae3e87"/>
<circle cx="509.4" cy="266.9" r="1.0" fill="#b85396" opacity="0.7"/>
<circle cx="507.6" cy="266.9" r="1.6" fill="#b74f94" opacity="0.7"/>
<path d="M431.5,243.0 433.3,242.5 435.6,237.9 434.6,236.3 432.3,235.4 429.1,236.2 428.0,237.3 427.4,238.7 427.5,240.2 428.2,241.5Z" fill="#d16eac"/>
<circle cx="432.0" cy="240.7" r="1.3" fill="#bc5ea0" opacity="0.7"/>
<circle cx="433.3" cy="239.4" r="1.5" fill="#db81ba" opacity="0.7"/>
<path d="M474.6,233.0 475.2,229.9 470.6,227.4 469.1,228.1 467.6,230.1 467.2,231.7 467.5,233.2 469.0,234.9 470.5,235.3 472.1,235.1Z" fill="#bf5a99"/>
<circle cx="472.5" cy="230.8" r="1.0" fill="#a94a8c" opacity="0.7"/>
<circle cx="471.4" cy="230.9" r="1.1" fill="#ca71aa" opacity="0.7"/>
<path d="M390.1,286.1 391.0,286.9 396.3,286.2 396.5,281.4 395.6,280.4 393.4,279.3 390.5,279.7Z" fill="#bd5696"/>
<ellipse cx="392.8" cy="283.5" rx="1.4" ry="1.7" fill="#ecadd5" opacity="0.85"/>
<circle cx="393.1" cy="285.0" r="1.0" fill="#9d3e83" opacity="0.7"/>
<circle cx="391.6" cy="283.5" r="1.4" fill="#cf7ab1" opacity="0.7"/>
<path d="M457.8,209.4 458.6,211.9 460.5,213.2 464.5,212.6 465.8,210.8 466.1,209.2 465.7,207.6 464.8,206.3 463.4,205.5 461.8,205.3 459.7,206.0Z" fill="#b85695"/>
<circle cx="462.9" cy="210.0" r="1.4" fill="#c46ea7" opacity="0.7"/>
<circle cx="463.4" cy="209.2" r="1.2" fill="#c977ae" opacity="0.7"/>
<path d="M394.7,209.9 395.2,209.5 395.4,206.5 393.6,205.0 391.4,204.9 390.1,209.1 391.7,210.2Z" fill="#934795"/>
<path d="M501.4,206.8 502.8,211.4 506.5,212.6 509.5,210.7 509.8,208.9 509.5,207.3 505.3,204.4 502.6,205.1Z" fill="#c058a2"/>
<circle cx="503.9" cy="209.6" r="1.1" fill="#ca6cb1" opacity="0.7"/>
<circle cx="505.4" cy="207.5" r="1.5" fill="#cd72b6" opacity="0.7"/>
<path d="M466.3,294.3 465.4,293.1 463.9,292.4 461.7,292.5 460.3,293.3 459.4,294.7 459.0,296.4 459.2,298.0 460.0,299.5 461.2,300.5 462.7,301.0 464.2,300.7 465.6,299.9 466.7,298.0Z" fill="#c1599c"/>
<circle cx="464.1" cy="295.5" r="1.6" fill="#af4c92" opacity="0.7"/>
<circle cx="464.6" cy="296.3" r="1.5" fill="#af4b91" opacity="0.7"/>
<path d="M388.0,241.4 392.4,237.6 391.9,235.7 388.0,233.8 384.3,235.8 384.0,236.9 385.0,239.9Z" fill="#ae408a"/>
<ellipse cx="388.3" cy="237.5" rx="1.3" ry="1.8" fill="#e4a6ce" opacity="0.85"/>
<circle cx="388.4" cy="237.1" r="1.4" fill="#be60a2" opacity="0.7"/>
<circle cx="387.0" cy="236.4" r="1.2" fill="#be61a3" opacity="0.7"/>
<path d="M446.5,294.6 447.9,292.6 447.9,290.5 444.8,287.9 441.0,288.9 440.4,291.7 441.8,294.5 443.2,295.2Z" fill="#c862a5"/>
<ellipse cx="444.2" cy="291.4" rx="1.7" ry="1.3" fill="#f0b3dc" opacity="0.85"/>
<circle cx="444.4" cy="292.6" r="1.5" fill="#b05097" opacity="0.7"/>
<circle cx="443.7" cy="291.9" r="1.2" fill="#d780bb" opacity="0.7"/>
<path d="M404.8,224.5 405.2,225.6 409.0,227.0 410.5,224.6 409.7,222.2 409.3,221.9 406.2,221.9Z" fill="#8b4091"/>
<path d="M435.5,204.0 440.5,205.8 441.7,205.2 442.6,203.8 443.1,202.1 441.3,198.2 439.3,197.4 437.0,198.0 435.1,202.1Z" fill="#bf589d"/>
<circle cx="438.3" cy="203.0" r="1.5" fill="#c96cac" opacity="0.7"/>
<circle cx="439.6" cy="203.4" r="1.4" fill="#cb6fae" opacity="0.7"/>
<path d="M457.1,255.4 459.0,255.7 461.1,254.4 461.6,252.8 461.3,251.8 460.6,250.9 458.4,250.2 456.8,250.8 456.0,253.6Z" fill="#772579"/>
<path d="M411.6,241.9 411.1,246.0 411.3,246.4 412.2,246.9 415.0,246.1 415.9,243.4 415.4,242.3 414.4,241.6 413.3,241.3Z" fill="#803084"/>
<path d="M429.3,278.8 428.0,278.3 426.7,278.5 426.0,278.9 424.6,280.7 424.6,282.4 425.6,283.8 426.6,284.3 427.8,284.4 429.0,284.0 430.0,283.2 430.4,282.2Z" fill="#813587"/>
<path d="M486.2,202.9 486.5,204.0 488.3,205.8 490.0,206.4 492.0,206.3 493.3,200.4 491.8,199.0 489.5,198.4Z" fill="#c761a3"/>
<ellipse cx="490.3" cy="202.6" rx="1.3" ry="1.3" fill="#ebb1d8" opacity="0.85"/>
<circle cx="490.9" cy="204.0" r="1.6" fill="#af4f95" opacity="0.7"/>
<circle cx="490.4" cy="202.9" r="1.1" fill="#b15096" opacity="0.7"/>
<path d="M383.5,272.8 382.7,273.7 382.5,274.8 382.7,275.9 383.5,276.8 385.1,277.4 386.3,277.4 387.5,276.8 388.3,276.0 388.7,275.0 388.7,273.9 387.8,272.4 387.3,272.2Z" fill="#7c2e85"/>
<path d="M506.8,236.7 508.0,237.8 509.5,238.2 512.3,237.2 513.6,234.5 512.7,231.7 510.0,230.4 507.2,231.3 506.1,232.9Z" fill="#bb4c93"/>
<circle cx="509.2" cy="233.6" r="1.2" fill="#a43b86" opacity="0.7"/>
<circle cx="508.5" cy="233.0" r="1.7" fill="#9b3481" opacity="0.7"/>
<path d="M405.4,211.3 405.9,211.9 411.1,212.7 413.0,209.6 412.0,206.5 408.7,205.1 406.7,205.8 406.0,206.7Z" fill="#c661a5"/>
<ellipse cx="409.5" cy="209.2" rx="1.3" ry="1.8" fill="#f0b3d8" opacity="0.85"/>
<circle cx="408.9" cy="210.0" r="1.5" fill="#d57ebb" opacity="0.7"/>
<circle cx="408.0" cy="208.5" r="1.6" fill="#d47eba" opacity="0.7"/>
<path d="M403.4,260.6 403.1,264.7 406.0,267.3 407.7,267.2 409.7,265.9 410.7,263.0 409.7,260.8 405.0,259.6Z" fill="#c85ca2"/>
<ellipse cx="407.0" cy="263.6" rx="1.4" ry="1.8" fill="#ebafd4" opacity="0.85"/>
<circle cx="408.1" cy="264.5" r="1.6" fill="#a4418d" opacity="0.7"/>
<circle cx="406.4" cy="261.7" r="1.0" fill="#ab4691" opacity="0.7"/>
<path d="M419.4,265.9 420.8,266.5 423.6,264.7 423.5,262.6 422.1,261.1 418.4,262.7 418.4,264.6Z" fill="#8a3b8d"/>
<path d="M459.1,215.6 461.9,221.4 466.0,219.0 465.9,214.5 465.3,213.8 460.1,214.4Z" fill="#c564a4"/>
<circle cx="463.8" cy="216.8" r="1.1" fill="#a54c91" opacity="0.7"/>
<circle cx="464.7" cy="216.9" r="1.1" fill="#d583bb" opacity="0.7"/>
<path d="M417.2,299.5 418.6,300.1 420.3,299.9 421.9,299.0 423.0,297.6 423.5,296.1 423.4,294.4 422.6,292.9 421.3,291.9 419.7,291.4 418.0,291.6 416.4,292.5 415.3,293.8Z" fill="#cd69ad"/>
<ellipse cx="419.7" cy="296.1" rx="1.3" ry="1.7" fill="#eaaed4" opacity="0.85"/>
<circle cx="418.0" cy="296.6" r="1.5" fill="#dd89c5" opacity="0.7"/>
<circle cx="420.6" cy="295.3" r="1.4" fill="#b758a0" opacity="0.7"/>
<path d="M445.4,286.6 448.8,289.9 449.8,289.9 451.5,288.7 452.0,284.2 449.8,282.0 447.0,282.3Z" fill="#b85398"/>
<ellipse cx="449.2" cy="285.6" rx="1.5" ry="1.9" fill="#e5a8d1" opacity="0.85"/>
<circle cx="448.1" cy="285.9" r="1.3" fill="#9e4089" opacity="0.7"/>
<circle cx="450.2" cy="286.7" r="1.7" fill="#a3438c" opacity="0.7"/>
<path d="M444.7,231.1 446.5,231.2 449.5,229.0 449.7,226.3 448.3,223.9 442.9,223.4 441.6,224.8 441.4,227.2Z" fill="#cb59a7"/>
<ellipse cx="445.8" cy="226.5" rx="1.6" ry="1.4" fill="#e2a3cb" opacity="0.85"/>
<circle cx="446.0" cy="228.2" r="1.7" fill="#b5489a" opacity="0.7"/>
<circle cx="447.0" cy="226.4" r="1.4" fill="#ae4396" opacity="0.7"/>
<path d="M418.6,241.4 424.3,242.6 425.3,241.3 425.7,239.7 425.6,238.0 424.8,236.4 420.5,234.9 419.3,235.4 418.3,236.7 417.8,238.3Z" fill="#ae4187"/>
<circle cx="420.3" cy="237.9" r="1.7" fill="#932d77" opacity="0.7"/>
<circle cx="421.3" cy="240.3" r="1.1" fill="#8d2874" opacity="0.7"/>
<path d="M449.8,291.1 449.2,294.0 450.7,297.0 452.1,297.9 453.6,298.2 455.7,297.4 457.0,294.7 456.3,291.9 452.2,290.0Z" fill="#cc65ad"/>
<circle cx="454.0" cy="293.5" r="1.7" fill="#ab4c9a" opacity="0.7"/>
<circle cx="452.9" cy="295.5" r="1.3" fill="#d87cbe" opacity="0.7"/>
<path d="M390.2,220.3 389.8,226.0 394.2,226.9 396.7,224.1 395.3,220.5 390.8,220.0Z" fill="#b24692"/>
<ellipse cx="393.0" cy="224.0" rx="1.6" ry="1.4" fill="#ebadd8" opacity="0.85"/>
<circle cx="394.7" cy="225.1" r="1.5" fill="#c368ac" opacity="0.7"/>
<circle cx="392.9" cy="224.4" r="1.1" fill="#983383" opacity="0.7"/>
<path d="M389.5,244.3 390.3,245.9 391.1,246.4 396.4,245.4 397.1,244.2 397.2,242.5 393.6,238.5 389.4,241.9Z" fill="#be5d9d"/>
<circle cx="392.0" cy="243.4" r="1.6" fill="#ce7eb5" opacity="0.7"/>
<circle cx="394.4" cy="244.4" r="1.1" fill="#cc7ab3" opacity="0.7"/>
<path d="M479.0,227.5 479.2,227.9 483.3,228.8 484.0,228.0 483.7,224.3 481.9,223.3 479.9,223.6Z" fill="#7d2a80"/>
<path d="M416.5,265.9 413.8,265.5 412.2,266.1 410.9,267.1 410.2,268.5 410.2,270.0 410.9,271.4 412.0,272.5 413.6,273.1 415.4,273.2 416.7,272.7 418.4,271.2 418.9,268.8Z" fill="#b74a93"/>
<ellipse cx="414.0" cy="269.1" rx="1.8" ry="1.8" fill="#efb0d7" opacity="0.85"/>
<circle cx="414.9" cy="269.0" r="1.2" fill="#95317f" opacity="0.7"/>
<circle cx="414.9" cy="269.4" r="1.3" fill="#c363a6" opacity="0.7"/>
<path d="M451.2,208.1 456.3,209.7 459.0,204.5 454.1,201.0 452.7,201.3 451.3,202.3 450.3,204.6 450.4,206.2Z" fill="#bf4e97"/>
<ellipse cx="454.6" cy="206.0" rx="1.9" ry="1.8" fill="#e8add3" opacity="0.85"/>
<circle cx="454.4" cy="205.7" r="1.5" fill="#ae418d" opacity="0.7"/>
<circle cx="453.5" cy="204.8" r="1.3" fill="#cd6aac" opacity="0.7"/>
<path d="M399.2,297.3 402.0,297.8 405.0,296.3 406.1,294.1 405.9,292.6 405.1,291.5 403.7,290.5 402.0,290.2 399.0,290.9 397.5,294.1Z" fill="#c05a9d"/>
<ellipse cx="401.6" cy="293.5" rx="1.6" ry="1.6" fill="#ebaed8" opacity="0.85"/>
<circle cx="399.9" cy="292.3" r="1.2" fill="#ca6dab" opacity="0.7"/>
<circle cx="400.8" cy="294.6" r="1.4" fill="#ce76b2" opacity="0.7"/>
<path d="M412.5,224.0 413.1,224.5 417.9,224.7 418.9,223.5 419.3,222.1 418.5,219.2 417.1,218.1 414.4,217.9 413.0,218.5 412.0,219.6 411.6,221.0Z" fill="#b8589e"/>
<circle cx="413.8" cy="222.6" r="0.9" fill="#c674b3" opacity="0.7"/>
<circle cx="415.3" cy="221.0" r="1.2" fill="#c673b2" opacity="0.7"/>
<path d="M424.8,235.0 426.6,234.1 427.7,232.7 426.0,227.3 425.0,226.9 423.3,227.2 421.7,228.1 420.5,229.5 419.8,231.8 420.6,233.7Z" fill="#b75496"/>
<circle cx="422.7" cy="231.7" r="1.6" fill="#c36ba7" opacity="0.7"/>
<circle cx="424.7" cy="231.7" r="1.3" fill="#c066a3" opacity="0.7"/>
<path d="M392.4,293.0 395.8,292.8 396.8,290.3 395.8,288.5 391.4,289.0 390.9,290.6Z" fill="#85348c"/>
<path d="M482.7,240.0 483.9,240.7 485.6,240.9 487.2,240.5 488.5,239.5 489.6,236.6 489.3,235.1 488.4,233.8 486.2,232.8 484.4,233.1 481.7,237.0Z" fill="#b84896"/>
<ellipse cx="486.0" cy="236.9" rx="1.5" ry="1.5" fill="#e6abd5" opacity="0.85"/>
<circle cx="484.6" cy="235.9" r="1.4" fill="#c767ad" opacity="0.7"/>
<circle cx="484.2" cy="236.7" r="1.1" fill="#c96aaf" opacity="0.7"/>
<path d="M468.2,245.0 469.6,246.2 471.4,246.4 473.0,245.7 473.7,244.2 472.1,241.2 470.1,240.9 468.3,241.9Z" fill="#762e7c"/>
<path d="M474.9,202.4 479.3,202.2 479.9,201.5 480.0,195.6 478.8,194.5 477.2,194.1 475.5,194.4 474.0,195.3 473.0,196.6 472.6,198.3 472.9,200.0Z" fill="#c95fa4"/>
<circle cx="476.6" cy="199.2" r="1.0" fill="#d97fbc" opacity="0.7"/>
<circle cx="477.6" cy="197.8" r="1.1" fill="#b44f98" opacity="0.7"/>
<path d="M419.6,252.7 423.0,256.2 427.2,252.8 427.0,251.5 424.3,248.9 420.2,250.7Z" fill="#c35da0"/>
<ellipse cx="423.1" cy="252.9" rx="1.3" ry="1.4" fill="#e6acd5" opacity="0.85"/>
<circle cx="424.4" cy="253.7" r="1.5" fill="#ab4b92" opacity="0.7"/>
<circle cx="421.9" cy="252.1" r="1.0" fill="#d37db8" opacity="0.7"/>
<path d="M395.1,238.1 397.7,241.3 399.0,241.7 400.6,241.5 401.9,240.8 402.8,239.6 403.1,238.1 402.0,235.3 399.2,233.9 397.6,234.1 396.3,234.9 395.3,236.0Z" fill="#ab3d8a"/>
<ellipse cx="399.6" cy="237.3" rx="1.6" ry="1.7" fill="#e0a8d0" opacity="0.85"/>
<circle cx="397.6" cy="238.9" r="1.5" fill="#b6549b" opacity="0.7"/>
<circle cx="399.3" cy="238.0" r="1.4" fill="#972e7e" opacity="0.7"/>
<path d="M443.6,260.9 443.0,262.6 443.1,264.2 443.9,265.6 445.2,266.7 446.9,267.1 448.5,266.9 450.1,266.0 451.1,264.7 451.4,262.7 447.6,259.3Z" fill="#b44f98"/>
<ellipse cx="447.3" cy="263.1" rx="1.8" ry="1.8" fill="#efb2dc" opacity="0.85"/>
<circle cx="446.0" cy="263.9" r="1.4" fill="#bf66a9" opacity="0.7"/>
<circle cx="446.2" cy="262.1" r="1.6" fill="#bd61a5" opacity="0.7"/>
<path d="M420.9,214.5 422.6,215.3 424.2,215.2 425.5,214.5 426.5,213.1 426.7,212.1 424.9,207.7 423.8,207.0 422.2,206.9 419.6,210.0Z" fill="#b0448e"/>
<ellipse cx="423.0" cy="211.3" rx="1.8" ry="1.8" fill="#ecb0d6" opacity="0.85"/>
<circle cx="423.9" cy="212.5" r="1.2" fill="#932e7d" opacity="0.7"/>
<circle cx="422.1" cy="212.4" r="1.0" fill="#bb5a9e" opacity="0.7"/>
<path d="M481.1,210.1 483.5,213.8 484.0,214.0 487.5,213.1 488.7,211.2 488.8,209.5 487.9,207.3 485.9,205.8 484.1,205.5 482.7,206.1Z" fill="#c450a0"/>
<ellipse cx="484.9" cy="209.7" rx="1.6" ry="1.4" fill="#e3a9ce" opacity="0.85"/>
<circle cx="484.9" cy="208.3" r="1.6" fill="#b14195" opacity="0.7"/>
<circle cx="484.7" cy="208.6" r="1.6" fill="#aa3d91" opacity="0.7"/>
<path d="M387.5,209.5 388.0,209.1 389.4,203.8 383.2,202.1 381.6,204.4 381.4,206.1 381.9,207.8 383.3,209.2Z" fill="#cf63ab"/>
<circle cx="384.7" cy="205.6" r="1.6" fill="#b6509c" opacity="0.7"/>
<circle cx="385.3" cy="206.6" r="1.3" fill="#bb54a0" opacity="0.7"/>
<path d="M431.0,276.8 432.6,282.5 433.2,283.0 436.7,283.1 439.5,279.0 438.5,276.3 436.2,274.8Z" fill="#c963aa"/>
<circle cx="436.4" cy="277.6" r="1.0" fill="#a64895" opacity="0.7"/>
<circle cx="433.5" cy="278.4" r="1.5" fill="#d880c0" opacity="0.7"/>
<path d="M402.4,245.0 408.3,247.5 409.1,246.7 409.5,241.1 406.4,239.6 404.6,240.1 402.8,241.9Z" fill="#b9569c"/>
<ellipse cx="406.9" cy="243.4" rx="1.8" ry="1.8" fill="#e4a9ce" opacity="0.85"/>
<circle cx="406.4" cy="244.2" r="1.4" fill="#a44690" opacity="0.7"/>
<circle cx="406.4" cy="245.3" r="1.5" fill="#a2458e" opacity="0.7"/>
<path d="M405.1,281.0 405.9,286.7 407.3,287.1 408.9,287.0 410.4,286.3 411.6,285.0 412.1,283.1 409.1,279.1 406.4,279.8Z" fill="#bf5ba1"/>
<ellipse cx="408.6" cy="282.5" rx="1.7" ry="1.8" fill="#ebaed7" opacity="0.85"/>
<circle cx="407.1" cy="282.1" r="1.6" fill="#ce79b8" opacity="0.7"/>
<circle cx="406.7" cy="282.2" r="1.1" fill="#a1448f" opacity="0.7"/>
<path d="M499.9,240.0 499.2,240.9 498.9,243.1 499.5,245.0 501.4,246.7 502.9,247.1 504.5,246.8 507.3,241.3 506.9,239.9 505.9,239.1Z" fill="#c655a0"/>
<circle cx="503.7" cy="244.0" r="1.0" fill="#a43b8c" opacity="0.7"/>
<circle cx="502.7" cy="243.4" r="1.6" fill="#cf68ae" opacity="0.7"/>
<path d="M425.1,274.2 426.6,274.0 427.6,273.3 428.2,268.3 427.5,267.2 425.5,266.2 421.3,268.5 420.8,269.7 421.1,271.3Z" fill="#b75498"/>
<circle cx="423.3" cy="269.4" r="1.7" fill="#c36ba9" opacity="0.7"/>
<circle cx="425.7" cy="270.2" r="1.0" fill="#c167a7" opacity="0.7"/>
<path d="M493.8,228.8 490.3,231.5 490.1,233.3 491.3,235.2 492.8,236.1 494.7,236.4 496.4,236.1 497.2,235.6 498.8,230.9 496.5,229.0Z" fill="#be4e93"/>
<ellipse cx="494.7" cy="232.0" rx="1.4" ry="1.7" fill="#f1b4da" opacity="0.85"/>
<circle cx="494.0" cy="233.8" r="1.1" fill="#c963a3" opacity="0.7"/>
<circle cx="494.1" cy="233.8" r="1.3" fill="#cd6ba9" opacity="0.7"/>
<path d="M444.9,200.9 445.8,201.5 446.8,201.6 447.9,201.2 448.8,200.4 449.4,198.1 449.2,197.0 448.2,195.8 446.6,195.5 444.7,196.7 444.0,198.8Z" fill="#742a7a"/>
<path d="M460.3,225.2 456.1,226.2 455.9,228.2 456.3,229.4 457.2,230.4 461.4,228.9 461.4,226.9Z" fill="#84348d"/>
<path d="M431.0,217.1 434.2,216.2 434.6,213.7 432.8,212.3 429.4,213.6 429.5,215.6Z" fill="#631d6d"/>
<path d="M447.5,232.9 449.5,238.0 452.0,238.1 454.7,235.6 454.5,232.8 452.5,230.8 449.5,230.9Z" fill="#c15da2"/>
<ellipse cx="451.4" cy="234.2" rx="1.4" ry="1.6" fill="#e1a7cb" opacity="0.85"/>
<circle cx="449.8" cy="234.8" r="1.7" fill="#d27fbb" opacity="0.7"/>
<circle cx="450.1" cy="234.4" r="1.4" fill="#ca70b0" opacity="0.7"/>
<path d="M429.5,220.5 428.8,218.9 427.7,218.0 424.8,217.6 422.5,219.4 422.2,222.3 424.0,224.6 426.9,224.9 429.2,223.1Z" fill="#be4f97"/>
<ellipse cx="426.2" cy="221.8" rx="1.5" ry="1.5" fill="#e4a4cd" opacity="0.85"/>
<circle cx="424.8" cy="220.5" r="1.2" fill="#cf72b1" opacity="0.7"/>
<circle cx="427.4" cy="222.5" r="1.0" fill="#cb68aa" opacity="0.7"/>
<path d="M389.9,202.6 390.9,202.2 391.9,200.1 391.9,198.3 391.1,196.7 389.8,195.4 388.1,194.8 386.4,194.7 384.9,195.4 383.8,196.6 383.3,198.0 383.8,200.9Z" fill="#be5a9d"/>
<ellipse cx="387.0" cy="199.3" rx="1.7" ry="1.5" fill="#e7a9d4" opacity="0.85"/>
<circle cx="387.5" cy="198.5" r="1.5" fill="#d07db8" opacity="0.7"/>
<circle cx="386.7" cy="197.7" r="1.1" fill="#c76dab" opacity="0.7"/>
<path d="M435.5,267.0 435.3,267.6 437.0,271.8 439.9,272.3 441.2,271.7 442.2,270.6 442.7,269.2 442.5,267.7 440.7,265.2 438.7,264.7Z" fill="#ca57a4"/>
<ellipse cx="439.0" cy="268.8" rx="1.7" ry="1.9" fill="#f2b4dd" opacity="0.85"/>
<circle cx="437.9" cy="268.2" r="1.4" fill="#d873b9" opacity="0.7"/>
<circle cx="440.3" cy="268.7" r="1.2" fill="#d874b9" opacity="0.7"/>
<path d="M456.4,270.1 458.0,270.7 460.1,270.2 461.4,269.1 462.4,266.9 462.2,265.0 458.2,262.4 457.1,262.6 455.8,263.7 454.8,266.0 455.0,268.4Z" fill="#bf5a9c"/>
<ellipse cx="458.3" cy="266.0" rx="1.6" ry="1.8" fill="#edb1d9" opacity="0.85"/>
<circle cx="457.6" cy="267.5" r="1.2" fill="#cd76b1" opacity="0.7"/>
<circle cx="458.0" cy="268.0" r="1.3" fill="#cb71ad" opacity="0.7"/>
<path d="M503.8,295.0 502.6,294.2 501.1,294.1 498.3,295.4 497.1,298.4 498.1,301.0 499.4,301.8 500.8,301.9 503.7,300.6 504.9,298.0Z" fill="#c866a9"/>
<circle cx="502.7" cy="298.8" r="1.5" fill="#d886c1" opacity="0.7"/>
<circle cx="501.7" cy="297.1" r="1.2" fill="#a94f97" opacity="0.7"/>
<path d="M391.6,252.4 397.1,253.1 398.5,251.2 398.6,249.2 398.0,247.8 396.3,246.6 391.3,247.7 390.5,250.1Z" fill="#ca59a0"/>
<circle cx="395.0" cy="249.7" r="1.0" fill="#a8408c" opacity="0.7"/>
<circle cx="394.4" cy="251.2" r="1.1" fill="#d46cae" opacity="0.7"/>
<path d="M387.4,226.8 388.5,226.0 388.8,219.8 387.7,219.1 383.1,219.3 381.9,220.4 381.1,222.1 381.0,223.9 381.6,225.5Z" fill="#cb62a9"/>
<circle cx="387.1" cy="224.4" r="1.4" fill="#dd85c3" opacity="0.7"/>
<circle cx="386.5" cy="223.9" r="1.0" fill="#a94895" opacity="0.7"/>
<path d="M408.5,251.9 404.4,255.0 404.2,256.6 405.3,258.6 409.8,259.5 411.8,257.5 412.2,255.3 410.3,252.4Z" fill="#c362a0"/>
<circle cx="407.9" cy="256.5" r="1.6" fill="#ab5092" opacity="0.7"/>
<circle cx="408.3" cy="257.1" r="1.0" fill="#cb73ad" opacity="0.7"/>
<path d="M422.3,204.8 423.7,205.8 425.2,206.0 429.4,203.0 426.5,197.9 424.0,198.2 421.6,203.0Z" fill="#ca65a2"/>
<circle cx="424.2" cy="201.5" r="1.1" fill="#d881b7" opacity="0.7"/>
<circle cx="424.3" cy="202.6" r="1.4" fill="#ae5092" opacity="0.7"/>
<path d="M454.2,255.0 448.9,255.2 448.1,257.9 452.9,262.3 454.8,261.3 456.0,259.1 456.0,257.4Z" fill="#c05da0"/>
<ellipse cx="451.6" cy="257.6" rx="1.5" ry="1.7" fill="#e2a7cf" opacity="0.85"/>
<circle cx="450.6" cy="259.4" r="1.4" fill="#cf7bb7" opacity="0.7"/>
<circle cx="451.2" cy="258.4" r="1.6" fill="#cd77b4" opacity="0.7"/>
<path d="M506.2,258.2 511.4,256.5 511.8,255.1 511.5,253.6 509.3,251.4 506.3,251.2 505.0,252.0 504.1,253.1 503.8,254.6 504.1,256.0Z" fill="#b7529a"/>
<circle cx="508.9" cy="254.6" r="1.1" fill="#9f408c" opacity="0.7"/>
<circle cx="509.3" cy="253.9" r="1.5" fill="#a1418d" opacity="0.7"/>
<path d="M431.7,262.2 431.6,263.5 432.0,264.6 434.3,265.3 437.2,263.3 437.5,262.3 437.2,260.9 436.3,259.8 433.9,259.5 433.2,259.8Z" fill="#692173"/>
<path d="M386.9,216.9 387.5,216.5 388.0,212.5 387.1,211.6 383.2,211.5 382.3,212.5 381.9,213.7 382.0,215.0 382.6,216.1 383.7,217.0Z" fill="#772b83"/>
<path d="M507.4,290.7 505.5,292.2 504.8,294.6 506.4,298.4 507.9,299.1 510.3,299.0 511.7,298.1 512.6,296.7 513.0,294.9 512.8,293.2 511.9,291.7 510.6,290.7Z" fill="#bd589a"/>
<circle cx="507.4" cy="294.2" r="1.4" fill="#c970ac" opacity="0.7"/>
<circle cx="510.2" cy="293.8" r="1.6" fill="#a2448a" opacity="0.7"/>
<path d="M394.7,263.5 397.5,266.0 401.5,264.5 402.1,259.8 400.4,258.3 398.9,258.1 394.7,261.6Z" fill="#c25d9e"/>
<circle cx="397.7" cy="264.1" r="1.1" fill="#cd73af" opacity="0.7"/>
<circle cx="399.0" cy="261.9" r="1.6" fill="#a94a90" opacity="0.7"/>
<path d="M467.1,219.0 471.1,221.2 474.1,219.4 474.5,218.2 473.1,214.9 470.8,213.6 468.9,213.4 467.0,214.3Z" fill="#c7539d"/>
<ellipse cx="470.1" cy="217.1" rx="1.9" ry="1.4" fill="#e0a4ce" opacity="0.85"/>
<circle cx="469.8" cy="217.3" r="1.2" fill="#b44492" opacity="0.7"/>
<circle cx="469.2" cy="218.4" r="1.2" fill="#d671b4" opacity="0.7"/>
<path d="M467.9,298.5 469.9,299.9 472.3,299.9 475.4,294.4 474.8,292.8 473.4,291.7 471.6,291.1 469.8,291.3 468.2,292.2 467.3,293.4Z" fill="#c363a5"/>
<circle cx="471.9" cy="295.9" r="1.5" fill="#cd77b4" opacity="0.7"/>
<circle cx="472.1" cy="294.9" r="1.3" fill="#9f4890" opacity="0.7"/>
<path d="M390.8,268.8 391.6,270.7 393.0,271.6 395.8,270.2 396.2,267.7 394.0,265.9 391.0,267.9Z" fill="#621e6d"/>
<path d="M405.7,235.9 405.8,237.1 407.0,238.4 410.3,239.7 413.4,238.8 414.5,236.8 414.3,235.3 413.5,233.9 412.0,232.7 410.0,232.1Z" fill="#c25ba0"/>
<circle cx="409.6" cy="235.6" r="1.4" fill="#ab4a93" opacity="0.7"/>
<circle cx="411.3" cy="236.8" r="1.2" fill="#9f418b" opacity="0.7"/>
<path d="M481.2,295.9 481.8,300.8 482.2,301.3 485.1,301.9 487.6,300.3 488.2,298.9 488.1,297.4 486.5,294.9 483.6,294.4Z" fill="#c761a5"/>
<ellipse cx="483.8" cy="298.5" rx="1.8" ry="1.8" fill="#e1a6cb" opacity="0.85"/>
<circle cx="482.7" cy="297.8" r="1.3" fill="#ac4d95" opacity="0.7"/>
<circle cx="485.4" cy="299.1" r="1.5" fill="#a94a93" opacity="0.7"/>
<path d="M402.2,213.1 404.3,211.7 404.7,206.0 403.5,204.7 402.0,204.0 398.9,204.6 397.7,206.1 397.4,209.5 397.9,211.0 399.1,212.3 400.6,213.1Z" fill="#d56fb3"/>
<ellipse cx="401.6" cy="208.0" rx="1.9" ry="1.8" fill="#e7a8d5" opacity="0.85"/>
<circle cx="402.2" cy="208.7" r="1.4" fill="#e692cd" opacity="0.7"/>
<circle cx="401.2" cy="208.7" r="1.6" fill="#b557a0" opacity="0.7"/>
<path d="M475.5,243.3 476.7,243.9 478.2,244.0 480.3,242.9 481.5,240.3 480.6,237.9 476.5,236.5 474.8,237.4 473.7,239.6Z" fill="#b9468d"/>
<ellipse cx="477.4" cy="240.1" rx="1.6" ry="1.4" fill="#e1a6ce" opacity="0.85"/>
<circle cx="477.4" cy="241.3" r="1.1" fill="#a1347f" opacity="0.7"/>
<circle cx="476.6" cy="240.3" r="1.3" fill="#a33580" opacity="0.7"/>
<path d="M434.8,294.0 430.6,292.4 429.0,293.1 427.7,294.5 427.0,296.1 426.9,297.9 427.8,300.0 430.0,301.1 431.6,300.9 433.1,300.1Z" fill="#b94c94"/>
<ellipse cx="431.4" cy="296.7" rx="1.8" ry="1.8" fill="#e0a7cb" opacity="0.85"/>
<circle cx="430.5" cy="298.0" r="1.4" fill="#973280" opacity="0.7"/>
<circle cx="431.5" cy="296.6" r="1.3" fill="#c86aab" opacity="0.7"/>
<path d="M456.5,237.4 455.8,237.5 453.1,240.2 453.4,241.4 454.2,242.3 455.3,243.0 456.6,243.2 457.3,243.0 459.1,239.6Z" fill="#853588"/>
<path d="M441.8,210.7 444.3,213.6 446.8,213.8 450.3,208.6 449.3,206.6 448.4,205.9 446.9,205.3 445.2,205.3 443.6,206.1 442.4,207.3 441.9,208.5Z" fill="#b8579c"/>
<ellipse cx="445.6" cy="209.7" rx="1.8" ry="1.8" fill="#f0b2d9" opacity="0.85"/>
<circle cx="447.6" cy="210.4" r="1.4" fill="#9a418b" opacity="0.7"/>
<circle cx="447.0" cy="209.0" r="1.0" fill="#c673b1" opacity="0.7"/>
<path d="M460.6,288.2 461.9,288.9 463.5,288.9 465.1,288.4 466.2,287.4 466.9,285.1 466.5,283.7 465.5,282.4 463.9,281.6 459.5,282.4 459.1,283.3Z" fill="#b15091"/>
<circle cx="462.4" cy="284.7" r="1.4" fill="#bb64a0" opacity="0.7"/>
<circle cx="463.8" cy="285.1" r="1.5" fill="#973c82" opacity="0.7"/>
<path d="M473.3,204.8 472.7,203.9 471.8,203.4 470.7,203.3 469.6,203.6 468.3,205.3 468.6,207.4 470.2,208.7 472.3,208.4 472.7,208.0Z" fill="#7b2d86"/>
<path d="M434.9,292.8 436.2,292.2 437.3,290.8 437.7,287.3 436.1,284.5 432.7,284.0 430.6,285.9 430.2,289.4 431.2,291.5Z" fill="#d26fb5"/>
<circle cx="435.5" cy="287.1" r="1.3" fill="#dd86c6" opacity="0.7"/>
<circle cx="434.6" cy="289.0" r="1.3" fill="#e492cf" opacity="0.7"/>
<path d="M438.6,286.1 440.6,287.7 444.0,286.8 445.5,282.3 442.1,280.0 440.0,280.4 438.0,283.4Z" fill="#ce61ac"/>
<ellipse cx="442.5" cy="283.8" rx="1.5" ry="1.5" fill="#e7abd1" opacity="0.85"/>
<circle cx="442.6" cy="284.5" r="1.6" fill="#b04b9b" opacity="0.7"/>
<circle cx="441.7" cy="284.4" r="1.4" fill="#d976bc" opacity="0.7"/>
<path d="M387.6,260.4 386.7,261.5 386.5,262.6 389.2,265.5 389.7,265.5 392.3,263.6 392.3,262.0 389.4,260.0Z" fill="#87398b"/>
<path d="M402.5,273.6 402.2,274.9 402.5,276.4 404.5,278.4 406.1,278.7 407.7,278.3 409.4,276.4 409.3,273.5 407.3,271.5 405.6,271.3Z" fill="#c662a8"/>
<circle cx="405.6" cy="275.1" r="1.6" fill="#a24793" opacity="0.7"/>
<circle cx="406.2" cy="273.9" r="1.6" fill="#d581bf" opacity="0.7"/>
<path d="M452.7,283.4 458.0,282.3 458.5,280.9 456.7,276.7 455.7,276.4 451.2,278.2 450.8,281.0Z" fill="#c764a6"/>
<circle cx="454.4" cy="278.8" r="1.6" fill="#b2549a" opacity="0.7"/>
<circle cx="454.9" cy="279.7" r="1.5" fill="#d682bc" opacity="0.7"/>
<path d="M448.7,250.0 448.5,251.6 449.3,253.0 453.0,253.0 453.3,252.7 454.2,249.6 453.1,248.2 451.5,247.8Z" fill="#863588"/>
<path d="M489.5,298.3 492.0,299.8 493.7,299.9 495.2,299.2 495.8,298.6 496.9,294.9 496.3,293.4 495.1,292.2 493.6,291.6 491.9,291.6 490.4,292.2 489.2,293.3 488.6,294.9Z" fill="#c35c9d"/>
<circle cx="492.1" cy="294.7" r="1.5" fill="#a14389" opacity="0.7"/>
<circle cx="491.3" cy="295.0" r="1.6" fill="#b04e92" opacity="0.7"/>
<path d="M419.1,279.9 420.3,280.2 422.8,279.4 424.7,277.1 424.9,276.0 424.7,275.3 420.0,272.1 418.4,272.8 416.9,274.4Z" fill="#be529e"/>
<circle cx="421.3" cy="276.1" r="1.3" fill="#ab4493" opacity="0.7"/>
<circle cx="421.8" cy="277.1" r="1.1" fill="#ab4393" opacity="0.7"/>
<path d="M443.0,242.5 442.5,245.4 443.1,246.8 444.3,247.9 447.2,248.4 450.0,246.2 450.2,243.8 448.4,241.4 447.1,240.9 443.8,241.7Z" fill="#d168ae"/>
<ellipse cx="446.9" cy="244.4" rx="1.7" ry="1.5" fill="#e3a8d1" opacity="0.85"/>
<circle cx="445.6" cy="245.1" r="1.2" fill="#e086c4" opacity="0.7"/>
<circle cx="447.4" cy="243.5" r="1.2" fill="#e086c5" opacity="0.7"/>
<path d="M463.9,201.1 464.9,201.7 466.3,201.8 468.7,200.2 469.2,198.4 468.5,196.7 467.5,195.9 466.3,195.6 465.0,195.8 463.9,196.4Z" fill="#65206d"/>
<path d="M458.9,201.9 459.9,201.8 461.1,201.1 461.0,197.2 460.3,196.5 458.7,196.1 457.6,196.4 456.7,197.1 456.2,198.1 456.1,199.2 456.4,200.2Z" fill="#7e2f83"/>
<path d="M402.6,232.0 403.6,233.3 405.3,233.6 408.0,231.1 407.9,229.7 404.0,228.2 403.5,228.6Z" fill="#8e4494"/>
<path d="M387.2,248.6 388.7,245.9 387.9,242.8 384.1,240.8 382.0,241.5 380.8,242.7 380.2,244.4 380.3,246.3 381.0,247.9 383.3,249.6Z" fill="#ba589c"/>
<circle cx="383.5" cy="244.4" r="1.2" fill="#c36aa9" opacity="0.7"/>
<circle cx="383.3" cy="246.1" r="1.6" fill="#a74a91" opacity="0.7"/>
<path d="M501.5,221.4 500.0,221.9 498.7,223.2 498.0,225.6 498.3,227.4 499.2,229.0 500.5,230.1 503.9,230.1 505.5,228.7 506.1,226.9 504.3,222.1Z" fill="#c963a5"/>
<ellipse cx="502.0" cy="225.8" rx="1.6" ry="1.4" fill="#efb3d7" opacity="0.85"/>
<circle cx="501.3" cy="225.2" r="1.1" fill="#b45399" opacity="0.7"/>
<circle cx="503.5" cy="225.2" r="1.1" fill="#a64991" opacity="0.7"/>
<path d="M390.8,218.8 395.1,219.1 397.4,216.5 397.3,214.2 395.8,212.1 390.4,212.4 389.5,216.8Z" fill="#ca62a9"/>
<circle cx="394.6" cy="216.2" r="1.4" fill="#ad4c98" opacity="0.7"/>
<circle cx="394.3" cy="216.6" r="1.6" fill="#da81c0" opacity="0.7"/>
<path d="M456.6,234.7 461.4,238.5 464.1,237.8 465.2,236.4 465.6,234.8 464.9,232.3 462.8,230.6 457.0,232.7Z" fill="#c3599d"/>
<circle cx="462.4" cy="233.8" r="1.2" fill="#ac4890" opacity="0.7"/>
<circle cx="461.5" cy="235.3" r="1.0" fill="#a7448d" opacity="0.7"/>
<path d="M498.5,217.0 499.3,218.6 500.6,219.7 503.1,220.3 504.9,219.9 505.8,219.1 506.1,213.7 502.0,212.6 498.7,216.1Z" fill="#bf4b9b"/>
<ellipse cx="503.6" cy="215.5" rx="1.8" ry="1.4" fill="#ecb4d8" opacity="0.85"/>
<circle cx="501.7" cy="216.1" r="1.1" fill="#cb63ad" opacity="0.7"/>
<circle cx="502.4" cy="215.4" r="1.2" fill="#9c3186" opacity="0.7"/>
<path d="M385.3,250.3 383.9,251.2 383.1,252.6 382.8,254.1 383.2,255.6 384.2,256.9 385.5,257.7 387.1,258.0 388.6,257.6 390.6,252.9 388.9,250.5 387.4,250.0Z" fill="#c963ad"/>
<ellipse cx="386.8" cy="253.6" rx="1.5" ry="1.6" fill="#ecadda" opacity="0.85"/>
<circle cx="385.6" cy="255.0" r="1.2" fill="#d376bc" opacity="0.7"/>
<circle cx="385.3" cy="252.3" r="1.7" fill="#b252a0" opacity="0.7"/>
<path d="M388.6,299.4 391.0,294.4 388.5,290.6 386.0,290.4 384.5,291.3 383.4,292.6 382.9,294.3 383.0,296.0 383.8,297.6 385.2,298.9 386.8,299.4Z" fill="#c7559f"/>
<circle cx="385.8" cy="295.1" r="1.2" fill="#a63d8c" opacity="0.7"/>
<circle cx="386.9" cy="294.4" r="1.4" fill="#d674b6" opacity="0.7"/>
<path d="M382.8,235.2 387.2,232.5 387.2,228.3 386.8,227.8 382.1,227.0 380.6,228.5 380.1,230.2 380.2,232.1 381.0,233.7Z" fill="#b94d96"/>
<circle cx="383.8" cy="229.2" r="1.4" fill="#9c3785" opacity="0.7"/>
<circle cx="383.8" cy="230.3" r="1.5" fill="#c667a9" opacity="0.7"/>
<path d="M458.8,244.3 459.3,245.9 460.6,247.1 462.0,247.7 464.2,247.4 466.0,245.8 466.0,241.9 463.9,239.9 461.6,239.6Z" fill="#bb53a0"/>
<circle cx="460.9" cy="243.5" r="1.1" fill="#ca71b6" opacity="0.7"/>
<circle cx="461.8" cy="243.3" r="1.2" fill="#9a3a8d" opacity="0.7"/>
<path d="M434.1,243.5 434.5,244.6 435.8,245.8 437.3,246.5 439.0,246.5 441.0,245.3 441.9,241.3 439.5,238.4 437.1,237.9Z" fill="#ba5296"/>
<circle cx="438.2" cy="240.9" r="1.1" fill="#993983" opacity="0.7"/>
<circle cx="436.9" cy="241.0" r="1.3" fill="#a44289" opacity="0.7"/>
<path d="M397.4,219.9 398.7,223.3 401.3,223.9 401.7,223.7 402.9,220.9 402.5,219.5 401.6,218.4 400.6,217.8 399.3,217.7Z" fill="#7f2c84"/>
<path d="M450.8,276.7 451.4,276.9 455.2,275.4 455.8,274.3 455.4,271.1 454.5,269.9 453.1,269.1 451.6,269.0 450.2,269.6 449.1,270.7 448.4,272.2 448.4,273.2Z" fill="#ba5899"/>
<ellipse cx="452.4" cy="272.7" rx="1.7" ry="1.8" fill="#e3a6ce" opacity="0.85"/>
<circle cx="453.1" cy="273.4" r="1.0" fill="#ca78b1" opacity="0.7"/>
<circle cx="451.8" cy="274.4" r="1.5" fill="#ca78b1" opacity="0.7"/>
<path d="M431.9,220.0 431.7,220.4 431.7,223.4 434.4,224.7 436.1,224.1 437.0,223.3 437.5,221.7 435.1,219.4Z" fill="#994a9c"/>
<path d="M428.9,273.3 430.0,274.6 431.3,275.1 435.5,273.7 436.0,272.6 433.8,267.4 431.1,266.8 429.5,267.7Z" fill="#c966a4"/>
<circle cx="433.0" cy="271.0" r="1.5" fill="#d986bc" opacity="0.7"/>
<circle cx="432.2" cy="270.1" r="1.0" fill="#b15496" opacity="0.7"/>
<path d="M410.8,228.4 411.3,230.9 415.1,233.5 417.8,232.3 419.1,229.6 418.8,227.3 417.9,226.0 412.9,225.6Z" fill="#c35f9f"/>
<ellipse cx="415.4" cy="229.1" rx="1.5" ry="1.5" fill="#e2a7d0" opacity="0.85"/>
<circle cx="414.0" cy="227.3" r="1.6" fill="#b05094" opacity="0.7"/>
<circle cx="414.2" cy="228.4" r="1.3" fill="#cd73ae" opacity="0.7"/>
<path d="M500.9,205.5 501.0,203.1 496.3,199.5 494.8,199.8 493.4,206.3 493.7,207.0 494.4,207.3 500.1,206.4Z" fill="#cc65ad"/>
<circle cx="496.0" cy="203.9" r="1.1" fill="#de88c7" opacity="0.7"/>
<circle cx="496.2" cy="203.0" r="1.1" fill="#ac4d9a" opacity="0.7"/>
<path d="M505.5,282.4 504.0,284.7 504.0,286.2 504.6,287.7 505.7,288.7 507.1,289.2 508.6,289.2 510.0,288.5 511.7,285.9 511.7,284.3 511.2,282.9 510.4,282.2Z" fill="#ca5ba1"/>
<circle cx="507.2" cy="284.2" r="1.3" fill="#b64c95" opacity="0.7"/>
<circle cx="506.6" cy="284.8" r="1.4" fill="#dc7ebb" opacity="0.7"/>
<path d="M482.1,218.2 482.7,220.8 484.7,222.2 486.4,222.4 490.3,220.6 487.9,214.8 485.9,214.7 484.2,215.4Z" fill="#c461a4"/>
<circle cx="487.8" cy="217.2" r="1.2" fill="#aa4e95" opacity="0.7"/>
<circle cx="487.8" cy="217.2" r="1.4" fill="#d17cb8" opacity="0.7"/>
<path d="M425.0,247.7 427.7,250.7 429.2,250.9 431.2,250.3 432.3,249.1 432.9,246.8 431.6,244.2 428.4,243.0 426.4,243.8 425.3,244.9Z" fill="#c964a6"/>
<circle cx="428.9" cy="247.9" r="1.0" fill="#b8579c" opacity="0.7"/>
<circle cx="428.3" cy="246.1" r="1.5" fill="#af5097" opacity="0.7"/>
<path d="M389.1,232.0 392.3,233.7 392.8,233.6 393.9,232.2 393.1,229.1 389.6,228.2 389.1,228.8Z" fill="#803386"/>
<path d="M413.3,254.8 413.9,255.0 418.6,252.5 418.7,250.5 416.3,248.0 411.1,249.5 410.9,251.2Z" fill="#c85ba2"/>
<circle cx="414.1" cy="251.5" r="1.6" fill="#d77ab9" opacity="0.7"/>
<circle cx="415.7" cy="252.3" r="1.6" fill="#d779b8" opacity="0.7"/>
<path d="M446.2,281.3 449.0,280.6 450.1,278.0 446.8,272.9 446.0,272.7 444.2,273.1 442.8,274.2 441.8,275.8 441.6,277.5 441.9,278.6Z" fill="#c1509f"/>
<ellipse cx="446.1" cy="277.2" rx="1.5" ry="1.8" fill="#eeb3da" opacity="0.85"/>
<circle cx="447.4" cy="277.7" r="1.5" fill="#cb64ae" opacity="0.7"/>
<circle cx="445.8" cy="276.0" r="1.4" fill="#ab4092" opacity="0.7"/>
<path d="M437.7,214.3 437.1,217.2 438.8,218.7 440.6,218.7 442.2,215.8 441.7,214.4 440.2,213.4Z" fill="#8b3c93"/>
<path d="M414.5,295.4 413.3,294.7 411.9,294.5 410.5,295.0 409.3,296.0 408.5,298.9 409.9,301.4 412.7,302.2 415.1,300.7 415.8,298.9Z" fill="#b35095"/>
<circle cx="411.7" cy="298.0" r="1.6" fill="#c16caa" opacity="0.7"/>
<circle cx="411.4" cy="297.6" r="1.2" fill="#9c3f88" opacity="0.7"/>
<path d="M443.6,232.2 443.6,231.5 440.8,228.1 439.4,227.9 437.7,228.3 436.3,229.3 435.2,232.4 436.6,234.9 439.5,236.0Z" fill="#c25399"/>
<circle cx="439.3" cy="231.2" r="1.0" fill="#a13b86" opacity="0.7"/>
<circle cx="438.1" cy="231.5" r="1.3" fill="#ab428c" opacity="0.7"/>
<path d="M491.9,227.5 492.3,226.4 492.2,225.2 491.7,224.1 490.9,223.3 490.3,223.1 487.3,224.4 487.0,225.2 487.1,227.4 488.2,228.9 489.8,229.2Z" fill="#944293"/>
<path d="M459.0,222.4 459.6,221.3 457.6,217.6 456.7,217.7 454.5,219.2 454.0,221.0 454.4,222.2 455.1,223.0 455.6,223.3Z" fill="#7b2a84"/>
<path d="M422.0,258.9 422.2,257.2 418.9,253.9 413.9,256.5 414.3,258.9 416.2,261.1Z" fill="#b24392"/>
<ellipse cx="417.7" cy="257.9" rx="1.3" ry="1.8" fill="#ecb0d8" opacity="0.85"/>
<circle cx="420.0" cy="256.7" r="0.9" fill="#bd58a2" opacity="0.7"/>
<circle cx="419.9" cy="256.2" r="0.9" fill="#bf5ca5" opacity="0.7"/>
<path d="M436.3,211.6 439.3,210.5 439.6,208.3 439.2,207.5 435.5,206.4 434.8,206.9 434.4,209.8Z" fill="#99479a"/>
<path d="M497.8,236.9 499.4,239.0 505.7,237.8 504.6,231.6 503.9,231.3 500.1,231.5Z" fill="#d26cae"/>
<ellipse cx="502.2" cy="235.1" rx="1.3" ry="1.5" fill="#edb3d9" opacity="0.85"/>
<circle cx="502.8" cy="234.0" r="1.5" fill="#dc7fbd" opacity="0.7"/>
<circle cx="503.8" cy="235.1" r="1.0" fill="#df87c2" opacity="0.7"/>
<path d="M471.4,222.6 471.1,226.5 475.3,228.6 476.6,228.3 477.8,222.8 475.5,221.2 473.3,221.2Z" fill="#af408a"/>
<ellipse cx="474.4" cy="224.9" rx="1.9" ry="1.3" fill="#edb2d9" opacity="0.85"/>
<circle cx="475.6" cy="224.1" r="1.2" fill="#bf60a2" opacity="0.7"/>
<circle cx="475.5" cy="224.1" r="1.5" fill="#9a307e" opacity="0.7"/>
<path d="M449.4,213.9 449.4,214.4 451.7,216.8 452.1,216.9 454.9,215.1 455.3,213.4 454.7,211.6 451.6,210.8Z" fill="#78307e"/>
<path d="M459.5,280.6 460.1,280.9 463.5,280.5 465.0,279.3 465.9,277.9 466.1,276.3 465.1,274.3 463.1,273.3 461.4,273.4 458.4,275.3 457.9,276.5Z" fill="#c663a9"/>
<circle cx="462.5" cy="276.2" r="1.1" fill="#d785c3" opacity="0.7"/>
<circle cx="460.8" cy="278.3" r="1.6" fill="#a94d98" opacity="0.7"/>
<path d="M506.0,246.5 506.6,248.1 507.8,249.2 509.4,249.8 511.0,249.7 512.4,249.0 513.5,247.8 514.0,246.3 513.9,244.7 513.2,243.2 512.0,242.1 510.5,241.5 508.9,241.6 508.1,242.0Z" fill="#c865a5"/>
<ellipse cx="509.9" cy="246.0" rx="1.3" ry="1.3" fill="#eaacd4" opacity="0.85"/>
<circle cx="509.1" cy="247.3" r="1.2" fill="#a64c91" opacity="0.7"/>
<circle cx="509.6" cy="246.4" r="1.6" fill="#b6579a" opacity="0.7"/>
<path d="M480.3,211.2 475.7,211.5 475.2,212.0 474.8,215.0 475.5,216.5 476.6,217.6 479.4,218.1 480.8,217.4 481.8,216.3 482.3,214.3Z" fill="#bc5c9b"/>
<ellipse cx="479.0" cy="214.7" rx="1.7" ry="1.4" fill="#eaaed6" opacity="0.85"/>
<circle cx="479.5" cy="213.5" r="1.3" fill="#ca77af" opacity="0.7"/>
<circle cx="479.3" cy="215.0" r="1.1" fill="#984186" opacity="0.7"/>
<path d="M446.7,258.2 447.7,254.9 446.2,252.3 443.5,251.6 440.8,252.9 439.5,256.7 440.8,259.1 443.1,260.0Z" fill="#ba4d98"/>
<ellipse cx="443.2" cy="256.3" rx="1.7" ry="1.3" fill="#e9b0d5" opacity="0.85"/>
<circle cx="444.4" cy="255.1" r="1.1" fill="#a43c8b" opacity="0.7"/>
<circle cx="442.2" cy="257.0" r="1.1" fill="#963283" opacity="0.7"/>
<path d="M509.2,205.7 510.7,206.0 512.2,205.6 513.6,204.0 513.9,202.5 513.7,200.8 512.9,199.1 511.6,197.9 509.4,197.3 507.3,198.1 506.5,199.3 506.1,200.8 506.7,203.4Z" fill="#b55095"/>
<circle cx="509.7" cy="200.5" r="1.2" fill="#c36caa" opacity="0.7"/>
<circle cx="510.3" cy="202.2" r="1.3" fill="#a3438b" opacity="0.7"/>
<path d="M401.2,271.8 401.6,271.8 404.3,269.6 404.1,268.3 401.8,266.5 399.1,267.9 399.1,270.4Z" fill="#682575"/>
<path d="M476.8,233.5 477.3,234.7 480.4,235.4 482.4,232.3 482.0,231.4 477.9,230.4 477.3,230.9Z" fill="#8e3b8f"/>
<path d="M510.5,281.1 511.7,279.6 511.9,278.0 511.5,276.5 510.4,275.2 509.0,274.4 507.3,274.2 505.7,274.6 504.4,275.6 503.6,276.9 503.4,278.5 504.7,281.1Z" fill="#c861a4"/>
<circle cx="507.8" cy="277.7" r="1.6" fill="#aa4a92" opacity="0.7"/>
<circle cx="508.1" cy="276.6" r="1.6" fill="#a94992" opacity="0.7"/>
<path d="M458.2,284.0 457.6,283.7 453.3,284.7 452.7,288.9 456.8,290.9 459.0,289.9 459.6,288.9Z" fill="#c04d9b"/>
<circle cx="456.9" cy="288.5" r="1.4" fill="#a63a8c" opacity="0.7"/>
<circle cx="455.7" cy="285.6" r="1.2" fill="#9d3387" opacity="0.7"/>
<path d="M427.7,211.5 428.3,211.8 432.1,210.3 432.9,205.2 431.6,204.5 429.7,204.4 426.1,206.8 425.9,207.4Z" fill="#b33c8b"/>
<ellipse cx="430.1" cy="208.2" rx="1.5" ry="1.8" fill="#ecb4db" opacity="0.85"/>
<circle cx="431.3" cy="207.9" r="1.5" fill="#c159a0" opacity="0.7"/>
<circle cx="429.9" cy="209.8" r="0.9" fill="#c35ca3" opacity="0.7"/>
<path d="M398.6,285.7 399.3,286.7 400.4,287.1 402.0,286.8 403.1,286.1 403.5,285.3 402.9,281.3 400.9,281.0 399.3,282.0 398.7,282.8Z" fill="#712e7a"/>
<path d="M506.1,220.5 505.5,221.9 507.3,226.6 510.4,227.5 511.8,227.0 513.1,226.0 513.9,223.6 512.9,220.8 506.7,220.1Z" fill="#ca63ad"/>
<circle cx="510.9" cy="222.2" r="1.7" fill="#ae4e9d" opacity="0.7"/>
<circle cx="509.7" cy="224.4" r="1.5" fill="#d578bd" opacity="0.7"/>
<path d="M459.1,258.1 458.8,260.1 459.3,261.8 463.6,264.6 464.7,264.5 465.8,263.6 466.5,262.2 466.6,260.4 466.2,258.7 464.6,256.7 462.8,256.0Z" fill="#b44b92"/>
<circle cx="463.4" cy="258.6" r="1.5" fill="#a33e88" opacity="0.7"/>
<circle cx="461.3" cy="260.8" r="1.5" fill="#90307d" opacity="0.7"/>
<path d="M447.9,221.9 449.1,220.5 449.3,218.8 447.0,216.3 445.3,216.4 443.3,220.1 443.6,221.2Z" fill="#792b80"/>
<path d="M443.2,300.7 443.7,301.7 444.6,302.4 445.6,302.6 446.8,302.3 447.9,301.2 448.3,300.2 448.0,298.0 446.5,296.8 444.3,297.2 443.5,298.1Z" fill="#8c3c90"/>
<path d="M423.4,258.7 426.3,262.3 428.2,262.6 429.1,262.2 432.0,257.3 430.1,254.3 428.7,253.6 423.7,257.3Z" fill="#c763a6"/>
<circle cx="428.3" cy="257.7" r="1.6" fill="#d177b5" opacity="0.7"/>
<circle cx="427.5" cy="258.5" r="1.0" fill="#d987c1" opacity="0.7"/>
<path d="M428.8,232.4 431.2,232.9 433.4,231.9 434.6,229.9 434.3,227.1 430.4,225.2 428.1,226.3 427.3,227.6Z" fill="#b74c93"/>
<ellipse cx="431.0" cy="229.5" rx="1.6" ry="1.5" fill="#e2a7cd" opacity="0.85"/>
<circle cx="430.7" cy="227.4" r="1.4" fill="#c161a3" opacity="0.7"/>
<circle cx="431.0" cy="229.9" r="1.1" fill="#9b3783" opacity="0.7"/>
<path d="M473.2,300.5 474.2,302.4 476.4,303.6 478.3,303.6 480.6,302.4 479.6,295.1 477.5,294.6 476.4,294.9Z" fill="#c0509c"/>
<circle cx="477.3" cy="299.8" r="1.6" fill="#ad4291" opacity="0.7"/>
<circle cx="478.7" cy="297.4" r="1.0" fill="#a53c8c" opacity="0.7"/>
<path d="M396.4,278.3 398.5,277.9 399.9,276.3 399.7,274.3 397.5,272.9 394.6,274.1 394.0,275.3 394.1,276.4 394.5,277.3Z" fill="#6f2b78"/>
<path d="M396.7,295.2 392.0,295.4 390.3,299.1 391.8,301.6 393.2,302.4 394.8,302.5 397.4,300.9 398.2,298.0Z" fill="#b04e91"/>
<ellipse cx="393.6" cy="297.7" rx="1.8" ry="1.6" fill="#ecb0d8" opacity="0.85"/>
<circle cx="395.1" cy="297.3" r="1.6" fill="#bc65a3" opacity="0.7"/>
<circle cx="395.3" cy="297.5" r="1.0" fill="#9e4086" opacity="0.7"/>
<path d="M462.0,223.1 464.1,227.1 467.4,227.4 469.7,226.0 470.2,222.4 466.8,220.4Z" fill="#c351a0"/>
<circle cx="468.0" cy="225.0" r="1.2" fill="#d371b8" opacity="0.7"/>
<circle cx="465.6" cy="222.3" r="1.3" fill="#ad4093" opacity="0.7"/>
<path d="M436.0,295.5 434.4,300.1 434.6,300.9 436.3,302.3 437.9,302.6 440.8,301.6 441.4,296.7 439.0,295.1Z" fill="#c3589f"/>
<circle cx="439.6" cy="298.6" r="1.6" fill="#ab4691" opacity="0.7"/>
<circle cx="439.3" cy="298.6" r="1.6" fill="#d57cba" opacity="0.7"/>
<path d="M390.0,257.5 390.2,258.2 394.0,260.7 397.5,257.8 397.7,256.9 396.5,254.3 392.0,253.8 391.5,254.1Z" fill="#c05ea2"/>
<ellipse cx="394.0" cy="256.4" rx="1.4" ry="1.3" fill="#efb3db" opacity="0.85"/>
<circle cx="392.8" cy="257.4" r="1.2" fill="#d07fbb" opacity="0.7"/>
<circle cx="392.9" cy="256.6" r="1.0" fill="#cc76b4" opacity="0.7"/>
<path d="M388.3,281.7 386.8,280.7 385.1,280.7 384.2,281.2 383.6,282.1 383.2,283.2 383.4,284.3 383.9,285.4 384.8,286.1 385.9,286.4 387.0,286.3 388.0,285.8 388.2,285.4Z" fill="#722e7c"/>
<path d="M498.2,240.4 497.5,238.9 496.3,237.7 492.0,237.3 490.7,238.3 489.5,240.5 489.6,242.2 490.3,243.8 491.5,245.0 493.2,245.6 494.9,245.6 496.5,244.9 497.6,243.7Z" fill="#bc519b"/>
<ellipse cx="494.1" cy="240.8" rx="1.4" ry="1.7" fill="#e8aed7" opacity="0.85"/>
<circle cx="493.5" cy="242.8" r="1.4" fill="#c766ab" opacity="0.7"/>
<circle cx="495.0" cy="241.4" r="1.5" fill="#c666ab" opacity="0.7"/>
<path d="M501.9,202.4 502.9,202.3 504.4,201.3 505.8,197.3 505.1,195.6 503.9,194.3 502.2,193.5 500.4,193.4 498.7,194.1 497.4,195.3 496.6,198.2Z" fill="#b0428b"/>
<circle cx="501.9" cy="199.5" r="1.5" fill="#c061a2" opacity="0.7"/>
<circle cx="501.9" cy="199.3" r="1.1" fill="#9e3581" opacity="0.7"/>
<path d="M412.2,213.3 412.8,215.4 414.2,216.7 418.1,217.1 420.0,215.6 418.1,210.6 414.0,210.1Z" fill="#c24ea0"/>
<ellipse cx="416.4" cy="213.1" rx="1.9" ry="1.9" fill="#e6add5" opacity="0.85"/>
<circle cx="417.6" cy="214.9" r="1.0" fill="#b14196" opacity="0.7"/>
<circle cx="415.5" cy="212.4" r="1.2" fill="#ce67b2" opacity="0.7"/>
<path d="M506.5,259.4 505.8,261.5 506.7,264.0 511.9,264.7 513.2,263.7 513.8,262.2 513.8,260.6 513.2,259.2 512.1,258.1 511.4,257.9Z" fill="#be5b9d"/>
<circle cx="511.4" cy="261.6" r="1.3" fill="#a74a90" opacity="0.7"/>
<circle cx="510.3" cy="261.5" r="1.4" fill="#9d438a" opacity="0.7"/>
<path d="M402.5,196.0 402.9,201.2 405.2,202.2 407.5,201.7 409.1,197.5 408.4,195.9 407.2,195.0 405.7,194.6 404.2,194.8Z" fill="#bf5ea2"/>
<circle cx="405.6" cy="198.2" r="1.5" fill="#9f468f" opacity="0.7"/>
<circle cx="405.7" cy="199.6" r="1.2" fill="#cb76b4" opacity="0.7"/>
<path d="M414.0,208.7 418.8,209.3 421.5,205.9 420.6,203.9 416.4,202.9 413.1,206.0Z" fill="#b95c9d"/>
<circle cx="416.1" cy="208.1" r="1.2" fill="#c370ac" opacity="0.7"/>
<circle cx="417.6" cy="205.4" r="1.2" fill="#cb80b8" opacity="0.7"/>
<path d="M494.2,208.4 493.5,209.4 493.6,210.9 497.8,214.9 498.4,214.8 501.2,211.8 500.5,208.4 499.6,207.7Z" fill="#ca66a9"/>
<circle cx="496.8" cy="209.5" r="1.3" fill="#db87c2" opacity="0.7"/>
<circle cx="497.2" cy="209.8" r="1.4" fill="#d882be" opacity="0.7"/>
<path d="M481.1,200.6 483.0,202.2 485.1,202.4 487.9,198.3 487.6,197.0 486.6,195.8 485.1,195.0 482.1,195.2 481.1,196.2Z" fill="#b44c95"/>
<circle cx="484.1" cy="197.3" r="1.4" fill="#9a3886" opacity="0.7"/>
<circle cx="485.6" cy="198.4" r="1.3" fill="#9c3a87" opacity="0.7"/>
<path d="M419.4,249.5 419.9,249.6 424.0,247.5 423.8,244.9 423.0,243.6 418.6,242.7 418.0,243.1 417.0,246.7Z" fill="#c35b9f"/>
<circle cx="420.5" cy="247.7" r="1.1" fill="#a0418b" opacity="0.7"/>
<circle cx="418.9" cy="246.7" r="1.7" fill="#a94890" opacity="0.7"/>
<path d="M474.4,209.6 475.3,210.5 479.7,209.9 481.7,205.7 481.5,205.1 480.3,204.0 478.8,203.5 475.5,204.0Z" fill="#b53f8d"/>
<ellipse cx="478.2" cy="207.1" rx="1.6" ry="1.7" fill="#e7aed3" opacity="0.85"/>
<circle cx="479.2" cy="206.2" r="1.2" fill="#c660a6" opacity="0.7"/>
<circle cx="477.8" cy="206.9" r="1.1" fill="#bf539c" opacity="0.7"/>
<path d="M416.8,201.4 420.2,202.5 420.7,202.2 423.1,197.6 422.2,195.8 420.8,195.0 419.1,194.7 417.3,195.1 415.9,196.0 415.4,197.0Z" fill="#c969a8"/>
<circle cx="419.4" cy="199.2" r="1.3" fill="#b3589b" opacity="0.7"/>
<circle cx="419.7" cy="200.3" r="1.6" fill="#ac5397" opacity="0.7"/>
<path d="M409.4,219.8 410.9,218.6 411.5,217.2 410.9,214.4 410.3,213.8 405.6,213.3 404.0,215.7 404.5,218.6 405.8,219.8Z" fill="#ba5a99"/>
<circle cx="407.0" cy="215.9" r="1.4" fill="#a64b8d" opacity="0.7"/>
<circle cx="408.2" cy="216.1" r="1.1" fill="#cb7bb2" opacity="0.7"/>
<path d="M430.8,201.3 432.1,201.4 433.3,200.8 434.5,198.3 434.2,196.7 432.9,195.6 431.8,195.5 430.7,195.8 429.7,196.5 429.1,197.5 429.0,198.1Z" fill="#6a2373"/>
<path d="M396.5,231.2 398.1,231.8 399.7,231.4 400.9,227.6 400.5,227.1 398.0,226.3 395.9,228.1Z" fill="#8e3d8f"/>
<path d="M413.1,282.6 415.6,282.5 417.9,280.4 415.6,275.0 413.7,274.9 412.2,275.5 410.4,278.0 410.4,278.8Z" fill="#c564a8"/>
<ellipse cx="413.8" cy="278.5" rx="1.9" ry="1.8" fill="#edb0d7" opacity="0.85"/>
<circle cx="415.3" cy="278.8" r="1.0" fill="#d788c3" opacity="0.7"/>
<circle cx="413.4" cy="279.9" r="1.2" fill="#d584c0" opacity="0.7"/>
<path d="M387.9,270.2 388.5,269.5 388.5,267.5 384.9,263.6 383.2,263.8 381.0,265.4 380.3,266.8 380.2,268.4 381.6,270.9Z" fill="#bb4694"/>
<circle cx="384.7" cy="268.0" r="1.3" fill="#9a2d81" opacity="0.7"/>
<circle cx="384.3" cy="266.3" r="1.2" fill="#9e3083" opacity="0.7"/>
<path d="M508.2,214.3 507.9,218.2 511.8,218.6 512.5,218.0 513.1,217.0 513.3,215.9 512.7,214.3 511.8,213.6 510.6,213.4Z" fill="#752478"/>
<path d="M442.7,240.6 447.4,239.7 448.2,238.7 446.3,233.3 445.7,232.9 444.5,232.8 440.6,236.8 440.9,238.3Z" fill="#c4559a"/>
<circle cx="445.1" cy="236.8" r="1.6" fill="#a63e88" opacity="0.7"/>
<circle cx="445.8" cy="236.0" r="1.2" fill="#cd67a7" opacity="0.7"/>
</g>
</g>
<line x1="490.60" y1="289.60" x2="499.40" y2="289.60" stroke="#111" stroke-width="1.6"/>
<rect x="0.5" y="0.5" width="519" height="497" fill="none" stroke="#555" stroke-width="1"/>
</svg>
</body></html>
